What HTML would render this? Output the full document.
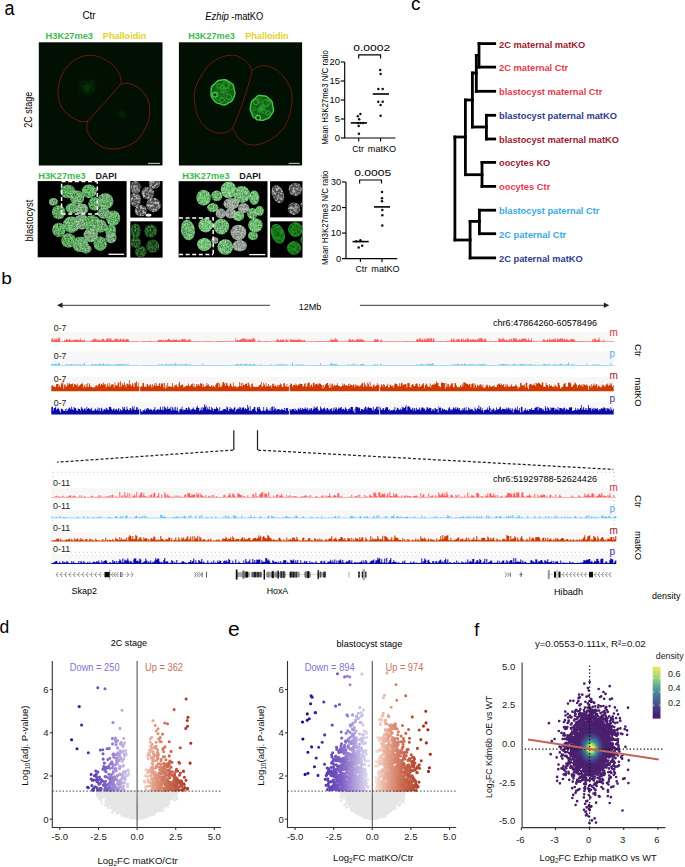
<!DOCTYPE html><html><head><meta charset="utf-8"><style>html,body{margin:0;padding:0;background:#fff;width:685px;height:867px;overflow:hidden}svg text{font-family:"Liberation Sans",sans-serif}</style></head><body><svg width="685" height="867" viewBox="0 0 685 867" style="position:absolute;left:0;top:0">
<rect width="685" height="867" fill="#fff"/>
<defs>
<filter id="spk" x="0" y="0" width="685" height="867" filterUnits="userSpaceOnUse">
 <feTurbulence type="fractalNoise" baseFrequency="0.75" numOctaves="2" seed="4" result="t"/>
 <feColorMatrix in="t" type="matrix" values="0 0 0 0 1  0 0 0 0 1  0 0 0 0 1  0 0 0 3.2 -1.35" result="m"/>
 <feComposite in="m" in2="SourceAlpha" operator="in" result="c"/>
 <feGaussianBlur in="c" stdDeviation="0.35"/>
</filter>
<filter id="spkg" x="0" y="0" width="685" height="867" filterUnits="userSpaceOnUse">
 <feTurbulence type="fractalNoise" baseFrequency="0.6" numOctaves="2" seed="9" result="t"/>
 <feColorMatrix in="t" type="matrix" values="0 0 0 0 0.45  0 0 0 0 0.95  0 0 0 0 0.45  0 0 0 3.0 -1.1" result="m"/>
 <feComposite in="m" in2="SourceAlpha" operator="in"/>
</filter>
<filter id="bl1"><feGaussianBlur stdDeviation="0.5"/></filter>
<filter id="bl4" x="-5%" y="-50%" width="110%" height="200%"><feGaussianBlur stdDeviation="0.4"/></filter>
<filter id="bl7"><feGaussianBlur stdDeviation="0.7"/></filter>
<filter id="mot" x="0" y="0" width="685" height="867" filterUnits="userSpaceOnUse">
 <feTurbulence type="fractalNoise" baseFrequency="0.42" numOctaves="3" seed="12" result="t"/>
 <feColorMatrix in="t" type="matrix" values="0 0 0 0 1  0 0 0 0 1  0 0 0 0 1  0 0 0 3.6 -1.5" result="m"/>
 <feComposite in="m" in2="SourceAlpha" operator="in" result="c"/>
 <feGaussianBlur in="c" stdDeviation="0.45"/>
</filter>
<filter id="motd" x="0" y="0" width="685" height="867" filterUnits="userSpaceOnUse">
 <feTurbulence type="fractalNoise" baseFrequency="0.35" numOctaves="2" seed="31" result="t"/>
 <feColorMatrix in="t" type="matrix" values="0 0 0 0 0  0 0 0 0 0  0 0 0 0 0  0 0 0 3.0 -1.2" result="m"/>
 <feComposite in="m" in2="SourceAlpha" operator="in" result="c"/>
 <feGaussianBlur in="c" stdDeviation="0.5"/>
</filter>
<filter id="bl2"><feGaussianBlur stdDeviation="1.2"/></filter>
<radialGradient id="nucg" cx="50%" cy="50%" r="50%">
 <stop offset="0" stop-color="#1f8f22"/><stop offset="0.78" stop-color="#25a828"/><stop offset="0.9" stop-color="#48e048"/><stop offset="1" stop-color="#2a9a2a" stop-opacity="0.3"/>
</radialGradient>
<radialGradient id="nucf" cx="50%" cy="50%" r="50%">
 <stop offset="0" stop-color="#0e4a10" stop-opacity="0.9"/><stop offset="1" stop-color="#0a300b" stop-opacity="0"/>
</radialGradient>
<linearGradient id="vir" x1="0" y1="1" x2="0" y2="0">
 <stop offset="0" stop-color="#461462"/><stop offset="0.2" stop-color="#463c82"/><stop offset="0.35" stop-color="#46648f"/><stop offset="0.5" stop-color="#4a8496"/>
 <stop offset="0.62" stop-color="#5ea895"/><stop offset="0.75" stop-color="#8ccd84"/><stop offset="0.88" stop-color="#c6df6e"/><stop offset="1" stop-color="#f3e460"/>
</linearGradient>
</defs>
<text x="4.4" y="14.9" font-size="20" fill="#000" font-weight="normal" text-anchor="start" textLength="10" lengthAdjust="spacingAndGlyphs">a</text>
<text x="82.4" y="19.4" font-size="10" fill="#000" font-weight="normal" text-anchor="start" textLength="13.2" lengthAdjust="spacingAndGlyphs">Ctr</text>
<text x="205.2" y="19.5" font-size="10" fill="#000" font-weight="normal" text-anchor="start" font-style="italic" textLength="23.6" lengthAdjust="spacingAndGlyphs">Ezhip</text>
<text x="231.3" y="19.5" font-size="10" fill="#000" font-weight="normal" text-anchor="start" textLength="32" lengthAdjust="spacingAndGlyphs">-matKO</text>
<text x="45.6" y="39" font-size="9.4" fill="#3dba4c" font-weight="bold" text-anchor="start" textLength="47.4" lengthAdjust="spacingAndGlyphs">H3K27me3</text>
<text x="102.8" y="39" font-size="9.4" fill="#e2d21c" font-weight="bold" text-anchor="start" textLength="43.6" lengthAdjust="spacingAndGlyphs">Phalloidin</text>
<text x="188.2" y="39" font-size="9.4" fill="#3dba4c" font-weight="bold" text-anchor="start" textLength="46.7" lengthAdjust="spacingAndGlyphs">H3K27me3</text>
<text x="245.2" y="39" font-size="9.4" fill="#e2d21c" font-weight="bold" text-anchor="start" textLength="43.5" lengthAdjust="spacingAndGlyphs">Phalloidin</text>
<rect x="38.8" y="42.3" width="123.7" height="123.2" fill="#021003"/>
<g filter="url(#bl1)">
<g fill="url(#nucf)" opacity="0.7"><ellipse cx="87.3" cy="87.5" rx="11.0" ry="10.0" transform="rotate(-30 87.3 87.5)"/></g>
<g fill="none" stroke="#124414" stroke-width="0.7" opacity="0.5"><circle cx="84" cy="84" r="3"/><circle cx="91" cy="89" r="2.5"/><circle cx="86" cy="92" r="2.2"/><circle cx="92" cy="82" r="2"/></g>
<g fill="url(#nucf)" opacity="0.5"><ellipse cx="122" cy="114" rx="7.0" ry="6.0" transform="rotate(0 122 114)"/></g>
<g fill="none" stroke="#781a0e" stroke-width="0.9"><path d="M121 79.4 C119.5 71 112 60 94.6 55.7 C84 54 74 58 66 68 C59 77 57 90 58.4 98.6 C60 107 66 116 80 121.4 C84 122 87 121.5 88.2 120.5"/><path d="M88.2 120.5 C98 110 110 97 120.5 84.3 C121.5 82.5 121.5 81 121 79.4"/><path d="M120.5 84.3 C123 83.5 126 83.3 129.2 83.6 C137 85 145 92 148.5 101 C151 110 149.5 121 145.7 127.8 C141 136 137 142 131.1 144.2 C124 148 116 149.5 111 148.8 C103 148.5 95 144 91 138 C87.5 133 86.5 129 86.9 127.8 C86.8 124 87.2 122 88.2 120.5"/></g>
</g>
<path d="M148 163.4 H159.9" stroke="#bbb" stroke-width="1.1"/>
<rect x="178.9" y="42.3" width="123.2" height="123.2" fill="#021003"/>
<g filter="url(#bl1)">
<g fill="none" stroke="#701a0e" stroke-width="0.9"><path d="M251.9 71.2 C251 66 246 59 236.4 55.7 C226 53 212 60 205.4 69.4 C198 80 193 90 194.4 98.6 C195 108 197 116 199.9 120.5 C204 127 212 133 220 133.2 C226 133.5 230 131 232.7 127.8"/><path d="M232.7 127.8 C240 112 247 92 251.9 71.2"/><path d="M251.9 71.2 C255 67.5 259 65.5 263.8 65.7 C271 66 278 70 282 74.8 C289 83 292 90 292 96.7 C292.5 108 289 120 283.8 127.8 C277 137 265 144 254.6 145.1 C246 145.5 240 141 236.4 135.1 C234.5 132 233 130 232.7 127.8"/></g>
</g>
<g filter="url(#bl1)">
<path d="M234.9 92.2 L235.0 93.3 L234.8 94.4 L234.5 95.4 L234.1 96.4 L233.7 97.4 L233.3 98.4 L232.8 99.4 L232.3 100.3 L231.6 101.2 L230.7 101.8 L229.7 102.3 L228.8 102.7 L227.9 103.2 L227.0 103.8 L226.1 104.4 L225.1 104.8 L224.0 105.0 L222.9 104.9 L221.9 104.6 L220.9 104.1 L219.9 103.7 L218.9 103.4 L217.9 103.2 L216.9 102.9 L216.0 102.4 L215.1 101.8 L214.4 101.0 L213.8 100.1 L213.2 99.2 L212.5 98.4 L211.9 97.5 L211.4 96.5 L211.1 95.5 L211.0 94.4 L211.0 93.3 L211.1 92.2 L211.2 91.1 L211.2 90.1 L211.1 88.9 L211.3 87.8 L211.6 86.8 L212.3 85.8 L213.1 85.1 L213.9 84.4 L214.7 83.7 L215.5 83.0 L216.2 82.3 L216.9 81.5 L217.8 80.9 L218.8 80.4 L219.8 80.2 L220.8 80.1 L221.9 80.0 L222.9 79.8 L224.0 79.7 L225.0 79.7 L226.1 80.0 L227.0 80.4 L227.9 81.0 L228.8 81.7 L229.7 82.2 L230.6 82.8 L231.5 83.3 L232.4 84.0 L233.1 84.8 L233.5 85.8 L233.8 87.0 L233.9 88.1 L234.1 89.1 L234.3 90.1 L234.6 91.1Z" fill="#156018" stroke="#42cc44" stroke-width="1.4"/>
<g fill="none" stroke="#2a9a2e" stroke-width="0.7" stroke-opacity="0.8"><circle cx="223.1" cy="96.9" r="1.5"/><circle cx="223.8" cy="90.3" r="2.2"/><circle cx="226.1" cy="90.5" r="2.9"/><circle cx="222.3" cy="87.1" r="2.3"/><circle cx="220.1" cy="90.5" r="3.0"/><circle cx="215.6" cy="97.4" r="2.7"/><circle cx="225.2" cy="92.6" r="2.1"/><circle cx="223.5" cy="90.7" r="2.3"/><circle cx="218.2" cy="97.6" r="2.9"/><circle cx="223.0" cy="90.4" r="2.6"/><circle cx="215.9" cy="95.2" r="2.0"/><circle cx="230.3" cy="87.1" r="2.7"/><circle cx="226.3" cy="85.4" r="2.3"/><circle cx="226.9" cy="100.4" r="2.0"/></g>
<g fill="none" stroke="#33b236" stroke-width="0.8"><circle cx="226" cy="85" r="3.5"/><circle cx="229" cy="97" r="2.6"/><circle cx="219" cy="86" r="2.2"/><circle cx="222" cy="100" r="2.4"/></g>
<circle cx="214.9" cy="94.7" r="2.3" fill="#0c3a0e" stroke="#46d446" stroke-width="1.1"/>
<path d="M273.2 107.9 L273.5 109.0 L273.5 110.1 L273.3 111.2 L272.9 112.2 L272.3 113.1 L271.7 114.0 L271.1 114.9 L270.5 115.7 L269.9 116.6 L269.3 117.4 L268.5 118.1 L267.5 118.5 L266.6 118.9 L265.7 119.2 L264.7 119.6 L263.8 120.0 L262.8 120.3 L261.8 120.4 L260.8 120.3 L259.8 119.9 L258.9 119.5 L258.0 119.0 L257.1 118.7 L256.1 118.5 L255.1 118.2 L254.1 117.7 L253.3 116.9 L252.7 116.0 L252.3 115.0 L251.9 114.0 L251.5 113.0 L251.1 112.1 L250.7 111.1 L250.4 110.1 L250.2 109.0 L250.3 107.9 L250.5 106.8 L250.7 105.8 L250.9 104.8 L251.0 103.7 L251.3 102.6 L251.7 101.6 L252.3 100.8 L253.1 100.1 L253.9 99.4 L254.7 98.8 L255.4 98.1 L256.1 97.3 L256.9 96.5 L257.7 95.9 L258.7 95.5 L259.7 95.5 L260.8 95.5 L261.8 95.7 L262.8 95.8 L263.8 95.9 L264.8 96.0 L265.8 96.2 L266.7 96.7 L267.5 97.3 L268.3 98.0 L269.0 98.7 L269.8 99.3 L270.6 100.0 L271.3 100.8 L271.9 101.6 L272.3 102.7 L272.5 103.7 L272.6 104.8 L272.7 105.8 L272.9 106.9Z" fill="#156018" stroke="#42cc44" stroke-width="1.4"/>
<g fill="none" stroke="#2a9a2e" stroke-width="0.7" stroke-opacity="0.8"><circle cx="262.3" cy="107.8" r="2.5"/><circle cx="253.7" cy="108.8" r="1.9"/><circle cx="263.0" cy="107.2" r="3.0"/><circle cx="260.5" cy="108.8" r="1.8"/><circle cx="261.6" cy="107.7" r="1.9"/><circle cx="262.4" cy="107.9" r="1.5"/><circle cx="262.1" cy="110.4" r="2.6"/><circle cx="255.4" cy="111.9" r="2.8"/><circle cx="268.3" cy="102.5" r="2.2"/><circle cx="258.2" cy="100.8" r="2.2"/><circle cx="264.6" cy="111.6" r="2.2"/><circle cx="262.1" cy="108.7" r="1.5"/><circle cx="259.5" cy="100.8" r="2.4"/><circle cx="261.6" cy="108.0" r="1.2"/></g>
<g fill="none" stroke="#33b236" stroke-width="0.8"><circle cx="266" cy="103" r="3.4"/><circle cx="256" cy="102" r="2.8"/><circle cx="268" cy="113" r="2.2"/><circle cx="260" cy="110" r="2"/></g>
<circle cx="258.1" cy="117.7" r="2.3" fill="#0c3a0e" stroke="#46d446" stroke-width="1.1"/>
</g>
<path d="M288.7 163.4 H299.7" stroke="#bbb" stroke-width="1.1"/>
<text x="32.2" y="127.8" font-size="10.3" fill="#000" font-weight="normal" text-anchor="start" transform="rotate(-90 32.2 127.8)" textLength="36" lengthAdjust="spacingAndGlyphs">2C stage</text>
<text x="38.3" y="179.4" font-size="9.4" fill="#3dba4c" font-weight="bold" text-anchor="start" textLength="47.3" lengthAdjust="spacingAndGlyphs">H3K27me3</text>
<text x="95.4" y="179.4" font-size="9.4" fill="#1a1a1a" font-weight="bold" text-anchor="start" textLength="21.3" lengthAdjust="spacingAndGlyphs">DAPI</text>
<text x="182.3" y="179.4" font-size="9.4" fill="#3dba4c" font-weight="bold" text-anchor="start" textLength="47.3" lengthAdjust="spacingAndGlyphs">H3K27me3</text>
<text x="239.2" y="179.4" font-size="9.4" fill="#1a1a1a" font-weight="bold" text-anchor="start" textLength="21.7" lengthAdjust="spacingAndGlyphs">DAPI</text>
<text x="32.6" y="241.4" font-size="10.3" fill="#000" font-weight="normal" text-anchor="start" transform="rotate(-90 32.6 241.4)" textLength="41.7" lengthAdjust="spacingAndGlyphs">blastocyst</text>
<rect x="37.7" y="181.1" width="88.9" height="76.2" fill="#000"/>
<svg x="37.7" y="181.1" width="88.9" height="76.2" viewBox="37.7 181.1 88.9 76.2" overflow="hidden">
<g filter="url(#bl7)"><g fill="#5cb360"><ellipse cx="67.9" cy="191.5" rx="7.48" ry="6.82" transform="rotate(0 67.9 191.5)" fill="#3a9a40"/><ellipse cx="77" cy="197.5" rx="7.26" ry="7.04" transform="rotate(0 77 197.5)" fill="#4c9c50"/><ellipse cx="89.2" cy="191.2" rx="7.48" ry="6.82" transform="rotate(0 89.2 191.2)" fill="#40a446"/><ellipse cx="53.4" cy="201.7" rx="4.4" ry="3.74" transform="rotate(0 53.4 201.7)" fill="#5a9a5e"/><ellipse cx="58.7" cy="212.2" rx="6.6" ry="7.04" transform="rotate(0 58.7 212.2)" fill="#379439"/><ellipse cx="71.8" cy="208.3" rx="6.16" ry="5.06" transform="rotate(0 71.8 208.3)" fill="#4aa44e"/><ellipse cx="81.7" cy="208.9" rx="6.6" ry="5.5" transform="rotate(0 81.7 208.9)" fill="#68a06a"/><ellipse cx="94.5" cy="203.8" rx="6.16" ry="6.6" transform="rotate(0 94.5 203.8)" fill="#3a9a40"/><ellipse cx="105.3" cy="201.3" rx="8.14" ry="8.14" transform="rotate(0 105.3 201.3)" fill="#4c9c50"/><ellipse cx="113.2" cy="218.1" rx="7.04" ry="7.7" transform="rotate(0 113.2 218.1)" fill="#40a446"/><ellipse cx="103.6" cy="213" rx="6.16" ry="5.5" transform="rotate(0 103.6 213)" fill="#5a9a5e"/><ellipse cx="58.7" cy="229.9" rx="6.6" ry="7.26" transform="rotate(0 58.7 229.9)" fill="#379439"/><ellipse cx="71.2" cy="224.7" rx="8.36" ry="8.14" transform="rotate(0 71.2 224.7)" fill="#4aa44e"/><ellipse cx="81.7" cy="222" rx="7.92" ry="7.48" transform="rotate(0 81.7 222)" fill="#68a06a"/><ellipse cx="92.2" cy="223.4" rx="8.36" ry="8.14" transform="rotate(0 92.2 223.4)" fill="#3a9a40"/><ellipse cx="100.3" cy="226" rx="6.6" ry="6.6" transform="rotate(0 100.3 226)" fill="#4c9c50"/><ellipse cx="110.6" cy="230.6" rx="5.5" ry="6.16" transform="rotate(0 110.6 230.6)" fill="#40a446"/><ellipse cx="111" cy="237.5" rx="5.5" ry="5.72" transform="rotate(0 111 237.5)" fill="#5a9a5e"/><ellipse cx="68.5" cy="240.4" rx="7.26" ry="7.26" transform="rotate(0 68.5 240.4)" fill="#379439"/><ellipse cx="80.4" cy="244.4" rx="8.14" ry="7.7" transform="rotate(0 80.4 244.4)" fill="#4aa44e"/><ellipse cx="90.9" cy="235.2" rx="7.26" ry="7.04" transform="rotate(0 90.9 235.2)" fill="#68a06a"/><ellipse cx="100.2" cy="243.7" rx="6.6" ry="7.26" transform="rotate(0 100.2 243.7)" fill="#3a9a40"/><ellipse cx="86" cy="249" rx="5.5" ry="4.4" transform="rotate(0 86 249)" fill="#4c9c50"/></g></g>
<g fill="#000" filter="url(#motd)" opacity="0.35"><ellipse cx="67.9" cy="191.5" rx="7.48" ry="6.82" transform="rotate(0 67.9 191.5)"/><ellipse cx="77" cy="197.5" rx="7.26" ry="7.04" transform="rotate(0 77 197.5)"/><ellipse cx="89.2" cy="191.2" rx="7.48" ry="6.82" transform="rotate(0 89.2 191.2)"/><ellipse cx="53.4" cy="201.7" rx="4.4" ry="3.74" transform="rotate(0 53.4 201.7)"/><ellipse cx="58.7" cy="212.2" rx="6.6" ry="7.04" transform="rotate(0 58.7 212.2)"/><ellipse cx="71.8" cy="208.3" rx="6.16" ry="5.06" transform="rotate(0 71.8 208.3)"/><ellipse cx="81.7" cy="208.9" rx="6.6" ry="5.5" transform="rotate(0 81.7 208.9)"/><ellipse cx="94.5" cy="203.8" rx="6.16" ry="6.6" transform="rotate(0 94.5 203.8)"/><ellipse cx="105.3" cy="201.3" rx="8.14" ry="8.14" transform="rotate(0 105.3 201.3)"/><ellipse cx="113.2" cy="218.1" rx="7.04" ry="7.7" transform="rotate(0 113.2 218.1)"/><ellipse cx="103.6" cy="213" rx="6.16" ry="5.5" transform="rotate(0 103.6 213)"/><ellipse cx="58.7" cy="229.9" rx="6.6" ry="7.26" transform="rotate(0 58.7 229.9)"/><ellipse cx="71.2" cy="224.7" rx="8.36" ry="8.14" transform="rotate(0 71.2 224.7)"/><ellipse cx="81.7" cy="222" rx="7.92" ry="7.48" transform="rotate(0 81.7 222)"/><ellipse cx="92.2" cy="223.4" rx="8.36" ry="8.14" transform="rotate(0 92.2 223.4)"/><ellipse cx="100.3" cy="226" rx="6.6" ry="6.6" transform="rotate(0 100.3 226)"/><ellipse cx="110.6" cy="230.6" rx="5.5" ry="6.16" transform="rotate(0 110.6 230.6)"/><ellipse cx="111" cy="237.5" rx="5.5" ry="5.72" transform="rotate(0 111 237.5)"/><ellipse cx="68.5" cy="240.4" rx="7.26" ry="7.26" transform="rotate(0 68.5 240.4)"/><ellipse cx="80.4" cy="244.4" rx="8.14" ry="7.7" transform="rotate(0 80.4 244.4)"/><ellipse cx="90.9" cy="235.2" rx="7.26" ry="7.04" transform="rotate(0 90.9 235.2)"/><ellipse cx="100.2" cy="243.7" rx="6.6" ry="7.26" transform="rotate(0 100.2 243.7)"/><ellipse cx="86" cy="249" rx="5.5" ry="4.4" transform="rotate(0 86 249)"/></g>
<g fill="#fff" filter="url(#spk)" opacity="0.45"><ellipse cx="67.9" cy="191.5" rx="7.48" ry="6.82" transform="rotate(0 67.9 191.5)"/><ellipse cx="77" cy="197.5" rx="7.26" ry="7.04" transform="rotate(0 77 197.5)"/><ellipse cx="89.2" cy="191.2" rx="7.48" ry="6.82" transform="rotate(0 89.2 191.2)"/><ellipse cx="53.4" cy="201.7" rx="4.4" ry="3.74" transform="rotate(0 53.4 201.7)"/><ellipse cx="58.7" cy="212.2" rx="6.6" ry="7.04" transform="rotate(0 58.7 212.2)"/><ellipse cx="71.8" cy="208.3" rx="6.16" ry="5.06" transform="rotate(0 71.8 208.3)"/><ellipse cx="81.7" cy="208.9" rx="6.6" ry="5.5" transform="rotate(0 81.7 208.9)"/><ellipse cx="94.5" cy="203.8" rx="6.16" ry="6.6" transform="rotate(0 94.5 203.8)"/><ellipse cx="105.3" cy="201.3" rx="8.14" ry="8.14" transform="rotate(0 105.3 201.3)"/><ellipse cx="113.2" cy="218.1" rx="7.04" ry="7.7" transform="rotate(0 113.2 218.1)"/><ellipse cx="103.6" cy="213" rx="6.16" ry="5.5" transform="rotate(0 103.6 213)"/><ellipse cx="58.7" cy="229.9" rx="6.6" ry="7.26" transform="rotate(0 58.7 229.9)"/><ellipse cx="71.2" cy="224.7" rx="8.36" ry="8.14" transform="rotate(0 71.2 224.7)"/><ellipse cx="81.7" cy="222" rx="7.92" ry="7.48" transform="rotate(0 81.7 222)"/><ellipse cx="92.2" cy="223.4" rx="8.36" ry="8.14" transform="rotate(0 92.2 223.4)"/><ellipse cx="100.3" cy="226" rx="6.6" ry="6.6" transform="rotate(0 100.3 226)"/><ellipse cx="110.6" cy="230.6" rx="5.5" ry="6.16" transform="rotate(0 110.6 230.6)"/><ellipse cx="111" cy="237.5" rx="5.5" ry="5.72" transform="rotate(0 111 237.5)"/><ellipse cx="68.5" cy="240.4" rx="7.26" ry="7.26" transform="rotate(0 68.5 240.4)"/><ellipse cx="80.4" cy="244.4" rx="8.14" ry="7.7" transform="rotate(0 80.4 244.4)"/><ellipse cx="90.9" cy="235.2" rx="7.26" ry="7.04" transform="rotate(0 90.9 235.2)"/><ellipse cx="100.2" cy="243.7" rx="6.6" ry="7.26" transform="rotate(0 100.2 243.7)"/><ellipse cx="86" cy="249" rx="5.5" ry="4.4" transform="rotate(0 86 249)"/></g>
<g fill="#fff" filter="url(#spkg)" opacity="0.4"><ellipse cx="67.9" cy="191.5" rx="7.48" ry="6.82" transform="rotate(0 67.9 191.5)"/><ellipse cx="77" cy="197.5" rx="7.26" ry="7.04" transform="rotate(0 77 197.5)"/><ellipse cx="89.2" cy="191.2" rx="7.48" ry="6.82" transform="rotate(0 89.2 191.2)"/><ellipse cx="53.4" cy="201.7" rx="4.4" ry="3.74" transform="rotate(0 53.4 201.7)"/><ellipse cx="58.7" cy="212.2" rx="6.6" ry="7.04" transform="rotate(0 58.7 212.2)"/><ellipse cx="71.8" cy="208.3" rx="6.16" ry="5.06" transform="rotate(0 71.8 208.3)"/><ellipse cx="81.7" cy="208.9" rx="6.6" ry="5.5" transform="rotate(0 81.7 208.9)"/><ellipse cx="94.5" cy="203.8" rx="6.16" ry="6.6" transform="rotate(0 94.5 203.8)"/><ellipse cx="105.3" cy="201.3" rx="8.14" ry="8.14" transform="rotate(0 105.3 201.3)"/><ellipse cx="113.2" cy="218.1" rx="7.04" ry="7.7" transform="rotate(0 113.2 218.1)"/><ellipse cx="103.6" cy="213" rx="6.16" ry="5.5" transform="rotate(0 103.6 213)"/><ellipse cx="58.7" cy="229.9" rx="6.6" ry="7.26" transform="rotate(0 58.7 229.9)"/><ellipse cx="71.2" cy="224.7" rx="8.36" ry="8.14" transform="rotate(0 71.2 224.7)"/><ellipse cx="81.7" cy="222" rx="7.92" ry="7.48" transform="rotate(0 81.7 222)"/><ellipse cx="92.2" cy="223.4" rx="8.36" ry="8.14" transform="rotate(0 92.2 223.4)"/><ellipse cx="100.3" cy="226" rx="6.6" ry="6.6" transform="rotate(0 100.3 226)"/><ellipse cx="110.6" cy="230.6" rx="5.5" ry="6.16" transform="rotate(0 110.6 230.6)"/><ellipse cx="111" cy="237.5" rx="5.5" ry="5.72" transform="rotate(0 111 237.5)"/><ellipse cx="68.5" cy="240.4" rx="7.26" ry="7.26" transform="rotate(0 68.5 240.4)"/><ellipse cx="80.4" cy="244.4" rx="8.14" ry="7.7" transform="rotate(0 80.4 244.4)"/><ellipse cx="90.9" cy="235.2" rx="7.26" ry="7.04" transform="rotate(0 90.9 235.2)"/><ellipse cx="100.2" cy="243.7" rx="6.6" ry="7.26" transform="rotate(0 100.2 243.7)"/><ellipse cx="86" cy="249" rx="5.5" ry="4.4" transform="rotate(0 86 249)"/></g>
</svg>
<path d="M61.6 214.1 V181.5 M61.6 214.1 H97.3 V181.5 M61.6 181.6 H97.3" stroke="#fff" stroke-width="1.5" stroke-dasharray="4 2.6" fill="none"/>
<path d="M108.5 254.3 H124.1" stroke="#fff" stroke-width="1.3"/>
<rect x="130.3" y="181.1" width="32.3" height="36.5" fill="#000"/>
<svg x="130.3" y="181.1" width="32.3" height="36.5" viewBox="130.3 181.1 32.3 36.5" overflow="hidden">
<g filter="url(#bl1)"><g fill="#4c4c4c"><ellipse cx="135.6" cy="187.5" rx="5.06" ry="6.6" transform="rotate(0 135.6 187.5)"/><ellipse cx="147.8" cy="193.1" rx="6.38" ry="6.38" transform="rotate(0 147.8 193.1)"/><ellipse cx="154.5" cy="183.7" rx="5.72" ry="5.06" transform="rotate(0 154.5 183.7)"/><ellipse cx="135.6" cy="199.7" rx="5.28" ry="7.26" transform="rotate(0 135.6 199.7)"/><ellipse cx="153.5" cy="204.9" rx="7.26" ry="7.26" transform="rotate(0 153.5 204.9)"/><ellipse cx="140.8" cy="210.6" rx="5.94" ry="5.72" transform="rotate(0 140.8 210.6)"/></g><ellipse cx="148.5" cy="215" rx="3" ry="1.6" fill="#eee"/></g>
<g fill="#fff" filter="url(#mot)" opacity="0.6"><ellipse cx="135.6" cy="187.5" rx="5.06" ry="6.6" transform="rotate(0 135.6 187.5)"/><ellipse cx="147.8" cy="193.1" rx="6.38" ry="6.38" transform="rotate(0 147.8 193.1)"/><ellipse cx="154.5" cy="183.7" rx="5.72" ry="5.06" transform="rotate(0 154.5 183.7)"/><ellipse cx="135.6" cy="199.7" rx="5.28" ry="7.26" transform="rotate(0 135.6 199.7)"/><ellipse cx="153.5" cy="204.9" rx="7.26" ry="7.26" transform="rotate(0 153.5 204.9)"/><ellipse cx="140.8" cy="210.6" rx="5.94" ry="5.72" transform="rotate(0 140.8 210.6)"/></g>
</svg>
<rect x="130.3" y="221.3" width="32.3" height="36.3" fill="#000"/>
<svg x="130.3" y="221.3" width="32.3" height="36.3" viewBox="130.3 221.3 32.3 36.3" overflow="hidden">
<g filter="url(#bl1)"><g fill="#0c3a0d"><ellipse cx="135.6" cy="231" rx="5.06" ry="7.7" transform="rotate(0 135.6 231)"/><ellipse cx="150.7" cy="231" rx="6.38" ry="6.6" transform="rotate(0 150.7 231)"/><ellipse cx="135.6" cy="242.3" rx="5.28" ry="5.5" transform="rotate(0 135.6 242.3)"/><ellipse cx="152.6" cy="246" rx="6.6" ry="6.6" transform="rotate(0 152.6 246)"/><ellipse cx="140.8" cy="251.7" rx="5.94" ry="5.72" transform="rotate(0 140.8 251.7)"/></g></g>
<g fill="#fff" filter="url(#spkg)" opacity="0.35"><ellipse cx="135.6" cy="231" rx="5.06" ry="7.7" transform="rotate(0 135.6 231)"/><ellipse cx="150.7" cy="231" rx="6.38" ry="6.6" transform="rotate(0 150.7 231)"/><ellipse cx="135.6" cy="242.3" rx="5.28" ry="5.5" transform="rotate(0 135.6 242.3)"/><ellipse cx="152.6" cy="246" rx="6.6" ry="6.6" transform="rotate(0 152.6 246)"/><ellipse cx="140.8" cy="251.7" rx="5.94" ry="5.72" transform="rotate(0 140.8 251.7)"/></g>
</svg>
<rect x="178.6" y="181.2" width="88.9" height="76.2" fill="#000"/>
<svg x="178.6" y="181.2" width="88.9" height="76.2" viewBox="178.6 181.2 88.9 76.2" overflow="hidden">
<g filter="url(#bl7)"><g fill="#52b556"><ellipse cx="203.6" cy="197.7" rx="7.13" ry="7.78" transform="rotate(0 203.6 197.7)" fill="#4bb050"/><ellipse cx="216.8" cy="195.8" rx="5.62" ry="5.18" transform="rotate(0 216.8 195.8)" fill="#45a24a"/><ellipse cx="228.6" cy="189.9" rx="7.78" ry="8.42" transform="rotate(0 228.6 189.9)" fill="#5cba60"/><ellipse cx="241.7" cy="194.5" rx="8.53" ry="8.53" transform="rotate(0 241.7 194.5)" fill="#50a854"/><ellipse cx="254.2" cy="197.7" rx="5.18" ry="7.13" transform="rotate(0 254.2 197.7)" fill="#4bb050"/><ellipse cx="212.8" cy="207.6" rx="5.62" ry="4.32" transform="rotate(0 212.8 207.6)" fill="#45a24a"/><ellipse cx="238.4" cy="216.1" rx="5.62" ry="4.97" transform="rotate(0 238.4 216.1)" fill="#5cba60"/><ellipse cx="252.2" cy="213.5" rx="4.97" ry="5.62" transform="rotate(0 252.2 213.5)" fill="#50a854"/><ellipse cx="259.5" cy="210.9" rx="4.32" ry="4.97" transform="rotate(0 259.5 210.9)" fill="#4bb050"/><ellipse cx="187.9" cy="230" rx="6.91" ry="10.37" transform="rotate(-10 187.9 230)" fill="#45a24a"/><ellipse cx="205.6" cy="225.3" rx="7.13" ry="7.13" transform="rotate(0 205.6 225.3)" fill="#5cba60"/><ellipse cx="221.4" cy="226.6" rx="7.78" ry="7.78" transform="rotate(0 221.4 226.6)" fill="#50a854"/><ellipse cx="255.5" cy="225.3" rx="7.13" ry="7.13" transform="rotate(0 255.5 225.3)" fill="#4bb050"/><ellipse cx="252.9" cy="235.8" rx="4.97" ry="4.32" transform="rotate(0 252.9 235.8)" fill="#45a24a"/><ellipse cx="204.3" cy="244.4" rx="7.13" ry="6.48" transform="rotate(0 204.3 244.4)" fill="#5cba60"/><ellipse cx="225.3" cy="247" rx="7.78" ry="7.78" transform="rotate(0 225.3 247)" fill="#50a854"/></g><g fill="#98a498"><ellipse cx="231.2" cy="203.7" rx="7.78" ry="5.62" transform="rotate(0 231.2 203.7)"/><ellipse cx="220.7" cy="213.5" rx="4.97" ry="4.97" transform="rotate(0 220.7 213.5)"/><ellipse cx="230.6" cy="213.5" rx="5.62" ry="4.97" transform="rotate(0 230.6 213.5)"/><ellipse cx="243.7" cy="208.3" rx="5.62" ry="4.97" transform="rotate(0 243.7 208.3)"/><ellipse cx="238.4" cy="232.6" rx="7.78" ry="7.78" transform="rotate(0 238.4 232.6)"/><ellipse cx="239.8" cy="245.7" rx="7.13" ry="5.62" transform="rotate(0 239.8 245.7)"/><ellipse cx="214.8" cy="240.4" rx="3.46" ry="3.24" transform="rotate(0 214.8 240.4)"/></g></g>
<g fill="#000" filter="url(#motd)" opacity="0.3"><ellipse cx="203.6" cy="197.7" rx="7.13" ry="7.78" transform="rotate(0 203.6 197.7)"/><ellipse cx="216.8" cy="195.8" rx="5.62" ry="5.18" transform="rotate(0 216.8 195.8)"/><ellipse cx="228.6" cy="189.9" rx="7.78" ry="8.42" transform="rotate(0 228.6 189.9)"/><ellipse cx="241.7" cy="194.5" rx="8.53" ry="8.53" transform="rotate(0 241.7 194.5)"/><ellipse cx="254.2" cy="197.7" rx="5.18" ry="7.13" transform="rotate(0 254.2 197.7)"/><ellipse cx="212.8" cy="207.6" rx="5.62" ry="4.32" transform="rotate(0 212.8 207.6)"/><ellipse cx="238.4" cy="216.1" rx="5.62" ry="4.97" transform="rotate(0 238.4 216.1)"/><ellipse cx="252.2" cy="213.5" rx="4.97" ry="5.62" transform="rotate(0 252.2 213.5)"/><ellipse cx="259.5" cy="210.9" rx="4.32" ry="4.97" transform="rotate(0 259.5 210.9)"/><ellipse cx="187.9" cy="230" rx="6.91" ry="10.37" transform="rotate(-10 187.9 230)"/><ellipse cx="205.6" cy="225.3" rx="7.13" ry="7.13" transform="rotate(0 205.6 225.3)"/><ellipse cx="221.4" cy="226.6" rx="7.78" ry="7.78" transform="rotate(0 221.4 226.6)"/><ellipse cx="255.5" cy="225.3" rx="7.13" ry="7.13" transform="rotate(0 255.5 225.3)"/><ellipse cx="252.9" cy="235.8" rx="4.97" ry="4.32" transform="rotate(0 252.9 235.8)"/><ellipse cx="204.3" cy="244.4" rx="7.13" ry="6.48" transform="rotate(0 204.3 244.4)"/><ellipse cx="225.3" cy="247" rx="7.78" ry="7.78" transform="rotate(0 225.3 247)"/><ellipse cx="231.2" cy="203.7" rx="7.78" ry="5.62" transform="rotate(0 231.2 203.7)"/><ellipse cx="220.7" cy="213.5" rx="4.97" ry="4.97" transform="rotate(0 220.7 213.5)"/><ellipse cx="230.6" cy="213.5" rx="5.62" ry="4.97" transform="rotate(0 230.6 213.5)"/><ellipse cx="243.7" cy="208.3" rx="5.62" ry="4.97" transform="rotate(0 243.7 208.3)"/><ellipse cx="238.4" cy="232.6" rx="7.78" ry="7.78" transform="rotate(0 238.4 232.6)"/><ellipse cx="239.8" cy="245.7" rx="7.13" ry="5.62" transform="rotate(0 239.8 245.7)"/><ellipse cx="214.8" cy="240.4" rx="3.46" ry="3.24" transform="rotate(0 214.8 240.4)"/></g>
<g fill="#fff" filter="url(#spk)" opacity="0.45"><ellipse cx="203.6" cy="197.7" rx="7.13" ry="7.78" transform="rotate(0 203.6 197.7)"/><ellipse cx="216.8" cy="195.8" rx="5.62" ry="5.18" transform="rotate(0 216.8 195.8)"/><ellipse cx="228.6" cy="189.9" rx="7.78" ry="8.42" transform="rotate(0 228.6 189.9)"/><ellipse cx="241.7" cy="194.5" rx="8.53" ry="8.53" transform="rotate(0 241.7 194.5)"/><ellipse cx="254.2" cy="197.7" rx="5.18" ry="7.13" transform="rotate(0 254.2 197.7)"/><ellipse cx="212.8" cy="207.6" rx="5.62" ry="4.32" transform="rotate(0 212.8 207.6)"/><ellipse cx="238.4" cy="216.1" rx="5.62" ry="4.97" transform="rotate(0 238.4 216.1)"/><ellipse cx="252.2" cy="213.5" rx="4.97" ry="5.62" transform="rotate(0 252.2 213.5)"/><ellipse cx="259.5" cy="210.9" rx="4.32" ry="4.97" transform="rotate(0 259.5 210.9)"/><ellipse cx="187.9" cy="230" rx="6.91" ry="10.37" transform="rotate(-10 187.9 230)"/><ellipse cx="205.6" cy="225.3" rx="7.13" ry="7.13" transform="rotate(0 205.6 225.3)"/><ellipse cx="221.4" cy="226.6" rx="7.78" ry="7.78" transform="rotate(0 221.4 226.6)"/><ellipse cx="255.5" cy="225.3" rx="7.13" ry="7.13" transform="rotate(0 255.5 225.3)"/><ellipse cx="252.9" cy="235.8" rx="4.97" ry="4.32" transform="rotate(0 252.9 235.8)"/><ellipse cx="204.3" cy="244.4" rx="7.13" ry="6.48" transform="rotate(0 204.3 244.4)"/><ellipse cx="225.3" cy="247" rx="7.78" ry="7.78" transform="rotate(0 225.3 247)"/><ellipse cx="231.2" cy="203.7" rx="7.78" ry="5.62" transform="rotate(0 231.2 203.7)"/><ellipse cx="220.7" cy="213.5" rx="4.97" ry="4.97" transform="rotate(0 220.7 213.5)"/><ellipse cx="230.6" cy="213.5" rx="5.62" ry="4.97" transform="rotate(0 230.6 213.5)"/><ellipse cx="243.7" cy="208.3" rx="5.62" ry="4.97" transform="rotate(0 243.7 208.3)"/><ellipse cx="238.4" cy="232.6" rx="7.78" ry="7.78" transform="rotate(0 238.4 232.6)"/><ellipse cx="239.8" cy="245.7" rx="7.13" ry="5.62" transform="rotate(0 239.8 245.7)"/><ellipse cx="214.8" cy="240.4" rx="3.46" ry="3.24" transform="rotate(0 214.8 240.4)"/></g>
<g fill="#fff" filter="url(#spkg)" opacity="0.5"><ellipse cx="203.6" cy="197.7" rx="7.13" ry="7.78" transform="rotate(0 203.6 197.7)"/><ellipse cx="216.8" cy="195.8" rx="5.62" ry="5.18" transform="rotate(0 216.8 195.8)"/><ellipse cx="228.6" cy="189.9" rx="7.78" ry="8.42" transform="rotate(0 228.6 189.9)"/><ellipse cx="241.7" cy="194.5" rx="8.53" ry="8.53" transform="rotate(0 241.7 194.5)"/><ellipse cx="254.2" cy="197.7" rx="5.18" ry="7.13" transform="rotate(0 254.2 197.7)"/><ellipse cx="212.8" cy="207.6" rx="5.62" ry="4.32" transform="rotate(0 212.8 207.6)"/><ellipse cx="238.4" cy="216.1" rx="5.62" ry="4.97" transform="rotate(0 238.4 216.1)"/><ellipse cx="252.2" cy="213.5" rx="4.97" ry="5.62" transform="rotate(0 252.2 213.5)"/><ellipse cx="259.5" cy="210.9" rx="4.32" ry="4.97" transform="rotate(0 259.5 210.9)"/><ellipse cx="187.9" cy="230" rx="6.91" ry="10.37" transform="rotate(-10 187.9 230)"/><ellipse cx="205.6" cy="225.3" rx="7.13" ry="7.13" transform="rotate(0 205.6 225.3)"/><ellipse cx="221.4" cy="226.6" rx="7.78" ry="7.78" transform="rotate(0 221.4 226.6)"/><ellipse cx="255.5" cy="225.3" rx="7.13" ry="7.13" transform="rotate(0 255.5 225.3)"/><ellipse cx="252.9" cy="235.8" rx="4.97" ry="4.32" transform="rotate(0 252.9 235.8)"/><ellipse cx="204.3" cy="244.4" rx="7.13" ry="6.48" transform="rotate(0 204.3 244.4)"/><ellipse cx="225.3" cy="247" rx="7.78" ry="7.78" transform="rotate(0 225.3 247)"/></g>
</svg>
<path d="M179 218 H213.2 V254.6 M179 254.6 H213.2" stroke="#fff" stroke-width="1.5" stroke-dasharray="4 2.6" fill="none"/>
<path d="M249.3 254.6 H265.3" stroke="#fff" stroke-width="1.3"/>
<rect x="270.1" y="181.2" width="32.4" height="36.2" fill="#000"/>
<svg x="270.1" y="181.2" width="32.4" height="36.2" viewBox="270.1 181.2 32.4 36.2" overflow="hidden">
<g filter="url(#bl1)"><g fill="#4c4c4c"><ellipse cx="277.9" cy="194.1" rx="5.7" ry="9.3" transform="rotate(-20 277.9 194.1)"/><ellipse cx="295.4" cy="189.3" rx="6.6" ry="6.6" transform="rotate(0 295.4 189.3)"/><ellipse cx="294" cy="208.7" rx="6.2" ry="6.2" transform="rotate(0 294 208.7)"/><ellipse cx="302.5" cy="204.5" rx="2.0" ry="2.5" transform="rotate(0 302.5 204.5)"/></g></g>
<g fill="#fff" filter="url(#mot)" opacity="0.6"><ellipse cx="277.9" cy="194.1" rx="5.7" ry="9.3" transform="rotate(-20 277.9 194.1)"/><ellipse cx="295.4" cy="189.3" rx="6.6" ry="6.6" transform="rotate(0 295.4 189.3)"/><ellipse cx="294" cy="208.7" rx="6.2" ry="6.2" transform="rotate(0 294 208.7)"/><ellipse cx="302.5" cy="204.5" rx="2.0" ry="2.5" transform="rotate(0 302.5 204.5)"/></g>
</svg>
<rect x="270.1" y="221.3" width="32.4" height="36.3" fill="#000"/>
<svg x="270.1" y="221.3" width="32.4" height="36.3" viewBox="270.1 221.3 32.4 36.3" overflow="hidden">
<g filter="url(#bl7)"><g fill="#1f8a1f" stroke="#2aa02a" stroke-width="1.0"><ellipse cx="277.9" cy="233.8" rx="6.0" ry="9.6" transform="rotate(-20 277.9 233.8)"/><ellipse cx="295.4" cy="229.5" rx="6.8" ry="6.8" transform="rotate(0 295.4 229.5)"/><ellipse cx="294" cy="248" rx="6.4" ry="6.2" transform="rotate(0 294 248)"/><ellipse cx="302.5" cy="240" rx="1.6" ry="3.0" transform="rotate(0 302.5 240)"/></g></g>
<g fill="#000" filter="url(#motd)" opacity="0.4"><ellipse cx="277.9" cy="233.8" rx="6.0" ry="9.6" transform="rotate(-20 277.9 233.8)"/><ellipse cx="295.4" cy="229.5" rx="6.8" ry="6.8" transform="rotate(0 295.4 229.5)"/><ellipse cx="294" cy="248" rx="6.4" ry="6.2" transform="rotate(0 294 248)"/><ellipse cx="302.5" cy="240" rx="1.6" ry="3.0" transform="rotate(0 302.5 240)"/></g>
</svg>
<g stroke="#000" stroke-width="1.15" fill="none">
<path d="M344.7 62 V138 H395.5"/>
<path d="M340.7 138.00 H344.7"/>
<path d="M340.7 119.00 H344.7"/>
<path d="M340.7 100.00 H344.7"/>
<path d="M340.7 81.00 H344.7"/>
<path d="M340.7 62.00 H344.7"/>
<path d="M358.7 138 V141.5"/>
<path d="M380.6 138 V141.5"/>
<path d="M358.7 58.6 V54.9 H380.6 V58.6"/>
</g>
<text x="339.9" y="141.3" font-size="9.4" fill="#000" font-weight="normal" text-anchor="end">0</text>
<text x="339.9" y="122.3" font-size="9.4" fill="#000" font-weight="normal" text-anchor="end">5</text>
<text x="339.9" y="103.3" font-size="9.4" fill="#000" font-weight="normal" text-anchor="end">10</text>
<text x="339.9" y="84.3" font-size="9.4" fill="#000" font-weight="normal" text-anchor="end">15</text>
<text x="339.9" y="65.3" font-size="9.4" fill="#000" font-weight="normal" text-anchor="end">20</text>
<text x="371.75" y="50.699999999999996" font-size="8.6" fill="#000" font-weight="normal" text-anchor="middle" textLength="37" lengthAdjust="spacingAndGlyphs">0.0002</text>
<path d="M350.8 122.9 H367" stroke="#000" stroke-width="1.6"/>
<path d="M372.7 94 H389" stroke="#000" stroke-width="1.6"/>
<circle cx="380.2" cy="69.9" r="1.25" fill="#111"/>
<circle cx="380.6" cy="74.1" r="1.25" fill="#111"/>
<circle cx="378.3" cy="89.0" r="1.25" fill="#111"/>
<circle cx="382.7" cy="89.0" r="1.25" fill="#111"/>
<circle cx="378.3" cy="101.8" r="1.25" fill="#111"/>
<circle cx="382.7" cy="101.8" r="1.25" fill="#111"/>
<circle cx="380.6" cy="105.0" r="1.25" fill="#111"/>
<circle cx="380.6" cy="115.8" r="1.25" fill="#111"/>
<circle cx="360.4" cy="114.1" r="1.25" fill="#111"/>
<circle cx="357.8" cy="116.2" r="1.25" fill="#111"/>
<circle cx="359.2" cy="119.3" r="1.25" fill="#111"/>
<circle cx="357.8" cy="122.9" r="1.25" fill="#111"/>
<circle cx="360.4" cy="122.9" r="1.25" fill="#111"/>
<circle cx="363.1" cy="122.9" r="1.25" fill="#111"/>
<circle cx="358.7" cy="126.0" r="1.25" fill="#111"/>
<circle cx="358.9" cy="133.7" r="1.25" fill="#111"/>
<text x="352.2" y="151.6" font-size="9.6" fill="#000" font-weight="normal" text-anchor="start" textLength="11.6" lengthAdjust="spacingAndGlyphs">Ctr</text>
<text x="367.8" y="151.6" font-size="9.6" fill="#000" font-weight="normal" text-anchor="start" textLength="28.4" lengthAdjust="spacingAndGlyphs">matKO</text>
<text x="327.7" y="144.7" font-size="8.4" fill="#000" font-weight="normal" text-anchor="start" transform="rotate(-90 327.7 144.7)" textLength="94.5" lengthAdjust="spacingAndGlyphs">Mean H3K27me3 N/C ratio</text>
<g stroke="#000" stroke-width="1.15" fill="none">
<path d="M346 182 V258.6 H397.2"/>
<path d="M342 258.60 H346"/>
<path d="M342 233.07 H346"/>
<path d="M342 207.53 H346"/>
<path d="M342 182.00 H346"/>
<path d="M360.4 258.6 V262.1"/>
<path d="M382 258.6 V262.1"/>
<path d="M359.6 183.5 V180 H381.5 V183.5"/>
</g>
<text x="341.2" y="261.9" font-size="9.4" fill="#000" font-weight="normal" text-anchor="end">0</text>
<text x="341.2" y="236.37" font-size="9.4" fill="#000" font-weight="normal" text-anchor="end">10</text>
<text x="341.2" y="210.83" font-size="9.4" fill="#000" font-weight="normal" text-anchor="end">20</text>
<text x="341.2" y="185.3" font-size="9.4" fill="#000" font-weight="normal" text-anchor="end">30</text>
<text x="372.65000000000003" y="175.8" font-size="8.6" fill="#000" font-weight="normal" text-anchor="middle" textLength="37" lengthAdjust="spacingAndGlyphs">0.0005</text>
<path d="M352.6 241.6 H368.7" stroke="#000" stroke-width="1.6"/>
<path d="M374 206.9 H390" stroke="#000" stroke-width="1.6"/>
<circle cx="382.0" cy="191.9" r="1.25" fill="#111"/>
<circle cx="382.0" cy="198.2" r="1.25" fill="#111"/>
<circle cx="382.0" cy="201.3" r="1.25" fill="#111"/>
<circle cx="382.3" cy="210.1" r="1.25" fill="#111"/>
<circle cx="382.3" cy="215.3" r="1.25" fill="#111"/>
<circle cx="382.3" cy="225.5" r="1.25" fill="#111"/>
<circle cx="356.4" cy="241.3" r="1.25" fill="#111"/>
<circle cx="360.4" cy="240.2" r="1.25" fill="#111"/>
<circle cx="358.7" cy="247.6" r="1.25" fill="#111"/>
<circle cx="362.2" cy="245.8" r="1.25" fill="#111"/>
<text x="355.6" y="271.9" font-size="9.6" fill="#000" font-weight="normal" text-anchor="start" textLength="11.6" lengthAdjust="spacingAndGlyphs">Ctr</text>
<text x="371.3" y="271.9" font-size="9.6" fill="#000" font-weight="normal" text-anchor="start" textLength="28.4" lengthAdjust="spacingAndGlyphs">matKO</text>
<text x="327.7" y="265" font-size="8.4" fill="#000" font-weight="normal" text-anchor="start" transform="rotate(-90 327.7 265)" textLength="94.5" lengthAdjust="spacingAndGlyphs">Mean H3K27me3 N/C ratio</text>
<text x="1.2" y="284.4" font-size="16.5" fill="#000" font-weight="normal" text-anchor="start" textLength="10.6" lengthAdjust="spacingAndGlyphs">b</text>
<g stroke="#222" stroke-width="0.9" fill="none"><path d="M60 305.3 H270"/><path d="M359.9 305.3 H604"/></g>
<path d="M57 305.3 L62.5 302.6 L62.5 308 Z" fill="#222"/><path d="M609.3 305.3 L603.8 302.6 L603.8 308 Z" fill="#222"/>
<text x="298.8" y="310" font-size="8.8" fill="#000" font-weight="normal" text-anchor="start" textLength="22.6" lengthAdjust="spacingAndGlyphs">12Mb</text>
<text x="597" y="326" font-size="8.8" fill="#000" font-weight="normal" text-anchor="end" textLength="104" lengthAdjust="spacingAndGlyphs">chr6:47864260-60578496</text>
<rect x="51.3" y="331.7" width="562.6" height="10.2" fill="#f7f7f7"/>
<path d="M51.3 341.9V338.9h.8V337.9h.8V339.7h.8V340.6h.8V338.2h.8V339.6h.8V338.6h.8V340.0h.8V337.8h.8V338.4h.8V337.6h.8V341.4h.8V341.4h.8V341.3h.8V341.4h.8V341.3h.8V339.7h.8V340.7h.8V339.6h.8V338.8h.8V340.0h.8V339.9h.8V339.2h.8V339.1h.8V340.5h.8V340.3h.8V340.5h.8V339.9h.8V339.6h.8V339.8h.8V340.0h.8V339.2h.8V340.0h.8V339.6h.8V340.3h.8V339.9h.8V338.5h.8V340.2h.8V340.6h.8V339.9h.8V340.5h.8V339.4h.8V341.4h.8V341.3h.8V341.2h.8V341.4h.8V341.4h.8V341.4h.8V340.9h.8V341.4h.8V340.0h.8V340.5h.8V339.1h.8V339.0h.8V338.3h.8V339.6h.8V339.4h.8V340.6h.8V339.1h.8V340.5h.8V339.7h.8V340.1h.8V340.6h.8V338.5h.8V338.9h.8V338.9h.8V340.5h.8V340.6h.8V339.8h.8V338.6h.8V338.2h.8V338.5h.8V339.7h.8V338.1h.8V338.6h.8V339.8h.8V340.3h.8V340.5h.8V340.1h.8V338.7h.8V339.1h.8V338.9h.8V338.4h.8V340.6h.8V338.8h.8V340.0h.8V338.6h.8V338.9h.8V340.2h.8V339.1h.8V338.6h.8V340.1h.8V340.1h.8V338.7h.8V339.3h.8V338.9h.8V339.4h.8V341.3h.8V341.2h.8V341.4h.8V341.4h.8V341.3h.8V341.4h.8V341.2h.8V341.4h.8V341.3h.8V341.3h.8V341.4h.8V341.4h.8V341.3h.8V341.9h.8V341.4h.8V341.4h.8V341.3h.8V341.3h.8V341.2h.8V341.3h.8V341.3h.8V341.3h.8V341.4h.8V341.4h.8V341.2h.8V341.4h.8V340.6h.8V341.4h.8V341.3h.8V341.4h.8V341.4h.8V341.3h.8V341.4h.8V341.4h.8V341.4h.8V341.4h.8V340.0h.8V339.5h.8V340.2h.8V340.0h.8V339.8h.8V339.8h.8V340.7h.8V339.7h.8V340.7h.8V340.1h.8V339.8h.8V340.2h.8V339.5h.8V338.8h.8V339.1h.8V340.0h.8V339.9h.8V339.9h.8V340.3h.8V339.2h.8V339.8h.8V339.6h.8V340.1h.8V339.3h.8V340.4h.8V340.0h.8V340.3h.8V339.8h.8V340.7h.8V339.2h.8V338.9h.8V339.1h.8V339.4h.8V339.0h.8V339.4h.8V340.4h.8V339.3h.8V340.4h.8V339.9h.8V339.5h.8V339.3h.8V340.8h.8V341.4h.8V341.4h.8V341.2h.8V341.2h.8V341.2h.8V341.4h.8V341.3h.8V341.4h.8V341.2h.8V341.3h.8V341.3h.8V341.4h.8V341.4h.8V341.3h.8V341.4h.8V341.4h.8V341.4h.8V341.3h.8V341.4h.8V341.2h.8V341.3h.8V341.3h.8V341.3h.8V341.4h.8V341.4h.8V341.3h.8V341.4h.8V341.4h.8V341.3h.8V341.4h.8V341.4h.8V341.3h.8V341.2h.8V341.2h.8V341.3h.8V341.2h.8V341.4h.8V341.3h.8V341.3h.8V341.3h.8V341.2h.8V341.3h.8V341.4h.8V341.3h.8V341.2h.8V341.2h.8V341.4h.8V341.2h.8V341.4h.8V341.4h.8V341.3h.8V341.4h.8V341.2h.8V341.4h.8V341.4h.8V338.3h.8V340.5h.8V339.7h.8V340.2h.8V340.3h.8V340.0h.8V339.4h.8V338.8h.8V339.2h.8V338.5h.8V338.0h.8V339.1h.8V338.7h.8V339.7h.8V338.5h.8V340.2h.8V339.5h.8V338.9h.8V339.6h.8V339.5h.8V338.8h.8V339.6h.8V337.5h.8V338.5h.8V339.3h.8V341.4h.8V341.4h.8V341.4h.8V341.4h.8V339.7h.8V341.2h.8V341.3h.8V341.3h.8V341.4h.8V341.4h.8V341.3h.8V341.4h.8V341.3h.8V340.9h.8V341.3h.8V341.4h.8V341.3h.8V341.4h.8V341.4h.8V341.2h.8V341.4h.8V341.4h.8V341.4h.8V341.4h.8V341.4h.8V341.3h.8V340.1h.8V338.8h.8V340.2h.8V339.8h.8V340.7h.8V339.8h.8V339.4h.8V340.0h.8V339.4h.8V339.6h.8V340.7h.8V340.7h.8V338.7h.8V339.8h.8V339.9h.8V340.6h.8V341.9h.8V338.9h.8V340.0h.8V339.1h.8V340.0h.8V339.4h.8V339.4h.8V340.1h.8V339.7h.8V339.9h.8V340.0h.8V339.3h.8V339.2h.8V339.5h.8V339.7h.8V340.5h.8V339.5h.8V340.5h.8V340.5h.8V339.8h.8V341.3h.8V341.3h.8V341.4h.8V341.4h.8V341.4h.8V341.4h.8V341.2h.8V341.3h.8V341.3h.8V341.4h.8V341.4h.8V341.2h.8V341.4h.8V341.3h.8V341.3h.8V341.2h.8V341.4h.8V341.2h.8V341.3h.8V341.3h.8V341.3h.8V341.2h.8V341.4h.8V341.2h.8V341.4h.8V341.3h.8V341.3h.8V341.2h.8V341.3h.8V341.2h.8V341.2h.8V340.5h.8V338.8h.8V339.7h.8V339.8h.8V339.8h.8V339.6h.8V339.6h.8V337.9h.8V339.6h.8V339.1h.8V341.2h.8V341.2h.8V341.4h.8V341.2h.8V341.4h.8V341.2h.8V341.2h.8V341.4h.8V341.3h.8V341.4h.8V341.4h.8V341.4h.8V341.3h.8V340.3h.8V338.5h.8V339.5h.8V339.5h.8V340.3h.8V339.1h.8V340.4h.8V340.4h.8V339.6h.8V340.7h.8V339.7h.8V338.8h.8V339.7h.8V338.7h.8V339.7h.8V339.2h.8V338.7h.8V339.9h.8V339.4h.8V340.1h.8V341.3h.8V341.3h.8V341.4h.8V341.2h.8V341.4h.8V341.3h.8V341.4h.8V341.2h.8V341.2h.8V341.4h.8V341.2h.8V341.2h.8V340.6h.8V338.9h.8V339.2h.8V339.4h.8V339.1h.8V339.4h.8V340.8h.8V341.9h.8V340.1h.8V339.3h.8V341.2h.8V341.3h.8V341.4h.8V341.2h.8V341.4h.8V341.4h.8V341.3h.8V341.4h.8V341.4h.8V341.3h.8V341.4h.8V341.4h.8V341.3h.8V341.4h.8V341.3h.8V341.2h.8V341.4h.8V341.4h.8V341.3h.8V341.3h.8V341.4h.8V341.4h.8V341.3h.8V341.4h.8V341.4h.8V341.2h.8V341.3h.8V341.4h.8V341.3h.8V341.2h.8V341.3h.8V341.2h.8V341.3h.8V341.2h.8V341.4h.8V341.4h.8V341.2h.8V341.2h.8V341.3h.8V341.3h.8V341.4h.8V341.2h.8V341.3h.8V339.7h.8V339.0h.8V338.8h.8V340.3h.8V338.2h.8V338.3h.8V339.8h.8V340.1h.8V338.4h.8V340.4h.8V338.7h.8V339.8h.8V338.3h.8V339.8h.8V337.9h.8V338.2h.8V339.7h.8V338.0h.8V338.6h.8V338.3h.8V340.6h.8V338.1h.8V338.7h.8V341.3h.8V341.4h.8V341.4h.8V341.4h.8V341.2h.8V341.2h.8V341.3h.8V341.3h.8V341.2h.8V341.4h.8V341.4h.8V341.3h.8V341.4h.8V341.2h.8V341.2h.8V341.2h.8V341.2h.8V341.3h.8V341.3h.8V341.4h.8V339.5h.8V338.5h.8V340.5h.8V339.0h.8V338.6h.8V340.7h.8V340.6h.8V339.7h.8V339.1h.8V339.3h.8V338.8h.8V339.9h.8V340.4h.8V338.5h.8V338.9h.8V340.5h.8V338.5h.8V340.3h.8V339.4h.8V340.0h.8V338.5h.8V338.4h.8V338.7h.8V340.3h.8V339.5h.8V339.0h.8V340.0h.8V339.0h.8V339.6h.8V339.6h.8V340.1h.8V339.0h.8V340.2h.8V338.8h.8V339.9h.8V338.2h.8V338.5h.8V338.3h.8V338.1h.8V338.3h.8V339.7h.8V340.4h.8V339.1h.8V337.9h.8V340.1h.8V341.3h.8V341.4h.8V341.4h.8V341.3h.8V341.4h.8V341.3h.8V341.2h.8V341.4h.8V341.3h.8V341.4h.8V341.3h.8V341.0h.8V341.4h.8V341.3h.8V341.3h.8V338.1h.8V338.5h.8V339.4h.8V339.2h.8V338.6h.8V339.4h.8V338.0h.8V339.6h.8V340.4h.8V339.5h.8V339.8h.8V340.6h.8V340.3h.8V338.8h.8V340.4h.8V338.5h.8V339.2h.8V340.5h.8V338.1h.8V338.1h.8V338.6h.8V339.3h.8V338.0h.8V340.2h.8V339.5h.8V340.3h.8V339.1h.8V340.1h.8V338.7h.8V338.8h.8V338.8h.8V338.8h.8V338.2h.8V338.8h.8V338.5h.8V340.3h.8V340.2h.8V338.2h.8V339.9h.8V340.4h.8V340.1h.8V337.9h.8V341.4h.8V341.2h.8V341.3h.8V341.3h.8V341.4h.8V341.2h.8V341.2h.8V341.4h.8V341.3h.8V341.4h.8V341.4h.8V341.4h.8V341.2h.8V340.4h.8V339.0h.8V339.6h.8V340.4h.8V340.6h.8V340.3h.8V338.9h.8V340.4h.8V338.3h.8V340.1h.8V339.5h.8V339.6h.8V339.3h.8V339.8h.8V338.3h.8V339.8h.8V338.5h.8V340.7h.8V338.6h.8V338.8h.8V339.8h.8V338.7h.8V338.2h.8V338.7h.8V338.6h.8V338.4h.8V340.0h.8V338.6h.8V339.7h.8V339.8h.8V338.6h.8V339.7h.8V340.0h.8V340.6h.8V339.2h.8V339.4h.8V338.7h.8V338.9h.8V339.3h.8V338.9h.8V340.4h.8V341.2h.8V341.3h.8V341.2h.8V341.2h.8V341.3h.8V341.3h.8V341.4h.8V341.3h.8V341.4h.8V341.3h.8V341.2h.8V341.3h.8V341.4h.8V341.3h.8V341.4h.8V341.4h.8V341.3h.8V341.4h.8V341.3h.8V341.4h.8V341.2h.8V339.2h.8V340.7h.8V338.3h.8V339.1h.8V338.8h.8V340.2h.8V339.7h.8V340.3h.8V337.3h.8V339.2h.8V341.4h.8V341.2h.8V341.2h.8V341.4h.8V339.6h.8V341.2h.8V341.2h.8V341.4h.8V341.4h.8V341.4h.8V341.4h.8V341.4h.8V341.4h.8V341.3h.8V341.4h.8V341.3h.8V341.4h.8V341.9Z" fill="#fb6161"/>
<rect x="51.3" y="351.5" width="562.6" height="14.1" fill="#f7f7f7"/>
<path d="M51.3 365.6V363.9h.8V364.2h.8V364.6h.8V364.3h.8V364.3h.8V363.7h.8V364.1h.8V364.9h.8V362.5h.8V363.9h.8V363.1h.8V365.0h.8V365.1h.8V365.0h.8V365.1h.8V365.1h.8V364.9h.8V364.4h.8V364.8h.8V364.6h.8V364.4h.8V364.6h.8V364.7h.8V364.7h.8V364.1h.8V364.3h.8V364.4h.8V364.8h.8V364.8h.8V364.3h.8V364.7h.8V364.5h.8V364.7h.8V364.6h.8V364.9h.8V364.2h.8V364.5h.8V365.0h.8V364.5h.8V364.9h.8V364.2h.8V362.8h.8V364.9h.8V364.9h.8V365.1h.8V365.1h.8V365.0h.8V365.0h.8V365.0h.8V365.0h.8V364.1h.8V364.4h.8V364.6h.8V364.7h.8V364.2h.8V364.3h.8V364.8h.8V364.0h.8V364.6h.8V364.8h.8V363.4h.8V364.1h.8V364.6h.8V364.2h.8V364.3h.8V363.5h.8V364.4h.8V364.7h.8V364.0h.8V364.4h.8V364.7h.8V363.9h.8V364.4h.8V364.3h.8V364.9h.8V364.5h.8V364.8h.8V364.8h.8V364.6h.8V364.4h.8V364.6h.8V364.4h.8V364.3h.8V364.3h.8V364.0h.8V364.6h.8V364.3h.8V364.3h.8V364.3h.8V364.3h.8V364.8h.8V364.3h.8V364.6h.8V364.8h.8V364.4h.8V364.6h.8V364.5h.8V365.0h.8V365.1h.8V365.0h.8V365.1h.8V365.1h.8V364.9h.8V365.1h.8V365.0h.8V364.9h.8V365.0h.8V365.0h.8V365.1h.8V365.1h.8V365.6h.8V365.0h.8V365.0h.8V365.1h.8V365.0h.8V365.1h.8V365.1h.8V365.0h.8V365.1h.8V365.1h.8V365.1h.8V365.1h.8V365.0h.8V365.0h.8V365.1h.8V365.0h.8V364.9h.8V365.0h.8V365.1h.8V365.1h.8V364.9h.8V365.1h.8V365.1h.8V364.4h.8V364.8h.8V364.4h.8V364.9h.8V364.1h.8V364.4h.8V364.9h.8V364.7h.8V364.8h.8V364.5h.8V364.5h.8V364.3h.8V364.4h.8V364.6h.8V364.5h.8V364.5h.8V364.7h.8V364.3h.8V364.5h.8V364.4h.8V364.1h.8V364.7h.8V362.7h.8V364.3h.8V364.7h.8V364.6h.8V364.8h.8V364.5h.8V364.3h.8V364.8h.8V364.3h.8V364.8h.8V364.4h.8V364.7h.8V363.8h.8V364.3h.8V364.4h.8V364.3h.8V364.8h.8V364.7h.8V364.5h.8V364.3h.8V364.9h.8V365.0h.8V365.0h.8V365.1h.8V365.1h.8V365.1h.8V365.1h.8V365.0h.8V365.1h.8V365.0h.8V365.1h.8V365.1h.8V365.1h.8V365.0h.8V363.2h.8V364.9h.8V365.1h.8V364.9h.8V365.0h.8V365.0h.8V365.0h.8V365.0h.8V365.1h.8V365.0h.8V365.1h.8V365.0h.8V365.0h.8V365.1h.8V364.9h.8V364.9h.8V365.1h.8V365.0h.8V365.1h.8V365.0h.8V365.1h.8V365.0h.8V364.9h.8V365.1h.8V365.1h.8V364.9h.8V365.0h.8V365.1h.8V365.0h.8V364.9h.8V365.1h.8V365.1h.8V365.1h.8V364.7h.8V364.9h.8V365.0h.8V364.9h.8V365.0h.8V365.0h.8V365.0h.8V365.1h.8V364.4h.8V364.1h.8V364.4h.8V364.2h.8V364.2h.8V364.8h.8V364.1h.8V363.5h.8V364.8h.8V364.7h.8V364.3h.8V364.6h.8V364.1h.8V363.8h.8V364.3h.8V364.4h.8V364.3h.8V364.9h.8V364.0h.8V363.9h.8V364.8h.8V364.8h.8V363.9h.8V364.2h.8V364.3h.8V365.1h.8V365.1h.8V364.9h.8V365.1h.8V365.1h.8V365.1h.8V364.0h.8V365.1h.8V365.0h.8V364.9h.8V365.0h.8V365.1h.8V365.1h.8V365.1h.8V365.1h.8V364.9h.8V365.0h.8V365.1h.8V365.1h.8V364.0h.8V365.1h.8V365.0h.8V364.9h.8V365.0h.8V365.1h.8V365.0h.8V364.3h.8V364.4h.8V364.5h.8V364.9h.8V364.0h.8V364.5h.8V364.2h.8V364.5h.8V364.2h.8V364.3h.8V364.9h.8V364.7h.8V364.3h.8V364.6h.8V364.8h.8V364.7h.8V365.6h.8V364.9h.8V365.0h.8V364.7h.8V362.4h.8V364.6h.8V365.0h.8V364.9h.8V364.5h.8V364.4h.8V364.7h.8V364.6h.8V364.7h.8V364.4h.8V364.7h.8V364.8h.8V364.5h.8V364.9h.8V364.6h.8V364.9h.8V365.0h.8V365.1h.8V365.1h.8V364.9h.8V365.1h.8V365.1h.8V365.0h.8V365.1h.8V365.1h.8V364.9h.8V365.1h.8V365.1h.8V365.1h.8V365.0h.8V365.0h.8V364.9h.8V365.0h.8V364.9h.8V365.1h.8V362.9h.8V364.9h.8V364.9h.8V365.1h.8V365.1h.8V365.0h.8V365.1h.8V365.1h.8V365.1h.8V365.1h.8V364.9h.8V364.9h.8V364.4h.8V363.8h.8V362.6h.8V364.5h.8V364.2h.8V364.1h.8V364.6h.8V363.7h.8V364.0h.8V364.8h.8V365.1h.8V364.9h.8V365.1h.8V365.0h.8V365.1h.8V365.1h.8V365.0h.8V365.1h.8V365.0h.8V365.0h.8V365.0h.8V365.0h.8V364.9h.8V364.1h.8V364.9h.8V364.4h.8V364.9h.8V364.4h.8V364.4h.8V363.6h.8V364.8h.8V364.5h.8V364.8h.8V365.0h.8V364.3h.8V364.9h.8V365.0h.8V365.0h.8V364.1h.8V364.8h.8V364.1h.8V364.1h.8V364.2h.8V365.0h.8V365.0h.8V364.9h.8V364.9h.8V364.9h.8V365.1h.8V364.9h.8V364.9h.8V365.0h.8V365.0h.8V365.1h.8V364.9h.8V364.5h.8V364.4h.8V364.5h.8V364.8h.8V364.8h.8V364.2h.8V364.9h.8V365.6h.8V364.0h.8V364.2h.8V365.1h.8V365.0h.8V365.0h.8V365.0h.8V364.9h.8V365.0h.8V364.9h.8V365.0h.8V365.0h.8V365.1h.8V364.9h.8V365.1h.8V365.0h.8V365.1h.8V365.1h.8V365.0h.8V365.0h.8V365.0h.8V365.0h.8V365.1h.8V365.1h.8V365.0h.8V365.1h.8V364.9h.8V364.9h.8V365.0h.8V364.9h.8V365.0h.8V364.9h.8V365.1h.8V365.0h.8V365.0h.8V365.1h.8V365.1h.8V365.0h.8V365.0h.8V365.1h.8V365.1h.8V365.0h.8V365.0h.8V364.9h.8V365.0h.8V365.0h.8V364.5h.8V364.8h.8V364.8h.8V364.6h.8V364.8h.8V364.3h.8V364.0h.8V364.6h.8V364.5h.8V364.3h.8V364.7h.8V364.6h.8V364.5h.8V364.6h.8V364.0h.8V364.3h.8V364.1h.8V364.0h.8V364.4h.8V364.1h.8V363.1h.8V364.5h.8V364.2h.8V365.1h.8V365.0h.8V365.0h.8V365.0h.8V365.1h.8V365.0h.8V365.1h.8V364.9h.8V365.0h.8V364.9h.8V365.1h.8V365.0h.8V365.0h.8V365.1h.8V365.0h.8V365.0h.8V365.0h.8V365.0h.8V364.9h.8V365.0h.8V364.6h.8V364.7h.8V364.5h.8V364.7h.8V364.6h.8V364.3h.8V364.6h.8V364.3h.8V364.4h.8V364.0h.8V364.3h.8V364.4h.8V364.9h.8V364.0h.8V364.1h.8V364.7h.8V364.8h.8V363.5h.8V364.0h.8V364.5h.8V364.8h.8V364.7h.8V364.4h.8V364.2h.8V364.5h.8V364.4h.8V364.2h.8V364.5h.8V364.3h.8V364.5h.8V364.2h.8V365.0h.8V364.6h.8V364.7h.8V364.4h.8V364.4h.8V364.3h.8V364.6h.8V364.1h.8V364.6h.8V364.1h.8V364.2h.8V364.5h.8V364.2h.8V364.8h.8V365.1h.8V364.9h.8V365.0h.8V364.9h.8V365.0h.8V364.9h.8V364.9h.8V365.0h.8V365.1h.8V365.1h.8V365.1h.8V364.9h.8V365.1h.8V365.1h.8V364.9h.8V364.8h.8V363.9h.8V364.6h.8V364.5h.8V364.5h.8V364.0h.8V364.1h.8V364.5h.8V364.3h.8V364.3h.8V364.4h.8V364.6h.8V364.8h.8V364.3h.8V364.9h.8V364.9h.8V364.7h.8V364.7h.8V363.9h.8V364.2h.8V364.1h.8V364.8h.8V364.7h.8V364.3h.8V364.9h.8V364.2h.8V364.7h.8V364.0h.8V364.4h.8V364.0h.8V364.2h.8V364.2h.8V364.7h.8V364.2h.8V364.4h.8V364.4h.8V364.7h.8V364.7h.8V363.9h.8V364.7h.8V364.2h.8V364.5h.8V365.1h.8V365.1h.8V365.0h.8V364.0h.8V365.1h.8V365.0h.8V365.0h.8V364.9h.8V364.4h.8V365.1h.8V365.1h.8V365.0h.8V365.0h.8V364.1h.8V364.7h.8V363.9h.8V364.3h.8V364.3h.8V364.6h.8V364.8h.8V364.6h.8V364.6h.8V364.4h.8V364.8h.8V364.9h.8V364.8h.8V364.7h.8V364.8h.8V364.3h.8V364.1h.8V364.9h.8V364.7h.8V364.7h.8V364.4h.8V364.4h.8V364.0h.8V363.5h.8V364.8h.8V364.4h.8V365.0h.8V364.7h.8V364.3h.8V364.4h.8V364.8h.8V364.3h.8V362.3h.8V364.5h.8V365.0h.8V364.7h.8V364.6h.8V364.5h.8V364.3h.8V364.9h.8V364.4h.8V365.1h.8V365.1h.8V365.1h.8V365.1h.8V365.0h.8V365.1h.8V365.0h.8V364.9h.8V365.0h.8V365.1h.8V365.1h.8V365.1h.8V365.1h.8V365.1h.8V363.7h.8V365.0h.8V364.9h.8V365.1h.8V365.1h.8V364.9h.8V364.9h.8V364.6h.8V364.4h.8V364.6h.8V365.0h.8V364.3h.8V364.7h.8V365.0h.8V364.4h.8V364.6h.8V364.8h.8V365.0h.8V365.0h.8V365.1h.8V364.9h.8V365.0h.8V364.9h.8V365.1h.8V365.1h.8V365.0h.8V365.0h.8V365.1h.8V364.9h.8V365.0h.8V362.7h.8V364.9h.8V364.9h.8V365.1h.8V365.6Z" fill="#55c0f5"/>
<rect x="51.3" y="377.2" width="562.6" height="14.1" fill="#f7f7f7"/>
<path d="M51.3 391.3V385.8h.8V384.9h.8V386.4h.8V386.4h.8V386.6h.8V387.3h.8V383.9h.8V384.1h.8V383.9h.8V387.0h.8V385.2h.8V387.3h.8V382.9h.8V384.4h.8V380.9h.8V388.6h.8V384.5h.8V384.8h.8V387.1h.8V385.7h.8V383.0h.8V384.7h.8V383.1h.8V384.1h.8V384.4h.8V384.0h.8V383.4h.8V387.1h.8V383.8h.8V384.2h.8V384.4h.8V385.3h.8V383.4h.8V386.9h.8V385.2h.8V385.7h.8V384.6h.8V383.9h.8V382.8h.8V384.4h.8V387.6h.8V385.2h.8V387.2h.8V384.1h.8V387.0h.8V383.3h.8V386.9h.8V383.2h.8V385.2h.8V387.1h.8V386.8h.8V387.6h.8V387.3h.8V387.6h.8V386.9h.8V385.5h.8V385.3h.8V386.4h.8V384.8h.8V384.2h.8V383.2h.8V385.7h.8V384.1h.8V383.5h.8V385.1h.8V382.4h.8V384.5h.8V384.0h.8V387.5h.8V385.7h.8V383.4h.8V386.5h.8V383.0h.8V386.7h.8V385.5h.8V384.2h.8V384.3h.8V384.4h.8V387.4h.8V382.5h.8V385.4h.8V385.5h.8V385.6h.8V383.3h.8V382.1h.8V387.3h.8V381.3h.8V386.8h.8V383.0h.8V384.4h.8V385.3h.8V382.3h.8V384.7h.8V387.2h.8V384.0h.8V383.5h.8V384.8h.8V380.3h.8V383.9h.8V385.5h.8V386.0h.8V383.0h.8V384.5h.8V387.0h.8V382.4h.8V383.3h.8V381.2h.8V386.5h.8V382.4h.8V386.5h.8V391.3h.8V387.0h.8V386.2h.8V386.5h.8V382.9h.8V383.1h.8V386.8h.8V386.5h.8V387.1h.8V384.4h.8V384.0h.8V386.3h.8V385.8h.8V383.8h.8V385.1h.8V387.5h.8V384.2h.8V386.8h.8V384.9h.8V383.0h.8V386.0h.8V383.3h.8V386.0h.8V385.9h.8V384.4h.8V383.0h.8V386.5h.8V383.3h.8V383.9h.8V382.9h.8V387.4h.8V383.1h.8V388.6h.8V385.2h.8V387.5h.8V383.0h.8V386.5h.8V386.4h.8V386.1h.8V387.1h.8V386.4h.8V383.0h.8V386.4h.8V387.4h.8V384.7h.8V385.2h.8V384.6h.8V386.4h.8V387.3h.8V383.5h.8V381.6h.8V386.0h.8V384.8h.8V385.0h.8V384.6h.8V387.6h.8V386.7h.8V386.6h.8V385.8h.8V385.6h.8V385.7h.8V383.5h.8V386.2h.8V386.3h.8V385.1h.8V383.9h.8V383.5h.8V386.5h.8V383.8h.8V387.2h.8V386.5h.8V384.1h.8V386.0h.8V384.0h.8V384.6h.8V385.9h.8V383.0h.8V384.1h.8V383.4h.8V387.3h.8V384.5h.8V386.7h.8V386.6h.8V386.0h.8V383.1h.8V385.2h.8V384.3h.8V386.2h.8V385.9h.8V386.7h.8V385.0h.8V386.6h.8V385.6h.8V386.5h.8V387.3h.8V384.7h.8V383.4h.8V382.9h.8V382.2h.8V387.3h.8V383.3h.8V386.5h.8V387.1h.8V384.9h.8V382.3h.8V382.1h.8V383.6h.8V386.1h.8V383.1h.8V383.2h.8V385.0h.8V386.6h.8V386.3h.8V383.5h.8V383.7h.8V385.9h.8V386.9h.8V382.4h.8V386.1h.8V387.3h.8V385.7h.8V386.7h.8V387.6h.8V386.7h.8V386.1h.8V381.9h.8V385.9h.8V383.1h.8V386.7h.8V383.0h.8V385.0h.8V385.2h.8V383.9h.8V383.9h.8V382.7h.8V386.0h.8V382.5h.8V384.5h.8V386.6h.8V387.4h.8V383.9h.8V383.6h.8V386.5h.8V386.9h.8V386.4h.8V387.2h.8V386.7h.8V387.0h.8V387.1h.8V385.4h.8V385.0h.8V384.4h.8V381.7h.8V386.9h.8V385.9h.8V382.8h.8V384.6h.8V386.6h.8V382.8h.8V386.7h.8V385.8h.8V384.1h.8V386.4h.8V385.7h.8V385.3h.8V387.4h.8V383.9h.8V383.6h.8V386.3h.8V384.4h.8V385.9h.8V386.8h.8V385.1h.8V386.7h.8V384.4h.8V385.3h.8V383.5h.8V384.4h.8V386.7h.8V387.0h.8V383.5h.8V383.0h.8V386.0h.8V386.7h.8V383.9h.8V387.1h.8V386.6h.8V391.3h.8V384.9h.8V383.3h.8V384.1h.8V386.7h.8V385.0h.8V385.5h.8V383.5h.8V385.2h.8V384.4h.8V386.1h.8V384.5h.8V384.7h.8V383.8h.8V383.7h.8V384.1h.8V383.9h.8V386.5h.8V386.3h.8V383.8h.8V383.3h.8V387.3h.8V386.1h.8V383.3h.8V382.8h.8V382.6h.8V386.8h.8V385.0h.8V384.5h.8V386.8h.8V382.6h.8V382.9h.8V385.6h.8V384.0h.8V383.9h.8V383.5h.8V385.4h.8V383.8h.8V383.3h.8V383.7h.8V384.7h.8V385.3h.8V388.5h.8V385.0h.8V387.2h.8V384.6h.8V384.3h.8V383.0h.8V383.0h.8V385.3h.8V387.7h.8V383.6h.8V387.4h.8V384.4h.8V383.4h.8V386.5h.8V384.7h.8V385.0h.8V385.9h.8V385.0h.8V383.3h.8V385.5h.8V386.0h.8V386.0h.8V387.0h.8V386.2h.8V386.1h.8V383.6h.8V385.4h.8V383.8h.8V385.6h.8V385.0h.8V385.6h.8V386.1h.8V383.8h.8V385.9h.8V383.7h.8V384.7h.8V385.2h.8V385.8h.8V384.7h.8V384.3h.8V387.3h.8V384.4h.8V385.4h.8V385.0h.8V386.3h.8V385.6h.8V386.5h.8V385.4h.8V384.4h.8V382.7h.8V383.3h.8V387.1h.8V382.5h.8V384.5h.8V385.8h.8V386.7h.8V382.4h.8V383.8h.8V386.4h.8V381.8h.8V386.6h.8V386.2h.8V387.2h.8V384.7h.8V384.5h.8V386.8h.8V386.0h.8V385.3h.8V383.3h.8V385.4h.8V384.5h.8V391.3h.8V387.1h.8V384.6h.8V384.8h.8V386.7h.8V383.9h.8V384.7h.8V387.0h.8V385.8h.8V385.7h.8V383.8h.8V387.4h.8V387.2h.8V384.3h.8V385.2h.8V386.1h.8V385.5h.8V387.4h.8V385.4h.8V383.6h.8V383.6h.8V383.9h.8V384.5h.8V386.7h.8V386.0h.8V383.2h.8V386.6h.8V383.2h.8V382.8h.8V385.2h.8V384.6h.8V384.3h.8V384.3h.8V384.2h.8V387.5h.8V382.9h.8V383.2h.8V382.7h.8V386.9h.8V387.5h.8V384.9h.8V383.9h.8V384.6h.8V386.3h.8V386.1h.8V384.1h.8V383.6h.8V383.4h.8V386.3h.8V387.3h.8V383.7h.8V386.8h.8V385.9h.8V384.2h.8V384.5h.8V383.1h.8V387.7h.8V385.3h.8V384.2h.8V383.4h.8V386.3h.8V387.0h.8V386.6h.8V383.6h.8V387.6h.8V385.1h.8V384.5h.8V384.6h.8V384.7h.8V383.1h.8V383.9h.8V381.3h.8V383.1h.8V383.1h.8V386.1h.8V386.5h.8V387.3h.8V382.7h.8V382.5h.8V382.7h.8V383.2h.8V382.9h.8V388.6h.8V383.1h.8V387.0h.8V384.3h.8V384.0h.8V387.3h.8V385.5h.8V384.4h.8V383.4h.8V382.9h.8V387.2h.8V387.1h.8V383.1h.8V383.2h.8V385.6h.8V386.9h.8V387.4h.8V386.4h.8V387.3h.8V385.1h.8V386.9h.8V383.8h.8V386.2h.8V382.6h.8V382.4h.8V382.6h.8V383.4h.8V383.8h.8V383.9h.8V385.1h.8V384.3h.8V383.8h.8V387.2h.8V384.3h.8V383.6h.8V383.2h.8V387.4h.8V383.4h.8V385.3h.8V387.6h.8V384.6h.8V385.4h.8V386.2h.8V384.8h.8V384.2h.8V384.7h.8V387.0h.8V384.4h.8V387.8h.8V387.7h.8V387.3h.8V384.8h.8V386.0h.8V384.4h.8V387.5h.8V385.6h.8V385.6h.8V387.1h.8V386.6h.8V386.1h.8V386.6h.8V384.9h.8V386.9h.8V387.0h.8V387.1h.8V385.0h.8V383.8h.8V384.2h.8V383.5h.8V385.0h.8V383.5h.8V385.4h.8V384.9h.8V384.1h.8V387.1h.8V384.6h.8V386.9h.8V383.8h.8V385.5h.8V386.4h.8V386.8h.8V386.7h.8V385.5h.8V384.2h.8V386.4h.8V386.2h.8V386.4h.8V386.0h.8V384.3h.8V385.5h.8V386.5h.8V388.6h.8V386.8h.8V387.3h.8V383.0h.8V383.2h.8V385.7h.8V384.9h.8V385.7h.8V384.2h.8V387.5h.8V383.0h.8V382.6h.8V387.5h.8V389.2h.8V385.1h.8V383.9h.8V383.7h.8V384.6h.8V385.5h.8V384.5h.8V384.9h.8V382.7h.8V385.9h.8V383.0h.8V384.1h.8V382.5h.8V382.8h.8V383.6h.8V384.3h.8V385.0h.8V382.6h.8V382.6h.8V386.8h.8V386.7h.8V386.9h.8V382.7h.8V385.1h.8V385.0h.8V387.2h.8V384.0h.8V386.0h.8V385.8h.8V385.2h.8V387.0h.8V386.2h.8V387.2h.8V384.5h.8V386.1h.8V386.2h.8V387.5h.8V382.8h.8V382.8h.8V385.3h.8V388.6h.8V387.5h.8V387.3h.8V386.3h.8V383.9h.8V383.5h.8V382.9h.8V386.4h.8V387.0h.8V386.6h.8V382.6h.8V382.6h.8V382.6h.8V383.4h.8V387.1h.8V386.6h.8V385.2h.8V384.6h.8V382.4h.8V383.3h.8V384.4h.8V387.2h.8V384.9h.8V385.2h.8V384.0h.8V385.6h.8V385.4h.8V384.3h.8V386.7h.8V384.2h.8V384.4h.8V385.1h.8V385.3h.8V384.2h.8V386.1h.8V389.4h.8V385.8h.8V385.5h.8V387.4h.8V384.0h.8V386.5h.8V385.0h.8V383.4h.8V386.1h.8V384.6h.8V384.1h.8V387.4h.8V384.7h.8V386.2h.8V386.4h.8V387.3h.8V387.3h.8V384.6h.8V385.7h.8V384.9h.8V386.6h.8V386.3h.8V384.3h.8V384.8h.8V383.6h.8V386.0h.8V384.9h.8V383.2h.8V385.4h.8V383.6h.8V386.8h.8V385.2h.8V391.3Z" fill="#cc3a00"/>
<rect x="51.3" y="402.3" width="562.6" height="12.2" fill="#f7f7f7"/>
<path d="M51.3 414.5V407.0h.8V406.7h.8V410.6h.8V407.9h.8V407.9h.8V406.7h.8V409.7h.8V409.1h.8V407.8h.8V409.1h.8V410.7h.8V412.6h.8V408.8h.8V408.7h.8V409.7h.8V410.9h.8V411.1h.8V408.9h.8V411.2h.8V408.5h.8V410.8h.8V408.8h.8V407.5h.8V408.2h.8V409.6h.8V406.6h.8V409.2h.8V409.9h.8V407.1h.8V408.2h.8V408.1h.8V410.3h.8V410.9h.8V408.4h.8V409.0h.8V409.1h.8V410.6h.8V406.7h.8V408.6h.8V408.8h.8V410.3h.8V408.4h.8V408.4h.8V410.6h.8V406.8h.8V408.9h.8V407.9h.8V409.1h.8V408.6h.8V410.0h.8V407.7h.8V410.7h.8V410.5h.8V410.8h.8V409.3h.8V408.5h.8V410.5h.8V409.8h.8V407.4h.8V410.8h.8V407.9h.8V411.0h.8V407.7h.8V408.7h.8V411.2h.8V409.7h.8V409.0h.8V410.1h.8V407.7h.8V408.5h.8V409.6h.8V410.1h.8V406.7h.8V407.1h.8V407.2h.8V409.3h.8V410.2h.8V408.8h.8V408.4h.8V410.6h.8V409.5h.8V408.8h.8V410.4h.8V409.1h.8V408.0h.8V411.3h.8V408.9h.8V410.4h.8V410.3h.8V406.8h.8V408.7h.8V407.1h.8V409.7h.8V410.3h.8V406.5h.8V409.0h.8V410.2h.8V409.9h.8V408.1h.8V408.3h.8V410.3h.8V406.6h.8V408.8h.8V406.3h.8V409.9h.8V410.1h.8V407.2h.8V407.2h.8V410.1h.8V408.7h.8V414.5h.8V408.9h.8V411.0h.8V412.3h.8V410.2h.8V410.3h.8V409.2h.8V411.0h.8V408.6h.8V409.4h.8V407.9h.8V408.5h.8V410.1h.8V408.7h.8V409.9h.8V409.3h.8V410.7h.8V409.5h.8V409.4h.8V406.9h.8V410.8h.8V410.0h.8V408.9h.8V410.1h.8V408.8h.8V409.7h.8V406.8h.8V409.5h.8V410.0h.8V406.5h.8V410.1h.8V406.4h.8V407.4h.8V408.4h.8V409.6h.8V406.6h.8V408.9h.8V408.3h.8V409.2h.8V406.8h.8V410.7h.8V407.2h.8V409.8h.8V407.6h.8V410.6h.8V406.8h.8V410.4h.8V407.6h.8V411.0h.8V412.4h.8V409.4h.8V408.7h.8V408.9h.8V406.6h.8V410.6h.8V409.6h.8V410.1h.8V409.4h.8V407.9h.8V408.0h.8V410.0h.8V407.1h.8V407.8h.8V409.6h.8V410.4h.8V409.3h.8V408.7h.8V407.5h.8V409.2h.8V409.8h.8V409.7h.8V407.5h.8V405.8h.8V407.8h.8V408.1h.8V411.0h.8V409.8h.8V407.4h.8V410.6h.8V407.0h.8V408.3h.8V404.5h.8V407.1h.8V405.2h.8V409.4h.8V407.4h.8V409.2h.8V406.5h.8V410.1h.8V409.7h.8V407.1h.8V408.2h.8V410.7h.8V409.1h.8V408.7h.8V409.1h.8V406.7h.8V408.1h.8V409.0h.8V411.2h.8V407.2h.8V411.1h.8V410.3h.8V411.0h.8V409.7h.8V408.9h.8V408.9h.8V408.8h.8V410.0h.8V406.6h.8V407.4h.8V410.7h.8V409.3h.8V407.1h.8V409.3h.8V408.2h.8V409.4h.8V409.6h.8V408.0h.8V406.7h.8V411.5h.8V409.3h.8V409.3h.8V407.7h.8V409.3h.8V407.2h.8V407.6h.8V409.7h.8V407.7h.8V407.5h.8V407.2h.8V409.4h.8V407.9h.8V408.9h.8V409.2h.8V404.9h.8V407.5h.8V410.7h.8V406.0h.8V410.6h.8V410.8h.8V409.2h.8V409.0h.8V406.9h.8V406.9h.8V410.6h.8V411.7h.8V407.4h.8V407.0h.8V409.0h.8V406.7h.8V409.6h.8V411.3h.8V410.9h.8V410.5h.8V407.0h.8V410.7h.8V411.0h.8V409.2h.8V407.2h.8V409.4h.8V410.7h.8V410.4h.8V408.4h.8V411.0h.8V406.9h.8V406.5h.8V410.2h.8V406.6h.8V409.3h.8V408.2h.8V410.4h.8V409.2h.8V409.1h.8V409.2h.8V409.4h.8V410.3h.8V409.3h.8V408.7h.8V410.1h.8V409.9h.8V408.1h.8V411.1h.8V408.3h.8V408.0h.8V408.3h.8V411.1h.8V414.5h.8V409.0h.8V410.6h.8V409.5h.8V408.9h.8V409.2h.8V408.8h.8V411.0h.8V408.7h.8V409.9h.8V410.8h.8V408.5h.8V408.6h.8V409.8h.8V407.8h.8V410.0h.8V408.3h.8V408.5h.8V409.3h.8V408.7h.8V407.2h.8V408.8h.8V409.5h.8V407.7h.8V410.4h.8V408.5h.8V409.9h.8V408.2h.8V408.2h.8V410.4h.8V408.9h.8V406.6h.8V408.6h.8V407.4h.8V407.5h.8V406.5h.8V409.2h.8V411.1h.8V409.9h.8V406.5h.8V408.2h.8V409.8h.8V408.7h.8V408.2h.8V407.4h.8V409.3h.8V410.6h.8V408.3h.8V408.0h.8V409.4h.8V410.5h.8V408.8h.8V409.6h.8V408.2h.8V411.2h.8V408.3h.8V410.7h.8V407.2h.8V408.9h.8V407.5h.8V410.3h.8V408.8h.8V407.5h.8V408.4h.8V407.4h.8V407.1h.8V409.6h.8V409.0h.8V408.7h.8V410.0h.8V407.2h.8V408.5h.8V409.2h.8V411.1h.8V408.9h.8V408.3h.8V409.6h.8V407.0h.8V406.9h.8V407.0h.8V411.2h.8V409.2h.8V412.7h.8V407.2h.8V406.7h.8V407.2h.8V407.3h.8V408.3h.8V407.5h.8V410.9h.8V408.9h.8V408.9h.8V409.5h.8V410.0h.8V408.2h.8V406.8h.8V407.1h.8V409.7h.8V407.7h.8V406.7h.8V407.9h.8V408.0h.8V407.7h.8V408.4h.8V410.2h.8V406.8h.8V410.7h.8V409.0h.8V408.4h.8V406.9h.8V406.6h.8V409.9h.8V406.6h.8V414.5h.8V407.5h.8V409.9h.8V409.4h.8V408.6h.8V407.9h.8V410.2h.8V408.4h.8V407.3h.8V407.0h.8V407.6h.8V410.1h.8V409.0h.8V410.7h.8V410.6h.8V410.1h.8V410.4h.8V409.6h.8V410.1h.8V407.0h.8V411.0h.8V409.8h.8V407.7h.8V408.2h.8V409.6h.8V410.1h.8V408.8h.8V410.2h.8V406.6h.8V408.6h.8V407.2h.8V408.1h.8V407.0h.8V405.0h.8V410.6h.8V406.8h.8V405.9h.8V407.1h.8V407.4h.8V409.5h.8V409.5h.8V407.7h.8V410.5h.8V408.0h.8V408.5h.8V410.7h.8V407.7h.8V409.7h.8V408.7h.8V409.8h.8V407.5h.8V410.5h.8V408.4h.8V407.2h.8V407.4h.8V408.5h.8V408.5h.8V410.5h.8V410.0h.8V407.3h.8V407.5h.8V409.1h.8V407.8h.8V408.3h.8V408.1h.8V410.7h.8V409.6h.8V409.0h.8V411.1h.8V407.9h.8V408.5h.8V409.3h.8V409.1h.8V412.4h.8V406.6h.8V408.1h.8V407.5h.8V410.7h.8V408.0h.8V409.0h.8V409.7h.8V409.0h.8V410.2h.8V409.9h.8V409.9h.8V411.1h.8V408.4h.8V407.1h.8V408.7h.8V410.6h.8V409.2h.8V409.7h.8V407.6h.8V407.7h.8V409.3h.8V407.2h.8V409.3h.8V407.2h.8V408.0h.8V409.4h.8V407.9h.8V410.7h.8V409.7h.8V410.4h.8V408.1h.8V409.4h.8V407.8h.8V410.4h.8V407.0h.8V410.2h.8V410.5h.8V407.6h.8V408.5h.8V410.0h.8V408.8h.8V409.3h.8V409.3h.8V410.4h.8V411.2h.8V407.6h.8V408.9h.8V410.2h.8V408.0h.8V409.0h.8V405.5h.8V409.2h.8V406.9h.8V410.3h.8V408.1h.8V410.3h.8V412.2h.8V409.9h.8V409.7h.8V409.9h.8V409.2h.8V407.4h.8V409.9h.8V406.1h.8V407.9h.8V411.9h.8V409.6h.8V409.8h.8V408.3h.8V409.3h.8V410.9h.8V410.0h.8V407.4h.8V409.5h.8V409.4h.8V409.1h.8V407.5h.8V406.8h.8V410.0h.8V408.9h.8V408.5h.8V409.0h.8V409.1h.8V409.5h.8V407.5h.8V409.5h.8V408.4h.8V407.4h.8V408.6h.8V410.0h.8V408.3h.8V410.6h.8V408.5h.8V412.5h.8V409.4h.8V409.2h.8V407.8h.8V409.7h.8V406.6h.8V410.0h.8V410.6h.8V408.1h.8V412.4h.8V406.7h.8V407.1h.8V412.3h.8V410.8h.8V410.1h.8V408.0h.8V410.4h.8V410.6h.8V409.2h.8V411.0h.8V409.1h.8V409.2h.8V409.7h.8V408.1h.8V409.9h.8V410.0h.8V409.8h.8V408.0h.8V407.6h.8V407.2h.8V406.8h.8V410.6h.8V406.8h.8V408.3h.8V408.3h.8V408.5h.8V408.2h.8V410.2h.8V409.3h.8V411.0h.8V406.1h.8V408.2h.8V410.9h.8V407.1h.8V407.9h.8V409.5h.8V410.4h.8V407.3h.8V408.2h.8V407.7h.8V407.4h.8V408.1h.8V410.6h.8V408.5h.8V409.3h.8V409.8h.8V406.9h.8V410.5h.8V408.1h.8V408.0h.8V408.5h.8V408.2h.8V409.5h.8V408.0h.8V407.4h.8V410.5h.8V408.5h.8V409.0h.8V409.7h.8V409.7h.8V407.3h.8V408.0h.8V407.0h.8V407.3h.8V410.9h.8V410.4h.8V410.4h.8V410.0h.8V407.7h.8V410.2h.8V409.6h.8V408.2h.8V410.1h.8V409.3h.8V408.1h.8V404.9h.8V410.0h.8V408.5h.8V407.1h.8V410.1h.8V408.2h.8V410.0h.8V407.9h.8V410.1h.8V404.9h.8V408.1h.8V408.4h.8V407.8h.8V410.5h.8V408.7h.8V407.7h.8V410.0h.8V408.1h.8V408.7h.8V408.8h.8V408.0h.8V409.4h.8V410.8h.8V408.9h.8V409.6h.8V408.3h.8V407.9h.8V409.1h.8V407.2h.8V407.7h.8V408.3h.8V410.7h.8V408.0h.8V408.4h.8V408.4h.8V408.8h.8V410.5h.8V407.3h.8V409.6h.8V410.4h.8V408.7h.8V414.5Z" fill="#0a0aa8"/>
<text x="53.8" y="330.8" font-size="8.5" fill="#222" font-weight="normal" text-anchor="start" textLength="12.6" lengthAdjust="spacingAndGlyphs">0-7</text>
<text x="53.8" y="358.6" font-size="8.5" fill="#222" font-weight="normal" text-anchor="start" textLength="12.6" lengthAdjust="spacingAndGlyphs">0-7</text>
<text x="53.8" y="381.9" font-size="8.5" fill="#222" font-weight="normal" text-anchor="start" textLength="12.6" lengthAdjust="spacingAndGlyphs">0-7</text>
<text x="53.8" y="405.5" font-size="8.5" fill="#222" font-weight="normal" text-anchor="start" textLength="12.6" lengthAdjust="spacingAndGlyphs">0-7</text>
<text x="609.6" y="335.8" font-size="10" fill="#d92d4f" font-weight="normal" text-anchor="start">m</text>
<text x="609.6" y="357.4" font-size="10" fill="#5aa9e6" font-weight="normal" text-anchor="start">p</text>
<text x="609.6" y="379.2" font-size="10" fill="#9a1830" font-weight="normal" text-anchor="start">m</text>
<text x="609.6" y="401.5" font-size="10" fill="#33339a" font-weight="normal" text-anchor="start">p</text>
<text x="634.5" y="344" font-size="9.6" fill="#000" font-weight="normal" text-anchor="start" transform="rotate(90 634.5 344)" textLength="12.8" lengthAdjust="spacingAndGlyphs">Ctr</text>
<text x="634.5" y="377.5" font-size="9.6" fill="#000" font-weight="normal" text-anchor="start" transform="rotate(90 634.5 377.5)" textLength="29" lengthAdjust="spacingAndGlyphs">matKO</text>
<g stroke="#222" stroke-width="1.25" fill="none"><path d="M233.8 430.2 V450.1"/><path d="M257.5 430.2 V450.1"/><path d="M233.2 450.1 L57 462.2" stroke-dasharray="3 2"/><path d="M258.1 450.1 L613.4 469.4" stroke-dasharray="3 2"/></g>
<g stroke="#999" stroke-width="0.8" fill="none" stroke-dasharray="0.8 3.2"><path d="M53 472.2 H613.6"/><path d="M71 552.2 H613.6"/><path d="M614.2 472.2 V566" /><path d="M53 472.2 V566" stroke="#bbb"/></g>
<text x="597" y="482.1" font-size="8.8" fill="#000" font-weight="normal" text-anchor="end" textLength="104" lengthAdjust="spacingAndGlyphs">chr6:51929788-52624426</text>
<rect x="51.3" y="488.2" width="565.0" height="9.2" fill="#f7f7f7"/>
<path d="M51.3 497.4V496.9h1V496.9h1V496.9h1V496.4h1V496.4h1V495.7h1V496.9h1V496.1h1V496.9h1V496.5h1V496.9h1V495.8h1V496.7h1V496.9h1V496.9h1V496.4h1V496.9h1V496.0h1V495.5h1V495.6h1V496.9h1V496.6h1V495.6h1V496.1h1V496.9h1V496.8h1V496.9h1V496.9h1V495.6h1V496.9h1V495.6h1V496.9h1V496.9h1V495.9h1V496.9h1V496.9h1V496.9h1V496.9h1V496.9h1V496.6h1V495.7h1V496.4h1V496.7h1V496.9h1V496.8h1V496.9h1V496.5h1V495.2h1V496.9h1V495.6h1V496.7h1V496.9h1V496.7h1V496.9h1V495.9h1V496.7h1V496.3h1V496.6h1V495.3h1V496.9h1V495.3h1V494.6h1V496.8h1V496.9h1V496.6h1V496.4h1V496.9h1V496.9h1V492.1h1V496.9h1V495.7h1V495.3h1V496.9h1V491.9h1V495.5h1V496.7h1V492.8h1V496.9h1V493.4h1V496.9h1V496.9h1V495.2h1V496.2h1V494.6h1V496.6h1V492.1h1V496.9h1V496.6h1V495.0h1V492.9h1V492.0h1V496.6h1V493.4h1V496.2h1V496.0h1V496.9h1V496.9h1V495.6h1V496.9h1V494.8h1V494.5h1V496.9h1V493.0h1V492.6h1V496.9h1V496.4h1V495.7h1V493.1h1V496.9h1V496.9h1V494.6h1V496.9h1V496.9h1V492.3h1V494.3h1V496.4h1V494.3h1V495.8h1V496.6h1V496.9h1V496.2h1V496.9h1V496.9h1V495.5h1V496.9h1V495.6h1V496.9h1V495.6h1V496.9h1V496.4h1V496.7h1V496.9h1V496.9h1V494.4h1V494.8h1V496.9h1V492.9h1V493.5h1V492.9h1V496.0h1V494.6h1V495.1h1V494.2h1V494.6h1V496.9h1V492.8h1V495.0h1V493.3h1V496.9h1V493.5h1V494.9h1V495.9h1V496.4h1V496.9h1V495.3h1V496.9h1V496.9h1V495.7h1V496.2h1V496.9h1V495.1h1V496.9h1V495.1h1V496.7h1V496.9h1V495.9h1V496.9h1V496.9h1V496.9h1V496.9h1V496.9h1V496.9h1V495.3h1V494.8h1V496.8h1V496.9h1V496.3h1V494.9h1V493.0h1V495.6h1V496.9h1V493.2h1V494.0h1V495.8h1V496.9h1V496.9h1V493.5h1V493.4h1V494.2h1V495.3h1V495.0h1V496.9h1V495.8h1V496.4h1V496.9h1V496.9h1V495.2h1V496.9h1V496.9h1V496.9h1V496.9h1V494.0h1V494.8h1V496.9h1V492.7h1V496.4h1V496.3h1V496.9h1V494.2h1V493.6h1V492.5h1V492.0h1V496.9h1V493.5h1V493.4h1V493.9h1V496.9h1V492.0h1V496.7h1V496.9h1V496.9h1V496.9h1V495.6h1V496.9h1V496.4h1V494.6h1V494.4h1V496.9h1V495.4h1V495.6h1V493.8h1V496.2h1V496.9h1V496.9h1V496.9h1V495.2h1V496.9h1V496.3h1V495.1h1V496.9h1V496.6h1V496.4h1V496.2h1V496.3h1V496.2h1V496.6h1V496.9h1V496.9h1V496.9h1V496.8h1V496.3h1V496.5h1V496.6h1V495.8h1V495.1h1V496.4h1V496.9h1V495.6h1V496.9h1V495.3h1V496.9h1V496.9h1V496.9h1V496.9h1V496.5h1V496.0h1V496.9h1V496.9h1V496.9h1V496.9h1V496.1h1V495.2h1V496.7h1V496.9h1V495.6h1V496.9h1V495.7h1V496.0h1V493.5h1V496.1h1V496.9h1V496.7h1V495.4h1V494.9h1V495.7h1V496.7h1V493.4h1V493.1h1V496.4h1V496.8h1V495.8h1V496.9h1V496.9h1V496.9h1V496.9h1V496.9h1V496.9h1V496.7h1V496.7h1V496.9h1V494.7h1V496.9h1V496.9h1V496.3h1V496.2h1V496.2h1V495.1h1V496.9h1V494.5h1V496.9h1V496.9h1V496.9h1V496.9h1V494.9h1V496.9h1V496.1h1V496.9h1V496.9h1V494.6h1V495.5h1V496.0h1V496.9h1V493.0h1V492.1h1V493.4h1V496.1h1V496.9h1V492.8h1V492.0h1V495.7h1V493.4h1V493.9h1V494.2h1V493.2h1V496.9h1V495.3h1V493.2h1V496.7h1V492.1h1V495.9h1V495.9h1V496.6h1V492.8h1V495.4h1V494.0h1V493.8h1V496.6h1V496.3h1V496.9h1V496.7h1V495.3h1V496.9h1V496.6h1V495.6h1V495.4h1V496.7h1V495.4h1V496.6h1V496.0h1V496.6h1V496.6h1V496.9h1V496.0h1V495.7h1V495.8h1V495.5h1V496.5h1V496.9h1V496.9h1V493.1h1V496.9h1V495.3h1V493.7h1V496.9h1V496.8h1V496.9h1V496.9h1V493.6h1V496.9h1V496.2h1V495.8h1V495.3h1V496.9h1V496.8h1V495.2h1V496.7h1V496.8h1V492.4h1V494.4h1V495.6h1V494.0h1V492.7h1V495.4h1V493.2h1V496.0h1V492.0h1V494.4h1V496.9h1V496.9h1V495.3h1V494.5h1V495.7h1V496.9h1V496.9h1V494.7h1V495.5h1V496.9h1V494.5h1V496.9h1V496.9h1V496.3h1V496.9h1V496.9h1V495.5h1V496.9h1V496.9h1V492.8h1V496.4h1V496.9h1V496.3h1V495.0h1V495.8h1V495.6h1V496.7h1V496.9h1V493.0h1V492.7h1V494.0h1V496.9h1V496.3h1V496.8h1V495.9h1V496.9h1V496.9h1V495.0h1V496.1h1V493.2h1V496.8h1V493.7h1V493.1h1V495.5h1V495.6h1V493.2h1V496.6h1V495.1h1V496.9h1V495.1h1V496.9h1V496.9h1V496.3h1V495.8h1V496.9h1V496.9h1V496.9h1V495.4h1V495.6h1V492.7h1V493.1h1V493.1h1V494.3h1V493.6h1V496.4h1V493.8h1V492.5h1V496.2h1V492.7h1V492.3h1V492.6h1V496.8h1V496.9h1V492.8h1V492.1h1V496.0h1V496.9h1V496.9h1V495.4h1V495.9h1V495.6h1V494.4h1V495.7h1V496.9h1V496.5h1V496.9h1V493.7h1V496.9h1V496.9h1V494.5h1V496.4h1V496.5h1V495.3h1V494.5h1V495.6h1V494.3h1V495.1h1V496.9h1V495.8h1V496.9h1V496.9h1V495.3h1V494.5h1V496.9h1V496.5h1V496.8h1V496.9h1V494.6h1V496.9h1V496.9h1V496.5h1V494.8h1V495.9h1V496.9h1V496.9h1V496.9h1V496.9h1V496.9h1V496.9h1V496.9h1V496.9h1V496.9h1V496.9h1V495.6h1V496.5h1V496.8h1V496.9h1V496.9h1V496.9h1V496.9h1V495.3h1V496.0h1V496.9h1V496.9h1V496.9h1V496.6h1V493.4h1V496.2h1V494.7h1V495.3h1V493.4h1V496.1h1V496.2h1V493.8h1V493.0h1V494.2h1V496.9h1V496.9h1V495.8h1V496.0h1V494.2h1V493.7h1V495.6h1V493.1h1V496.5h1V495.3h1V496.0h1V496.1h1V496.9h1V495.3h1V496.5h1V493.6h1V496.6h1V496.9h1V496.9h1V495.1h1V496.9h1V496.9h1V497.4Z" fill="#fb6161"/>
<rect x="51.3" y="509.8" width="565.0" height="8.4" fill="#f7f7f7"/>
<path d="M51.3 518.2V516.3h1V517.7h1V517.7h1V517.3h1V517.7h1V516.7h1V517.7h1V517.7h1V515.9h1V517.7h1V517.7h1V516.9h1V517.4h1V517.2h1V516.9h1V517.7h1V517.7h1V517.7h1V517.3h1V517.7h1V517.7h1V517.7h1V517.5h1V517.7h1V517.6h1V517.7h1V516.4h1V517.7h1V517.7h1V517.7h1V517.7h1V517.7h1V516.3h1V517.7h1V517.5h1V517.7h1V516.8h1V517.7h1V517.7h1V517.7h1V517.5h1V517.7h1V516.8h1V517.7h1V517.7h1V517.4h1V517.2h1V516.5h1V517.7h1V516.4h1V517.7h1V517.7h1V517.7h1V517.7h1V517.7h1V517.7h1V517.7h1V516.4h1V517.7h1V517.0h1V517.7h1V517.7h1V517.7h1V517.7h1V516.3h1V516.3h1V517.7h1V517.5h1V517.7h1V516.0h1V517.7h1V516.2h1V517.7h1V517.7h1V516.0h1V515.3h1V517.7h1V517.7h1V517.7h1V517.6h1V517.7h1V517.7h1V517.5h1V517.7h1V516.0h1V515.8h1V517.7h1V517.4h1V517.1h1V517.1h1V517.7h1V515.8h1V517.7h1V515.4h1V517.7h1V516.8h1V517.7h1V517.7h1V517.7h1V517.7h1V517.7h1V517.7h1V517.7h1V517.7h1V517.7h1V517.7h1V517.4h1V517.7h1V517.7h1V514.9h1V514.9h1V517.3h1V516.4h1V516.3h1V517.7h1V517.6h1V517.7h1V517.7h1V517.7h1V517.7h1V517.7h1V517.7h1V516.6h1V517.7h1V517.0h1V516.3h1V517.7h1V516.7h1V517.7h1V517.7h1V516.6h1V517.7h1V516.4h1V515.8h1V517.2h1V517.7h1V517.7h1V516.1h1V517.7h1V515.2h1V517.7h1V517.7h1V517.7h1V517.7h1V515.5h1V517.7h1V517.7h1V517.7h1V515.5h1V517.7h1V515.3h1V517.7h1V517.7h1V517.7h1V517.7h1V517.0h1V517.6h1V517.4h1V517.7h1V517.7h1V516.8h1V517.7h1V517.7h1V517.7h1V516.5h1V517.7h1V517.7h1V517.7h1V517.7h1V517.7h1V517.7h1V517.7h1V516.8h1V517.7h1V515.1h1V517.7h1V517.0h1V515.8h1V517.7h1V517.7h1V517.5h1V517.7h1V515.1h1V516.7h1V515.8h1V517.7h1V517.3h1V517.7h1V517.7h1V517.7h1V515.8h1V517.7h1V517.7h1V517.5h1V517.7h1V517.7h1V517.7h1V516.8h1V517.7h1V515.3h1V517.7h1V517.2h1V517.7h1V516.6h1V517.7h1V517.7h1V517.7h1V517.7h1V516.7h1V516.2h1V517.7h1V517.7h1V517.7h1V517.7h1V517.7h1V517.7h1V516.4h1V515.6h1V517.7h1V517.7h1V515.5h1V516.4h1V517.7h1V517.1h1V517.7h1V517.7h1V517.4h1V517.7h1V517.7h1V517.7h1V517.7h1V517.7h1V517.0h1V517.7h1V516.5h1V515.8h1V517.5h1V517.6h1V516.9h1V517.7h1V517.7h1V517.7h1V517.3h1V517.7h1V515.8h1V515.7h1V517.7h1V517.7h1V517.7h1V517.7h1V517.7h1V516.7h1V516.8h1V517.7h1V517.7h1V517.7h1V517.7h1V517.7h1V517.6h1V517.7h1V516.7h1V517.6h1V517.7h1V517.4h1V517.7h1V517.7h1V516.6h1V517.7h1V517.7h1V517.7h1V516.2h1V517.7h1V517.7h1V517.7h1V517.7h1V517.7h1V517.7h1V517.2h1V517.7h1V517.7h1V517.7h1V517.2h1V517.7h1V516.4h1V515.9h1V517.7h1V517.7h1V515.7h1V517.7h1V517.7h1V517.7h1V517.7h1V517.7h1V517.7h1V517.7h1V517.7h1V517.7h1V517.7h1V517.7h1V515.9h1V516.1h1V516.5h1V517.7h1V516.6h1V517.7h1V517.7h1V517.7h1V517.7h1V516.5h1V515.9h1V517.7h1V517.7h1V517.4h1V516.6h1V517.7h1V516.0h1V516.7h1V517.7h1V517.7h1V517.5h1V517.7h1V517.7h1V515.8h1V517.3h1V517.7h1V515.4h1V517.7h1V515.3h1V517.7h1V517.7h1V517.7h1V517.7h1V517.5h1V517.7h1V516.0h1V516.7h1V517.7h1V517.7h1V517.7h1V517.7h1V516.0h1V516.8h1V515.1h1V517.7h1V517.7h1V516.6h1V516.1h1V516.7h1V517.7h1V516.4h1V517.2h1V517.7h1V517.0h1V517.7h1V516.9h1V516.6h1V517.0h1V517.7h1V517.7h1V517.1h1V517.7h1V517.7h1V517.3h1V516.6h1V517.7h1V517.7h1V517.5h1V517.7h1V517.7h1V517.7h1V515.5h1V517.7h1V517.7h1V516.5h1V517.7h1V517.7h1V517.7h1V517.7h1V517.7h1V517.6h1V517.7h1V517.4h1V517.7h1V516.5h1V517.7h1V516.2h1V517.7h1V517.7h1V517.7h1V517.2h1V517.7h1V517.6h1V517.7h1V517.7h1V517.5h1V517.5h1V515.1h1V516.0h1V517.7h1V516.6h1V517.7h1V517.7h1V517.7h1V517.7h1V517.3h1V517.4h1V517.7h1V517.7h1V517.1h1V517.1h1V517.7h1V515.9h1V517.1h1V517.7h1V517.7h1V516.2h1V517.4h1V516.5h1V517.7h1V516.6h1V517.7h1V517.7h1V516.2h1V517.7h1V517.7h1V516.6h1V516.5h1V517.7h1V516.7h1V517.7h1V516.0h1V517.7h1V517.7h1V517.7h1V517.7h1V515.3h1V517.7h1V515.7h1V517.7h1V517.2h1V517.7h1V517.7h1V517.7h1V517.7h1V516.5h1V516.1h1V517.7h1V517.7h1V516.1h1V516.2h1V517.7h1V517.7h1V517.6h1V517.4h1V517.7h1V516.2h1V517.4h1V516.0h1V517.7h1V515.6h1V517.7h1V515.1h1V517.7h1V517.7h1V517.5h1V516.4h1V517.7h1V515.0h1V516.9h1V517.7h1V517.0h1V517.7h1V517.7h1V517.7h1V517.7h1V517.7h1V515.9h1V517.7h1V517.7h1V517.7h1V517.7h1V517.7h1V517.4h1V516.1h1V517.7h1V517.7h1V517.7h1V517.6h1V516.2h1V517.7h1V517.7h1V517.7h1V517.7h1V517.7h1V516.0h1V517.7h1V517.7h1V516.1h1V517.7h1V517.7h1V517.2h1V517.7h1V517.7h1V515.7h1V517.7h1V516.0h1V517.7h1V517.7h1V517.2h1V517.7h1V517.1h1V517.7h1V517.7h1V516.6h1V517.7h1V517.7h1V516.4h1V517.7h1V517.0h1V517.7h1V517.6h1V517.7h1V517.7h1V516.5h1V516.1h1V517.7h1V517.7h1V517.7h1V517.5h1V516.9h1V517.7h1V517.7h1V517.7h1V517.7h1V517.0h1V515.2h1V517.7h1V515.4h1V517.7h1V517.7h1V516.0h1V517.7h1V517.5h1V516.4h1V517.7h1V517.4h1V516.9h1V517.7h1V517.7h1V517.7h1V515.5h1V515.4h1V517.7h1V516.6h1V516.5h1V516.9h1V517.7h1V516.2h1V515.7h1V517.7h1V517.7h1V517.7h1V516.9h1V516.8h1V516.0h1V518.2Z" fill="#55c0f5"/>
<rect x="51.3" y="531.7" width="565.0" height="9.8" fill="#f7f7f7"/>
<path d="M51.3 541.5V540.5h1V540.5h1V540.5h1V539.9h1V540.3h1V538.8h1V538.5h1V538.8h1V540.5h1V538.4h1V540.5h1V540.5h1V540.3h1V540.5h1V539.7h1V539.3h1V539.8h1V539.2h1V538.6h1V540.5h1V538.7h1V540.2h1V540.5h1V537.9h1V539.9h1V539.1h1V538.5h1V540.5h1V539.6h1V537.9h1V540.0h1V538.8h1V540.5h1V540.3h1V539.1h1V539.0h1V540.5h1V540.5h1V538.8h1V538.9h1V540.5h1V539.6h1V540.5h1V540.5h1V538.4h1V540.1h1V540.3h1V540.4h1V540.5h1V540.5h1V540.5h1V538.9h1V540.5h1V540.5h1V537.8h1V540.5h1V539.8h1V540.5h1V539.4h1V539.9h1V540.4h1V538.9h1V540.5h1V540.5h1V537.8h1V538.9h1V539.2h1V540.3h1V537.0h1V539.8h1V538.2h1V539.9h1V539.6h1V539.2h1V539.8h1V537.6h1V540.5h1V536.7h1V535.2h1V536.0h1V539.1h1V536.0h1V539.4h1V538.8h1V535.1h1V536.1h1V540.0h1V538.8h1V537.8h1V536.9h1V539.5h1V540.4h1V537.2h1V539.1h1V538.0h1V538.3h1V540.5h1V539.0h1V540.5h1V538.7h1V537.8h1V539.2h1V536.6h1V536.7h1V540.1h1V539.5h1V540.3h1V539.5h1V540.1h1V535.9h1V538.8h1V539.1h1V540.1h1V540.4h1V539.4h1V538.9h1V539.4h1V537.5h1V537.6h1V540.5h1V538.2h1V540.5h1V540.2h1V539.8h1V537.6h1V540.5h1V540.1h1V537.3h1V539.4h1V540.5h1V537.6h1V538.8h1V537.6h1V540.0h1V538.9h1V537.6h1V535.9h1V540.0h1V538.5h1V536.4h1V540.5h1V536.2h1V540.3h1V536.2h1V538.4h1V538.2h1V535.7h1V540.5h1V536.7h1V537.8h1V540.3h1V539.7h1V539.1h1V539.6h1V540.4h1V540.5h1V539.7h1V538.9h1V540.5h1V538.6h1V540.5h1V540.5h1V540.5h1V540.5h1V540.5h1V539.6h1V540.3h1V539.3h1V540.5h1V540.5h1V540.5h1V538.3h1V538.8h1V538.9h1V536.8h1V537.9h1V539.8h1V538.5h1V539.1h1V537.3h1V539.7h1V536.3h1V538.0h1V539.9h1V539.4h1V538.7h1V538.9h1V539.0h1V540.5h1V539.3h1V538.1h1V536.9h1V539.8h1V537.9h1V539.6h1V539.0h1V539.2h1V537.8h1V537.8h1V540.0h1V540.5h1V539.0h1V537.9h1V538.1h1V537.7h1V539.0h1V538.0h1V535.4h1V537.3h1V535.8h1V540.4h1V536.9h1V536.1h1V537.4h1V538.4h1V538.3h1V535.1h1V535.9h1V537.7h1V538.1h1V539.6h1V540.2h1V539.1h1V540.1h1V540.5h1V539.7h1V540.5h1V538.3h1V537.6h1V539.3h1V540.5h1V540.5h1V539.3h1V540.5h1V540.5h1V537.5h1V540.5h1V539.2h1V539.9h1V538.5h1V539.7h1V537.5h1V537.6h1V538.2h1V540.1h1V536.8h1V539.1h1V540.5h1V540.5h1V540.5h1V540.5h1V537.7h1V537.6h1V540.5h1V540.2h1V540.5h1V539.6h1V538.1h1V537.9h1V540.5h1V539.7h1V540.4h1V540.5h1V537.9h1V539.0h1V540.5h1V538.8h1V540.3h1V538.4h1V540.3h1V539.2h1V540.5h1V540.5h1V540.5h1V539.3h1V539.6h1V540.5h1V539.1h1V538.1h1V538.7h1V536.2h1V540.5h1V538.9h1V538.8h1V537.5h1V539.4h1V540.5h1V539.1h1V539.1h1V537.0h1V536.9h1V538.3h1V539.7h1V538.1h1V540.3h1V540.5h1V538.1h1V538.6h1V538.3h1V540.5h1V537.8h1V540.5h1V538.9h1V540.5h1V537.8h1V538.8h1V538.5h1V540.1h1V537.3h1V539.4h1V537.6h1V537.3h1V540.5h1V540.5h1V537.5h1V538.9h1V540.5h1V540.5h1V540.1h1V536.0h1V539.7h1V537.9h1V539.5h1V539.2h1V538.7h1V539.2h1V536.1h1V538.5h1V539.7h1V538.8h1V539.6h1V535.7h1V540.4h1V536.1h1V536.6h1V537.1h1V538.7h1V539.4h1V540.2h1V539.3h1V537.0h1V540.4h1V539.5h1V535.4h1V537.2h1V537.7h1V538.0h1V539.7h1V539.9h1V540.1h1V540.5h1V538.0h1V540.4h1V539.3h1V540.5h1V540.5h1V539.0h1V539.4h1V540.5h1V540.5h1V540.5h1V539.5h1V540.5h1V540.2h1V538.6h1V540.4h1V539.5h1V539.4h1V540.5h1V536.2h1V538.8h1V538.1h1V539.3h1V537.4h1V539.3h1V540.5h1V540.0h1V538.2h1V540.5h1V538.7h1V539.5h1V539.7h1V539.6h1V540.5h1V540.5h1V538.2h1V540.5h1V539.8h1V539.5h1V535.9h1V539.4h1V535.1h1V538.7h1V536.3h1V536.2h1V535.4h1V535.3h1V540.0h1V540.5h1V537.8h1V540.2h1V540.5h1V540.3h1V539.6h1V539.8h1V538.7h1V538.1h1V537.3h1V540.5h1V538.9h1V539.0h1V538.6h1V540.2h1V539.9h1V539.1h1V537.3h1V540.4h1V538.1h1V539.7h1V540.5h1V539.5h1V539.3h1V537.3h1V540.1h1V539.4h1V536.0h1V539.7h1V540.2h1V539.5h1V540.2h1V537.7h1V538.0h1V537.7h1V538.0h1V540.2h1V540.1h1V536.6h1V537.8h1V540.0h1V537.8h1V539.5h1V538.6h1V537.6h1V540.5h1V540.5h1V538.4h1V539.4h1V540.5h1V539.6h1V540.5h1V540.5h1V538.8h1V539.1h1V539.1h1V540.2h1V535.1h1V535.8h1V536.1h1V540.2h1V535.9h1V539.2h1V538.6h1V538.6h1V536.2h1V537.5h1V540.4h1V537.5h1V539.7h1V540.4h1V537.7h1V536.0h1V539.0h1V540.3h1V540.5h1V540.5h1V538.7h1V539.8h1V540.5h1V536.7h1V540.5h1V538.4h1V537.5h1V538.5h1V540.3h1V537.0h1V537.2h1V537.1h1V536.7h1V538.3h1V540.5h1V540.5h1V537.9h1V537.5h1V540.4h1V537.9h1V540.4h1V537.7h1V539.9h1V539.1h1V538.3h1V540.0h1V540.5h1V539.1h1V540.2h1V537.7h1V539.4h1V538.3h1V539.5h1V539.9h1V539.0h1V538.1h1V538.0h1V538.7h1V540.5h1V540.1h1V539.0h1V539.1h1V540.5h1V540.3h1V539.4h1V540.5h1V539.8h1V539.4h1V540.5h1V540.5h1V539.4h1V539.9h1V540.5h1V538.9h1V540.5h1V539.6h1V538.9h1V537.3h1V535.3h1V539.8h1V539.3h1V536.4h1V536.1h1V535.3h1V540.4h1V538.9h1V539.8h1V536.1h1V536.8h1V538.0h1V540.3h1V536.2h1V538.7h1V540.5h1V538.4h1V537.3h1V536.9h1V539.3h1V540.5h1V539.2h1V540.5h1V538.4h1V538.7h1V539.3h1V536.9h1V537.0h1V540.0h1V536.9h1V539.5h1V536.0h1V541.5Z" fill="#cc3a00"/>
<rect x="51.3" y="554.1" width="565.0" height="10.0" fill="#f7f7f7"/>
<path d="M51.3 564.1V563.1h1V563.1h1V562.5h1V562.0h1V561.0h1V560.9h1V563.1h1V563.1h1V561.4h1V562.9h1V563.1h1V560.9h1V562.3h1V562.1h1V562.7h1V561.2h1V561.6h1V563.1h1V563.1h1V563.1h1V561.0h1V562.8h1V561.4h1V563.1h1V563.0h1V563.1h1V563.1h1V561.0h1V563.1h1V561.6h1V561.5h1V563.1h1V561.1h1V562.3h1V563.1h1V563.1h1V561.8h1V563.1h1V561.8h1V563.0h1V563.1h1V562.2h1V561.4h1V561.9h1V562.6h1V561.1h1V562.1h1V560.6h1V562.5h1V563.0h1V560.5h1V562.4h1V561.2h1V560.7h1V560.0h1V561.2h1V563.1h1V563.1h1V561.9h1V562.6h1V563.1h1V559.9h1V561.7h1V561.0h1V563.1h1V561.0h1V563.1h1V561.2h1V559.3h1V560.6h1V562.5h1V558.5h1V562.4h1V559.6h1V560.4h1V560.5h1V558.2h1V560.8h1V562.5h1V560.8h1V561.7h1V563.1h1V559.3h1V558.2h1V558.5h1V561.0h1V560.6h1V561.6h1V558.5h1V559.6h1V563.0h1V562.5h1V561.8h1V561.2h1V558.5h1V560.5h1V562.6h1V561.3h1V562.5h1V560.5h1V563.1h1V561.8h1V562.3h1V560.6h1V558.1h1V559.7h1V558.4h1V558.8h1V561.8h1V562.4h1V561.8h1V562.7h1V560.0h1V558.0h1V562.0h1V561.1h1V561.5h1V563.1h1V563.1h1V562.5h1V560.0h1V560.9h1V563.1h1V561.8h1V563.1h1V559.9h1V563.1h1V563.1h1V562.8h1V563.1h1V561.7h1V561.0h1V561.8h1V562.6h1V562.4h1V563.1h1V563.1h1V561.9h1V561.8h1V560.1h1V562.3h1V561.1h1V558.4h1V563.0h1V560.3h1V562.5h1V563.1h1V560.0h1V560.8h1V562.0h1V559.0h1V562.4h1V561.5h1V563.1h1V563.1h1V562.7h1V560.6h1V563.1h1V562.5h1V562.9h1V561.6h1V563.1h1V560.6h1V563.1h1V562.3h1V563.1h1V560.5h1V562.1h1V560.6h1V561.0h1V563.1h1V563.1h1V561.0h1V560.6h1V561.4h1V560.3h1V562.3h1V558.8h1V559.9h1V563.1h1V563.1h1V560.8h1V563.1h1V562.9h1V559.5h1V562.9h1V563.1h1V561.4h1V562.5h1V563.1h1V562.9h1V563.1h1V560.6h1V563.0h1V559.0h1V561.4h1V562.5h1V561.3h1V559.4h1V563.1h1V562.6h1V558.9h1V562.4h1V560.1h1V562.4h1V559.5h1V560.0h1V559.6h1V559.4h1V563.1h1V560.3h1V561.7h1V561.8h1V561.7h1V558.0h1V558.2h1V560.5h1V559.6h1V561.6h1V563.1h1V563.1h1V560.3h1V561.3h1V562.3h1V561.8h1V561.8h1V563.1h1V561.6h1V563.1h1V561.1h1V563.1h1V562.3h1V560.1h1V560.2h1V560.2h1V563.1h1V561.8h1V563.1h1V562.9h1V559.8h1V560.2h1V560.7h1V559.6h1V562.8h1V560.3h1V562.4h1V559.9h1V563.1h1V563.1h1V560.2h1V563.1h1V562.8h1V562.4h1V560.7h1V562.3h1V560.9h1V563.1h1V563.1h1V561.1h1V563.1h1V562.0h1V562.4h1V562.8h1V563.1h1V561.2h1V562.5h1V562.9h1V563.1h1V563.1h1V561.2h1V560.7h1V563.1h1V561.5h1V560.7h1V563.1h1V563.1h1V561.8h1V561.7h1V561.2h1V559.7h1V562.4h1V560.5h1V562.5h1V559.5h1V563.1h1V560.6h1V563.1h1V560.6h1V560.6h1V559.5h1V562.4h1V560.1h1V562.6h1V562.9h1V562.3h1V561.3h1V561.7h1V560.5h1V560.1h1V562.6h1V560.5h1V563.1h1V563.1h1V561.9h1V562.2h1V562.7h1V562.3h1V562.7h1V562.1h1V562.0h1V560.5h1V562.7h1V560.5h1V562.7h1V559.9h1V561.2h1V563.0h1V563.1h1V562.3h1V561.2h1V560.5h1V560.6h1V559.6h1V562.7h1V560.6h1V560.2h1V557.7h1V559.2h1V558.0h1V562.2h1V559.2h1V563.0h1V562.2h1V558.4h1V563.0h1V558.0h1V563.0h1V561.9h1V560.1h1V558.1h1V562.5h1V562.0h1V560.3h1V562.0h1V561.8h1V562.7h1V562.4h1V562.3h1V563.1h1V563.1h1V563.1h1V561.1h1V562.4h1V560.5h1V563.1h1V563.1h1V562.9h1V563.1h1V562.9h1V561.5h1V563.1h1V562.6h1V561.5h1V562.5h1V563.1h1V562.5h1V563.1h1V563.1h1V563.1h1V562.7h1V558.6h1V562.4h1V560.9h1V558.5h1V559.7h1V563.1h1V560.5h1V559.7h1V562.1h1V563.1h1V563.1h1V561.1h1V561.3h1V563.1h1V561.3h1V561.2h1V562.7h1V561.4h1V560.2h1V559.5h1V562.6h1V561.3h1V562.8h1V559.9h1V558.6h1V562.6h1V559.4h1V562.8h1V562.3h1V562.3h1V562.9h1V563.1h1V562.4h1V562.1h1V563.1h1V560.4h1V563.1h1V562.0h1V563.1h1V563.1h1V561.5h1V562.3h1V562.4h1V563.1h1V561.8h1V562.8h1V559.4h1V562.6h1V561.5h1V560.8h1V561.9h1V558.9h1V559.1h1V563.0h1V562.1h1V560.2h1V560.3h1V562.1h1V559.0h1V560.0h1V563.1h1V562.4h1V561.8h1V558.8h1V563.1h1V559.1h1V563.1h1V561.9h1V561.7h1V560.6h1V560.7h1V563.1h1V563.1h1V562.3h1V563.1h1V562.4h1V560.6h1V563.1h1V561.1h1V563.1h1V561.9h1V560.5h1V560.6h1V563.1h1V562.4h1V560.2h1V561.5h1V562.8h1V560.9h1V560.1h1V560.3h1V562.6h1V558.1h1V562.5h1V558.2h1V561.9h1V561.2h1V561.7h1V562.1h1V559.5h1V562.5h1V560.5h1V562.7h1V561.7h1V561.8h1V563.0h1V563.1h1V563.1h1V563.1h1V560.4h1V559.9h1V561.8h1V561.5h1V562.6h1V559.3h1V559.4h1V562.4h1V561.0h1V561.4h1V560.2h1V560.1h1V561.8h1V563.1h1V560.3h1V560.7h1V561.8h1V559.3h1V562.2h1V562.0h1V562.1h1V560.7h1V563.0h1V561.1h1V563.1h1V561.4h1V561.5h1V561.5h1V563.1h1V563.1h1V560.6h1V562.9h1V562.8h1V562.2h1V563.1h1V562.7h1V562.8h1V562.9h1V563.1h1V561.2h1V562.7h1V562.7h1V562.1h1V563.1h1V563.1h1V563.1h1V563.1h1V562.5h1V563.1h1V563.1h1V562.2h1V563.1h1V562.2h1V560.3h1V560.2h1V560.4h1V559.5h1V559.9h1V559.0h1V559.1h1V562.1h1V560.7h1V562.4h1V562.4h1V560.7h1V561.4h1V558.9h1V558.8h1V561.1h1V563.1h1V559.2h1V558.6h1V558.8h1V563.1h1V563.1h1V561.2h1V561.7h1V563.1h1V563.1h1V560.2h1V558.3h1V559.0h1V559.4h1V563.1h1V561.4h1V560.3h1V564.1Z" fill="#0a0aa8"/>
<text x="53" y="485.5" font-size="8.5" fill="#222" font-weight="normal" text-anchor="start" textLength="17.2" lengthAdjust="spacingAndGlyphs">0-11</text>
<text x="53" y="508.8" font-size="8.5" fill="#222" font-weight="normal" text-anchor="start" textLength="17.2" lengthAdjust="spacingAndGlyphs">0-11</text>
<text x="53" y="531.3" font-size="8.5" fill="#222" font-weight="normal" text-anchor="start" textLength="17.2" lengthAdjust="spacingAndGlyphs">0-11</text>
<text x="53" y="552.3" font-size="8.5" fill="#222" font-weight="normal" text-anchor="start" textLength="17.2" lengthAdjust="spacingAndGlyphs">0-11</text>
<text x="609.6" y="491" font-size="10" fill="#d92d4f" font-weight="normal" text-anchor="start">m</text>
<text x="609.6" y="512.4" font-size="10" fill="#5aa9e6" font-weight="normal" text-anchor="start">p</text>
<text x="609.6" y="534.4" font-size="10" fill="#9a1830" font-weight="normal" text-anchor="start">m</text>
<text x="609.6" y="554.6" font-size="10" fill="#33339a" font-weight="normal" text-anchor="start">p</text>
<text x="634.5" y="495" font-size="9.6" fill="#000" font-weight="normal" text-anchor="start" transform="rotate(90 634.5 495)" textLength="12.8" lengthAdjust="spacingAndGlyphs">Ctr</text>
<text x="634.5" y="531" font-size="9.6" fill="#000" font-weight="normal" text-anchor="start" transform="rotate(90 634.5 531)" textLength="29" lengthAdjust="spacingAndGlyphs">matKO</text>
<g fill="#111" filter="url(#bl4)"><path d="M56 574.6 H133.4" stroke-width="0.5" stroke="#aaa"/><path d="M57.9 572.2 L56.3 574.6 L57.9 577.0" fill="none" stroke-width="0.75" stroke="#666"/><path d="M62.2 572.2 L60.6 574.6 L62.2 577.0" fill="none" stroke-width="0.75" stroke="#666"/><path d="M66.5 572.2 L64.9 574.6 L66.5 577.0" fill="none" stroke-width="0.75" stroke="#666"/><path d="M70.8 572.2 L69.2 574.6 L70.8 577.0" fill="none" stroke-width="0.75" stroke="#666"/><path d="M75.1 572.2 L73.5 574.6 L75.1 577.0" fill="none" stroke-width="0.75" stroke="#666"/><path d="M79.4 572.2 L77.8 574.6 L79.4 577.0" fill="none" stroke-width="0.75" stroke="#666"/><path d="M83.7 572.2 L82.1 574.6 L83.7 577.0" fill="none" stroke-width="0.75" stroke="#666"/><path d="M88.0 572.2 L86.4 574.6 L88.0 577.0" fill="none" stroke-width="0.75" stroke="#666"/><path d="M92.3 572.2 L90.7 574.6 L92.3 577.0" fill="none" stroke-width="0.75" stroke="#666"/><path d="M96.6 572.2 L95.0 574.6 L96.6 577.0" fill="none" stroke-width="0.75" stroke="#666"/><path d="M100.9 572.2 L99.3 574.6 L100.9 577.0" fill="none" stroke-width="0.75" stroke="#666"/><rect x="104.5" y="571.95" width="5.3" height="5.3" fill="#111"/><rect x="109.6" y="569.35" width="0.6" height="10.5" fill="#555"/><path d="M113.1 572.2 L111.5 574.6 L113.1 577.0" fill="none" stroke-width="0.75" stroke="#666"/><path d="M115.6 572.2 L114.0 574.6 L115.6 577.0" fill="none" stroke-width="0.75" stroke="#666"/><path d="M118.1 572.2 L116.5 574.6 L118.1 577.0" fill="none" stroke-width="0.75" stroke="#666"/><rect x="120" y="572.35" width="2.4" height="4.5" fill="#555"/><rect x="120.8" y="573.10" width="0.8" height="3" fill="#fff"/><path d="M127.0 572.2 L128.6 574.6 L127.0 577.0" fill="none" stroke-width="0.75" stroke="#666"/><path d="M131.3 572.2 L132.9 574.6 L131.3 577.0" fill="none" stroke-width="0.75" stroke="#666"/><path d="M194.4 574.6 H203.5" stroke-width="0.5" stroke="#aaa"/><path d="M194.4 572.0 L196.0 574.6 L194.4 577.2" fill="none" stroke-width="0.75" stroke="#777"/><path d="M196.7 572.0 L198.3 574.6 L196.7 577.2" fill="none" stroke-width="0.75" stroke="#777"/><path d="M199.0 572.0 L200.6 574.6 L199.0 577.2" fill="none" stroke-width="0.75" stroke="#777"/><rect x="201.5" y="572.10" width="1.2" height="5" fill="#777"/><rect x="206" y="571.70" width="0.9" height="5.8" fill="#444"/><path d="M235.8 574.6 H326.4" stroke-width="0.5" stroke="#aaa"/><rect x="236" y="572.1" width="14" height="5" fill="#888" opacity="0.7"/><rect x="251" y="572.1" width="11" height="5" fill="#888" opacity="0.7"/><rect x="266" y="572.1" width="20" height="5" fill="#888" opacity="0.7"/><rect x="289" y="572.1" width="11" height="5" fill="#888" opacity="0.7"/><rect x="304" y="572.1" width="7" height="5" fill="#888" opacity="0.7"/><rect x="317" y="572.1" width="9" height="5" fill="#888" opacity="0.7"/><rect x="235.8" y="569.60" width="1.7" height="10" fill="#111"/><rect x="242.4" y="570.60" width="2.2" height="8" fill="#666"/><rect x="245.3" y="571.60" width="2.9" height="6" fill="#111"/><rect x="251.9" y="571.85" width="1" height="5.5" fill="#555"/><rect x="253.5" y="571.85" width="2.5" height="5.5" fill="#222"/><rect x="256.5" y="571.85" width="2.5" height="5.5" fill="#333"/><rect x="259.5" y="571.85" width="1.9" height="5.5" fill="#444"/><rect x="263.6" y="569.60" width="1.4" height="10" fill="#111"/><rect x="267.2" y="571.60" width="2.2" height="6" fill="#888"/><rect x="271.6" y="571.10" width="2.2" height="7" fill="#111"/><rect x="275.3" y="571.60" width="1.4" height="6" fill="#777"/><rect x="277.4" y="570.60" width="1.5" height="8" fill="#111"/><rect x="280.4" y="571.10" width="1.5" height="7" fill="#222"/><rect x="282.5" y="571.10" width="2.2" height="7" fill="#333"/><rect x="289.9" y="571.60" width="1.8" height="6" fill="#111"/><rect x="292.3" y="571.60" width="2.4" height="6" fill="#222"/><rect x="295.4" y="571.60" width="1.6" height="6" fill="#333"/><rect x="297.6" y="571.60" width="1" height="6" fill="#777"/><rect x="305.2" y="571.10" width="1.5" height="7" fill="#666"/><rect x="307.2" y="571.10" width="2.2" height="7" fill="#111"/><rect x="317.6" y="570.10" width="1.4" height="9" fill="#222"/><rect x="319.8" y="571.60" width="1.4" height="6" fill="#555"/><rect x="323.4" y="571.60" width="2.2" height="6" fill="#222"/><rect x="348.6" y="571.60" width="0.8" height="6" fill="#999"/><rect x="358.2" y="571.60" width="1.6" height="6" fill="#111"/><rect x="362.6" y="569.10" width="2.4" height="11" fill="#aaa"/><rect x="361.8" y="571.60" width="1.3" height="6" fill="#111"/><rect x="365.2" y="571.60" width="1.3" height="6" fill="#111"/><path d="M358 574.6 H367" stroke-width="0.5" stroke="#aaa"/><path d="M505 574.6 H510.9" stroke-width="0.5" stroke="#aaa"/><path d="M505.0 572.2 L506.6 574.6 L505.0 577.0" fill="none" stroke-width="0.75" stroke="#888"/><path d="M507.3 572.2 L508.9 574.6 L507.3 577.0" fill="none" stroke-width="0.75" stroke="#888"/><rect x="509.8" y="572.35" width="0.8" height="4.5" fill="#444"/><rect x="520.7" y="572.10" width="0.8" height="5" fill="#333"/><path d="M519.3 574.6 H522.4" stroke="#333" stroke-width="0.6"/><path d="M547.8 574.6 H610.8" stroke-width="0.5" stroke="#aaa"/><rect x="547.8" y="570.10" width="2" height="9" fill="#999"/><rect x="554" y="571.60" width="2" height="6" fill="#111"/><rect x="556.6" y="569.60" width="0.8" height="10" fill="#999"/><rect x="558.5" y="571.60" width="2" height="6" fill="#111"/><path d="M564.1 572.2 L562.5 574.6 L564.1 577.0" fill="none" stroke-width="0.75" stroke="#666"/><path d="M567.8 572.2 L566.2 574.6 L567.8 577.0" fill="none" stroke-width="0.75" stroke="#666"/><path d="M571.5 572.2 L569.9 574.6 L571.5 577.0" fill="none" stroke-width="0.75" stroke="#666"/><path d="M575.2 572.2 L573.6 574.6 L575.2 577.0" fill="none" stroke-width="0.75" stroke="#666"/><path d="M578.9 572.2 L577.3 574.6 L578.9 577.0" fill="none" stroke-width="0.75" stroke="#666"/><path d="M582.6 572.2 L581.0 574.6 L582.6 577.0" fill="none" stroke-width="0.75" stroke="#666"/><path d="M586.3 572.2 L584.7 574.6 L586.3 577.0" fill="none" stroke-width="0.75" stroke="#666"/><rect x="589" y="571.85" width="4" height="5.5" fill="#111"/><path d="M596.1 572.2 L594.5 574.6 L596.1 577.0" fill="none" stroke-width="0.75" stroke="#666"/><path d="M599.8 572.2 L598.2 574.6 L599.8 577.0" fill="none" stroke-width="0.75" stroke="#666"/><path d="M603.5 572.2 L601.9 574.6 L603.5 577.0" fill="none" stroke-width="0.75" stroke="#666"/><path d="M607.2 572.2 L605.6 574.6 L607.2 577.0" fill="none" stroke-width="0.75" stroke="#666"/><path d="M610.9 572.2 L609.3 574.6 L610.9 577.0" fill="none" stroke-width="0.75" stroke="#666"/></g>
<text x="71.5" y="594.2" font-size="8.8" fill="#000" font-weight="normal" text-anchor="start" textLength="25.5" lengthAdjust="spacingAndGlyphs">Skap2</text>
<text x="266.7" y="594.1" font-size="8.8" fill="#000" font-weight="normal" text-anchor="start" textLength="21.5" lengthAdjust="spacingAndGlyphs">HoxA</text>
<text x="554" y="595.2" font-size="8.8" fill="#000" font-weight="normal" text-anchor="start" textLength="29" lengthAdjust="spacingAndGlyphs">Hibadh</text>
<text x="652" y="598.6" font-size="8.8" fill="#000" font-weight="normal" text-anchor="start" textLength="28.4" lengthAdjust="spacingAndGlyphs">density</text>
<text x="411.0" y="9.9" font-size="19" fill="#000" font-weight="normal" text-anchor="start">c</text>
<g stroke="#000" stroke-width="2.8" fill="none" stroke-linecap="square">
<path d="M479 43.6 H494.7"/>
<path d="M479 43.6 V67.1"/>
<path d="M476.8 67.1 H494.7"/>
<path d="M478 55.4 H476.3"/>
<path d="M476.3 55.4 V91.3"/>
<path d="M476.3 91.3 H494.7"/>
<path d="M486.4 115.3 H494.7"/>
<path d="M486.4 115.3 V139"/>
<path d="M486.4 139 H494.7"/>
<path d="M472.4 73 H476.3"/>
<path d="M472.4 73 V127"/>
<path d="M472.4 127 H486.4"/>
<path d="M482 162.4 H494.7"/>
<path d="M482 162.4 V186.4"/>
<path d="M482 186.4 H494.7"/>
<path d="M465.4 100 H472.4"/>
<path d="M465.4 100 V174.7"/>
<path d="M465.4 174.7 H482"/>
<path d="M479.4 210.2 H494.7"/>
<path d="M479.4 210.2 V233.7"/>
<path d="M479.4 233.7 H494.7"/>
<path d="M470.1 221.4 H479.4"/>
<path d="M470.1 221.4 V257.9"/>
<path d="M470.1 257.9 H494.7"/>
<path d="M454.9 137 H465.4"/>
<path d="M454.9 137 V240"/>
<path d="M454.9 240 H470.1"/>
</g>
<text x="499.0" y="47.5" font-size="9.6" fill="#9b1c31" font-weight="bold" text-anchor="start" textLength="86.3" lengthAdjust="spacingAndGlyphs">2C maternal matKO</text>
<text x="499.0" y="71.0" font-size="9.6" fill="#e8384f" font-weight="bold" text-anchor="start" textLength="69.19999999999999" lengthAdjust="spacingAndGlyphs">2C maternal Ctr</text>
<text x="499.0" y="95.2" font-size="9.6" fill="#e8384f" font-weight="bold" text-anchor="start" textLength="103.3" lengthAdjust="spacingAndGlyphs">blastocyst maternal Ctr</text>
<text x="499.0" y="119.2" font-size="9.6" fill="#2e3c91" font-weight="bold" text-anchor="start" textLength="117.89999999999999" lengthAdjust="spacingAndGlyphs">blastocyst paternal matKO</text>
<text x="499.0" y="142.9" font-size="9.6" fill="#9b1c31" font-weight="bold" text-anchor="start" textLength="120.0" lengthAdjust="spacingAndGlyphs">blastocyst maternal matKO</text>
<text x="499.0" y="166.3" font-size="9.6" fill="#9b1c31" font-weight="bold" text-anchor="start" textLength="51.300000000000004" lengthAdjust="spacingAndGlyphs">oocytes KO</text>
<text x="499.0" y="190.3" font-size="9.6" fill="#e8384f" font-weight="bold" text-anchor="start" textLength="51.300000000000004" lengthAdjust="spacingAndGlyphs">oocytes Ctr</text>
<text x="499.0" y="214.1" font-size="9.6" fill="#3aaae6" font-weight="bold" text-anchor="start" textLength="100.39999999999999" lengthAdjust="spacingAndGlyphs">blastocyst paternal Ctr</text>
<text x="499.0" y="237.6" font-size="9.6" fill="#3aaae6" font-weight="bold" text-anchor="start" textLength="67.19999999999999" lengthAdjust="spacingAndGlyphs">2C paternal Ctr</text>
<text x="499.0" y="261.79999999999995" font-size="9.6" fill="#2e3c91" font-weight="bold" text-anchor="start" textLength="83.8" lengthAdjust="spacingAndGlyphs">2C paternal matKO</text>
<text x="-0.5" y="632.8" font-size="17.5" fill="#000" font-weight="normal" text-anchor="start">d</text>
<text x="110.8" y="646.4" font-size="9.4" fill="#000" font-weight="normal" text-anchor="start" textLength="36.2" lengthAdjust="spacingAndGlyphs">2C stage</text>
<path d="M118.9 792.0h0M119.4 792.3h0M154.1 796.8h0M140.2 812.9h0M125.7 799.5h0M139.3 810.6h0M130.8 810.9h0M170.9 794.8h0M131.2 793.7h0M131.7 809.4h0M168.3 791.5h0M133.6 797.8h0M147.4 791.7h0M172.4 791.9h0M131.1 814.7h0M144.2 799.3h0M160.4 802.5h0M137.6 815.9h0M130.0 814.6h0M153.3 811.7h0M137.1 818.8h0M107.3 795.9h0M141.9 792.0h0M137.4 816.7h0M170.4 797.3h0M121.3 795.0h0M157.1 793.1h0M153.2 792.1h0M149.0 792.6h0M144.7 792.6h0M124.3 809.2h0M133.4 811.7h0M117.6 811.8h0M176.2 792.2h0M138.7 808.5h0M157.8 809.8h0M140.5 794.4h0M135.1 801.2h0M157.8 806.5h0M130.3 811.3h0M144.3 791.1h0M126.4 791.6h0M120.0 800.1h0M142.2 804.1h0M146.2 791.9h0M149.1 800.9h0M133.6 795.5h0M142.8 805.1h0M143.1 797.9h0M111.1 798.6h0M133.6 795.8h0M125.1 805.7h0M158.2 810.5h0M129.6 807.9h0M129.0 798.1h0M121.9 803.3h0M121.5 803.1h0M117.2 793.0h0M121.1 799.4h0M98.0 792.8h0M155.9 796.2h0M106.0 793.0h0M149.8 797.4h0M160.8 796.6h0M140.5 816.7h0M115.4 800.9h0M130.7 798.6h0M128.3 802.3h0M137.9 815.4h0M142.2 810.1h0M154.0 798.1h0M140.9 808.8h0M137.6 817.1h0M136.8 818.4h0M144.4 799.1h0M124.1 800.2h0M126.2 794.4h0M154.3 794.3h0M127.8 799.3h0M125.5 791.9h0M157.8 792.8h0M132.9 813.1h0M117.5 797.6h0M128.5 804.3h0M127.0 791.6h0M141.7 791.9h0M154.9 791.4h0M126.4 803.2h0M118.4 804.2h0M135.2 804.3h0M125.0 794.3h0M141.6 801.1h0M131.7 808.3h0M172.8 799.1h0M149.9 801.3h0M136.2 812.1h0M136.8 817.7h0M129.4 805.6h0M131.6 805.2h0M155.3 797.8h0M148.6 792.7h0M139.8 800.8h0M163.8 796.6h0M139.6 799.3h0M103.3 796.4h0M141.0 810.0h0M128.7 794.3h0M165.0 797.1h0M131.0 811.4h0M163.3 796.9h0M123.3 799.2h0M137.3 818.9h0M140.7 798.1h0M165.5 795.1h0M153.3 794.0h0M129.7 798.3h0M160.4 803.7h0M129.9 810.9h0M124.8 798.5h0M126.9 812.4h0M132.8 800.1h0M141.2 793.5h0M148.0 799.1h0M149.4 792.2h0M133.4 811.5h0M140.8 801.7h0M153.7 805.1h0M126.6 807.3h0M137.2 818.9h0M118.5 795.5h0M147.6 812.5h0M159.2 806.6h0M151.8 793.3h0M151.7 804.6h0M138.2 817.6h0M133.5 792.1h0M132.5 791.7h0M127.1 794.5h0M150.9 807.2h0M153.7 798.1h0M128.2 794.4h0M149.5 794.7h0M109.5 795.8h0M149.4 796.0h0M131.6 809.8h0M141.4 793.3h0M111.2 799.9h0M140.2 799.1h0M121.5 809.6h0M144.6 804.7h0M113.1 804.2h0M158.1 807.1h0M134.5 816.6h0M148.1 803.9h0M158.9 799.0h0M128.1 811.5h0M130.8 796.5h0M125.9 809.0h0M148.1 803.8h0M138.8 809.5h0M130.5 796.5h0M153.2 807.7h0M138.5 807.9h0M160.1 791.5h0M142.6 803.9h0M137.3 817.6h0M155.8 809.8h0M135.9 806.5h0M101.0 800.0h0M139.1 807.4h0M148.1 805.9h0M141.5 816.2h0M146.7 803.6h0M135.4 815.7h0M134.2 792.7h0M143.9 793.9h0M137.7 814.9h0M139.9 805.0h0M119.5 803.1h0M119.5 794.0h0M138.3 816.6h0M144.7 794.6h0M134.0 808.6h0M144.6 803.4h0M126.8 797.1h0M131.7 809.9h0M133.7 803.8h0M151.7 795.7h0M106.2 793.0h0M125.8 802.4h0M146.3 796.3h0M116.5 803.2h0M142.9 814.7h0M123.1 806.7h0M131.4 795.9h0M125.8 814.9h0M144.8 793.8h0M139.7 799.2h0M139.0 809.2h0M153.3 799.1h0M148.7 800.7h0M115.1 795.9h0M102.7 794.3h0M149.2 792.7h0M121.1 795.2h0M141.1 801.0h0M157.5 794.3h0M133.2 815.4h0M141.1 802.2h0M136.5 816.0h0M139.8 800.4h0M149.3 795.8h0M137.9 810.8h0M151.5 793.7h0M125.6 794.3h0M126.5 814.7h0M140.5 793.1h0M143.3 795.2h0M126.6 798.4h0M158.0 800.6h0M155.6 806.4h0M138.3 813.3h0M150.3 801.4h0M139.4 805.9h0M165.3 793.5h0M134.0 801.0h0M141.5 797.7h0M123.1 805.6h0M142.9 799.9h0M140.2 797.0h0M124.7 796.5h0M170.4 794.0h0M118.4 795.9h0M103.2 791.9h0M129.0 793.1h0M130.3 791.6h0M122.2 803.6h0M132.9 798.3h0M164.5 798.2h0M117.1 796.5h0M114.0 792.7h0M129.0 806.5h0M134.7 811.5h0M158.5 794.5h0M138.0 810.5h0M142.6 796.6h0M123.0 792.8h0M145.2 807.1h0M105.3 805.4h0M112.3 798.1h0M129.3 799.5h0M131.1 797.4h0M136.4 812.0h0M131.6 806.2h0M150.2 806.8h0M119.1 793.6h0M130.1 811.1h0M138.1 816.1h0M131.7 796.4h0M132.3 795.0h0M129.0 798.6h0M103.0 792.6h0M141.6 805.0h0M140.5 797.7h0M136.8 817.1h0M130.6 812.4h0M124.8 800.9h0M128.5 792.1h0M160.6 801.1h0M148.5 801.8h0M121.7 802.4h0M157.1 799.8h0M128.2 806.4h0M111.4 793.1h0M132.2 808.7h0M136.5 818.1h0M136.2 809.1h0M144.0 804.4h0M143.3 794.9h0M134.4 795.9h0M135.3 807.5h0M139.3 804.0h0M147.4 802.3h0M140.7 814.0h0M130.1 801.4h0M174.9 797.3h0M140.0 793.1h0M120.9 797.4h0M140.4 804.0h0M137.9 811.7h0M150.1 795.4h0M129.5 810.9h0M140.2 791.2h0M121.2 802.4h0M134.8 800.0h0M154.4 808.7h0M131.3 793.1h0M138.7 813.5h0M165.9 794.0h0M140.5 808.9h0M169.0 803.3h0M119.6 805.2h0M137.5 818.1h0M122.2 791.5h0M135.1 802.8h0M130.7 804.9h0M116.9 803.1h0M140.0 808.1h0M113.1 799.7h0M130.1 817.3h0M139.2 802.3h0M121.1 811.0h0M132.8 805.7h0M137.1 819.1h0M115.7 800.1h0M144.1 796.9h0M172.0 791.4h0M122.6 792.4h0M152.0 799.7h0M145.0 792.6h0M131.1 811.6h0M155.7 800.1h0M127.5 814.0h0M132.9 805.8h0M162.1 802.8h0M168.9 792.6h0M134.9 806.4h0M166.1 799.2h0M134.4 793.2h0M168.6 803.1h0M161.1 808.6h0M145.2 794.6h0M105.8 796.6h0M138.2 809.4h0M120.8 792.0h0M123.4 813.3h0M134.4 802.9h0M130.9 793.2h0M136.0 808.6h0M131.3 796.1h0M136.4 812.7h0M150.1 792.9h0M128.3 807.6h0M139.0 812.0h0M149.4 803.0h0M144.7 798.1h0M140.9 797.5h0M144.6 799.9h0M144.5 801.8h0M132.6 793.1h0M115.7 794.4h0M129.3 806.6h0M146.4 793.2h0M144.6 798.7h0M112.6 794.7h0M107.2 803.3h0M117.0 809.5h0M115.1 799.5h0M120.9 802.6h0M118.4 809.7h0M159.7 793.0h0M146.8 806.5h0M152.8 792.8h0M170.6 798.7h0M127.5 800.1h0M142.7 813.0h0M101.3 794.6h0M134.5 795.8h0M151.5 791.4h0M149.8 802.3h0M134.4 803.6h0M156.5 799.8h0M150.3 792.6h0M129.7 794.8h0M128.8 792.3h0M135.6 809.5h0M154.6 804.6h0M127.1 807.2h0M111.5 803.5h0M141.9 797.4h0M136.2 816.6h0M130.0 813.5h0M116.8 805.1h0M144.2 812.6h0M126.8 814.3h0M131.4 812.3h0M138.3 809.0h0M123.2 793.4h0M148.1 793.4h0M131.0 803.7h0M100.7 794.4h0M158.7 794.9h0M174.2 792.1h0M137.3 817.7h0M149.2 796.2h0M117.3 795.7h0M116.4 800.0h0M119.0 794.9h0M141.1 801.0h0M107.9 802.2h0M149.4 806.9h0M177.1 793.3h0M120.4 805.7h0M151.8 797.7h0M114.9 799.9h0M124.6 796.1h0M122.6 801.5h0M152.0 811.6h0M135.2 816.2h0M166.6 794.4h0M150.5 794.7h0M147.7 800.7h0M164.3 794.9h0M141.4 799.1h0M130.7 816.7h0M107.6 791.2h0M138.8 815.3h0M142.5 813.7h0M137.3 818.1h0M138.3 812.1h0M156.4 795.7h0M170.2 797.8h0M122.0 802.0h0M141.9 797.4h0M152.1 793.3h0M119.1 794.3h0M117.5 792.9h0M148.5 802.2h0M142.1 797.6h0M149.9 808.1h0M108.2 803.9h0M130.9 805.1h0M145.0 811.3h0M147.1 812.2h0M156.6 793.5h0M137.8 811.4h0M144.8 814.8h0M141.3 796.0h0M109.5 792.0h0M141.0 800.9h0M144.9 794.6h0M151.4 805.7h0M139.5 809.8h0M131.7 799.5h0M157.8 802.9h0M151.1 795.0h0M128.6 801.2h0M158.7 797.3h0M156.1 800.2h0M126.0 802.5h0M144.4 814.1h0M147.2 807.5h0M135.4 801.2h0M143.6 813.3h0M116.0 803.3h0M167.8 794.9h0M130.3 805.8h0M138.8 808.4h0M140.8 807.4h0M133.2 794.7h0M122.8 793.9h0M136.9 817.8h0M125.3 802.8h0M119.3 801.8h0M146.7 799.1h0M128.0 809.9h0M113.4 808.6h0M145.5 792.9h0M142.9 807.2h0M139.7 816.4h0M128.3 797.2h0M139.6 794.4h0M148.8 808.8h0M119.1 803.7h0M131.8 804.9h0M131.8 792.2h0M151.4 791.2h0M131.5 796.2h0M134.7 811.1h0M120.2 792.3h0M127.4 802.7h0M144.0 802.7h0M136.2 811.3h0M141.1 801.8h0M121.1 794.7h0M128.2 805.5h0M130.1 815.0h0M131.2 807.5h0M132.4 791.3h0M136.3 816.2h0M133.3 810.2h0M138.2 813.8h0M137.2 818.3h0M142.8 792.7h0M150.9 809.3h0M113.9 808.9h0M148.2 816.1h0M159.1 793.4h0M151.9 792.6h0M117.0 801.5h0M125.8 807.5h0M131.5 812.4h0M147.3 791.9h0M142.7 794.3h0M136.4 814.9h0M116.4 797.1h0M153.9 808.9h0M115.5 798.4h0M137.3 818.3h0M138.7 805.6h0M126.3 808.4h0M130.7 812.2h0M116.9 799.1h0M123.9 797.9h0M134.8 804.2h0M131.3 813.3h0M136.4 813.9h0M122.9 804.7h0M117.5 802.8h0M129.4 802.3h0M119.2 801.6h0M123.9 808.2h0M165.6 798.8h0M158.4 811.0h0M136.0 807.2h0M146.2 805.2h0M129.8 808.8h0M116.7 792.8h0M126.0 801.5h0M141.3 798.0h0M133.9 795.8h0M119.8 797.3h0M154.7 803.2h0M142.1 805.0h0M121.2 792.4h0M122.9 796.3h0M133.9 799.0h0M126.4 795.9h0M139.7 796.8h0M154.9 800.1h0M152.6 791.3h0M130.9 796.9h0M143.3 798.2h0M135.3 802.5h0M142.6 799.1h0M130.4 791.9h0M146.6 803.3h0M109.7 791.6h0M137.6 815.4h0M123.2 797.7h0M153.3 799.8h0M118.8 796.9h0M132.6 806.3h0M135.2 816.9h0M150.1 805.8h0M170.1 794.7h0M127.2 801.6h0M119.7 805.7h0M136.9 818.7h0M137.3 817.5h0M150.6 805.9h0M131.9 802.2h0M151.0 810.0h0M149.8 810.8h0M112.7 792.7h0M146.9 792.1h0M168.7 803.6h0M146.0 791.3h0M131.8 817.8h0M112.4 799.2h0M165.5 791.3h0M118.9 803.8h0M151.2 801.6h0M145.2 792.1h0M124.0 806.6h0M139.1 814.5h0M141.1 801.2h0M151.0 800.1h0M131.3 812.5h0M143.6 817.5h0M130.7 806.4h0M124.6 808.1h0M147.7 813.2h0M122.9 798.7h0M130.8 793.3h0M160.7 795.1h0M152.6 798.2h0M142.2 808.8h0M154.4 801.7h0M144.4 793.0h0M110.1 791.8h0M138.5 809.9h0M146.9 805.3h0M128.6 794.2h0M159.9 804.3h0M127.1 792.8h0M135.3 809.4h0M133.1 809.2h0M122.3 802.7h0M135.6 807.4h0M137.5 814.9h0M101.2 800.4h0M135.4 807.7h0M111.3 798.0h0M140.8 816.3h0M147.3 792.0h0M127.8 795.4h0M150.1 809.1h0M163.6 799.8h0M113.5 796.8h0M128.9 799.1h0M147.2 801.6h0M129.7 802.9h0M121.2 792.3h0M122.2 796.1h0M122.8 802.8h0M138.9 810.1h0M139.8 816.9h0M159.9 800.1h0M140.4 793.0h0M133.8 810.5h0M126.7 798.1h0M129.6 796.9h0M168.6 793.1h0M132.1 806.2h0M158.0 803.1h0M159.5 797.8h0M134.0 808.1h0M143.7 799.4h0M140.5 799.0h0M164.5 798.3h0M100.8 794.6h0M138.4 805.3h0M116.9 795.0h0M117.4 807.8h0M131.1 796.6h0M132.3 796.2h0M143.7 804.3h0M154.8 797.0h0M156.3 803.7h0M157.7 797.2h0M137.4 818.1h0M135.1 809.7h0M120.7 799.6h0M110.7 797.1h0M115.9 796.6h0M126.9 803.8h0M143.8 810.7h0M122.2 800.5h0M155.3 802.7h0M121.8 801.8h0M157.8 808.5h0M107.4 797.4h0M130.2 800.8h0M149.8 797.8h0M131.6 805.7h0M131.0 814.2h0M142.2 811.5h0M150.9 795.6h0M172.3 797.5h0M107.3 792.3h0M169.5 792.5h0M134.6 800.0h0M162.0 797.0h0M157.0 806.9h0M131.5 815.4h0M152.1 800.9h0M137.2 818.3h0M131.0 801.0h0M125.1 799.2h0M124.2 811.0h0M121.9 793.6h0M138.1 811.4h0M135.4 804.4h0M131.7 797.0h0M142.4 807.7h0M113.3 803.8h0M164.4 791.3h0M141.6 804.6h0M146.3 797.4h0M134.1 809.4h0M157.6 800.5h0M143.9 807.6h0M131.8 813.0h0M119.6 793.9h0M176.8 793.0h0M143.7 808.2h0M152.1 808.9h0M129.1 807.9h0M120.1 810.4h0M131.4 808.1h0M139.4 809.0h0M160.1 801.7h0M107.8 794.9h0M150.0 806.6h0M125.7 804.0h0M155.1 812.1h0M120.9 802.4h0M123.1 801.9h0M152.0 791.9h0M128.3 791.1h0M115.3 798.9h0M100.5 792.7h0M138.1 810.6h0M100.2 791.1h0M139.8 815.9h0M149.7 799.4h0M143.3 813.2h0M137.1 819.2h0M145.2 810.6h0M131.1 798.2h0M131.5 796.6h0M135.6 810.8h0M125.0 792.7h0M111.6 804.6h0M147.9 799.6h0M139.9 805.0h0M126.2 803.0h0M155.9 803.4h0M127.5 810.3h0M132.7 793.8h0M140.7 799.5h0M122.3 808.2h0M150.2 800.9h0M142.5 798.5h0M152.9 806.7h0M123.7 801.6h0M122.8 798.1h0M147.9 799.8h0M126.8 807.5h0M137.8 813.4h0M172.0 795.8h0M126.2 791.9h0M140.5 811.9h0M136.1 809.5h0M122.3 806.5h0M132.9 799.5h0M122.1 796.9h0M148.4 809.9h0M149.4 791.3h0M157.0 796.4h0M126.8 795.2h0M133.5 792.6h0M120.9 811.0h0M160.4 791.9h0M167.3 804.8h0M130.4 808.6h0M122.2 794.9h0M134.6 804.7h0M120.9 804.1h0M98.3 797.5h0M144.8 794.6h0M118.9 808.6h0M163.9 798.5h0M118.1 796.8h0M141.2 808.4h0M141.6 795.1h0M122.4 806.9h0M151.2 791.4h0M126.0 800.3h0M125.0 791.7h0M133.5 808.0h0M128.4 797.7h0M117.6 794.7h0M115.2 806.3h0M155.8 808.8h0M173.1 796.3h0M101.1 791.2h0M137.6 817.9h0M150.3 803.4h0M143.4 806.7h0M143.0 791.9h0M131.1 805.7h0M126.2 802.7h0M127.9 795.9h0M113.0 805.6h0M110.7 803.3h0M165.8 798.4h0M143.6 817.1h0M130.2 796.6h0M115.8 801.6h0M143.6 815.6h0M161.1 805.7h0M129.6 801.3h0M136.9 817.2h0M111.3 805.9h0M136.6 816.4h0M108.7 798.3h0M107.3 791.8h0M153.5 804.9h0M142.4 792.6h0M152.8 793.8h0M119.0 807.0h0M138.1 809.4h0M114.3 793.8h0M122.8 795.5h0M126.5 792.5h0M134.9 816.9h0M106.2 795.3h0M98.9 792.5h0M123.7 793.1h0M125.3 796.2h0M135.1 810.3h0M127.1 792.1h0M140.5 804.2h0M165.3 805.1h0M122.3 798.6h0M117.9 797.1h0M142.4 800.0h0M110.6 803.9h0M132.1 792.0h0M140.4 800.4h0M125.5 802.6h0M108.2 791.4h0M145.6 798.2h0M134.6 797.4h0M133.2 799.8h0M162.4 792.6h0M162.2 795.1h0M130.0 800.6h0M127.3 813.7h0M151.5 806.9h0M143.4 816.8h0M149.5 812.5h0M149.7 802.9h0M127.1 814.0h0M135.3 803.3h0M136.6 817.5h0M105.9 802.3h0M157.8 793.3h0M124.3 798.0h0M156.0 800.6h0M129.0 791.6h0M152.8 800.0h0M144.0 797.8h0M120.1 807.1h0M123.5 804.5h0M148.5 800.6h0M125.6 800.9h0M149.7 799.2h0M133.4 797.2h0M160.2 796.6h0M143.0 817.2h0M153.9 801.5h0M139.8 795.0h0M109.0 798.2h0M142.0 810.1h0M144.0 811.7h0M146.0 799.4h0M131.4 815.8h0M120.5 799.8h0M128.0 794.5h0M146.0 802.3h0M126.5 798.4h0M111.7 794.0h0M140.3 806.1h0M133.8 793.7h0M115.3 798.4h0M146.5 796.1h0M164.7 795.6h0M122.3 794.8h0M128.3 815.0h0M154.1 802.0h0M140.7 808.7h0M140.4 810.1h0M117.0 797.4h0M139.4 805.8h0M120.9 791.7h0M119.7 800.9h0M112.9 793.3h0M134.5 796.6h0M121.7 806.2h0M137.0 817.8h0M160.6 798.4h0M143.4 791.4h0M131.5 811.4h0M139.8 804.0h0M139.5 795.6h0M150.1 806.8h0M139.2 809.9h0M128.0 791.4h0M151.4 810.6h0M147.5 805.9h0M129.8 792.4h0M130.9 797.1h0M134.2 807.6h0M132.7 794.6h0M140.4 802.7h0M149.2 803.7h0M158.3 802.1h0M156.7 809.1h0M147.5 793.3h0M121.3 805.8h0M136.2 809.9h0M115.8 809.1h0M102.5 796.6h0M143.1 793.2h0M139.3 814.8h0M146.4 808.5h0M136.0 818.1h0M111.1 799.3h0M143.4 795.4h0M163.1 803.6h0M119.3 809.7h0M139.2 809.6h0M124.2 800.8h0M138.3 815.5h0M155.0 799.2h0M132.7 809.9h0M123.7 807.0h0M139.3 815.3h0M127.3 800.5h0M138.2 813.9h0M144.9 804.1h0M151.0 799.4h0M115.6 799.4h0M158.9 792.2h0M145.5 798.1h0M141.4 811.1h0M125.0 800.4h0M157.0 805.0h0M176.9 793.5h0M114.3 803.4h0M115.1 804.3h0M131.5 812.4h0M120.4 799.0h0M160.8 796.5h0M123.0 804.1h0M114.5 797.1h0M161.8 806.5h0M111.9 797.7h0M125.9 813.9h0M156.5 799.9h0M124.2 794.3h0M138.7 802.6h0M146.8 800.4h0M123.8 805.4h0M136.5 815.4h0M161.0 808.1h0M168.6 800.4h0M145.9 807.4h0M138.6 813.5h0M138.9 799.4h0M137.3 818.5h0M158.3 806.3h0M143.5 796.9h0M126.3 800.0h0M153.7 792.5h0M155.3 801.9h0M128.3 799.6h0M132.9 796.8h0M120.9 804.2h0M137.7 816.1h0M147.6 813.9h0M152.6 809.7h0M129.2 794.8h0M135.4 803.8h0M143.7 814.4h0M121.7 811.5h0M167.8 792.2h0M114.6 793.2h0M145.1 796.5h0M161.3 799.9h0M124.5 791.2h0M143.3 793.6h0M119.8 808.7h0M130.8 800.1h0M131.7 798.4h0M153.2 791.9h0M103.1 797.3h0M138.7 803.7h0M163.3 796.4h0M140.0 793.7h0M135.9 812.0h0M141.6 805.6h0M121.0 797.2h0M134.8 814.7h0M137.2 818.6h0M158.9 795.0h0M128.1 799.6h0M141.4 808.1h0M118.0 807.5h0M155.1 793.3h0M149.4 801.9h0M136.0 815.2h0M154.8 791.6h0M143.5 812.9h0M145.9 791.9h0M141.3 799.9h0M136.1 808.9h0M153.6 796.2h0M151.8 809.7h0M128.3 796.2h0M127.7 796.6h0M152.7 804.0h0M135.0 811.1h0M151.9 799.1h0M147.8 792.5h0M122.1 812.4h0M133.8 794.4h0M136.4 812.3h0M154.1 797.7h0M154.4 793.6h0M134.7 803.8h0M133.0 813.8h0M136.9 817.5h0M143.7 817.6h0M149.9 803.7h0M132.3 793.7h0M113.6 797.2h0M127.5 805.6h0M111.6 800.2h0M150.9 811.8h0M129.0 791.6h0M150.9 791.4h0M134.0 814.6h0M113.5 793.7h0M97.5 794.5h0M148.6 808.6h0M151.5 795.6h0M148.0 792.3h0M155.7 792.7h0M152.3 795.7h0M142.5 794.5h0M120.6 793.2h0M122.4 797.8h0M119.2 808.0h0M131.7 803.8h0M108.6 794.3h0M146.2 794.3h0M139.1 803.5h0M158.1 807.1h0M137.9 814.9h0M164.1 797.7h0M125.3 791.9h0M134.3 812.7h0M159.8 796.5h0M158.1 797.1h0M144.5 807.6h0M132.1 807.0h0M109.4 791.4h0M134.5 804.9h0M118.6 799.3h0M127.9 795.4h0M138.7 818.6h0M131.4 798.9h0M135.1 803.4h0M143.5 794.8h0M147.2 814.8h0M156.1 809.7h0M139.4 806.5h0M140.7 803.7h0M125.4 807.7h0M136.3 811.6h0M141.7 798.2h0M131.8 800.2h0M101.1 791.4h0M150.0 800.5h0M134.1 796.2h0M127.7 806.6h0M123.6 805.3h0M108.2 794.5h0M129.7 816.0h0M145.8 811.9h0M141.0 809.9h0M150.2 791.6h0M118.1 791.7h0M146.9 792.5h0M154.6 802.7h0M118.8 803.1h0M148.0 807.2h0M131.6 796.3h0M127.4 793.5h0M132.4 801.6h0M146.4 810.3h0M121.9 798.0h0M129.5 804.4h0M123.7 804.4h0M139.4 800.2h0M106.3 793.0h0M148.8 795.7h0M135.3 805.4h0M138.5 804.7h0M139.6 799.8h0M107.4 796.5h0M148.3 808.1h0M145.6 800.5h0M133.9 791.4h0M144.4 811.8h0M159.2 792.5h0M155.1 807.2h0M122.6 803.7h0M134.8 803.1h0M134.4 804.0h0M134.9 807.0h0M139.1 807.9h0M124.8 811.2h0M114.8 796.9h0M126.4 815.0h0M141.3 810.1h0M140.8 792.7h0M145.9 801.6h0M125.4 796.0h0M132.3 816.9h0M141.2 816.4h0M137.1 819.2h0M128.2 792.0h0M146.5 800.4h0M160.1 807.0h0M129.9 813.0h0M120.8 811.6h0M150.6 801.9h0M160.8 801.2h0M114.8 801.6h0M120.7 799.7h0M127.3 795.1h0M139.6 818.1h0M163.9 792.5h0M129.3 805.7h0M128.3 806.6h0M165.5 805.9h0M122.6 799.6h0M128.1 796.8h0M137.4 818.3h0M151.2 796.1h0M149.1 793.6h0M151.4 809.3h0M127.0 813.3h0M119.7 809.6h0M119.8 801.7h0M153.4 814.1h0M114.8 804.5h0M128.4 804.1h0M171.8 791.4h0M156.2 807.4h0M144.8 805.8h0M124.4 797.2h0M157.4 791.2h0M152.3 800.1h0M130.4 798.4h0M133.0 792.9h0M120.0 796.4h0M155.8 791.8h0M120.3 809.2h0M146.4 798.1h0M137.1 819.2h0M134.9 813.8h0M146.5 794.6h0M107.4 794.6h0M129.9 793.1h0M151.2 809.5h0M149.2 797.9h0M162.4 796.4h0M154.9 807.4h0M148.1 794.6h0M121.3 812.6h0M135.8 814.0h0M133.1 803.8h0M130.1 808.7h0M116.2 807.6h0M115.6 809.3h0M124.6 798.1h0M142.1 797.2h0M115.8 791.8h0M137.7 818.7h0M144.6 800.8h0M145.1 797.1h0M156.8 794.1h0M134.2 798.0h0M130.6 804.9h0M124.9 806.6h0M135.5 804.0h0M166.9 791.2h0M134.4 799.1h0M161.4 799.4h0M141.6 813.5h0M152.2 807.1h0M130.8 792.0h0M121.1 796.5h0M147.0 794.0h0M155.3 810.2h0M139.1 807.7h0M146.9 808.2h0M145.8 793.7h0M139.6 799.0h0M139.2 798.6h0M139.4 795.0h0M116.4 791.1h0M105.0 794.2h0M126.4 802.3h0M121.5 808.3h0M174.4 792.6h0M139.9 794.4h0M148.0 794.3h0M149.9 794.7h0M103.6 792.8h0M153.1 800.0h0M156.6 792.8h0M108.0 796.3h0M103.4 792.4h0M137.3 818.1h0M128.7 810.7h0M152.2 796.2h0M145.7 792.8h0M136.8 816.2h0M125.4 816.2h0M145.2 792.1h0M132.1 801.1h0M142.6 798.9h0M139.8 810.3h0M160.4 809.2h0M149.3 805.0h0M146.8 800.8h0M154.5 799.2h0M135.2 811.9h0M155.2 800.7h0M123.6 792.3h0M141.4 803.1h0M137.7 815.7h0M137.0 818.5h0M136.9 816.7h0M142.8 792.4h0M113.9 794.2h0M135.1 801.9h0M134.3 799.3h0M125.7 798.3h0M130.7 809.1h0M146.6 799.4h0M130.3 795.8h0M137.3 818.2h0M141.8 803.2h0M141.0 814.5h0M147.0 792.3h0M152.9 800.2h0M142.4 806.8h0M165.9 794.5h0M148.3 792.7h0M124.8 795.6h0M123.1 793.5h0M167.8 795.7h0M143.3 800.0h0M158.1 796.5h0M155.7 798.6h0M151.6 808.3h0M125.9 793.1h0M158.8 802.3h0M118.4 803.2h0M163.1 799.8h0M135.4 801.8h0M139.8 803.1h0M165.0 793.1h0M110.6 801.0h0M122.3 794.2h0M160.6 805.0h0M151.2 802.1h0M136.5 819.0h0M149.0 804.3h0M105.4 797.2h0M140.6 796.2h0M109.6 793.4h0M158.5 795.0h0M122.2 808.4h0M142.7 796.8h0M133.6 793.4h0M134.8 799.7h0M126.5 799.3h0M145.3 791.8h0M126.3 802.4h0M137.7 814.3h0M155.3 805.2h0M143.7 800.7h0M141.4 804.9h0M150.9 803.9h0M125.3 809.9h0M142.3 801.8h0M117.1 805.6h0M142.6 791.3h0M134.6 791.9h0M142.7 795.3h0M136.9 817.6h0M150.7 811.8h0M128.2 808.8h0M134.9 805.4h0M124.7 801.0h0M153.5 803.7h0M137.8 812.9h0M120.9 798.3h0M139.0 811.6h0M154.0 795.4h0M154.2 809.8h0M117.3 796.3h0M167.0 791.2h0M143.9 793.2h0M106.5 791.7h0M165.5 793.5h0M133.8 813.0h0M136.1 809.5h0M130.6 796.3h0M133.4 793.6h0M157.7 800.7h0M131.7 804.9h0M110.8 796.1h0M146.8 801.2h0M144.7 795.8h0M130.0 795.3h0M132.6 796.6h0M104.5 792.5h0M142.5 810.1h0M135.4 808.0h0M113.2 801.3h0M148.4 798.4h0M156.8 802.9h0M115.4 804.9h0M120.0 804.6h0M128.1 809.1h0M158.8 796.7h0M151.0 812.9h0M128.3 815.4h0M155.7 811.6h0M146.6 799.5h0M144.7 801.5h0M150.0 798.7h0M138.1 817.1h0M108.7 795.6h0M110.4 798.6h0M152.5 796.1h0M148.0 798.5h0M142.0 793.1h0M105.7 795.4h0M131.6 818.2h0M127.0 805.9h0M121.5 797.8h0M161.5 799.5h0M132.0 811.4h0M140.9 791.3h0M131.1 801.9h0M145.5 817.5h0M165.5 791.9h0M155.6 801.3h0M136.7 815.5h0M125.8 794.8h0M148.1 800.3h0M154.6 798.0h0M142.2 792.5h0M127.8 803.8h0M136.7 815.9h0M121.7 805.5h0M148.1 801.5h0M126.5 816.5h0M138.3 807.2h0M119.3 799.4h0M121.5 794.0h0M141.2 809.3h0M120.7 791.4h0M146.1 797.5h0M139.5 817.3h0M170.2 794.1h0M116.9 802.0h0M129.4 810.6h0M160.2 810.9h0M115.2 791.6h0M148.8 793.0h0M119.1 797.1h0M132.6 800.7h0M119.7 799.9h0M142.0 806.5h0M166.7 797.5h0M163.4 798.7h0M134.9 810.0h0M147.1 791.6h0M108.7 797.8h0M106.3 795.2h0M172.5 791.4h0M142.2 794.5h0M110.4 807.7h0M121.3 803.6h0M142.1 799.3h0M144.6 813.0h0M147.5 799.4h0M163.9 793.6h0M131.3 797.9h0M133.8 812.3h0M134.5 813.0h0M139.0 800.3h0M149.3 794.3h0M127.5 808.0h0M127.0 814.3h0M105.8 792.4h0M133.4 818.1h0M134.5 799.6h0M160.7 805.8h0M154.5 804.9h0M139.4 813.9h0M147.5 811.1h0M125.4 810.1h0M117.0 792.3h0M132.7 794.4h0M133.8 792.2h0M145.3 791.8h0M151.6 795.9h0M134.9 804.9h0M124.7 808.7h0M160.9 802.4h0M176.8 795.6h0M138.2 812.7h0M119.8 800.3h0M136.3 815.6h0M171.8 792.1h0M120.4 806.0h0M118.1 795.0h0M138.5 803.2h0M111.7 792.0h0M134.3 791.2h0M150.0 809.5h0M132.5 806.0h0M155.9 792.3h0M125.0 793.5h0M106.8 801.2h0M130.8 797.2h0M127.4 798.4h0M151.7 801.8h0M148.2 793.2h0M152.3 805.9h0M128.4 808.8h0M114.9 807.7h0M121.7 806.3h0M121.8 795.7h0M157.8 792.3h0M102.0 794.5h0M115.2 805.9h0M119.1 800.0h0M161.4 801.7h0M121.4 796.3h0M130.2 800.2h0M99.0 792.6h0M145.7 804.1h0M148.4 807.0h0M140.1 812.6h0M130.5 799.6h0M155.3 805.8h0M143.0 813.8h0M167.6 794.3h0M157.3 808.3h0M132.3 794.3h0M129.9 817.9h0M138.6 805.5h0M136.2 812.2h0M118.6 803.3h0M129.0 792.7h0M129.3 810.4h0M132.7 804.4h0M157.2 802.7h0M131.7 795.6h0M142.5 808.2h0M126.9 799.3h0M114.7 796.8h0M125.8 805.6h0M133.8 803.9h0M138.5 811.4h0M142.2 793.2h0M142.3 818.4h0M145.6 799.0h0M134.2 798.5h0M128.0 797.3h0M137.4 816.7h0M130.5 797.0h0M133.3 803.6h0M110.8 794.3h0M108.5 799.7h0M140.3 791.5h0M141.8 798.4h0M149.0 801.5h0M127.9 810.4h0M148.6 810.3h0M119.0 803.9h0M135.9 814.5h0M97.6 793.5h0M130.3 801.6h0M143.4 801.7h0M105.4 796.2h0M130.5 808.3h0M129.4 806.2h0M125.8 805.4h0M172.7 794.9h0M121.0 798.6h0M125.1 799.4h0M130.1 807.8h0M124.5 795.8h0M119.2 791.6h0M132.5 800.3h0M127.1 799.2h0M163.1 801.2h0M154.0 811.4h0M136.0 809.5h0M138.1 810.3h0M139.0 812.5h0M111.2 795.1h0M119.8 806.1h0M133.9 797.2h0M156.8 797.6h0M142.8 793.2h0M159.9 792.2h0M147.0 804.0h0M149.0 804.7h0M116.0 792.3h0M122.4 795.7h0M144.8 801.9h0M124.8 797.5h0M135.8 804.8h0M132.4 792.2h0M105.2 796.5h0M153.2 804.4h0M139.4 817.1h0M159.6 792.7h0M136.4 813.4h0M128.9 794.6h0M159.4 799.6h0M133.5 797.8h0M154.9 791.2h0M119.3 796.0h0M139.2 799.2h0M146.4 791.3h0M143.8 794.1h0M150.1 796.0h0M124.9 811.3h0M137.4 816.7h0M106.8 795.9h0M129.4 808.0h0M126.4 807.8h0M122.0 803.3h0M130.4 804.1h0M159.3 806.3h0M126.8 802.7h0M122.2 810.4h0M134.4 810.0h0M123.7 796.6h0M134.4 804.0h0M135.0 799.6h0M112.7 802.7h0M154.1 810.1h0M128.6 798.5h0M149.0 792.2h0M140.9 798.0h0M134.7 809.7h0M113.7 799.3h0M175.6 791.3h0M128.2 799.4h0M123.7 792.8h0M144.1 807.4h0M139.6 797.4h0M123.4 801.1h0M153.0 792.4h0M137.0 818.2h0M131.7 812.2h0M155.4 799.1h0M143.1 803.2h0M120.9 799.8h0M124.1 806.6h0M120.5 812.9h0M104.6 791.6h0M145.1 813.8h0M129.6 814.0h0M150.7 804.6h0M132.0 805.4h0M138.1 809.7h0M141.0 800.8h0M149.4 802.0h0M148.9 808.2h0M120.1 811.0h0M133.5 793.2h0M143.5 793.9h0M167.4 804.4h0M151.7 808.0h0M136.0 807.9h0M149.2 811.6h0M134.5 802.5h0M146.2 798.6h0M146.8 795.5h0M109.1 795.1h0M146.8 806.0h0M131.6 797.1h0M168.0 798.7h0M143.3 807.1h0M137.7 817.8h0M127.6 794.8h0M127.9 801.7h0M129.5 796.1h0M137.9 811.5h0M140.6 813.8h0M127.6 800.4h0M131.9 796.9h0M115.7 809.9h0M132.7 804.1h0M156.9 793.4h0M124.0 811.4h0M125.3 791.6h0M119.9 805.7h0M136.3 815.7h0M118.9 794.9h0M134.1 791.3h0M123.1 815.4h0M131.0 799.1h0M136.1 816.4h0M145.2 801.6h0M134.7 806.9h0M123.2 795.0h0M123.6 800.3h0M119.0 809.2h0M115.2 795.6h0M131.3 799.3h0M150.5 813.8h0M125.2 795.8h0M145.7 814.8h0M103.3 791.2h0M165.9 795.7h0M126.1 805.6h0M121.8 792.5h0M123.1 809.5h0M136.7 815.4h0M110.8 803.2h0M165.6 796.0h0M144.4 800.6h0M136.0 812.3h0M144.9 800.6h0M161.5 801.8h0M144.7 815.4h0M134.3 802.5h0M114.4 799.2h0M109.5 798.3h0M130.8 815.0h0M166.3 801.6h0M130.7 811.9h0M149.5 795.8h0M129.0 794.6h0M156.4 809.6h0M158.7 796.8h0M135.7 805.3h0M129.2 794.0h0M127.8 802.0h0M110.2 793.1h0M141.9 808.7h0M148.5 795.0h0M145.1 801.4h0M136.1 810.7h0M123.7 804.4h0M125.4 791.3h0M114.8 796.5h0M137.6 817.9h0M138.8 811.0h0M147.3 812.0h0M160.8 810.5h0M146.4 804.1h0M116.5 792.2h0M137.0 818.8h0M129.7 794.0h0M143.7 811.0h0M150.6 797.6h0M145.0 791.7h0M140.8 791.7h0M153.5 802.8h0M157.2 802.2h0M131.9 796.7h0M167.0 801.3h0M135.9 816.1h0M171.9 793.1h0M121.5 797.6h0M143.2 809.9h0M107.0 791.3h0M116.4 804.2h0M139.2 801.4h0M123.1 799.0h0M158.4 801.2h0M165.5 796.9h0M132.4 808.8h0M145.8 794.3h0M150.7 800.7h0M132.9 795.8h0M138.1 817.1h0M161.3 793.9h0M116.6 804.5h0M125.9 809.4h0M148.6 793.9h0M145.8 794.5h0M141.0 807.2h0M118.1 797.8h0M120.8 798.9h0M126.7 792.4h0M124.6 798.5h0M142.8 805.9h0M132.0 795.6h0M120.3 802.6h0M126.5 795.5h0M111.7 797.3h0M142.3 797.3h0M151.7 796.3h0M148.7 810.8h0M142.1 803.3h0M159.5 797.4h0M132.1 805.8h0M131.7 802.0h0M125.4 814.0h0M129.9 809.7h0M152.3 799.3h0M131.3 808.5h0M124.6 797.9h0M129.1 791.9h0M140.4 795.0h0M145.9 794.8h0M139.5 801.7h0M152.5 794.8h0M128.5 791.3h0M136.8 816.9h0M136.8 817.3h0M100.5 792.7h0M157.3 793.3h0M144.1 807.4h0M136.9 817.8h0M128.1 791.6h0M139.6 795.8h0M138.6 804.7h0M120.8 802.4h0M136.3 813.3h0M140.0 806.1h0M139.4 816.0h0M111.7 795.6h0M140.3 809.4h0M155.5 798.5h0M146.4 812.6h0M151.0 798.6h0M165.0 802.9h0M118.2 807.4h0M156.2 791.6h0M136.0 810.7h0M138.1 818.1h0M130.0 791.6h0M122.2 795.3h0M136.7 815.7h0M131.0 799.7h0M136.1 815.2h0M109.2 792.0h0M147.9 800.8h0M144.3 803.1h0M124.7 811.5h0M153.3 792.9h0M120.7 812.4h0M152.0 797.7h0M148.0 791.6h0M131.8 800.1h0M156.6 793.6h0M149.2 804.8h0M147.5 814.6h0M149.7 793.7h0M109.4 798.4h0M116.4 797.2h0M158.6 794.2h0M132.8 794.5h0M126.5 810.6h0M116.8 793.2h0M157.5 800.3h0M137.6 818.1h0M106.9 800.3h0M131.7 805.5h0M159.1 803.7h0M119.5 802.2h0M150.1 800.7h0M160.3 807.9h0M140.5 806.3h0M145.7 801.2h0M121.2 802.9h0M146.3 815.8h0M119.6 791.6h0M107.5 800.0h0M141.9 802.2h0M139.8 796.7h0M149.3 804.9h0M118.9 806.2h0M167.1 792.9h0M134.8 811.3h0M130.4 795.3h0M144.0 799.0h0M115.0 795.6h0M109.9 801.9h0M120.1 808.0h0M144.7 800.8h0M117.4 791.7h0M118.5 793.5h0M113.8 793.0h0M124.1 802.4h0M142.2 800.8h0M152.7 792.1h0M145.1 804.8h0M139.4 817.7h0M141.1 806.9h0M146.8 816.3h0M133.1 809.1h0M123.0 807.2h0M156.1 794.7h0M164.0 792.1h0M160.8 791.9h0M121.1 794.2h0M149.7 803.5h0M156.0 809.0h0M106.1 801.0h0M131.6 807.9h0M141.0 791.9h0M140.1 800.1h0M130.4 798.5h0M112.2 791.1h0M131.0 793.2h0M122.8 802.5h0M158.1 796.2h0M168.4 794.0h0M166.4 803.0h0M126.9 814.0h0M122.6 795.5h0M144.0 800.7h0M130.2 815.0h0M127.8 799.2h0M166.6 805.1h0M120.5 796.5h0M136.3 811.3h0M123.6 805.9h0M155.4 792.2h0M153.2 801.0h0M137.9 812.4h0M140.5 803.7h0M124.9 801.9h0M149.6 807.4h0M135.4 805.5h0M119.5 791.5h0M161.3 796.0h0M139.2 805.7h0M123.4 804.7h0M145.0 815.1h0M131.4 811.1h0M147.3 805.3h0M120.2 797.2h0M141.1 803.7h0M114.7 791.3h0M134.9 797.7h0M143.9 793.7h0M145.6 794.8h0M136.0 807.8h0M136.3 811.4h0M143.4 804.3h0M158.4 805.3h0M145.7 815.9h0M155.2 805.4h0M119.1 801.3h0M134.5 806.9h0M150.8 805.3h0M132.5 797.4h0M133.8 796.9h0M143.7 805.1h0M145.6 798.8h0M117.5 799.9h0M125.9 810.6h0M163.9 802.0h0M99.1 793.0h0M143.0 791.5h0M123.7 792.2h0M151.0 797.6h0M147.5 794.2h0M110.7 798.9h0M117.5 796.3h0M138.2 808.5h0M143.5 810.6h0M130.2 795.9h0M114.4 796.7h0M144.8 792.4h0M114.7 798.2h0M168.7 792.8h0M147.7 796.9h0M140.6 797.9h0M154.6 794.3h0M162.1 794.2h0M151.8 799.5h0M151.1 799.6h0M124.4 808.9h0M126.0 792.2h0M143.8 794.6h0M144.4 791.4h0M128.6 795.6h0M150.4 807.4h0M145.3 793.8h0M132.6 809.3h0M162.8 795.5h0M115.4 794.4h0M132.7 811.2h0M130.0 813.6h0M143.9 805.1h0M154.0 808.5h0M132.4 817.1h0M124.8 809.9h0M145.2 801.2h0M144.0 800.2h0M117.1 804.6h0M138.1 810.6h0M126.9 794.2h0M121.9 811.1h0M122.9 791.8h0M113.9 803.9h0M125.6 813.2h0M120.7 804.2h0M162.6 796.5h0M141.2 811.4h0M152.7 801.5h0M130.4 793.2h0M125.1 793.7h0M135.1 801.4h0M143.9 797.1h0M168.6 797.8h0M143.5 803.2h0M109.8 792.9h0M166.8 791.9h0M117.6 792.9h0M140.9 798.3h0M146.6 809.4h0M148.0 795.5h0M120.1 792.5h0M130.1 798.0h0M142.6 815.5h0M116.5 802.0h0M133.0 792.8h0M133.2 810.5h0M129.3 797.6h0M132.5 808.4h0M137.9 815.9h0M166.1 792.8h0M151.4 813.2h0M148.7 806.5h0M136.3 814.6h0M130.3 791.4h0M120.0 791.9h0M131.1 809.3h0M122.3 792.8h0M126.2 792.5h0M150.4 791.8h0M131.0 808.0h0M116.2 803.3h0M158.5 806.8h0M124.3 797.1h0M142.5 810.2h0M128.9 795.9h0M132.2 803.2h0M142.5 791.3h0M124.7 816.5h0M135.8 814.9h0M137.7 813.5h0M152.7 797.3h0M174.6 795.6h0M133.0 791.3h0M130.4 814.0h0M146.7 808.5h0M142.0 793.7h0M116.4 795.9h0M140.1 798.1h0M163.4 797.0h0M121.3 797.4h0M113.4 800.1h0M156.1 795.2h0M122.6 809.8h0M149.6 815.6h0M152.8 792.4h0M148.4 812.3h0M134.3 805.7h0M155.6 795.5h0M134.6 801.2h0M100.9 800.5h0M153.2 795.5h0M146.9 792.5h0M145.6 810.8h0M132.4 792.7h0M145.3 797.9h0M132.3 807.2h0M143.1 808.4h0M140.4 800.0h0M128.4 794.8h0M138.6 804.4h0M113.8 802.4h0M161.4 791.5h0M127.2 813.2h0M124.1 811.1h0M132.9 809.2h0M131.2 794.6h0M130.5 803.1h0M142.6 806.9h0M138.9 811.9h0M164.4 799.5h0M113.9 796.3h0M141.0 803.4h0M135.9 808.9h0M134.1 815.8h0M143.7 810.7h0M132.9 809.5h0M121.0 807.8h0M133.7 802.8h0M138.1 809.5h0M143.3 791.5h0M127.8 806.4h0M134.8 802.3h0M127.0 810.1h0M145.5 793.2h0M135.5 817.8h0M136.4 817.5h0M103.5 794.0h0M146.1 802.1h0M150.0 814.6h0M158.5 804.0h0M124.9 801.5h0M144.0 792.0h0M158.8 798.6h0M159.7 793.1h0M133.3 797.1h0M127.0 793.7h0M159.6 801.5h0M147.7 793.6h0M153.9 803.9h0M113.5 805.3h0M157.6 807.1h0M118.0 796.6h0M127.8 802.0h0M170.3 794.3h0M129.4 792.0h0M142.6 793.9h0M137.1 819.0h0M137.1 819.0h0M145.4 795.8h0M151.0 792.6h0M139.1 805.3h0M142.2 796.0h0M129.1 802.9h0M113.9 798.3h0M110.2 792.8h0M121.5 791.8h0M141.9 795.9h0M128.5 811.0h0M142.4 798.6h0M146.3 792.6h0M130.9 798.1h0M135.7 810.6h0M154.6 793.5h0M135.0 816.8h0M127.0 813.3h0M143.1 805.2h0M151.3 808.3h0M154.2 791.5h0M130.3 794.4h0M163.7 804.8h0M157.6 794.4h0M117.1 793.1h0M160.3 794.6h0M142.2 815.6h0M106.0 791.2h0M118.6 794.2h0M149.2 794.2h0M136.2 810.7h0M161.5 807.1h0M123.6 791.6h0M142.4 797.8h0M145.1 802.1h0M116.8 812.5h0M145.5 802.8h0M119.0 794.4h0M127.5 794.3h0M113.1 797.0h0M132.3 813.8h0M163.1 792.2h0M171.9 791.5h0M144.5 801.8h0M127.3 804.7h0M143.6 812.5h0M137.5 817.6h0M134.0 802.0h0M150.7 804.1h0M126.2 791.2h0M154.0 802.0h0M147.5 798.2h0M126.6 798.8h0M125.7 792.4h0M123.5 803.5h0M134.4 803.8h0M170.9 791.7h0M145.9 793.0h0M155.2 791.8h0M161.2 806.4h0M114.7 797.8h0M137.6 817.0h0M149.6 799.7h0M140.2 794.6h0M131.6 797.1h0M134.3 816.3h0M141.4 792.2h0M156.5 794.9h0M112.9 804.4h0M144.6 799.8h0M138.2 809.9h0M145.5 814.6h0M145.5 804.0h0M137.9 816.3h0M133.4 803.0h0M115.5 801.1h0M127.4 814.3h0M127.1 794.7h0M120.5 799.6h0M123.9 806.1h0M142.6 797.2h0M141.1 811.8h0M131.2 791.5h0M139.5 801.2h0M126.0 802.3h0M132.3 803.2h0M126.0 792.9h0M128.2 795.5h0M164.0 791.8h0M125.6 812.1h0M175.1 797.0h0M166.7 803.3h0M153.4 795.1h0M149.1 803.3h0M128.0 803.4h0M150.1 799.1h0M121.7 800.1h0M165.2 800.3h0M106.8 800.2h0M138.8 811.4h0M130.5 793.7h0M147.1 810.5h0M137.6 818.5h0M148.2 803.5h0M114.7 794.3h0M114.1 798.9h0M142.2 815.3h0M150.3 807.3h0M138.0 814.2h0M122.3 808.4h0M128.1 799.1h0M136.5 817.9h0M153.6 812.8h0M124.6 792.3h0M143.5 814.9h0M167.4 799.9h0M168.1 802.2h0M139.5 806.4h0M142.3 804.8h0M110.0 799.6h0M131.0 795.8h0M155.5 791.2h0M118.6 806.5h0M137.4 818.7h0M137.3 817.7h0M144.0 795.8h0M116.4 802.0h0M176.0 792.8h0M132.0 797.7h0M155.6 809.1h0M150.5 803.3h0M137.3 817.0h0M124.2 808.6h0M113.8 793.1h0M129.4 791.9h0M123.0 791.5h0M132.5 797.0h0M121.3 799.8h0M146.8 793.2h0M150.6 799.0h0M114.8 808.9h0M122.7 806.4h0M131.5 792.0h0M116.7 793.7h0M122.5 799.8h0M112.2 792.6h0M158.9 806.5h0M166.8 801.3h0M139.3 817.0h0M121.8 800.1h0M118.8 804.7h0M128.7 803.9h0M129.2 798.8h0M136.3 815.5h0M155.0 801.8h0M150.6 810.2h0M141.6 799.5h0M131.5 815.1h0M113.7 794.2h0M130.1 792.4h0M129.0 811.4h0M127.9 810.6h0M158.1 801.9h0M142.5 797.6h0M123.9 813.5h0M121.4 792.0h0M119.8 808.5h0M167.0 797.8h0M144.9 798.9h0M112.5 792.7h0M135.8 812.4h0M145.3 800.7h0M137.4 817.8h0M157.7 794.2h0M110.7 791.7h0M112.2 803.0h0M146.9 800.2h0M173.4 791.4h0M145.3 803.6h0M139.3 799.7h0M114.8 801.5h0M150.4 801.4h0M152.4 806.6h0M139.7 817.3h0M162.0 795.4h0M116.2 798.9h0M153.9 803.3h0M162.7 793.7h0M145.5 796.4h0M140.8 809.1h0M125.4 808.9h0M142.8 815.5h0M134.4 804.7h0M118.9 803.9h0M136.7 816.2h0M122.6 791.4h0M97.3 793.1h0M132.6 816.7h0M135.9 809.5h0M121.2 811.4h0M102.0 793.6h0M144.3 806.1h0M142.5 810.5h0M139.6 809.0h0M125.5 791.4h0M131.3 795.8h0M115.0 801.9h0M139.0 811.8h0M128.2 813.3h0M140.8 803.2h0M146.2 799.4h0M114.1 795.4h0M131.6 804.0h0M139.7 792.4h0M112.3 799.1h0M167.3 791.9h0M99.0 794.2h0M158.4 793.1h0M114.5 799.1h0M121.3 802.2h0M124.1 794.4h0M143.3 815.9h0M154.5 809.1h0M144.5 814.2h0M134.3 799.3h0M148.0 806.0h0M114.9 801.3h0M138.3 817.0h0M129.9 800.9h0M108.8 800.1h0M138.6 808.9h0M131.9 797.0h0M139.4 815.6h0M116.7 813.7h0M126.8 807.6h0M144.5 812.9h0M102.5 792.2h0M136.0 811.7h0M167.9 801.3h0M130.1 810.2h0M143.1 805.8h0M146.8 793.4h0M142.3 800.4h0M105.8 799.2h0M160.6 804.4h0M143.5 805.0h0M149.5 809.2h0M108.6 791.2h0M146.6 810.2h0M154.1 804.2h0M122.8 802.3h0M121.2 791.9h0M145.6 792.5h0M139.4 807.3h0M146.8 791.3h0M142.9 792.7h0M149.1 797.8h0M133.8 801.6h0M142.3 808.9h0M126.0 798.7h0M132.7 803.2h0M164.8 799.7h0M131.9 794.2h0M144.7 809.6h0M139.1 798.3h0M118.9 802.9h0M116.6 802.2h0M134.3 805.4h0M139.5 817.1h0M124.3 808.9h0M142.2 806.0h0M136.0 807.7h0M144.9 808.0h0M134.6 809.9h0M134.6 791.9h0M154.8 795.5h0M140.0 809.0h0M153.0 815.0h0M120.5 797.2h0M126.1 806.8h0M119.6 794.3h0M116.1 805.4h0M134.7 803.1h0M157.3 805.6h0M134.6 793.6h0M132.6 795.8h0M158.6 791.4h0M132.6 794.4h0M134.6 797.5h0M106.6 792.4h0M149.4 795.2h0M145.2 802.2h0M146.6 812.0h0M125.7 815.0h0M144.3 797.2h0M135.1 802.0h0M116.7 801.4h0M145.5 801.3h0M143.7 791.8h0M130.3 801.4h0M140.7 804.1h0M149.9 808.7h0M157.9 801.0h0M139.3 814.3h0M132.8 813.4h0M168.0 806.5h0M118.9 793.6h0M130.5 802.9h0M141.3 816.8h0M120.7 804.1h0M144.5 800.1h0M152.2 809.4h0M159.2 801.4h0M115.0 793.1h0M124.6 804.7h0M141.6 818.7h0M113.4 791.2h0M138.2 806.8h0M150.5 810.4h0M135.9 811.2h0M129.9 799.0h0M118.5 794.5h0M100.0 793.5h0M144.6 804.0h0M129.1 796.6h0M162.2 799.0h0M139.4 804.0h0M120.4 797.2h0M141.1 793.3h0M144.6 794.1h0M132.3 818.5h0M160.0 792.6h0M108.7 797.2h0M149.9 809.5h0M153.0 802.0h0M137.8 817.7h0M132.9 806.5h0M158.8 808.2h0M150.6 799.8h0M138.9 803.1h0M155.4 794.8h0M142.8 810.1h0M122.0 794.4h0M125.2 801.7h0M126.2 801.7h0M144.2 791.7h0M140.6 801.3h0M146.0 808.0h0M157.3 796.3h0M122.6 791.9h0M141.8 807.0h0M120.2 793.9h0M135.5 809.5h0M162.2 793.1h0M122.2 796.3h0M125.9 793.9h0M145.6 802.2h0M125.6 801.7h0M142.2 811.3h0M136.1 809.3h0M149.6 798.0h0M137.2 818.9h0M120.4 802.2h0M133.7 809.2h0M155.5 798.5h0M150.2 796.5h0M130.8 792.8h0M119.7 791.1h0M141.6 792.3h0M134.0 808.0h0M169.0 793.9h0M120.0 803.2h0M121.6 803.2h0M159.9 794.7h0M140.5 812.2h0M145.9 795.6h0M142.3 800.9h0M160.5 803.8h0M161.7 797.9h0M126.4 802.5h0M127.1 795.9h0M153.0 801.0h0M151.3 796.5h0M119.1 806.6h0M116.3 799.7h0M149.2 794.4h0M153.3 798.1h0M145.9 811.8h0M118.4 797.5h0M129.0 797.0h0M130.3 803.6h0M137.5 818.7h0M155.3 798.5h0M144.0 808.4h0M162.7 803.2h0M146.4 811.3h0M105.3 796.8h0M144.9 807.3h0M115.7 794.3h0M114.4 806.6h0M116.2 804.8h0M133.7 795.0h0M112.9 796.5h0M125.7 798.0h0M133.8 801.1h0M124.8 794.1h0M140.9 804.4h0M134.7 814.9h0M108.0 807.8h0M118.6 801.5h0M123.6 814.1h0M118.7 792.8h0M141.6 801.3h0M147.6 806.3h0M146.7 809.0h0M154.2 799.4h0M127.3 809.4h0M128.3 794.4h0M129.1 797.6h0M146.0 798.5h0M137.8 819.1h0M118.3 799.3h0M150.9 799.3h0M105.6 793.0h0M127.6 811.8h0M159.4 803.9h0M157.7 802.2h0M137.4 815.9h0M149.2 803.0h0M132.1 808.2h0M144.7 795.5h0M128.7 792.8h0M123.9 808.2h0M122.8 806.2h0M124.5 800.7h0M134.9 813.8h0M150.1 798.9h0M151.4 811.4h0M140.7 794.6h0M125.4 792.3h0M128.2 804.9h0M160.4 793.5h0M149.2 796.8h0M158.0 796.9h0M136.2 814.5h0M124.5 797.5h0M148.6 806.5h0M102.7 794.6h0M142.8 797.4h0M127.3 813.8h0M132.6 816.9h0M132.8 800.6h0M141.3 793.5h0M151.6 791.8h0M148.7 791.2h0M119.5 811.9h0M128.9 805.3h0M123.6 801.0h0M167.5 802.7h0M141.9 811.8h0M142.3 812.8h0M139.1 798.4h0M134.4 792.6h0M125.2 794.3h0M164.2 795.1h0M132.2 800.6h0M166.0 796.0h0M146.5 802.0h0M165.0 793.0h0M115.0 805.7h0M129.3 792.6h0M141.3 791.5h0M145.0 806.2h0M139.5 811.1h0M123.9 796.5h0M145.6 803.9h0M150.9 798.2h0M101.2 794.1h0M113.8 796.9h0M123.7 798.0h0M126.3 793.7h0M139.1 817.1h0M116.2 793.6h0M127.2 806.3h0M101.4 798.4h0M124.5 805.4h0M142.8 806.4h0M133.3 808.6h0M131.6 794.9h0M128.4 792.0h0M146.1 809.5h0M147.2 803.2h0M125.6 792.2h0M165.7 799.7h0M114.7 794.0h0M129.9 805.1h0M137.4 816.5h0M98.9 791.5h0M112.5 792.6h0M163.8 791.2h0M130.4 803.4h0M138.2 808.5h0M128.9 806.6h0M157.5 802.0h0M135.3 802.0h0M137.7 817.3h0M126.1 813.6h0M138.8 811.9h0M158.1 792.5h0M126.9 803.2h0M155.8 793.6h0M154.5 791.9h0M135.6 813.3h0M128.2 799.6h0M119.1 796.5h0M124.5 796.3h0M155.0 794.6h0M134.8 798.0h0M126.7 805.2h0M112.7 797.1h0M126.6 817.3h0M158.7 796.5h0M125.7 806.7h0M149.2 794.2h0M104.1 795.1h0M122.7 795.6h0M150.7 811.1h0M151.3 794.6h0M109.1 800.8h0M124.4 794.5h0M155.2 792.9h0M101.3 796.0h0M113.4 801.8h0M99.2 794.5h0M128.9 795.6h0M154.9 793.8h0M127.6 814.1h0M133.8 805.0h0M151.8 801.9h0M154.8 791.9h0M157.8 793.0h0M126.1 795.2h0M135.7 814.8h0M146.2 808.8h0M109.5 803.9h0M135.4 817.5h0M133.6 792.3h0M120.4 802.9h0M143.7 793.2h0M165.0 798.5h0M139.4 806.2h0M154.1 806.4h0M123.0 804.2h0M140.3 811.0h0M110.4 799.4h0M128.0 794.3h0M122.7 809.6h0M121.2 795.2h0M115.4 793.8h0M135.1 809.3h0M144.9 813.2h0M137.8 812.0h0M111.1 799.2h0M158.5 808.8h0M137.8 817.2h0M126.1 802.8h0M135.8 815.4h0M128.0 806.0h0M152.2 805.0h0M133.5 811.7h0M169.5 795.1h0M113.6 797.6h0M151.0 798.5h0M168.9 803.7h0M165.7 800.7h0M138.8 815.7h0M163.1 796.5h0M169.6 800.1h0M139.8 801.5h0M118.5 794.9h0M141.3 791.5h0M101.0 799.5h0M134.4 804.2h0M155.6 794.2h0M132.7 811.0h0M123.7 791.8h0M147.7 808.5h0M143.7 795.9h0M130.7 809.2h0M151.4 804.3h0M131.9 816.6h0M156.9 810.4h0M124.2 810.3h0M146.1 803.4h0M122.8 804.3h0M164.8 801.0h0M107.8 799.2h0M145.6 809.4h0M150.1 803.2h0M134.7 793.9h0M122.4 794.3h0M143.2 791.4h0M138.4 813.4h0M129.1 794.1h0M142.9 802.6h0M162.1 797.0h0M151.3 796.9h0M136.9 817.4h0M139.0 814.4h0M145.5 809.2h0M144.1 802.4h0M131.3 817.5h0M124.4 811.6h0M155.5 804.7h0M133.3 808.4h0M134.6 814.6h0M129.7 804.0h0M164.5 797.6h0M146.7 795.6h0M147.1 816.6h0M142.3 805.5h0M161.7 802.6h0M133.6 809.2h0M134.8 794.2h0M116.4 809.8h0M105.5 801.8h0M126.1 796.9h0M146.8 801.7h0M133.2 795.4h0M132.4 807.4h0M123.4 800.8h0M112.6 794.4h0M135.6 810.3h0M146.8 803.9h0M147.4 800.1h0M150.8 806.7h0M163.0 808.0h0M125.7 800.8h0M135.5 802.2h0M144.8 805.3h0M131.3 802.6h0M143.4 817.5h0M145.4 793.7h0M129.4 803.0h0M149.6 810.3h0M140.3 794.9h0M136.0 808.1h0M141.1 814.9h0M117.7 797.3h0M139.4 796.6h0M145.4 791.3h0M114.8 805.6h0M138.2 811.3h0M132.4 802.4h0M122.8 792.6h0M137.8 813.7h0M134.6 817.0h0M144.5 813.3h0M155.9 802.8h0M132.7 808.0h0M140.4 800.2h0M115.5 791.9h0M140.9 809.6h0M157.1 793.1h0M141.4 807.1h0M132.5 791.3h0M136.2 814.3h0M144.9 799.1h0M139.3 796.4h0M131.7 806.9h0M131.8 795.9h0M147.7 804.8h0M142.4 796.2h0M165.1 797.2h0M152.9 806.1h0M127.3 800.7h0M130.1 794.3h0M127.6 793.9h0M156.5 808.3h0M137.6 815.9h0M164.5 794.1h0M133.7 811.7h0M149.8 809.8h0M106.1 794.4h0M123.0 797.9h0M153.8 810.7h0M137.2 818.6h0M173.2 795.1h0M131.3 812.4h0M130.0 806.2h0M153.0 793.0h0M125.5 792.7h0M137.1 818.7h0M165.0 801.0h0M124.0 808.7h0M134.5 810.3h0M112.8 800.2h0M120.0 796.9h0M137.8 812.7h0M142.0 804.0h0M133.8 794.8h0M139.4 798.7h0M120.2 799.5h0M135.3 803.1h0M131.1 817.1h0M132.8 813.9h0M119.3 802.9h0M140.9 798.6h0M166.9 800.0h0M144.4 805.4h0M135.4 807.0h0M124.9 798.8h0M130.5 806.3h0M171.9 792.4h0M122.8 794.2h0M151.8 792.4h0M134.6 804.9h0M147.9 797.4h0M141.9 808.4h0M114.2 791.6h0M162.8 807.5h0M123.2 796.3h0M164.2 799.1h0M142.2 814.5h0M157.1 802.8h0M138.3 806.6h0M142.6 798.8h0M152.3 804.8h0M130.2 797.1h0M144.3 798.7h0M139.3 801.0h0M140.0 809.7h0M166.8 804.6h0M140.3 806.3h0M146.1 813.9h0M161.9 802.6h0M152.3 791.1h0M154.1 806.1h0M124.1 804.8h0M156.8 791.7h0M131.3 809.2h0M130.0 795.2h0M151.5 794.1h0M122.2 796.2h0M121.1 795.4h0M152.1 803.0h0M142.5 792.8h0M155.8 795.6h0M146.4 803.3h0M111.3 792.4h0M160.1 791.2h0M99.6 794.6h0M109.0 798.0h0M161.1 802.0h0M139.4 813.9h0M105.8 803.1h0M138.9 804.8h0M139.0 807.9h0M136.5 814.8h0M129.0 806.0h0M136.8 815.5h0M124.3 806.3h0M142.4 806.8h0M143.8 798.2h0M118.2 800.1h0M149.2 793.6h0M148.1 791.5h0M124.4 792.6h0M137.5 817.5h0M105.1 791.7h0M135.3 800.0h0M131.3 799.7h0M129.8 806.1h0M169.1 793.3h0M147.2 796.3h0M144.5 799.2h0M134.5 804.0h0M148.0 795.7h0M173.5 793.1h0M121.2 801.0h0M130.7 793.8h0M121.5 797.0h0M133.4 795.4h0M145.7 803.9h0M141.0 811.9h0M156.6 802.3h0M129.0 810.6h0M122.6 804.3h0M128.9 808.9h0M164.4 801.0h0M105.3 791.8h0M121.0 795.0h0M124.7 792.6h0M119.9 797.0h0M138.2 813.1h0M137.4 817.2h0M133.8 794.3h0M151.8 793.1h0M123.4 798.8h0M142.0 800.1h0M151.3 802.7h0M120.0 799.2h0M147.2 796.3h0M129.2 804.8h0M156.0 812.0h0M116.8 801.2h0M136.4 813.3h0M109.4 800.2h0M136.2 811.9h0M130.7 798.7h0M124.9 798.7h0M157.7 801.6h0M145.5 810.0h0M151.4 796.4h0M133.8 809.8h0M149.0 795.7h0M130.4 792.7h0M146.8 801.8h0M112.8 805.6h0M121.6 797.6h0M133.3 794.6h0M124.1 794.8h0M159.5 795.4h0M158.8 794.9h0M126.2 812.9h0M136.7 817.1h0M120.4 796.3h0M137.5 814.7h0M138.0 816.9h0M124.0 793.0h0M146.3 800.6h0M165.9 794.1h0M144.7 792.9h0M116.3 792.2h0M150.0 803.7h0M127.5 808.3h0M116.6 797.5h0M135.3 804.0h0M111.5 794.6h0M151.7 802.3h0M106.2 798.6h0M161.4 796.9h0M154.3 795.9h0M123.5 792.1h0M126.9 798.3h0M129.3 798.9h0M136.7 816.3h0M128.4 791.9h0M124.0 795.1h0M123.9 795.0h0M118.0 798.3h0M144.2 799.4h0M164.8 802.9h0M130.5 806.7h0M139.5 810.8h0M136.6 815.0h0M138.9 813.4h0M154.3 802.8h0M132.3 809.2h0M134.9 811.2h0M109.5 792.2h0M140.9 805.5h0M139.7 810.4h0M151.1 803.0h0M112.8 802.7h0M154.4 797.0h0M113.4 791.9h0M141.4 813.9h0M147.9 809.1h0M153.1 796.4h0M135.7 809.4h0M129.1 798.2h0M140.2 803.4h0M109.6 792.2h0M105.3 793.4h0M122.7 810.6h0M139.7 815.1h0M155.1 810.1h0M175.4 792.7h0M134.1 811.1h0M140.5 813.2h0M112.7 799.1h0M161.6 798.7h0M126.6 807.7h0M118.8 793.4h0M153.2 808.4h0M129.7 797.5h0M149.1 804.6h0M121.9 791.7h0M132.6 796.5h0M150.1 798.7h0M142.0 799.1h0M121.1 802.4h0M118.4 793.4h0M146.6 796.7h0M129.3 795.2h0M123.2 809.9h0M128.2 795.4h0M111.3 807.6h0M108.7 796.0h0M122.0 805.0h0M127.9 792.4h0M114.1 797.6h0M121.1 809.3h0M162.4 801.4h0M133.5 803.2h0M164.5 807.0h0M156.5 800.9h0M139.5 817.2h0M160.9 803.9h0M123.1 793.5h0M158.6 792.7h0M115.7 800.3h0M132.3 815.6h0M153.8 801.3h0M145.7 791.6h0M141.9 800.1h0M165.2 805.8h0M118.0 796.9h0M136.1 814.3h0M127.1 792.5h0M128.6 796.1h0M149.1 800.3h0M140.6 802.7h0M161.2 792.1h0M132.6 810.2h0M108.4 792.3h0M127.5 803.4h0M140.5 802.1h0M147.8 799.3h0M126.5 795.6h0M127.1 808.6h0M172.9 792.0h0M122.7 799.3h0M133.2 808.6h0M126.2 815.5h0M134.2 808.2h0M117.6 801.6h0M149.8 800.8h0M138.3 813.9h0M131.3 797.7h0M129.7 794.4h0M139.8 795.9h0M108.2 796.1h0M146.2 793.4h0M146.9 796.7h0M135.1 799.8h0M129.7 800.9h0M125.7 798.1h0M150.7 812.3h0M131.0 803.4h0M115.8 802.8h0M127.1 801.4h0M150.7 798.0h0M146.4 808.0h0M138.4 815.0h0M119.2 800.2h0M152.1 802.4h0M133.5 792.6h0M114.0 802.3h0M142.2 806.0h0M138.5 803.7h0M128.8 792.1h0M143.8 803.2h0M122.5 811.4h0M149.5 801.4h0M114.2 792.8h0M123.0 793.3h0M147.3 806.7h0M148.4 791.3h0M149.0 796.4h0M138.1 809.9h0M115.6 808.2h0M122.0 809.1h0M130.9 806.6h0M117.9 793.0h0M155.3 795.5h0M147.2 809.5h0M132.7 804.6h0M141.0 793.4h0M138.4 808.6h0M161.0 792.1h0M154.3 793.9h0M102.4 794.9h0M145.5 816.1h0M159.5 791.7h0M112.8 798.5h0M118.3 791.6h0M136.2 812.6h0M147.7 806.6h0M127.8 800.0h0M124.7 793.7h0M112.9 801.2h0M129.9 791.1h0M116.8 798.8h0M141.8 816.6h0M137.2 818.3h0M153.3 803.0h0M138.2 808.6h0M144.6 795.7h0M115.6 796.8h0M135.8 815.7h0M126.4 794.9h0M129.9 807.4h0M121.0 813.1h0M141.7 803.1h0M128.7 803.1h0M134.8 811.7h0M148.4 800.6h0M149.5 814.6h0M127.0 792.9h0M140.7 796.0h0M118.7 810.2h0M139.3 810.0h0M137.2 818.7h0M115.2 791.4h0M127.9 802.8h0M120.9 813.7h0M105.9 801.7h0M159.4 795.9h0M153.4 804.7h0M168.5 796.0h0M147.4 793.6h0M142.3 801.8h0M125.1 796.0h0M119.2 807.3h0M133.8 800.1h0M153.9 797.7h0M140.5 792.9h0M119.3 801.4h0M121.3 810.7h0M131.0 793.9h0M108.6 795.9h0M130.7 815.1h0M129.1 791.5h0M159.1 807.0h0M109.6 796.6h0M146.7 793.1h0M133.0 818.5h0M146.4 794.2h0M147.5 796.5h0M147.1 806.1h0M118.4 802.3h0M134.0 801.3h0M152.7 795.1h0M117.3 809.9h0M124.1 809.2h0M116.5 796.1h0M157.3 805.3h0M145.1 812.8h0M109.6 799.4h0M138.4 805.4h0M136.6 816.7h0M140.0 809.5h0M138.7 807.3h0M134.4 814.6h0M112.8 791.3h0M141.4 797.7h0M137.6 815.3h0M147.0 806.7h0M147.5 798.3h0M111.8 796.6h0M132.7 792.6h0M156.3 802.4h0M161.6 798.3h0M112.4 812.8h0M129.9 815.1h0M122.1 799.6h0M145.6 791.5h0M151.6 791.2h0M136.6 818.1h0M140.6 800.2h0M163.8 794.5h0M99.6 795.0h0M141.8 812.5h0M133.7 813.1h0M112.9 803.6h0M133.0 806.7h0M174.1 794.0h0M140.4 799.2h0M138.3 809.5h0M149.8 806.8h0M149.0 814.7h0M132.8 806.3h0M167.4 801.4h0M119.9 799.4h0M137.1 819.0h0M134.5 794.9h0M165.2 795.6h0M144.7 805.5h0M113.0 805.1h0M146.9 798.2h0M131.0 794.6h0M150.5 795.1h0M121.8 804.3h0M120.5 801.9h0M113.6 802.9h0M125.5 801.5h0M139.4 811.1h0M143.4 812.1h0M122.9 793.4h0M132.4 795.9h0M140.8 798.0h0M155.8 810.8h0M144.1 817.4h0M129.7 796.4h0M160.8 794.1h0M127.8 792.2h0M163.6 796.4h0M143.3 811.7h0M137.4 817.7h0M133.1 802.5h0M162.1 792.4h0M136.0 807.7h0M125.7 794.8h0M132.8 796.8h0M155.2 797.8h0M145.1 796.0h0M138.7 809.6h0M126.8 807.2h0M156.9 803.0h0M112.5 801.9h0M147.5 801.9h0M133.7 808.6h0M130.0 812.2h0M134.1 816.7h0M142.3 817.1h0M118.5 796.6h0M147.4 805.9h0M161.1 793.9h0M124.1 792.1h0M114.7 796.7h0M115.7 803.7h0M120.7 801.5h0M133.2 814.1h0M151.0 797.5h0M118.4 792.8h0M131.4 793.4h0M134.9 807.8h0M130.8 797.1h0M132.4 810.9h0M155.5 802.2h0M146.8 794.8h0M132.4 806.9h0M127.4 797.8h0M121.3 802.0h0M130.8 791.8h0M146.7 814.4h0M142.6 807.9h0M109.9 794.7h0M138.2 808.7h0M155.2 799.9h0M128.9 808.5h0M144.3 807.7h0M109.5 799.4h0M147.3 794.1h0M149.0 813.1h0M154.9 798.6h0M146.2 805.9h0M119.1 806.5h0M130.6 806.0h0M152.5 804.6h0M102.6 791.4h0M166.6 798.5h0M139.4 794.1h0M143.6 806.5h0M128.7 804.4h0M113.4 795.4h0M135.2 802.8h0M114.0 792.8h0M157.3 795.2h0M114.1 793.3h0M122.7 796.0h0M144.0 804.9h0M111.4 799.8h0M133.1 808.8h0M128.6 792.2h0M124.7 791.5h0M157.4 805.3h0M151.4 808.3h0M126.2 804.5h0M137.3 817.6h0M137.9 810.7h0M126.3 797.7h0M126.9 797.3h0M120.4 811.9h0M146.9 807.0h0M148.5 807.7h0M142.4 797.1h0M138.2 807.4h0M146.9 803.3h0M168.2 792.5h0M154.2 795.5h0M154.4 797.7h0M174.8 792.3h0M130.0 805.0h0M125.6 793.4h0M132.5 799.4h0M159.3 795.2h0M136.8 818.6h0M147.1 797.5h0M139.7 812.8h0M148.0 798.3h0M151.1 812.5h0M144.7 808.5h0M117.9 805.6h0M135.7 804.8h0M140.2 812.7h0M111.1 797.9h0M133.1 809.0h0M144.6 791.9h0M131.8 808.3h0M123.8 798.8h0M129.4 795.6h0M117.7 794.7h0M141.7 812.3h0M133.9 797.7h0M141.8 812.6h0M158.5 797.8h0M128.2 799.5h0M167.0 799.1h0M153.8 802.3h0M122.3 791.8h0M141.3 813.7h0M140.6 793.4h0M161.9 792.8h0M149.3 797.4h0M155.4 793.3h0M122.2 791.8h0M116.9 794.0h0M154.9 793.5h0M110.6 798.6h0M126.8 800.2h0M127.3 806.5h0M152.7 795.3h0M127.7 801.5h0M126.3 801.1h0M110.3 797.3h0M124.3 794.8h0M167.3 802.3h0M154.2 795.5h0M156.7 802.1h0M139.9 792.2h0M120.8 805.0h0M131.3 807.1h0M135.0 814.3h0M131.7 810.7h0M146.3 793.1h0M120.0 793.9h0M133.5 807.9h0M165.3 792.4h0M128.8 796.9h0M122.7 798.0h0M127.6 793.8h0M133.3 792.4h0M147.1 798.1h0M170.6 792.1h0M128.6 791.8h0M128.9 797.8h0M122.2 801.4h0M123.2 811.5h0M129.6 807.7h0M131.1 803.4h0M156.8 801.2h0M123.0 804.3h0M167.3 793.4h0M144.3 805.9h0M147.6 792.2h0M149.9 800.0h0M148.4 815.1h0M142.4 810.9h0M141.9 804.6h0M126.9 805.5h0M101.3 792.9h0M164.3 797.9h0M132.9 794.3h0M151.3 811.6h0M136.5 812.5h0M114.0 805.9h0M106.2 802.0h0M171.8 791.5h0M145.6 792.5h0M115.3 794.2h0M145.2 805.8h0M136.0 814.1h0M148.0 808.1h0M145.5 817.1h0M153.5 803.2h0M128.5 795.0h0M138.9 806.3h0M150.2 800.2h0M157.9 801.0h0M128.5 797.3h0M141.0 791.9h0M145.7 793.7h0M167.9 795.2h0M136.3 814.0h0M150.6 809.1h0M128.3 807.2h0M137.6 814.2h0M126.2 792.4h0M114.5 809.8h0M154.3 802.5h0M133.6 796.1h0M150.9 794.6h0M123.9 796.7h0M150.9 809.0h0M112.6 795.8h0M146.7 815.4h0M123.5 796.4h0M151.4 795.0h0M155.9 791.6h0M148.2 804.9h0M125.9 803.4h0M110.0 801.3h0M135.1 799.2h0M129.5 798.3h0M126.5 793.2h0M115.6 791.2h0M144.5 806.6h0M148.6 797.6h0M140.3 795.6h0M135.4 804.1h0M146.4 801.9h0M131.6 796.5h0M158.7 808.0h0M115.0 802.4h0M123.0 794.3h0M129.6 802.4h0M128.3 797.6h0M141.5 795.1h0M122.3 811.0h0M141.0 815.1h0M109.1 792.4h0M125.4 799.5h0M152.4 794.3h0M119.7 809.0h0M140.2 793.7h0M127.0 792.3h0M128.8 795.2h0M149.7 795.1h0M135.0 813.9h0M145.8 817.0h0M165.0 802.5h0M128.2 799.1h0M125.5 797.9h0M132.0 800.8h0M130.5 792.2h0M135.5 805.8h0M148.8 805.2h0M135.7 804.7h0M137.1 818.7h0M150.8 803.5h0M131.5 802.7h0M112.1 804.4h0M155.4 799.7h0M138.3 812.2h0M122.7 808.9h0M117.1 806.6h0M119.2 799.4h0M116.6 803.2h0M153.3 806.9h0M163.9 798.3h0M150.1 804.1h0M119.7 793.3h0M120.4 809.8h0M130.5 792.4h0M136.5 815.1h0M133.6 799.8h0M129.5 800.1h0M167.6 794.7h0M136.1 808.5h0M145.4 802.9h0M134.4 800.6h0M141.0 795.5h0M142.4 801.6h0M147.7 791.9h0M135.8 815.9h0M124.6 794.1h0M137.3 818.3h0M143.4 799.5h0M103.9 794.2h0M120.4 806.4h0M126.7 796.0h0M140.7 799.3h0M128.4 795.6h0M133.6 791.3h0M165.2 795.7h0M154.1 792.1h0M144.7 801.5h0M164.5 792.4h0M142.7 804.0h0M140.5 809.5h0M151.3 810.4h0M121.9 792.5h0M134.7 801.1h0M145.4 793.8h0M149.3 795.3h0M122.3 808.0h0M160.1 799.0h0M113.1 792.0h0M130.3 800.2h0M155.6 806.9h0M119.3 798.5h0M136.7 816.4h0M173.1 792.2h0M121.9 807.7h0M145.2 791.5h0M148.8 796.7h0M130.4 803.9h0M159.0 794.1h0M133.4 800.7h0M164.4 796.5h0M141.0 794.8h0M129.4 806.5h0M138.1 816.3h0M124.5 792.8h0M127.2 810.1h0M134.2 794.5h0M124.4 808.7h0M166.0 795.0h0M150.1 802.0h0M144.6 800.7h0M164.9 794.4h0M145.2 800.2h0M116.7 791.8h0M152.8 797.6h0M155.8 793.3h0M119.1 801.2h0M153.9 792.3h0M130.9 807.6h0M139.6 804.2h0M136.7 815.8h0M152.3 808.3h0M143.2 817.8h0M158.7 807.4h0M145.5 801.5h0M126.7 799.2h0M154.0 791.7h0M158.2 802.7h0M115.4 805.9h0M143.3 794.9h0M117.7 807.3h0M157.8 804.8h0M165.1 797.3h0M127.0 801.7h0M135.7 813.8h0M125.7 791.8h0M155.8 791.9h0M116.1 799.3h0M124.2 812.4h0M128.1 792.3h0M115.3 799.5h0M123.8 794.8h0M113.5 808.3h0M125.3 801.3h0M139.9 802.2h0M128.3 796.4h0M141.6 807.4h0M118.6 800.5h0M130.3 798.3h0M134.8 793.4h0M136.6 816.8h0M132.6 797.9h0M146.7 802.3h0M153.9 799.5h0M142.8 791.4h0M149.7 792.8h0M128.3 792.9h0M148.2 797.6h0M148.5 796.8h0M140.6 794.7h0M120.6 809.3h0M128.7 808.9h0M126.2 793.3h0M122.9 792.6h0M125.5 798.6h0M140.2 800.2h0M118.9 800.5h0M139.7 793.4h0M132.6 803.2h0M158.1 792.9h0M154.6 814.3h0M152.5 814.2h0M140.2 795.6h0M159.4 803.2h0M142.9 806.9h0M140.9 803.8h0M138.2 809.6h0M131.5 800.2h0M156.6 805.9h0M142.9 796.8h0M150.7 807.4h0M103.6 791.6h0M148.4 791.9h0M125.5 813.7h0M137.9 811.2h0M131.6 794.9h0M127.7 801.5h0M124.8 793.1h0M128.3 805.6h0M149.3 813.8h0M143.5 810.3h0M112.4 794.6h0M141.2 799.0h0M151.3 808.7h0M144.6 812.2h0M136.0 811.5h0M141.2 794.8h0M140.7 793.5h0M121.7 796.8h0M129.6 791.2h0M125.5 813.1h0M126.8 793.3h0M157.7 795.4h0M134.8 806.0h0M143.1 799.4h0M131.3 805.3h0M120.7 795.9h0M136.6 814.1h0M151.3 791.9h0M154.2 803.7h0M133.6 809.7h0M107.1 791.2h0M133.6 804.5h0M133.4 805.0h0M99.0 798.8h0M133.1 802.1h0M118.3 808.6h0M130.4 814.7h0M120.8 799.5h0M174.3 792.6h0M146.5 794.2h0M126.6 791.8h0M149.3 792.2h0M135.6 808.2h0M127.6 791.6h0M144.7 807.1h0M136.7 816.6h0M137.4 816.7h0M132.3 816.7h0M159.4 801.4h0M134.7 818.0h0M119.2 794.9h0M139.6 803.3h0M144.2 792.4h0M111.8 798.6h0M148.7 813.6h0M132.8 806.2h0M133.8 794.1h0M143.3 799.8h0M119.9 792.1h0M117.0 800.0h0M119.6 794.3h0M153.3 793.7h0M130.3 793.1h0M132.7 810.0h0M130.6 817.5h0M142.8 800.0h0M138.6 803.1h0M141.4 810.7h0M140.6 812.2h0M138.0 816.4h0M165.3 797.0h0M127.8 805.0h0M115.3 792.0h0M147.1 804.9h0M132.3 802.5h0M160.7 796.8h0M118.8 797.1h0M130.5 799.3h0M106.3 800.4h0M133.9 800.4h0M123.3 808.1h0M121.9 805.1h0M151.3 798.6h0M125.1 804.5h0M137.1 818.9h0M130.6 812.2h0M157.9 800.3h0M133.7 811.0h0M158.6 797.0h0M149.6 794.1h0M140.1 806.4h0M142.7 809.5h0M152.1 809.3h0M136.6 815.8h0M160.2 800.3h0M128.6 798.8h0M133.2 800.0h0M154.0 792.6h0M124.2 800.0h0M123.1 807.9h0M149.2 799.3h0M165.7 794.0h0M132.7 791.7h0M119.9 792.8h0M145.2 806.8h0M168.5 791.9h0M123.6 799.3h0M154.5 795.3h0M150.2 805.1h0M131.5 793.9h0M137.1 819.1h0M156.4 791.4h0M126.8 797.1h0M131.6 806.2h0M133.0 810.1h0M148.7 808.6h0M136.3 812.4h0M114.5 802.0h0M161.5 799.9h0M137.9 814.3h0M151.5 805.5h0M116.6 799.5h0M112.4 804.4h0M136.7 815.3h0M145.0 804.0h0M112.2 793.8h0M140.7 794.6h0M109.1 796.2h0M138.6 811.3h0M153.4 802.3h0M153.2 805.8h0M129.1 805.8h0M145.3 803.0h0M116.7 807.8h0M129.0 797.3h0M131.9 793.2h0M146.8 807.6h0M164.3 798.1h0M99.4 797.7h0M138.5 811.6h0M141.1 803.1h0M139.4 807.5h0M129.0 800.9h0M149.7 808.6h0M136.6 814.3h0M140.9 795.2h0M133.3 795.2h0M153.9 804.7h0M145.2 795.2h0M146.9 812.9h0M142.6 796.3h0M156.1 794.1h0M147.7 795.1h0M97.5 791.6h0M151.1 800.8h0M134.6 800.9h0M112.8 810.7h0M137.5 816.4h0M135.8 806.9h0M135.4 814.9h0M136.2 816.4h0M150.8 791.2h0M123.2 804.8h0M122.7 802.2h0M143.2 813.9h0M139.8 802.0h0M141.3 816.4h0M130.6 791.5h0M113.2 804.8h0M162.3 797.5h0M130.0 798.7h0M142.7 808.0h0M133.3 815.2h0M124.7 793.1h0M111.2 800.5h0M113.9 792.3h0M134.5 801.0h0M139.3 810.1h0M114.2 791.8h0M147.3 808.6h0M121.2 797.4h0M122.8 799.0h0M149.3 791.2h0M146.2 795.7h0M161.8 793.3h0M168.3 795.2h0M158.2 807.9h0M140.6 804.6h0M142.4 792.7h0M145.5 798.4h0M140.8 807.7h0M151.9 809.5h0M120.3 792.1h0M152.1 810.5h0M124.2 808.0h0M120.9 792.2h0M151.0 810.5h0M132.1 791.3h0M132.5 803.7h0M134.6 792.5h0M153.9 795.9h0M130.2 803.0h0M149.1 814.1h0M134.0 797.6h0M137.3 818.8h0M153.0 804.9h0M135.3 810.3h0M122.9 794.4h0M130.8 801.4h0M124.0 809.2h0M127.1 799.0h0M141.7 803.3h0M139.6 804.7h0M146.1 793.8h0M161.2 800.0h0M110.8 792.8h0M166.7 792.8h0M135.5 804.2h0M114.1 810.4h0M143.4 796.9h0M143.1 810.4h0M123.9 798.1h0M108.4 795.1h0M137.9 813.5h0M136.0 807.4h0M134.4 796.5h0M140.7 813.5h0M136.9 818.4h0M124.4 801.2h0M150.1 808.8h0M109.9 804.7h0M150.5 806.5h0M167.8 796.9h0M166.0 798.1h0M130.8 804.1h0M155.1 798.9h0M137.0 819.0h0M123.6 799.0h0M153.6 807.8h0M148.9 809.8h0M135.5 801.9h0M138.4 814.5h0M112.6 793.7h0M149.0 799.4h0M122.5 796.8h0M133.5 794.8h0M133.1 795.7h0M135.1 806.2h0M127.5 807.6h0M116.1 791.8h0M117.8 795.1h0M125.9 799.8h0M130.1 798.7h0M127.3 798.9h0M154.7 796.4h0M147.0 806.0h0M138.3 807.0h0M127.5 812.5h0M139.7 807.5h0M115.3 799.9h0M130.2 799.0h0M165.2 793.9h0M146.7 807.9h0M142.2 798.9h0M134.5 803.4h0M157.5 806.4h0M141.2 805.2h0M130.7 817.6h0M137.6 816.4h0M141.8 798.3h0M137.4 817.4h0M168.2 799.4h0M139.5 810.7h0M154.0 803.4h0M125.5 802.9h0M127.8 798.0h0M162.3 792.1h0M114.0 806.0h0M150.5 800.2h0M145.2 815.2h0M163.9 792.0h0M118.5 811.9h0M154.4 804.1h0M146.4 808.2h0M145.3 807.0h0M127.6 815.2h0M121.1 812.3h0M119.3 804.6h0M136.8 816.6h0M113.2 804.6h0M122.5 794.1h0M126.1 814.8h0M136.8 817.8h0M146.5 796.9h0M98.9 792.4h0M154.7 802.2h0M134.3 802.0h0M135.6 816.5h0M126.4 809.9h0M135.9 812.6h0M131.8 814.6h0M132.4 795.3h0M156.7 797.3h0M136.7 816.4h0M119.9 791.2h0M122.0 800.9h0M112.0 808.1h0M139.3 809.4h0M149.2 814.8h0M133.5 802.9h0M160.4 803.8h0M160.6 791.3h0M134.9 807.4h0M132.6 793.1h0M141.5 803.1h0M140.6 810.1h0M134.1 791.6h0M142.1 802.7h0M141.7 799.8h0M114.8 794.6h0M164.8 798.2h0M137.2 818.0h0M123.7 791.2h0M114.9 810.6h0M112.5 791.8h0M134.4 803.8h0M137.0 819.1h0M129.3 810.6h0M143.1 791.9h0M174.2 794.8h0M138.6 804.8h0M112.7 793.8h0M136.9 817.3h0M157.9 799.3h0M150.5 814.5h0M111.2 792.0h0M144.4 802.5h0M151.4 805.0h0M139.8 805.6h0M150.1 800.0h0M149.0 809.7h0M123.7 804.7h0M112.1 796.6h0M138.8 805.6h0M148.8 800.9h0M129.8 797.5h0M110.0 792.9h0M140.0 793.2h0M113.5 795.3h0M140.4 795.8h0M133.4 810.5h0M114.7 794.6h0M139.5 799.6h0M158.0 799.9h0M129.6 799.2h0M108.4 794.9h0M132.3 815.6h0M134.7 794.2h0M106.2 794.4h0M152.4 805.1h0M138.8 805.3h0M146.0 817.6h0M138.3 810.6h0M145.0 792.7h0M127.2 802.3h0M144.4 794.2h0M136.2 812.5h0M136.1 809.0h0M97.2 795.8h0M144.4 792.4h0M142.0 802.7h0M147.8 799.9h0M136.4 816.5h0M145.7 800.6h0M141.5 802.5h0M113.0 806.7h0M146.1 806.5h0M107.1 801.4h0M145.7 810.8h0M135.7 807.4h0M157.9 803.9h0M124.3 813.5h0M155.8 796.8h0M148.5 799.4h0M109.2 797.5h0M122.0 814.4h0M157.7 808.7h0M138.4 818.6h0M172.4 792.5h0M128.3 803.3h0M121.6 795.0h0M133.8 801.8h0M134.2 800.4h0M170.9 792.7h0M137.1 819.0h0M127.6 809.2h0M131.6 796.0h0M152.4 794.8h0M131.4 793.7h0M152.5 793.3h0M127.2 802.7h0M127.8 796.7h0M128.2 792.2h0M150.1 801.8h0M141.3 801.9h0M117.9 797.4h0M143.2 795.3h0M117.5 794.4h0M149.4 793.3h0M132.8 792.2h0M116.5 792.7h0M131.8 808.8h0M125.8 797.2h0M156.2 808.1h0M135.0 799.7h0M141.7 791.7h0M141.1 801.9h0M160.7 793.3h0M99.6 794.3h0M109.9 794.4h0M146.7 802.7h0M136.0 807.0h0M129.1 810.6h0M149.3 792.6h0M144.5 807.3h0M158.7 795.4h0M136.1 814.8h0M141.0 815.1h0M124.3 792.9h0M125.2 810.1h0M143.1 816.4h0M120.3 801.0h0M138.5 808.0h0M134.3 803.9h0M174.9 800.4h0M150.2 791.7h0M149.1 800.6h0M142.6 798.0h0M154.1 812.6h0M169.6 794.1h0M130.6 806.0h0M133.4 815.1h0M118.5 793.8h0M123.7 804.9h0M130.6 802.6h0M134.0 806.2h0M141.6 794.4h0M146.7 791.7h0M130.9 809.5h0M138.3 811.8h0M174.0 792.0h0M140.0 808.7h0M132.6 806.9h0M143.8 811.6h0M141.2 796.4h0M119.6 802.2h0M113.9 793.7h0M136.9 819.0h0M107.2 793.7h0M135.6 809.8h0M149.4 798.6h0M147.5 792.5h0M149.8 794.9h0M144.5 793.3h0M146.6 813.8h0M135.8 818.3h0M128.5 798.9h0M121.4 793.6h0M145.3 811.8h0M111.7 795.3h0M134.4 795.6h0M163.5 798.6h0M135.2 798.9h0M139.8 799.7h0M155.3 804.2h0M152.9 791.3h0M139.2 803.7h0M123.3 797.1h0M155.7 796.8h0M148.7 793.3h0M147.2 813.3h0M160.2 795.7h0M154.9 806.9h0M134.7 795.8h0M154.5 799.0h0M132.5 803.8h0M174.5 794.1h0M126.8 791.3h0M138.2 813.3h0M123.2 793.5h0M117.8 802.0h0M121.9 809.0h0M145.6 802.5h0M126.3 803.1h0M133.5 799.4h0M114.1 806.0h0M160.0 799.0h0M122.0 810.3h0M152.5 796.9h0M143.2 802.2h0M137.5 818.7h0M106.6 793.9h0M132.7 792.1h0M150.5 804.5h0M112.3 797.1h0M102.5 795.8h0M124.6 809.3h0M114.5 805.7h0M135.5 801.4h0M149.1 797.0h0M134.4 799.4h0M158.2 802.3h0M141.8 803.8h0M131.7 805.4h0M148.4 792.5h0M125.7 803.5h0M123.9 804.3h0M150.0 792.3h0M149.5 810.0h0M164.9 795.1h0M152.2 810.8h0M146.2 797.6h0M140.5 810.1h0M146.8 805.9h0M130.5 816.5h0M143.2 795.2h0M137.7 814.6h0M143.3 794.1h0M146.2 811.4h0M138.1 816.9h0M156.2 792.2h0M151.5 792.2h0M124.3 798.1h0M149.3 811.1h0M152.6 791.9h0M132.0 800.6h0M126.5 809.8h0M175.7 797.2h0M138.3 814.3h0M141.6 816.4h0M137.0 818.8h0M135.1 815.2h0M144.8 797.8h0M125.9 799.3h0M130.7 795.2h0M127.0 807.9h0M124.2 813.2h0M152.8 791.3h0M127.0 794.9h0M134.5 802.2h0M148.7 808.1h0M111.8 803.0h0M149.2 802.4h0M126.6 791.4h0M130.6 814.3h0M144.3 817.4h0M146.1 803.0h0M152.9 806.3h0M160.9 794.8h0M115.8 803.5h0M139.8 805.8h0M132.5 800.0h0M133.2 809.2h0M146.4 802.3h0M111.5 791.9h0M123.7 811.1h0M131.9 814.2h0M133.7 815.0h0M130.1 807.1h0M139.8 792.3h0M116.3 808.7h0M155.0 800.8h0M109.1 793.0h0M113.8 802.7h0M134.3 792.7h0M117.6 795.7h0M141.7 810.4h0M147.7 798.3h0M121.3 805.6h0M124.3 803.1h0M150.9 793.8h0M118.7 808.9h0M112.8 794.4h0M99.8 792.1h0M145.1 796.6h0M138.9 803.9h0M134.7 805.5h0M118.6 808.5h0M137.6 813.7h0M120.5 796.5h0M133.2 811.2h0M140.4 803.9h0M134.9 795.0h0M149.9 804.4h0M157.4 806.4h0M129.8 800.2h0M153.6 796.1h0M122.4 803.7h0M130.1 796.2h0M150.1 812.9h0M141.1 799.5h0M119.0 793.1h0M127.4 795.2h0M139.8 796.0h0M149.9 791.7h0M138.1 817.2h0M142.7 799.4h0M116.2 795.8h0M125.5 806.5h0M151.8 798.3h0M160.5 793.9h0M134.3 813.8h0M127.0 805.7h0M136.0 810.7h0M154.8 801.0h0M136.4 812.6h0M148.9 797.4h0M117.6 794.5h0M150.6 797.3h0M138.1 809.0h0M133.9 805.9h0M145.6 795.7h0M109.2 795.8h0M146.3 816.4h0M143.2 807.4h0M146.1 806.2h0M125.4 797.5h0M130.0 814.9h0M114.6 792.1h0M140.3 805.6h0M165.3 797.0h0M128.9 809.3h0M138.0 818.3h0M161.2 795.7h0M162.6 804.6h0M130.1 808.8h0M137.6 815.1h0M138.5 809.3h0M112.8 799.9h0M129.7 795.6h0M130.9 793.5h0M155.0 795.9h0M145.0 798.5h0M142.6 810.0h0M138.7 815.4h0M171.4 794.0h0M142.5 800.9h0M147.8 804.1h0M140.1 801.7h0M142.2 794.6h0M136.2 809.6h0M132.5 816.7h0M156.0 805.7h0M153.2 794.2h0M97.3 794.9h0M110.0 793.2h0M139.4 793.8h0M141.7 805.1h0M118.9 795.1h0M130.3 792.8h0M132.8 805.0h0M146.2 796.9h0M115.3 808.1h0M144.0 800.1h0M164.2 800.5h0M107.4 800.4h0M144.2 806.3h0M139.4 810.2h0M137.5 816.1h0M149.0 811.5h0M174.6 791.9h0M141.7 797.3h0M111.7 792.4h0M128.7 793.8h0M134.1 805.1h0M133.3 808.7h0M134.4 792.5h0M134.1 792.2h0M138.0 811.0h0M149.3 810.7h0M129.1 806.6h0M158.4 793.3h0M107.5 805.7h0M124.9 797.3h0M140.2 805.2h0M147.5 811.9h0M136.6 818.4h0M157.3 799.8h0M100.3 793.9h0M158.0 802.2h0M118.2 801.6h0M154.8 808.7h0M144.7 807.9h0M122.4 795.1h0M168.5 797.6h0M153.8 806.2h0M170.4 793.5h0M134.0 813.6h0M129.0 797.2h0M130.4 812.4h0M115.5 800.1h0M144.1 809.1h0M133.3 792.3h0M127.6 813.6h0M135.0 796.4h0M155.1 793.8h0M141.2 797.2h0M126.0 804.1h0M147.2 793.3h0M114.4 800.9h0M122.0 815.6h0M152.2 810.8h0M135.3 811.6h0M138.7 806.5h0M163.9 791.8h0M138.4 809.8h0M150.1 813.1h0M148.4 794.8h0M133.2 804.0h0M138.9 813.9h0M127.6 799.1h0M101.9 803.5h0M141.6 800.7h0M134.3 815.8h0M144.1 793.5h0M141.0 793.2h0M149.4 794.5h0M162.8 802.5h0M146.4 796.6h0M163.4 810.9h0M138.9 806.9h0M122.4 793.1h0M123.9 791.4h0M130.5 810.9h0M135.3 815.1h0M160.3 797.7h0M122.6 793.0h0M141.9 802.7h0M122.5 791.2h0M160.9 800.8h0M116.8 798.1h0M151.2 796.0h0M126.8 800.4h0M132.1 801.1h0M161.0 798.4h0M140.1 816.9h0M145.6 796.2h0M153.5 804.3h0M132.7 803.3h0M143.8 800.2h0M123.8 804.6h0M135.2 808.6h0M140.7 795.4h0M141.7 803.2h0M120.5 799.7h0M150.4 794.0h0M151.2 810.9h0M146.5 801.7h0M158.0 801.4h0M142.0 799.4h0M132.9 793.8h0M139.8 803.2h0M147.4 805.3h0M138.4 815.1h0M151.2 794.3h0M146.4 791.3h0M108.8 791.8h0M146.4 792.5h0M108.2 793.8h0M125.1 798.7h0M115.7 799.2h0M142.6 810.5h0M142.1 793.6h0M129.7 801.6h0M141.2 801.9h0M124.4 811.2h0M145.8 798.4h0M124.1 811.0h0M134.7 806.0h0M126.8 795.0h0M123.3 793.3h0M124.3 811.9h0M131.6 794.6h0M177.1 798.9h0M158.9 807.9h0M131.0 806.9h0M132.0 804.7h0M136.8 817.0h0M125.8 811.4h0M154.7 807.6h0M119.0 791.7h0M126.6 797.4h0M146.6 814.4h0M127.5 791.3h0M147.6 806.8h0M121.3 804.0h0M130.7 800.0h0M140.5 801.5h0M129.6 797.4h0M121.1 795.2h0M141.1 802.6h0M150.9 793.5h0M152.4 794.8h0M121.6 801.6h0M135.6 803.9h0M136.5 816.5h0M135.9 818.5h0M121.6 795.2h0M135.8 809.4h0M146.3 797.8h0M140.6 791.6h0M119.4 812.7h0M134.5 805.8h0M131.4 795.7h0M120.2 806.2h0M149.6 815.0h0M142.0 805.2h0M142.9 791.2h0M121.4 812.4h0M151.5 792.8h0M156.9 791.9h0M145.0 812.1h0M133.3 793.2h0M111.2 791.2h0M152.8 791.2h0M153.5 805.7h0M125.5 797.1h0M145.3 791.2h0M148.8 805.8h0M125.0 797.0h0M124.1 792.2h0M123.1 808.5h0M141.2 803.2h0M151.9 803.3h0M165.4 804.8h0M141.9 799.4h0M146.3 795.8h0M122.6 793.4h0M166.6 801.2h0M133.5 805.7h0M148.9 805.3h0M126.2 807.7h0M145.3 810.8h0M150.0 801.6h0M150.4 807.3h0M112.9 809.9h0M122.7 807.7h0M132.5 792.1h0M112.2 795.8h0M165.9 794.7h0M121.8 794.7h0M135.5 805.4h0M147.4 803.9h0M148.7 796.8h0M128.2 806.3h0M143.3 817.8h0M123.3 804.6h0M149.3 796.3h0M147.5 804.4h0M131.1 801.3h0M156.2 796.5h0M119.6 791.7h0M134.6 800.1h0M127.4 807.9h0M137.6 814.3h0M162.9 798.5h0M143.5 806.0h0M147.9 794.1h0M135.9 807.0h0M135.4 810.3h0M156.1 796.0h0M138.2 808.1h0M118.4 795.1h0M125.1 795.9h0M130.4 804.0h0M127.4 806.3h0M134.3 807.4h0M156.8 808.3h0M142.4 802.2h0M135.5 810.2h0M141.7 794.7h0M138.9 807.0h0M141.7 792.7h0M131.6 807.0h0M118.4 808.7h0M154.1 793.4h0M140.4 796.1h0M113.6 801.3h0M121.2 812.4h0M118.7 793.6h0M128.2 793.0h0M124.7 813.9h0M138.5 815.8h0M162.2 798.7h0M148.6 807.6h0M127.4 794.2h0M124.9 808.3h0M114.3 802.2h0M155.6 806.1h0M155.8 800.2h0M146.8 794.7h0M147.6 804.7h0M108.3 794.0h0M153.1 802.4h0M104.6 794.2h0M152.6 791.2h0M127.0 810.8h0M117.7 791.2h0M126.2 802.4h0M138.2 812.0h0M116.4 801.2h0M154.8 806.4h0M126.8 806.0h0M145.7 803.7h0M121.8 814.0h0M123.9 793.8h0M122.4 797.4h0M123.1 814.9h0M115.1 797.6h0M137.4 817.8h0M118.2 807.7h0M135.1 813.0h0M158.0 794.5h0M134.0 807.8h0M121.4 798.5h0M133.4 803.8h0M123.1 801.4h0M136.4 812.4h0M156.2 802.0h0M155.2 797.7h0M146.4 813.4h0M140.7 793.6h0M136.1 809.0h0M138.8 801.6h0M144.6 802.3h0M155.9 796.7h0M138.4 808.2h0M125.4 813.3h0M131.7 804.9h0M116.3 793.5h0M119.8 796.4h0M106.6 796.6h0M109.5 798.0h0M126.2 801.8h0M132.0 809.0h0M150.5 803.4h0M127.8 795.3h0M128.5 811.9h0M125.8 808.4h0M146.9 808.3h0M132.6 793.6h0M137.0 818.7h0M125.3 792.0h0M133.0 812.6h0M152.9 793.1h0M110.1 796.0h0M143.4 799.8h0M125.8 807.7h0M152.4 807.8h0M122.0 801.6h0M112.8 794.5h0M145.4 801.0h0M136.2 815.8h0M159.2 805.2h0M143.0 814.8h0M115.4 791.1h0M129.5 801.3h0M104.4 793.2h0M106.0 797.3h0M157.6 797.3h0M120.4 805.8h0M137.8 815.3h0M144.1 798.0h0M143.3 799.3h0M156.9 796.4h0M112.7 792.2h0M151.3 797.3h0M154.7 796.7h0M128.3 801.1h0M146.9 794.7h0M128.0 800.6h0" stroke="#d5d5d5" stroke-width="2.6" stroke-linecap="round" stroke-opacity="0.6"/>
<path d="M144.3 780.9h0" stroke="#f0d2c6" stroke-width="3.1" stroke-linecap="round"/><path d="M144.8 782.2h0M145.0 775.7h0" stroke="#f0ccc0" stroke-width="3.1" stroke-linecap="round"/><path d="M128.9 774.1h0M128.5 771.1h0" stroke="#d2ccea" stroke-width="3.1" stroke-linecap="round"/><path d="M145.7 786.8h0M145.9 769.7h0M145.9 789.3h0" stroke="#f0c6ba" stroke-width="3.1" stroke-linecap="round"/><path d="M127.9 769.9h0M127.6 786.4h0M127.6 784.0h0" stroke="#d2c6ea" stroke-width="3.1" stroke-linecap="round"/><path d="M127.2 775.4h0" stroke="#ccc6ea" stroke-width="3.1" stroke-linecap="round"/><path d="M147.4 776.4h0" stroke="#f0c0b4" stroke-width="3.1" stroke-linecap="round"/><path d="M147.7 772.5h0M147.9 755.9h0M147.9 781.2h0M147.9 786.1h0M148.0 779.8h0" stroke="#eac0ae" stroke-width="3.1" stroke-linecap="round"/><path d="M126.2 754.6h0M125.9 752.9h0" stroke="#ccc0ea" stroke-width="3.1" stroke-linecap="round"/><path d="M148.2 753.6h0M148.2 772.7h0M148.3 758.8h0" stroke="#eabaae" stroke-width="3.1" stroke-linecap="round"/><path d="M148.6 770.3h0M148.9 782.3h0M149.2 750.2h0" stroke="#eabaa8" stroke-width="3.1" stroke-linecap="round"/><path d="M125.6 750.4h0M125.5 776.4h0" stroke="#c6c0ea" stroke-width="3.1" stroke-linecap="round"/><path d="M125.4 771.4h0M125.3 779.8h0M125.3 773.0h0M125.0 779.3h0M124.6 756.0h0M124.5 742.7h0M124.3 782.8h0M124.3 777.0h0M124.2 790.2h0" stroke="#c6bae4" stroke-width="3.1" stroke-linecap="round"/><path d="M149.5 754.8h0M149.6 754.8h0" stroke="#eab4a8" stroke-width="3.1" stroke-linecap="round"/><path d="M149.7 771.0h0M150.1 782.1h0M150.2 786.0h0M150.3 738.7h0M150.3 742.1h0M150.5 775.8h0M150.5 751.8h0" stroke="#eab4a2" stroke-width="3.1" stroke-linecap="round"/><path d="M123.9 754.1h0" stroke="#c6b4e4" stroke-width="3.1" stroke-linecap="round"/><path d="M123.8 738.4h0M123.8 788.8h0M123.7 778.1h0M123.6 745.0h0M123.6 758.7h0M123.5 785.8h0M123.5 765.2h0M123.5 771.9h0M123.5 782.5h0M123.3 766.1h0M123.2 751.0h0M122.9 746.6h0M122.8 774.0h0M122.8 775.8h0M122.7 788.1h0" stroke="#c0b4e4" stroke-width="3.1" stroke-linecap="round"/><path d="M150.7 746.3h0M151.0 769.1h0M151.1 790.2h0M151.2 767.5h0M151.3 771.9h0M151.4 757.4h0M151.4 749.2h0M151.4 779.3h0M151.5 774.1h0" stroke="#eaae9c" stroke-width="3.1" stroke-linecap="round"/><path d="M151.7 748.3h0M151.8 737.3h0" stroke="#e4ae96" stroke-width="3.1" stroke-linecap="round"/><path d="M122.4 761.2h0M122.3 789.7h0" stroke="#c0aee4" stroke-width="3.1" stroke-linecap="round"/><path d="M151.9 757.8h0M152.0 778.0h0M152.0 783.4h0M152.1 767.7h0M152.1 763.2h0M152.2 744.4h0M152.3 770.1h0M152.4 785.5h0M152.4 779.5h0M152.4 788.2h0M152.5 759.2h0M152.5 759.9h0M152.6 789.2h0M152.7 772.6h0" stroke="#e4a896" stroke-width="3.1" stroke-linecap="round"/><path d="M122.0 710.3h0M121.9 778.0h0M121.8 787.4h0M121.4 744.2h0" stroke="#baaee4" stroke-width="3.1" stroke-linecap="round"/><path d="M152.7 759.4h0M152.8 783.4h0M152.8 763.7h0M152.8 766.6h0M152.8 786.9h0M152.9 720.8h0M152.9 773.8h0M153.0 768.8h0M153.1 778.0h0M153.2 781.2h0" stroke="#e4a890" stroke-width="3.1" stroke-linecap="round"/><path d="M121.2 752.3h0" stroke="#baaede" stroke-width="3.1" stroke-linecap="round"/><path d="M121.1 759.1h0M121.1 744.3h0M121.1 742.3h0M121.1 783.2h0M121.0 780.2h0M120.9 774.7h0M120.6 790.5h0" stroke="#baa8de" stroke-width="3.1" stroke-linecap="round"/><path d="M153.2 769.1h0M153.2 751.8h0M153.3 788.1h0M153.4 753.7h0M153.4 778.9h0M153.4 760.5h0M153.5 757.9h0M153.5 758.0h0M153.6 789.9h0M153.7 783.9h0M153.7 785.1h0M153.8 755.7h0M153.9 772.3h0M153.9 778.0h0M154.1 747.2h0" stroke="#e4a290" stroke-width="3.1" stroke-linecap="round"/><path d="M120.3 743.7h0M120.3 774.1h0M120.3 766.9h0M120.3 756.8h0M120.2 750.7h0M120.1 780.3h0M120.0 728.4h0M120.0 784.8h0M119.9 785.1h0" stroke="#b4a8de" stroke-width="3.1" stroke-linecap="round"/><path d="M154.2 775.1h0M154.4 760.9h0M154.5 784.6h0M154.6 754.7h0M154.6 775.8h0M154.7 786.8h0M154.7 774.7h0" stroke="#e4a28a" stroke-width="3.1" stroke-linecap="round"/><path d="M119.9 784.6h0M119.7 766.1h0M119.7 754.0h0M119.7 787.0h0M119.5 774.4h0M119.5 782.0h0M119.5 768.6h0M119.4 774.6h0M119.1 760.6h0" stroke="#b4a2de" stroke-width="3.1" stroke-linecap="round"/><path d="M155.0 788.1h0M155.1 748.1h0M155.1 772.3h0" stroke="#e49c8a" stroke-width="3.1" stroke-linecap="round"/><path d="M155.2 780.3h0M155.2 725.4h0M155.3 755.3h0M155.4 783.2h0" stroke="#de9c8a" stroke-width="3.1" stroke-linecap="round"/><path d="M155.6 774.5h0M155.6 767.9h0M155.7 747.5h0M155.7 778.1h0M156.0 777.7h0M156.0 790.1h0M156.1 746.3h0M156.1 742.3h0M156.2 778.4h0M156.2 783.0h0M156.2 731.0h0M156.3 783.7h0" stroke="#de9c84" stroke-width="3.1" stroke-linecap="round"/><path d="M118.6 782.5h0M118.6 789.0h0M118.5 755.3h0M118.1 760.9h0" stroke="#ae9cde" stroke-width="3.1" stroke-linecap="round"/><path d="M118.0 784.5h0M118.0 789.4h0M117.9 752.7h0M117.8 758.1h0M117.7 783.9h0M117.7 748.3h0M117.6 747.8h0M117.6 740.6h0M117.5 783.8h0" stroke="#ae9cd8" stroke-width="3.1" stroke-linecap="round"/><path d="M156.3 786.5h0M156.3 766.3h0M156.6 760.2h0M156.7 786.3h0M156.7 775.4h0M156.7 766.9h0M156.8 782.2h0M156.8 789.9h0M156.8 781.5h0M156.8 789.7h0M156.9 789.2h0" stroke="#de9684" stroke-width="3.1" stroke-linecap="round"/><path d="M117.4 775.5h0M117.3 780.3h0M117.3 776.1h0M117.3 788.1h0M117.2 763.6h0M117.2 789.9h0M117.1 780.3h0M117.1 788.6h0M117.1 790.3h0M116.7 754.7h0M116.6 762.3h0M116.4 754.6h0M116.4 760.2h0" stroke="#a896d8" stroke-width="3.1" stroke-linecap="round"/><path d="M157.1 784.3h0M157.1 776.0h0M157.1 787.4h0M157.1 786.8h0M157.2 764.9h0M157.2 780.6h0M157.3 785.8h0M157.3 757.2h0M157.5 752.5h0M157.5 755.9h0M157.6 778.4h0M157.6 749.7h0M157.7 789.7h0" stroke="#de967e" stroke-width="3.1" stroke-linecap="round"/><path d="M157.9 783.1h0M158.0 728.8h0M158.0 733.8h0M158.0 785.4h0M158.0 752.9h0M158.1 778.8h0M158.1 758.4h0M158.2 781.9h0M158.2 754.2h0M158.3 754.9h0" stroke="#de907e" stroke-width="3.1" stroke-linecap="round"/><path d="M116.1 744.7h0M116.1 788.2h0M116.1 742.2h0M116.0 771.0h0M116.0 769.6h0M116.0 788.9h0M116.0 779.1h0M115.9 758.0h0M115.9 768.6h0" stroke="#a890d8" stroke-width="3.1" stroke-linecap="round"/><path d="M158.4 788.7h0M158.5 787.9h0M158.6 773.3h0" stroke="#de9078" stroke-width="3.1" stroke-linecap="round"/><path d="M115.7 787.2h0M115.6 738.1h0M115.5 779.2h0M115.3 740.2h0M115.2 764.7h0" stroke="#a290d8" stroke-width="3.1" stroke-linecap="round"/><path d="M158.6 763.6h0M158.7 776.9h0M158.7 775.4h0M158.8 789.3h0M158.8 778.3h0M158.8 738.9h0M158.9 787.4h0M159.0 767.2h0M159.2 784.7h0M159.2 781.5h0" stroke="#d89078" stroke-width="3.1" stroke-linecap="round"/><path d="M115.0 768.8h0M114.9 786.6h0M114.8 787.7h0M114.8 776.7h0" stroke="#a28ad8" stroke-width="3.1" stroke-linecap="round"/><path d="M159.5 789.9h0M159.5 789.1h0M159.6 783.0h0M159.6 775.1h0M159.6 770.2h0" stroke="#d88a78" stroke-width="3.1" stroke-linecap="round"/><path d="M114.7 777.0h0M114.5 784.9h0M114.5 779.8h0M114.5 786.3h0M114.4 788.9h0" stroke="#a28ad2" stroke-width="3.1" stroke-linecap="round"/><path d="M159.9 788.1h0M159.9 789.9h0M160.0 741.5h0M160.0 788.9h0M160.0 786.0h0M160.2 776.9h0M160.2 772.7h0M160.3 737.6h0M160.4 781.5h0M160.4 764.3h0M160.6 769.6h0M160.6 783.9h0M160.7 767.9h0M160.7 788.2h0M160.7 786.7h0M160.8 790.0h0M160.8 764.4h0" stroke="#d88a72" stroke-width="3.1" stroke-linecap="round"/><path d="M114.3 754.9h0" stroke="#9c8ad2" stroke-width="3.1" stroke-linecap="round"/><path d="M113.7 757.3h0M113.6 753.9h0M113.5 781.9h0M113.4 790.2h0M113.4 780.6h0M113.4 778.7h0M113.4 771.5h0M113.3 787.0h0M113.1 787.8h0M113.1 754.8h0M113.0 773.2h0M113.0 722.5h0M112.9 754.4h0M112.9 765.6h0M112.8 787.3h0M112.8 783.7h0" stroke="#9c84d2" stroke-width="3.1" stroke-linecap="round"/><path d="M160.9 787.4h0M161.0 783.6h0M161.0 777.3h0M161.0 760.8h0M161.1 784.9h0M161.2 741.7h0" stroke="#d88472" stroke-width="3.1" stroke-linecap="round"/><path d="M161.2 788.4h0M161.3 759.2h0M161.3 767.7h0M161.4 770.3h0M161.5 779.2h0M161.6 773.4h0M161.8 784.8h0M161.8 784.0h0" stroke="#d8846c" stroke-width="3.1" stroke-linecap="round"/><path d="M112.6 743.9h0M112.6 789.6h0M112.5 778.1h0M112.5 768.0h0M112.4 738.4h0M112.3 784.5h0M112.2 762.9h0M111.9 780.0h0M111.9 782.9h0M111.9 778.4h0M111.8 777.2h0M111.8 761.8h0M111.7 784.6h0M111.5 781.9h0M111.5 780.8h0" stroke="#967ed2" stroke-width="3.1" stroke-linecap="round"/><path d="M162.3 772.9h0M162.3 770.7h0M162.4 780.5h0" stroke="#d2846c" stroke-width="3.1" stroke-linecap="round"/><path d="M162.5 734.1h0M162.6 783.6h0M162.6 776.8h0M162.6 777.2h0" stroke="#d27e6c" stroke-width="3.1" stroke-linecap="round"/><path d="M162.8 780.4h0M162.8 767.7h0M162.8 749.3h0M162.8 772.9h0M163.0 778.7h0M163.0 769.0h0M163.2 771.0h0M163.2 787.9h0M163.2 787.8h0M163.4 756.7h0M163.4 748.4h0M163.4 777.0h0M163.5 766.6h0M163.6 782.5h0M163.7 751.8h0M163.7 780.0h0M163.8 763.7h0" stroke="#d27e66" stroke-width="3.1" stroke-linecap="round"/><path d="M111.4 763.5h0" stroke="#967ecc" stroke-width="3.1" stroke-linecap="round"/><path d="M111.3 774.8h0" stroke="#9678cc" stroke-width="3.1" stroke-linecap="round"/><path d="M110.7 789.0h0M110.5 763.7h0M110.2 777.5h0M110.2 781.9h0" stroke="#9078cc" stroke-width="3.1" stroke-linecap="round"/><path d="M164.0 763.3h0M164.0 790.4h0" stroke="#d27866" stroke-width="3.1" stroke-linecap="round"/><path d="M110.1 787.1h0M110.1 789.8h0M110.0 790.4h0M109.9 758.2h0M109.8 779.5h0M109.7 783.0h0M109.7 790.3h0" stroke="#9072cc" stroke-width="3.1" stroke-linecap="round"/><path d="M164.1 778.2h0M164.2 776.9h0M164.2 779.8h0M164.4 767.9h0M164.5 756.7h0M164.5 771.9h0M164.5 788.4h0M164.7 723.0h0M164.8 789.4h0M164.9 765.4h0M164.9 768.4h0M165.0 746.8h0M165.1 774.4h0M165.3 783.9h0M165.3 777.1h0" stroke="#d27860" stroke-width="3.1" stroke-linecap="round"/><path d="M109.6 768.3h0M109.4 783.5h0M109.4 787.3h0M109.3 787.7h0M109.2 748.4h0M109.2 788.2h0M109.0 786.9h0" stroke="#8a72cc" stroke-width="3.1" stroke-linecap="round"/><path d="M108.8 774.2h0M108.8 766.1h0M108.4 777.7h0" stroke="#8a6ccc" stroke-width="3.1" stroke-linecap="round"/><path d="M165.5 785.3h0" stroke="#cc785a" stroke-width="3.1" stroke-linecap="round"/><path d="M165.8 790.3h0M165.9 759.7h0M165.9 780.3h0M165.9 784.4h0M166.2 783.1h0M166.4 764.4h0M166.4 772.4h0M166.6 786.8h0M166.6 786.0h0M166.7 784.4h0M166.7 770.2h0" stroke="#cc725a" stroke-width="3.1" stroke-linecap="round"/><path d="M108.1 784.4h0M108.1 767.5h0M107.9 759.6h0M107.8 789.2h0" stroke="#846cc6" stroke-width="3.1" stroke-linecap="round"/><path d="M167.1 775.2h0" stroke="#cc7254" stroke-width="3.1" stroke-linecap="round"/><path d="M107.1 748.8h0M107.1 788.0h0" stroke="#8466c6" stroke-width="3.1" stroke-linecap="round"/><path d="M167.3 781.2h0M167.4 766.9h0M167.5 723.8h0M167.5 788.6h0M167.6 786.7h0M167.6 763.7h0M167.7 763.8h0M167.8 790.3h0M167.9 778.6h0M167.9 780.8h0M167.9 782.5h0M168.0 786.3h0M168.2 789.7h0M168.3 766.5h0M168.6 786.3h0M168.6 784.5h0M168.6 788.9h0" stroke="#cc6c54" stroke-width="3.1" stroke-linecap="round"/><path d="M106.5 768.3h0" stroke="#7e66c6" stroke-width="3.1" stroke-linecap="round"/><path d="M106.2 790.2h0M106.2 776.7h0M106.1 767.2h0M106.0 771.7h0M105.9 784.7h0M105.9 787.6h0M105.6 781.2h0M105.5 776.7h0M105.1 768.3h0M105.1 776.5h0M105.1 788.3h0M105.1 770.5h0M105.0 784.2h0M105.0 688.8h0M104.8 789.6h0M104.6 785.3h0M104.5 782.2h0" stroke="#7e60c6" stroke-width="3.1" stroke-linecap="round"/><path d="M168.7 763.8h0M168.7 787.3h0M168.8 774.5h0" stroke="#cc6c4e" stroke-width="3.1" stroke-linecap="round"/><path d="M169.1 771.0h0M169.2 741.8h0M169.2 755.9h0M169.3 769.7h0M169.4 764.6h0M169.4 788.6h0M169.5 761.9h0M169.5 775.7h0M169.6 782.7h0M169.7 782.0h0M169.7 773.1h0M169.9 777.7h0M169.9 774.1h0M170.0 761.0h0M170.1 789.2h0M170.2 786.2h0M170.4 761.7h0M170.7 783.8h0M170.7 788.4h0M171.1 767.3h0M171.1 783.3h0M171.1 751.4h0M171.1 787.9h0" stroke="#c6664e" stroke-width="3.1" stroke-linecap="round"/><path d="M104.4 784.8h0M104.3 763.1h0" stroke="#785ac6" stroke-width="3.1" stroke-linecap="round"/><path d="M104.1 785.3h0M103.8 766.5h0M103.7 768.0h0M103.3 785.1h0M103.2 759.1h0M103.0 753.7h0M102.9 769.3h0M102.7 781.0h0M102.7 749.7h0" stroke="#785ac0" stroke-width="3.1" stroke-linecap="round"/><path d="M171.3 772.0h0" stroke="#c6604e" stroke-width="3.1" stroke-linecap="round"/><path d="M171.4 789.4h0M171.6 789.9h0M171.8 784.5h0M172.0 762.2h0M172.2 775.1h0M172.4 771.7h0M172.5 782.3h0" stroke="#c66048" stroke-width="3.1" stroke-linecap="round"/><path d="M172.7 785.8h0M172.8 789.5h0M173.0 786.0h0M173.2 783.9h0M173.4 782.8h0M173.6 776.5h0" stroke="#c06048" stroke-width="3.1" stroke-linecap="round"/><path d="M101.4 781.3h0M101.3 779.5h0M101.2 788.4h0M101.2 789.1h0M100.8 789.7h0M100.3 750.0h0M100.2 783.3h0M100.1 788.4h0M99.8 779.4h0" stroke="#7254c0" stroke-width="3.1" stroke-linecap="round"/><path d="M173.7 787.0h0M173.9 779.9h0" stroke="#c05a48" stroke-width="3.1" stroke-linecap="round"/><path d="M174.1 709.6h0M174.2 786.2h0M174.3 790.2h0M174.5 779.6h0M174.7 773.9h0M174.8 776.0h0M174.9 780.1h0M175.0 789.5h0M175.0 790.1h0M175.1 782.3h0M175.2 785.1h0M175.3 778.2h0M175.5 779.2h0M175.8 771.3h0" stroke="#c05a42" stroke-width="3.1" stroke-linecap="round"/><path d="M99.4 777.0h0M99.3 789.9h0M99.0 784.2h0M97.9 772.1h0M97.8 687.8h0M97.7 782.1h0" stroke="#6c4eba" stroke-width="3.1" stroke-linecap="round"/><path d="M176.0 786.9h0" stroke="#c05442" stroke-width="3.1" stroke-linecap="round"/><path d="M176.3 784.8h0M176.4 790.1h0M176.5 769.3h0M176.6 778.4h0" stroke="#ba5442" stroke-width="3.1" stroke-linecap="round"/><path d="M176.7 787.9h0M176.7 778.0h0M176.8 781.4h0M177.1 784.4h0M177.7 771.0h0M177.7 779.5h0M177.7 789.5h0M177.9 789.8h0M178.0 783.3h0" stroke="#ba543c" stroke-width="3.1" stroke-linecap="round"/><path d="M97.5 779.5h0M97.5 789.9h0M97.4 789.5h0M97.0 787.7h0M97.0 780.1h0M96.9 781.5h0M96.5 777.2h0M96.3 780.2h0M96.3 774.4h0M95.8 771.0h0M95.5 775.1h0M95.3 786.7h0" stroke="#6648ba" stroke-width="3.1" stroke-linecap="round"/><path d="M178.9 762.3h0M179.1 781.0h0M179.2 786.8h0" stroke="#ba4e3c" stroke-width="3.1" stroke-linecap="round"/><path d="M179.3 789.9h0M179.5 775.2h0M179.5 782.4h0M179.6 763.3h0" stroke="#ba4e36" stroke-width="3.1" stroke-linecap="round"/><path d="M94.4 775.7h0M93.8 788.0h0M93.8 780.0h0M93.6 789.7h0M92.9 789.2h0" stroke="#6042b4" stroke-width="3.1" stroke-linecap="round"/><path d="M180.2 747.8h0M180.4 773.0h0" stroke="#b44e36" stroke-width="3.1" stroke-linecap="round"/><path d="M180.9 784.7h0M181.1 780.8h0M181.3 785.7h0M181.6 781.4h0M181.7 790.0h0M181.8 786.2h0M181.9 783.4h0" stroke="#b44836" stroke-width="3.1" stroke-linecap="round"/><path d="M92.6 790.2h0M92.4 780.2h0M91.9 785.6h0M91.2 779.0h0M91.1 774.4h0" stroke="#5a3cb4" stroke-width="3.1" stroke-linecap="round"/><path d="M182.8 789.6h0M182.9 788.7h0" stroke="#b44830" stroke-width="3.1" stroke-linecap="round"/><path d="M183.4 771.0h0M183.5 771.5h0M183.6 790.1h0" stroke="#b44230" stroke-width="3.1" stroke-linecap="round"/><path d="M183.9 783.9h0M184.2 784.5h0" stroke="#ae4230" stroke-width="3.1" stroke-linecap="round"/><path d="M184.4 777.2h0" stroke="#ae422a" stroke-width="3.1" stroke-linecap="round"/><path d="M184.7 787.6h0M185.8 728.4h0M186.0 780.2h0" stroke="#ae3c2a" stroke-width="3.1" stroke-linecap="round"/><path d="M88.3 752.7h0M88.3 787.7h0" stroke="#4e36ae" stroke-width="3.1" stroke-linecap="round"/><path d="M186.1 699.0h0" stroke="#ae3c24" stroke-width="3.1" stroke-linecap="round"/><path d="M87.6 787.2h0" stroke="#4e30ae" stroke-width="3.1" stroke-linecap="round"/><path d="M187.1 788.9h0M187.2 720.5h0" stroke="#ae3624" stroke-width="3.1" stroke-linecap="round"/><path d="M187.5 726.2h0M187.7 788.6h0" stroke="#a83624" stroke-width="3.1" stroke-linecap="round"/><path d="M188.0 717.2h0" stroke="#a8301e" stroke-width="3.1" stroke-linecap="round"/><path d="M190.1 763.1h0M190.8 743.3h0" stroke="#a82a18" stroke-width="3.1" stroke-linecap="round"/><path d="M81.6 725.0h0" stroke="#3c24a2" stroke-width="3.1" stroke-linecap="round"/><path d="M79.2 706.6h0" stroke="#361e9c" stroke-width="3.1" stroke-linecap="round"/><path d="M77.0 748.8h0" stroke="#301e9c" stroke-width="3.1" stroke-linecap="round"/><path d="M71.6 739.7h0" stroke="#1e1290" stroke-width="3.1" stroke-linecap="round"/>
<g stroke="#333" stroke-width="1.1" fill="none"><path d="M52.3 661 V827.5 H221.0"/>
<path d="M49.8 819.2 H52.3"/>
<path d="M49.8 776.0 H52.3"/>
<path d="M49.8 732.8 H52.3"/>
<path d="M49.8 689.6 H52.3"/>
<path d="M59.8 827.5 V830.0"/>
<path d="M98.5 827.5 V830.0"/>
<path d="M137.1 827.5 V830.0"/>
<path d="M175.7 827.5 V830.0"/>
<path d="M214.3 827.5 V830.0"/>
</g>
<path d="M137.1 661 V827.5" stroke="#555" stroke-width="1.1"/>
<path d="M52.3 791.1 H221.0" stroke="#222" stroke-width="0.8" stroke-dasharray="1.6 1.8"/>
<text x="48.5" y="822.6" font-size="9.5" fill="#222" font-weight="normal" text-anchor="end">0</text>
<text x="48.5" y="779.4" font-size="9.5" fill="#222" font-weight="normal" text-anchor="end">2</text>
<text x="48.5" y="736.2" font-size="9.5" fill="#222" font-weight="normal" text-anchor="end">4</text>
<text x="48.5" y="693.0" font-size="9.5" fill="#222" font-weight="normal" text-anchor="end">6</text>
<text x="59.8" y="840.2" font-size="9.5" fill="#222" font-weight="normal" text-anchor="middle">-5.0</text>
<text x="98.5" y="840.2" font-size="9.5" fill="#222" font-weight="normal" text-anchor="middle">-2.5</text>
<text x="137.1" y="840.2" font-size="9.5" fill="#222" font-weight="normal" text-anchor="middle">0.0</text>
<text x="175.7" y="840.2" font-size="9.5" fill="#222" font-weight="normal" text-anchor="middle">2.5</text>
<text x="214.3" y="840.2" font-size="9.5" fill="#222" font-weight="normal" text-anchor="middle">5.0</text>
<text x="69.8" y="671" font-size="10" fill="#8a70cc" font-weight="normal" text-anchor="start" textLength="49.8" lengthAdjust="spacingAndGlyphs">Down = 250</text>
<text x="145.0" y="671" font-size="10" fill="#c8705a" font-weight="normal" text-anchor="start" textLength="38.0" lengthAdjust="spacingAndGlyphs">Up = 362</text>
<text x="27.8" y="745.6" font-size="9.6" fill="#111" text-anchor="middle" transform="rotate(-90 27.8 745.6)">Log<tspan font-size="6.5" dy="2">10</tspan><tspan dy="-2">(adj. P-value)</tspan></text>
<text x="97.4" y="864.4" font-size="9.6" fill="#111">Log<tspan font-size="6.5" dy="2">2</tspan><tspan dy="-2">FC matKO/Ctr</tspan></text>
<text x="228.0" y="636.2" font-size="21" fill="#000" font-weight="normal" text-anchor="start">e</text>
<text x="336.5" y="647.4" font-size="9.4" fill="#000" font-weight="normal" text-anchor="start" textLength="65.8" lengthAdjust="spacingAndGlyphs">blastocyst stage</text>
<path d="M376.9 797.1h0M403.6 799.4h0M380.8 802.2h0M372.3 818.8h0M380.6 808.4h0M394.1 804.1h0M350.0 805.2h0M386.9 791.3h0M388.2 796.9h0M378.9 797.3h0M354.4 797.0h0M372.6 818.7h0M385.8 792.1h0M367.5 796.6h0M379.7 793.5h0M365.4 795.8h0M387.8 791.9h0M383.2 800.5h0M374.6 801.6h0M379.0 793.0h0M353.1 804.7h0M371.4 813.9h0M370.9 804.0h0M385.2 807.5h0M366.4 791.6h0M376.8 795.8h0M371.7 815.5h0M374.2 805.7h0M373.8 809.2h0M384.9 805.2h0M376.6 801.3h0M375.2 795.0h0M352.9 805.2h0M371.7 817.3h0M360.1 803.6h0M382.9 815.4h0M376.7 816.1h0M365.0 795.8h0M388.6 791.6h0M371.3 817.0h0M360.9 809.5h0M363.4 799.6h0M366.2 796.6h0M374.2 805.2h0M363.1 809.2h0M379.5 812.4h0M369.3 817.0h0M353.1 800.3h0M399.3 794.4h0M390.2 804.4h0M374.2 801.1h0M387.3 798.4h0M389.4 791.4h0M361.3 806.0h0M339.9 791.4h0M362.4 800.5h0M350.4 799.7h0M350.4 800.9h0M351.0 799.5h0M395.0 796.5h0M382.6 796.1h0M356.6 797.4h0M363.8 800.6h0M382.2 806.3h0M390.6 801.1h0M380.7 794.4h0M370.8 807.2h0M382.4 793.2h0M362.3 794.9h0M378.5 807.9h0M378.7 804.7h0M356.9 794.4h0M358.6 791.2h0M384.0 794.8h0M383.4 811.5h0M385.2 793.4h0M395.6 797.0h0M356.5 796.5h0M370.8 802.5h0M375.4 805.2h0M383.0 798.7h0M352.3 802.8h0M365.4 812.2h0M380.9 804.8h0M377.4 803.4h0M380.3 812.2h0M374.1 801.1h0M382.4 814.3h0M353.4 797.1h0M365.4 793.4h0M371.1 804.5h0M358.2 792.2h0M379.7 810.3h0M380.4 813.7h0M384.8 802.3h0M361.6 799.0h0M394.6 791.3h0M355.4 802.1h0M380.7 797.4h0M359.7 809.9h0M379.9 800.5h0M359.9 804.7h0M375.4 794.6h0M387.1 808.5h0M369.7 792.2h0M374.3 799.2h0M367.3 813.9h0M367.6 799.9h0M394.5 796.0h0M395.2 800.6h0M375.8 798.2h0M372.3 819.1h0M389.2 806.6h0M366.4 805.0h0M365.5 804.4h0M382.1 814.2h0M384.6 804.3h0M387.3 807.0h0M364.7 806.3h0M381.4 795.2h0M376.5 808.0h0M352.4 800.9h0M380.9 801.2h0M361.9 804.5h0M354.5 797.7h0M362.8 801.8h0M360.7 808.5h0M382.7 794.5h0M390.9 803.4h0M383.9 806.4h0M378.3 815.9h0M366.8 809.2h0M359.0 795.6h0M403.5 792.4h0M394.9 793.0h0M373.9 800.7h0M346.1 796.1h0M372.4 818.2h0M399.0 800.8h0M369.3 797.1h0M389.7 797.8h0M366.8 808.0h0M369.5 815.0h0M364.6 797.1h0M374.2 809.7h0M384.6 798.5h0M365.3 797.0h0M377.0 795.0h0M358.4 800.0h0M351.8 800.6h0M369.4 801.7h0M368.1 797.6h0M393.3 795.3h0M358.8 800.8h0M376.3 811.1h0M394.0 804.0h0M369.5 797.6h0M355.9 804.2h0M349.0 796.8h0M385.5 792.4h0M355.3 802.6h0M384.8 797.0h0M356.5 798.9h0M377.8 791.6h0M378.7 799.0h0M392.0 800.8h0M356.1 808.1h0M373.9 810.8h0M364.4 813.4h0M369.9 804.8h0M366.8 801.9h0M385.5 797.6h0M402.0 794.7h0M366.7 793.5h0M354.6 798.6h0M367.6 804.2h0M359.0 807.9h0M376.7 792.6h0M353.2 794.5h0M371.1 804.2h0M362.7 810.3h0M362.8 793.0h0M362.9 798.7h0M384.2 792.7h0M353.8 799.6h0M366.0 809.7h0M355.2 803.1h0M367.0 813.2h0M377.9 800.1h0M377.8 803.1h0M372.6 818.2h0M369.3 800.1h0M360.7 804.9h0M365.6 809.8h0M356.4 793.8h0M373.7 815.2h0M361.8 797.0h0M375.9 795.4h0M354.1 807.3h0M375.8 810.6h0M363.0 797.5h0M375.7 811.5h0M372.9 811.9h0M372.1 817.5h0M356.4 792.0h0M371.8 816.9h0M386.6 805.5h0M364.0 810.0h0M378.5 804.2h0M380.4 806.6h0M384.2 804.5h0M378.3 806.3h0M399.2 799.8h0M368.8 799.0h0M364.7 791.2h0M361.8 813.6h0M360.3 792.2h0M359.9 815.5h0M371.3 808.4h0M366.7 793.4h0M378.0 813.8h0M355.0 792.9h0M385.1 798.1h0M365.0 809.6h0M381.9 807.1h0M380.5 792.3h0M383.4 808.9h0M362.5 791.6h0M381.5 805.8h0M341.2 792.4h0M355.3 802.6h0M369.3 793.4h0M370.0 796.8h0M370.6 813.9h0M369.4 805.7h0M391.9 800.4h0M377.5 791.3h0M368.1 796.0h0M385.2 794.2h0M360.7 791.9h0M372.3 818.7h0M371.7 818.8h0M355.7 791.6h0M363.0 796.9h0M348.7 801.6h0M367.7 815.3h0M366.6 808.8h0M381.9 799.8h0M376.1 796.8h0M385.3 798.5h0M382.0 811.8h0M361.7 805.2h0M383.3 797.4h0M362.8 794.2h0M378.3 800.1h0M355.0 803.3h0M371.4 808.9h0M383.5 803.6h0M371.3 810.1h0M386.4 792.5h0M367.6 796.0h0M378.1 814.8h0M366.5 800.1h0M361.7 810.1h0M372.1 818.8h0M375.6 799.2h0M362.6 810.9h0M371.6 811.0h0M370.1 807.9h0M369.0 812.0h0M397.1 792.3h0M365.2 810.5h0M370.1 791.3h0M373.8 804.6h0M360.5 792.7h0M386.6 805.4h0M367.9 796.4h0M374.4 804.2h0M374.5 804.3h0M395.2 800.5h0M385.0 811.2h0M359.6 810.5h0M359.9 802.2h0M361.3 791.2h0M375.1 815.6h0M373.7 816.1h0M355.9 805.3h0M390.3 806.2h0M363.5 800.1h0M394.6 800.0h0M377.8 806.3h0M369.6 796.9h0M363.9 801.7h0M383.9 803.6h0M362.9 802.5h0M381.1 812.9h0M385.9 794.6h0M379.3 817.5h0M365.6 806.7h0M366.9 800.3h0M366.6 802.7h0M385.4 804.5h0M377.5 796.6h0M383.7 796.4h0M374.7 811.9h0M384.7 791.4h0M395.1 792.5h0M388.7 798.5h0M367.9 793.0h0M362.7 815.1h0M355.7 793.7h0M358.6 801.5h0M367.3 798.6h0M374.6 810.5h0M381.4 814.6h0M366.1 800.0h0M385.4 797.5h0M360.6 801.8h0M372.3 819.2h0M360.1 815.0h0M370.5 809.2h0M360.1 801.8h0M357.4 791.3h0M363.7 809.4h0M360.5 796.2h0M367.5 800.2h0M367.7 791.4h0M360.2 801.8h0M356.3 810.0h0M358.7 797.2h0M373.1 816.4h0M375.5 792.1h0M372.7 818.8h0M356.3 799.4h0M368.3 804.9h0M384.3 802.2h0M375.6 791.3h0M370.9 811.1h0M362.9 792.0h0M388.8 792.5h0M373.5 810.1h0M374.3 801.2h0M400.6 801.5h0M378.7 804.6h0M382.7 811.0h0M388.9 794.0h0M367.9 801.9h0M370.9 804.9h0M384.1 792.6h0M387.4 806.4h0M361.8 798.7h0M360.7 808.7h0M357.2 795.4h0M353.2 795.6h0M376.4 810.8h0M390.5 803.6h0M391.5 793.1h0M373.0 813.6h0M383.1 792.0h0M384.2 808.8h0M363.1 803.2h0M377.8 806.2h0M386.7 803.2h0M378.6 794.1h0M366.6 795.0h0M375.9 804.2h0M373.8 803.9h0M387.3 791.7h0M362.4 813.0h0M369.9 800.9h0M373.5 806.7h0M376.1 792.0h0M360.8 803.5h0M362.9 803.9h0M363.5 811.8h0M384.6 812.9h0M368.4 797.7h0M374.7 796.6h0M362.5 802.8h0M386.4 791.7h0M367.6 804.4h0M364.1 797.4h0M367.5 800.1h0M355.7 801.2h0M382.9 799.8h0M372.6 818.4h0M378.5 811.2h0M365.2 799.9h0M371.8 817.4h0M370.4 798.2h0M384.3 814.0h0M356.0 799.8h0M371.2 813.1h0M360.2 802.1h0M353.8 796.1h0M393.3 794.0h0M371.2 810.2h0M392.9 793.2h0M369.6 813.6h0M382.2 808.2h0M364.4 807.1h0M392.4 796.4h0M362.7 791.7h0M364.2 793.8h0M373.2 816.5h0M381.6 808.8h0M370.6 817.0h0M383.5 805.7h0M353.8 811.5h0M345.6 794.3h0M373.6 804.4h0M383.1 807.3h0M368.6 794.6h0M362.3 800.9h0M361.4 796.7h0M356.9 793.7h0M369.3 799.4h0M376.8 804.1h0M390.5 808.3h0M377.4 798.3h0M342.0 791.9h0M361.0 807.4h0M371.3 814.9h0M377.9 795.6h0M371.6 814.3h0M390.2 799.7h0M375.6 796.7h0M376.6 811.8h0M374.1 805.7h0M371.7 813.6h0M377.2 795.5h0M365.0 796.4h0M362.5 797.3h0M378.0 815.3h0M373.3 811.2h0M376.7 797.4h0M389.1 794.8h0M389.5 799.3h0M386.6 811.2h0M349.0 794.9h0M383.1 811.3h0M348.7 799.1h0M379.9 796.5h0M380.9 799.6h0M366.7 813.7h0M391.3 804.8h0M372.4 818.4h0M377.5 795.9h0M379.8 798.0h0M349.1 804.7h0M379.7 792.3h0M354.3 793.9h0M371.1 812.3h0M361.7 792.2h0M376.4 807.9h0M374.9 810.6h0M372.3 818.9h0M366.8 799.3h0M392.8 794.7h0M374.4 793.8h0M381.9 800.2h0M372.9 814.6h0M351.2 801.7h0M371.9 816.6h0M366.6 817.9h0M379.5 796.5h0M378.5 794.4h0M399.3 792.2h0M379.8 816.2h0M370.6 801.2h0M369.5 813.5h0M362.2 791.3h0M388.2 804.5h0M372.4 817.8h0M374.4 804.0h0M361.4 796.5h0M360.8 804.1h0M375.1 806.3h0M368.2 793.7h0M382.5 798.4h0M381.6 793.9h0M358.3 795.7h0M378.6 804.9h0M371.4 811.9h0M350.6 803.0h0M387.9 791.6h0M378.2 792.1h0M371.2 812.5h0M367.4 810.0h0M364.5 804.4h0M364.6 801.6h0M350.8 803.2h0M373.9 800.8h0M389.9 796.8h0M363.8 806.2h0M367.4 801.6h0M387.2 800.6h0M378.7 797.4h0M352.0 797.4h0M364.2 791.5h0M389.7 793.3h0M373.0 817.1h0M363.8 811.4h0M377.0 792.2h0M350.9 799.2h0M376.5 793.1h0M383.5 791.4h0M387.3 811.0h0M367.3 808.3h0M359.0 811.5h0M356.0 793.2h0M365.4 811.0h0M359.1 808.5h0M369.8 803.6h0M371.3 807.9h0M376.7 793.7h0M349.2 791.4h0M388.9 795.7h0M375.8 807.6h0M373.2 811.7h0M369.8 817.5h0M386.9 797.7h0M367.4 817.1h0M349.2 795.1h0M363.3 812.4h0M358.7 794.8h0M350.7 795.8h0M390.8 807.5h0M369.2 798.4h0M387.2 808.4h0M365.5 809.0h0M360.6 800.5h0M359.7 812.2h0M371.0 810.2h0M376.6 791.2h0M381.0 806.3h0M366.2 794.1h0M398.3 805.2h0M399.4 791.7h0M373.0 818.7h0M363.2 793.6h0M370.1 797.3h0M374.9 805.0h0M374.9 796.4h0M359.3 799.1h0M378.4 812.4h0M377.9 807.0h0M381.2 801.9h0M384.0 799.0h0M372.5 817.5h0M365.9 793.3h0M370.6 816.2h0M354.8 792.6h0M383.3 798.0h0M373.3 811.8h0M357.9 806.8h0M368.5 793.6h0M381.9 800.5h0M377.9 798.1h0M368.1 801.0h0M371.6 818.4h0M394.8 793.8h0M370.4 798.9h0M378.2 804.5h0M378.6 812.4h0M361.3 806.9h0M371.5 815.2h0M381.7 792.1h0M362.6 803.8h0M383.5 804.3h0M387.4 806.7h0M395.2 800.1h0M356.4 793.0h0M393.2 796.7h0M388.3 793.1h0M356.3 800.0h0M374.0 798.3h0M368.2 793.0h0M368.6 802.9h0M355.0 806.5h0M383.7 810.8h0M374.9 800.2h0M378.0 801.5h0M346.2 795.9h0M360.2 804.0h0M367.1 793.2h0M376.5 809.0h0M369.8 800.4h0M361.4 802.7h0M365.4 794.2h0M372.2 818.8h0M361.3 797.2h0M366.1 793.4h0M367.3 808.6h0M375.3 805.3h0M369.3 802.3h0M363.8 817.0h0M376.4 798.6h0M365.2 800.0h0M372.9 815.7h0M365.5 799.9h0M378.4 793.9h0M367.6 811.9h0M378.6 816.5h0M377.2 801.2h0M366.6 803.3h0M364.5 800.3h0M384.1 794.1h0M382.8 806.3h0M383.9 799.8h0M402.0 791.4h0M391.9 793.0h0M382.1 800.1h0M382.4 807.4h0M372.0 816.5h0M368.9 800.4h0M374.7 792.1h0M381.1 801.7h0M368.9 795.5h0M392.1 796.7h0M355.8 800.0h0M377.1 801.2h0M378.2 811.9h0M371.2 807.9h0M380.1 811.3h0M364.2 795.5h0M383.8 807.9h0M366.0 797.5h0M372.5 817.5h0M386.6 795.9h0M379.0 808.5h0M368.4 791.8h0M367.7 800.3h0M346.3 797.0h0M371.1 813.1h0M369.5 811.2h0M380.5 804.8h0M375.1 796.0h0M376.8 815.0h0M381.3 796.1h0M363.7 817.5h0M375.3 803.0h0M376.0 795.1h0M383.8 808.2h0M400.5 795.5h0M371.7 814.7h0M349.6 807.0h0M369.6 807.3h0M391.6 793.8h0M376.1 812.2h0M375.8 805.7h0M357.2 803.8h0M365.9 813.7h0M380.2 806.5h0M373.9 813.0h0M369.1 797.3h0M363.9 803.5h0M380.8 803.3h0M372.4 818.4h0M373.8 807.0h0M350.5 802.2h0M373.4 817.6h0M374.2 808.5h0M380.1 800.3h0M388.4 802.6h0M365.6 792.8h0M356.3 801.8h0M367.3 798.0h0M374.2 795.8h0M375.8 804.4h0M383.1 794.5h0M376.0 791.3h0M347.1 800.1h0M383.3 796.0h0M352.1 792.7h0M381.2 807.7h0M343.2 795.8h0M355.4 798.3h0M386.4 805.6h0M379.6 800.0h0M366.4 799.9h0M369.5 814.9h0M378.0 815.3h0M373.8 810.4h0M387.2 796.7h0M383.9 791.4h0M350.1 804.7h0M394.0 802.2h0M383.8 791.9h0M367.3 799.0h0M357.2 802.9h0M363.7 793.7h0M356.4 805.3h0M366.8 811.6h0M382.9 793.3h0M357.8 804.0h0M384.1 793.3h0M382.3 809.7h0M363.2 801.9h0M384.5 807.7h0M367.4 812.0h0M370.2 805.6h0M371.6 816.4h0M369.6 811.5h0M385.8 791.9h0M375.0 793.4h0M341.3 796.5h0M386.0 803.1h0M367.2 807.2h0M378.8 797.4h0M379.9 802.2h0M368.7 799.7h0M391.3 803.1h0M359.9 794.8h0M357.4 804.6h0M392.8 803.9h0M371.0 806.0h0M370.3 796.4h0M350.5 800.1h0M363.5 810.1h0M378.4 801.6h0M378.7 808.0h0M362.4 791.6h0M358.4 808.2h0M385.8 796.5h0M374.2 811.4h0M375.5 807.0h0M378.8 801.9h0M393.7 791.1h0M386.3 798.2h0M373.6 804.7h0M380.0 797.4h0M368.6 791.5h0M353.6 797.4h0M356.8 804.9h0M402.5 796.3h0M393.2 804.7h0M372.4 818.2h0M388.8 809.2h0M370.8 801.6h0M384.6 804.4h0M360.3 807.6h0M374.5 792.1h0M372.6 817.2h0M383.1 795.1h0M363.0 814.4h0M359.9 798.5h0M369.3 802.9h0M349.9 792.5h0M356.4 796.6h0M369.4 800.2h0M348.7 803.1h0M374.3 804.5h0M368.2 813.4h0M370.1 796.6h0M370.4 817.0h0M380.0 792.5h0M393.1 799.6h0M360.6 806.1h0M347.4 802.3h0M362.6 803.9h0M375.2 818.2h0M366.9 792.2h0M360.9 811.8h0M391.0 793.3h0M355.2 803.0h0M361.3 805.3h0M351.2 794.1h0M378.0 810.7h0M381.6 816.0h0M365.7 794.2h0M378.8 799.8h0M355.7 791.9h0M379.2 791.9h0M378.7 794.4h0M357.5 799.7h0M374.1 804.0h0M360.3 813.9h0M362.2 794.6h0M379.1 796.9h0M375.5 792.8h0M377.3 808.1h0M372.1 818.5h0M362.2 792.4h0M374.6 797.3h0M377.5 803.1h0M387.2 808.2h0M365.7 801.4h0M365.7 795.2h0M384.3 799.2h0M379.8 792.8h0M383.2 800.8h0M348.7 795.8h0M381.9 800.7h0M375.8 791.6h0M366.3 807.5h0M389.7 802.9h0M370.7 811.9h0M370.4 814.3h0M363.6 801.5h0M364.5 801.3h0M370.2 804.9h0M369.3 802.3h0M375.9 794.8h0M382.2 804.1h0M375.6 809.3h0M360.3 795.1h0M379.5 792.0h0M347.9 799.6h0M379.7 793.3h0M383.7 801.1h0M372.8 817.4h0M358.3 807.0h0M364.5 792.7h0M365.8 793.9h0M364.5 808.0h0M354.5 802.8h0M375.9 804.7h0M379.9 816.8h0M352.7 796.6h0M374.6 810.9h0M385.5 806.4h0M401.5 795.0h0M366.2 803.7h0M363.3 797.9h0M363.9 802.4h0M393.0 793.4h0M367.9 793.7h0M388.3 803.9h0M361.5 793.5h0M363.5 793.1h0M382.2 793.5h0M355.4 791.2h0M357.1 804.8h0M358.8 797.5h0M368.9 815.1h0M364.1 792.0h0M364.2 799.8h0M383.5 799.8h0M362.5 810.3h0M379.9 791.6h0M382.1 803.6h0M394.0 792.1h0M372.3 818.9h0M390.0 792.7h0M352.6 798.9h0M367.2 792.7h0M387.8 795.2h0M362.3 805.9h0M367.9 802.8h0M346.1 797.2h0M377.9 803.5h0M390.3 792.6h0M404.1 795.4h0M378.0 796.9h0M384.1 792.1h0M358.9 796.6h0M388.1 794.0h0M363.8 791.6h0M383.1 791.6h0M395.8 801.2h0M369.6 811.6h0M367.6 799.4h0M370.2 799.3h0M358.0 792.9h0M404.3 796.8h0M383.3 798.5h0M384.7 815.8h0M384.7 813.3h0M375.2 799.2h0M377.6 799.9h0M358.1 799.6h0M400.2 792.4h0M365.5 811.3h0M380.8 801.2h0M368.2 795.3h0M370.6 801.6h0M355.4 794.9h0M389.7 793.8h0M380.6 816.1h0M385.5 793.7h0M369.0 810.8h0M373.5 806.3h0M384.1 795.7h0M379.5 811.3h0M374.0 802.1h0M375.3 811.8h0M397.4 804.1h0M378.0 809.5h0M376.3 818.8h0M392.7 805.3h0M381.7 806.3h0M354.9 799.3h0M371.0 809.4h0M342.0 794.1h0M348.7 797.1h0M358.2 811.5h0M365.6 800.7h0M372.1 818.3h0M387.2 792.9h0M371.4 815.0h0M376.7 816.5h0M371.7 812.0h0M382.5 795.1h0M388.7 791.6h0M364.0 798.5h0M351.9 803.0h0M368.2 801.2h0M375.1 792.8h0M363.9 811.5h0M345.1 792.3h0M382.1 811.2h0M370.7 799.2h0M369.1 807.3h0M365.9 791.8h0M359.8 792.6h0M358.5 795.0h0M366.4 796.9h0M377.7 804.7h0M366.2 798.4h0M375.5 811.9h0M370.1 797.3h0M360.2 807.5h0M370.9 801.9h0M380.4 800.4h0M361.9 801.2h0M386.0 797.0h0M370.2 816.2h0M373.3 813.1h0M379.8 795.3h0M351.5 794.4h0M357.1 799.9h0M378.6 817.8h0M374.7 810.0h0M372.0 818.5h0M349.2 792.0h0M369.7 812.2h0M352.0 794.4h0M385.7 792.0h0M391.4 805.0h0M386.0 798.1h0M384.9 798.3h0M369.8 793.6h0M377.0 803.3h0M364.2 800.4h0M385.8 796.8h0M387.7 809.8h0M370.9 805.2h0M375.2 799.0h0M377.2 809.3h0M368.8 802.2h0M356.3 797.3h0M386.5 808.6h0M371.4 812.6h0M374.6 803.3h0M375.9 795.4h0M394.5 803.7h0M375.9 792.2h0M365.6 794.8h0M391.0 793.2h0M379.2 793.0h0M373.1 815.3h0M372.6 815.6h0M387.5 796.6h0M385.9 791.4h0M389.0 792.7h0M359.3 806.3h0M389.2 811.2h0M377.9 809.2h0M387.6 799.7h0M375.8 802.4h0M371.9 817.6h0M366.4 797.2h0M374.7 795.3h0M363.7 801.3h0M365.7 817.0h0M370.6 808.8h0M378.5 809.6h0M379.5 815.4h0M368.5 810.9h0M364.7 793.7h0M400.6 796.9h0M375.2 800.8h0M382.4 796.5h0M393.6 804.7h0M373.0 817.3h0M366.8 812.6h0M389.0 810.1h0M360.6 800.4h0M381.1 800.6h0M362.1 809.7h0M382.6 792.0h0M349.4 799.8h0M364.5 811.7h0M356.7 793.3h0M366.5 792.6h0M392.9 795.0h0M375.0 800.1h0M364.6 809.6h0M369.3 802.2h0M382.1 804.2h0M383.5 798.3h0M377.0 795.1h0M359.7 792.3h0M375.5 809.4h0M387.9 793.6h0M395.1 798.5h0M373.5 804.1h0M351.4 800.0h0M378.1 794.6h0M379.3 805.9h0M376.7 793.4h0M346.5 794.6h0M373.0 817.4h0M381.2 810.6h0M357.1 803.4h0M374.1 800.0h0M376.3 791.3h0M371.9 814.5h0M380.9 794.3h0M365.7 794.4h0M362.3 806.0h0M368.8 800.9h0M367.1 809.1h0M382.5 797.6h0M375.8 796.7h0M377.2 804.9h0M362.3 799.9h0M378.2 800.9h0M368.0 799.3h0M372.8 814.5h0M359.7 795.0h0M388.0 812.2h0M371.4 816.6h0M376.2 800.5h0M367.9 792.9h0M375.7 811.2h0M391.3 802.8h0M373.4 806.2h0M392.9 797.5h0M369.0 794.8h0M356.0 808.8h0M387.4 799.0h0M354.3 800.1h0M374.3 801.7h0M379.7 798.2h0M359.5 794.8h0M363.2 799.7h0M367.6 794.7h0M367.8 801.9h0M387.2 803.0h0M368.2 807.1h0M367.5 813.9h0M368.5 793.0h0M379.8 801.0h0M361.9 795.0h0M380.5 816.4h0M364.9 793.1h0M349.0 793.6h0M391.8 806.1h0M370.8 814.2h0M354.4 801.7h0M376.5 808.0h0M372.2 818.4h0M357.6 795.5h0M348.6 793.6h0M355.6 798.7h0M352.2 793.4h0M368.7 817.3h0M359.4 801.5h0M370.5 805.7h0M352.3 800.6h0M350.0 800.1h0M370.5 798.3h0M349.8 797.5h0M362.5 804.9h0M378.1 793.3h0M366.1 795.0h0M391.7 799.8h0M382.9 799.1h0M374.5 799.5h0M382.5 807.0h0M362.1 798.4h0M370.0 794.8h0M390.0 797.0h0M353.9 804.3h0M363.9 796.6h0M389.8 807.3h0M381.2 806.0h0M373.5 809.9h0M392.9 796.5h0M373.4 811.1h0M376.1 814.3h0M382.4 800.8h0M383.9 792.8h0M382.1 797.2h0M364.6 797.0h0M362.0 797.9h0M365.9 800.4h0M400.0 796.3h0M363.6 805.2h0M356.0 807.0h0M358.5 794.9h0M360.4 793.3h0M353.7 796.1h0M378.2 812.3h0M369.3 799.4h0M362.6 803.6h0M360.0 812.3h0M385.7 812.1h0M361.6 814.3h0M366.7 803.8h0M373.0 812.5h0M365.8 804.5h0M375.2 798.3h0M362.2 808.2h0M354.6 797.3h0M365.3 793.0h0M352.5 797.5h0M340.6 797.0h0M374.2 810.4h0M381.1 810.9h0M374.1 808.0h0M371.2 816.4h0M382.2 793.2h0M383.5 801.8h0M383.7 796.8h0M365.9 802.9h0M364.5 799.9h0M353.0 805.9h0M382.6 801.4h0M382.7 799.9h0M373.1 809.5h0M361.0 794.1h0M365.2 793.0h0M344.5 804.9h0M365.5 803.1h0M381.9 794.0h0M378.8 792.4h0M348.5 800.2h0M390.5 792.3h0M366.3 810.1h0M380.2 815.6h0M379.9 812.7h0M350.0 796.8h0M391.4 802.8h0M364.4 794.8h0M355.6 801.5h0M370.6 816.0h0M371.9 816.0h0M379.0 807.8h0M375.4 791.6h0M375.6 802.7h0M384.8 793.1h0M363.0 801.9h0M375.4 799.9h0M372.8 813.3h0M373.0 813.1h0M374.6 804.9h0M367.7 811.4h0M385.7 808.0h0M379.5 796.0h0M367.6 806.8h0M378.0 814.6h0M362.2 801.1h0M350.2 802.5h0M384.2 807.3h0M378.8 807.1h0M377.2 800.1h0M379.7 813.6h0M381.9 807.8h0M361.2 806.0h0M379.0 792.3h0M397.1 792.1h0M370.6 810.3h0M383.1 812.6h0M353.6 804.3h0M364.7 805.1h0M381.7 791.4h0M374.4 806.5h0M354.7 792.4h0M364.0 810.0h0M361.1 804.7h0M363.7 812.8h0M375.3 811.5h0M392.1 806.5h0M376.5 805.6h0M373.6 806.9h0M393.5 796.3h0M352.3 798.9h0M375.9 792.6h0M376.4 796.5h0M371.0 807.3h0M385.8 813.4h0M388.9 805.9h0M371.8 817.7h0M385.0 802.2h0M380.8 794.7h0M355.2 804.1h0M369.2 811.5h0M353.1 792.7h0M357.1 803.3h0M367.2 797.1h0M382.3 795.0h0M368.9 811.6h0M367.1 805.9h0M382.7 804.9h0M385.2 808.2h0M383.7 802.0h0M381.1 813.7h0M352.3 794.7h0M365.0 792.9h0M381.0 810.4h0M378.3 794.1h0M365.0 813.8h0M375.9 803.2h0M373.1 813.7h0M393.0 792.0h0M367.2 795.8h0M385.5 800.0h0M368.6 795.6h0M378.9 804.9h0M365.6 817.3h0M377.3 796.8h0M370.0 798.0h0M371.8 814.3h0M378.2 798.9h0M358.5 796.9h0M381.1 796.2h0M371.3 812.4h0M368.6 804.1h0M369.4 796.9h0M368.2 791.8h0M357.2 804.9h0M377.0 805.4h0M376.1 811.1h0M358.5 801.0h0M363.8 797.6h0M383.0 797.3h0M370.8 812.2h0M380.1 797.6h0M359.6 805.1h0M390.8 793.8h0M349.1 799.0h0M385.5 792.1h0M377.4 797.0h0M374.9 802.8h0M350.3 793.5h0M374.8 795.2h0M374.7 805.0h0M367.0 798.8h0M376.1 792.3h0M367.8 791.5h0M351.7 796.0h0M386.5 804.6h0M370.0 792.4h0M385.5 805.6h0M371.1 817.0h0M379.3 796.0h0M371.8 816.5h0M379.2 811.1h0M396.7 802.7h0M396.6 799.5h0M354.8 802.8h0M377.4 811.8h0M371.3 812.2h0M375.3 809.9h0M370.8 803.4h0M383.9 814.4h0M361.8 794.5h0M367.0 809.1h0M364.5 794.7h0M351.2 792.1h0M371.4 815.7h0M369.5 804.0h0M354.5 791.5h0M342.4 791.2h0M381.7 802.1h0M370.0 807.8h0M369.3 791.9h0M376.3 798.6h0M368.3 798.8h0M372.8 815.2h0M357.1 795.5h0M382.7 791.6h0M363.8 804.3h0M371.0 805.8h0M362.3 793.4h0M362.8 809.3h0M366.6 806.3h0M391.7 792.9h0M354.1 801.4h0M360.5 792.8h0M385.6 804.9h0M370.2 800.8h0M358.0 800.0h0M357.6 806.6h0M380.1 806.3h0M369.8 810.7h0M394.7 795.4h0M357.7 811.8h0M375.8 804.4h0M381.1 798.5h0M385.3 804.2h0M376.3 813.2h0M384.5 795.7h0M389.8 792.6h0M359.4 796.1h0M377.1 814.9h0M363.4 807.7h0M361.1 803.9h0M358.4 798.6h0M368.9 792.0h0M367.3 795.6h0M351.8 796.7h0M378.9 810.0h0M377.5 813.2h0M380.3 813.4h0M363.9 799.1h0M368.7 791.3h0M368.7 803.1h0M350.9 794.8h0M363.0 812.0h0M363.7 793.4h0M361.1 798.1h0M387.3 799.8h0M390.8 795.8h0M377.5 797.8h0M359.5 800.0h0M367.7 803.4h0M377.9 814.4h0M387.0 798.8h0M377.9 814.3h0M373.9 809.8h0M363.5 800.6h0M385.3 804.1h0M361.1 791.3h0M386.5 801.7h0M373.8 813.9h0M362.7 807.9h0M378.5 813.2h0M365.5 794.9h0M367.2 815.6h0M387.4 800.9h0M368.2 796.0h0M383.8 808.5h0M383.3 800.9h0M385.7 807.2h0M366.2 794.3h0M368.9 806.5h0M357.7 798.0h0M395.8 804.3h0M382.0 797.6h0M389.7 796.5h0M372.2 818.8h0M379.8 802.0h0M355.0 798.4h0M369.1 802.0h0M391.7 804.4h0M370.8 816.1h0M373.3 806.9h0M365.7 809.9h0M353.5 804.7h0M371.7 814.4h0M365.1 796.1h0M368.1 800.1h0M370.4 798.0h0M372.7 814.5h0M356.6 810.6h0M393.2 807.1h0M374.4 794.4h0M369.5 804.8h0M371.5 816.1h0M358.6 791.2h0M365.3 801.6h0M376.5 815.9h0M356.4 800.4h0M368.3 799.6h0M377.9 806.3h0M377.0 804.4h0M354.1 800.4h0M357.5 798.5h0M374.7 808.1h0M382.5 798.5h0M383.4 801.8h0M364.2 795.4h0M380.7 791.5h0M356.7 811.7h0M379.8 807.6h0M386.1 803.9h0M358.9 794.6h0M373.8 813.9h0M383.7 803.2h0M400.2 793.1h0M365.5 797.4h0M360.1 795.9h0M365.3 807.5h0M381.7 796.5h0M360.2 792.1h0M386.4 792.3h0M390.5 802.5h0M385.8 809.4h0M390.1 799.5h0M361.7 811.1h0M360.3 802.9h0M360.2 815.5h0M372.7 814.7h0M378.6 798.9h0M361.6 803.0h0M360.6 802.9h0M398.2 804.2h0M351.1 795.1h0M378.9 793.6h0M393.7 796.9h0M374.5 801.6h0M358.7 792.2h0M366.0 812.0h0M372.8 816.1h0M384.7 794.2h0M378.5 813.6h0M387.7 792.0h0M380.2 805.0h0M362.1 793.0h0M372.4 818.5h0M363.1 809.8h0M386.2 796.6h0M377.5 808.5h0M374.3 803.5h0M383.3 799.9h0M375.4 800.6h0M353.9 792.2h0M360.8 809.7h0M368.6 815.3h0M352.4 806.8h0M361.6 793.5h0M376.0 810.5h0M387.7 795.1h0M376.9 815.7h0M404.1 793.0h0M368.1 807.6h0M378.9 792.0h0M384.6 805.8h0M379.9 800.8h0M356.0 791.2h0M372.3 819.0h0M380.2 802.0h0M350.8 797.3h0M384.8 797.7h0M369.1 803.2h0M366.0 803.6h0M374.8 815.2h0M376.9 798.0h0M356.0 795.1h0M373.2 816.5h0M359.3 806.6h0M369.4 807.9h0M377.7 807.2h0M396.9 792.0h0M379.4 807.0h0M379.4 809.7h0M366.2 801.3h0M383.8 813.2h0M375.9 802.6h0M355.5 797.9h0M368.5 804.0h0M362.8 803.1h0M371.3 816.8h0M390.1 795.0h0M363.8 805.2h0M367.3 811.7h0M362.2 794.8h0M379.3 804.0h0M373.7 818.7h0M371.1 810.6h0M365.6 795.8h0M379.5 804.5h0M360.0 795.4h0M382.4 806.3h0M388.4 795.2h0M357.6 794.3h0M386.1 800.1h0M369.8 797.5h0M372.2 818.1h0M374.7 794.0h0M363.5 794.4h0M382.2 799.5h0M382.1 796.2h0M397.7 797.6h0M384.2 795.6h0M383.9 796.7h0M399.4 792.2h0M364.0 808.4h0M371.5 809.4h0M366.9 807.4h0M380.5 795.0h0M376.9 810.5h0M364.4 797.5h0M361.4 803.4h0M375.0 793.6h0M356.2 801.6h0M374.4 797.3h0M385.6 806.4h0M360.7 805.9h0M366.5 808.1h0M382.6 793.5h0M366.3 791.4h0M366.6 816.8h0M377.4 806.0h0M368.3 796.3h0M367.0 794.8h0M369.8 791.9h0M366.6 799.1h0M386.2 796.7h0M379.3 800.4h0M367.1 801.7h0M384.8 795.6h0M379.1 815.0h0M363.4 802.5h0M368.7 813.7h0M372.9 814.8h0M377.7 791.3h0M375.7 797.5h0M374.4 804.3h0M372.8 818.9h0M381.1 793.7h0M387.2 804.1h0M363.8 791.4h0M383.5 798.3h0M376.8 800.7h0M375.5 799.3h0M372.6 817.4h0M369.4 809.9h0M382.1 791.8h0M352.8 794.9h0M379.5 808.1h0M386.8 799.5h0M382.1 801.0h0M379.6 809.4h0M375.8 802.3h0M360.4 799.8h0M375.4 809.3h0M367.8 801.5h0M375.8 802.9h0M374.9 807.8h0M372.2 818.2h0M378.8 797.5h0M379.2 815.4h0M366.8 791.6h0M364.2 796.2h0M382.6 793.9h0M386.6 791.9h0M367.5 800.2h0M375.0 795.4h0M383.1 792.7h0M400.3 792.5h0M365.6 796.7h0M369.9 801.0h0M367.4 797.5h0M378.3 798.8h0M350.6 797.2h0M364.7 804.2h0M358.0 801.0h0M387.3 802.3h0M382.5 809.4h0M369.4 795.5h0M363.9 803.2h0M391.9 802.6h0M367.9 792.6h0M395.7 791.8h0M403.7 802.4h0M372.0 815.9h0M366.9 803.0h0M374.1 808.4h0M360.2 807.7h0M362.0 800.0h0M372.5 817.5h0M369.4 812.3h0M382.9 816.1h0M361.8 794.5h0M353.8 791.9h0M379.8 804.8h0M378.1 799.8h0M379.3 810.2h0M362.4 811.0h0M377.4 792.2h0M377.8 792.9h0M365.1 792.7h0M374.4 800.3h0M369.7 815.1h0M368.5 793.7h0M388.2 812.7h0M375.9 797.2h0M389.6 799.6h0M374.9 800.3h0M385.0 796.5h0M356.1 813.0h0M380.7 815.0h0M374.7 809.7h0M364.1 797.0h0M385.3 792.2h0M387.6 796.6h0M382.0 808.1h0M401.6 791.4h0M384.1 800.1h0M355.9 795.6h0M360.6 794.0h0M366.9 793.8h0M357.8 811.5h0M363.0 794.6h0M348.2 792.9h0M354.2 793.2h0M399.4 798.4h0M365.3 804.0h0M377.0 792.5h0M379.5 792.8h0M367.9 809.8h0M366.8 808.4h0M394.1 791.9h0M355.4 797.0h0M387.5 808.0h0M376.8 812.8h0M366.2 798.1h0M387.1 806.3h0M376.1 796.4h0M385.7 795.3h0M373.1 810.6h0M359.8 800.9h0M376.4 796.1h0M360.9 798.0h0M379.8 808.9h0M353.3 791.2h0M345.7 794.3h0M374.9 795.5h0M371.6 811.9h0M374.0 807.4h0M386.1 798.0h0M341.4 791.8h0M366.9 810.2h0M345.8 792.2h0M372.7 814.0h0M365.5 800.6h0M350.9 794.0h0M388.9 809.9h0M364.0 805.5h0M384.7 813.3h0M392.5 798.1h0M375.7 813.1h0M398.6 798.8h0M372.7 818.3h0M363.2 810.8h0M372.5 818.4h0M382.2 815.5h0M375.4 804.6h0M361.1 804.0h0M350.4 797.6h0M392.1 809.3h0M343.7 792.2h0M358.1 794.3h0M367.3 808.3h0M392.2 802.4h0M377.2 793.7h0M391.2 804.7h0M360.0 810.4h0M363.4 794.6h0M379.1 816.4h0M364.1 807.6h0M363.1 794.0h0M366.4 813.1h0M376.6 799.0h0M376.1 799.1h0M384.1 814.9h0M394.3 793.3h0M368.3 795.6h0M378.1 811.0h0M380.2 793.4h0M373.6 808.3h0M383.1 807.6h0M392.6 793.6h0M394.1 797.9h0M384.5 803.9h0M375.8 797.3h0M392.0 802.6h0M385.3 802.2h0M370.9 816.8h0M382.8 807.7h0M379.1 797.4h0M382.3 804.0h0M377.4 792.6h0M378.0 804.9h0M370.5 801.7h0M367.9 809.5h0M349.8 794.2h0M378.6 808.3h0M370.3 797.4h0M347.6 797.5h0M362.2 813.9h0M384.8 797.7h0M358.1 803.3h0M375.8 799.0h0M369.5 800.7h0M351.0 810.1h0M379.0 807.0h0M370.5 803.4h0M393.5 797.5h0M373.7 815.5h0M365.9 798.2h0M363.0 803.0h0M386.4 794.8h0M378.6 808.7h0M370.1 811.6h0M376.1 809.2h0M373.5 812.0h0M363.5 798.2h0M386.7 810.6h0M398.2 793.5h0M372.0 816.3h0M365.8 797.1h0M377.9 792.4h0M373.7 806.8h0M364.4 793.8h0M376.7 795.1h0M378.7 808.5h0M394.1 798.4h0M378.1 792.3h0M392.5 805.3h0M370.1 805.7h0M377.2 806.1h0M379.2 804.9h0M370.3 808.4h0M371.8 817.6h0M385.6 794.9h0M356.1 798.0h0M401.6 792.3h0M377.3 800.7h0M369.0 800.5h0M379.0 803.5h0M371.0 817.0h0M387.3 792.3h0M360.0 792.9h0M373.9 811.2h0M375.5 797.9h0M361.0 794.3h0M354.4 805.9h0M366.8 792.4h0M373.1 810.3h0M372.8 813.7h0M384.3 801.0h0M383.9 811.3h0M398.3 800.4h0M353.3 803.4h0M377.0 794.3h0M382.2 795.7h0M364.3 812.5h0M394.1 794.1h0M369.2 795.3h0M368.5 796.2h0M365.6 792.5h0M392.4 802.8h0M382.7 814.5h0M387.2 797.3h0M374.2 797.2h0M370.2 804.9h0M386.8 794.2h0M370.0 810.8h0M353.4 795.1h0M392.9 805.0h0M347.1 792.8h0M381.5 814.6h0M370.1 794.4h0M356.3 802.0h0M376.7 799.9h0M368.1 796.1h0M370.3 812.4h0M382.1 806.5h0M353.1 803.1h0M371.6 813.9h0M363.1 802.0h0M386.8 791.9h0M366.5 806.8h0M370.9 811.0h0M377.9 814.5h0M360.6 793.6h0M363.0 803.7h0M386.8 808.9h0M387.9 806.7h0M371.1 806.8h0M386.0 810.9h0M351.9 797.8h0M353.7 807.0h0M369.4 814.0h0M373.7 809.0h0M359.5 811.3h0M382.9 799.8h0M389.1 801.2h0M379.2 815.2h0M369.1 807.3h0M391.8 799.6h0M368.0 797.0h0M401.7 792.3h0M370.1 812.3h0M397.5 792.2h0M375.2 795.3h0M362.6 799.8h0M364.5 804.1h0M368.8 815.0h0M376.8 811.5h0M354.9 804.6h0M375.3 803.0h0M403.2 795.8h0M372.8 817.2h0M369.7 795.3h0M351.7 794.2h0M384.8 810.1h0M367.7 816.3h0M359.6 800.4h0M371.7 815.8h0M368.6 800.4h0M363.7 802.5h0M379.0 794.0h0M358.3 797.5h0M368.2 801.1h0M359.5 797.8h0M369.9 811.5h0M366.1 806.1h0M372.7 814.6h0M381.5 808.9h0M372.6 816.9h0M386.5 808.6h0M375.8 816.1h0M377.6 798.3h0M359.7 792.1h0M401.4 800.4h0M372.6 817.9h0M352.5 808.8h0M387.1 794.7h0M360.7 799.8h0M379.0 805.2h0M364.0 811.6h0M355.5 793.3h0M362.7 793.3h0M385.2 808.1h0M370.3 818.0h0M367.6 800.5h0M370.0 798.2h0M382.4 791.4h0M344.7 797.2h0M373.4 810.5h0M383.3 793.2h0M391.0 810.7h0M352.0 797.8h0M386.3 794.6h0M377.8 800.7h0M375.8 796.2h0M360.0 793.7h0M376.5 805.5h0M369.7 806.2h0M373.7 814.8h0M366.4 794.1h0M372.6 818.9h0M358.3 795.8h0M378.3 806.1h0M379.9 797.0h0M371.5 811.7h0M380.5 798.1h0M381.2 792.1h0M371.8 815.9h0M386.4 794.8h0M382.3 798.4h0M362.1 801.5h0M349.5 801.7h0M360.8 811.2h0M358.3 800.2h0M382.0 800.1h0M371.6 813.3h0M374.6 795.8h0M376.6 810.4h0M384.0 801.1h0M367.2 793.3h0M395.6 807.9h0M364.5 815.2h0M386.1 793.1h0M369.2 798.1h0M378.4 811.1h0M372.5 817.8h0M375.2 806.5h0M374.3 801.2h0M378.3 806.5h0M375.2 803.0h0M381.8 809.1h0M363.1 797.3h0M380.8 808.7h0M389.8 802.1h0M361.4 791.8h0M379.9 799.7h0M386.1 806.6h0M376.1 801.3h0M375.6 800.5h0M382.5 802.6h0M351.5 791.7h0M392.5 799.0h0M371.1 810.0h0M380.9 813.9h0M359.4 796.0h0M383.7 806.7h0M372.0 815.5h0M376.3 794.3h0M368.1 792.3h0M371.4 813.2h0M351.2 802.0h0M351.7 803.3h0M369.4 807.9h0M370.4 802.5h0M349.3 796.0h0M395.7 793.9h0M374.4 793.1h0M369.7 791.3h0M376.2 795.2h0M363.0 793.2h0M376.0 799.3h0M380.4 798.0h0M371.8 818.0h0M373.7 810.5h0M347.5 800.6h0M368.2 791.6h0M393.8 794.3h0M373.8 803.4h0M375.9 812.8h0M361.0 814.3h0M373.1 810.3h0M367.0 802.2h0M365.0 797.8h0M355.9 805.9h0M378.3 806.7h0M381.1 812.6h0M368.7 795.6h0M375.8 802.8h0M376.3 806.3h0M374.0 804.6h0M390.1 799.5h0M355.2 803.6h0M375.2 793.3h0M379.0 793.0h0M391.5 794.6h0M364.6 797.7h0M364.9 812.8h0M379.4 818.0h0M356.2 795.7h0M362.1 808.4h0M381.8 807.1h0M371.2 811.1h0M368.8 798.5h0M369.8 797.4h0M369.4 793.6h0M348.6 798.9h0M376.0 794.1h0M363.4 793.2h0M352.8 792.2h0M365.3 795.7h0M387.1 795.2h0M365.9 800.0h0M367.3 795.5h0M367.1 791.4h0M385.4 791.2h0M357.4 808.1h0M373.1 808.9h0M368.8 793.0h0M372.0 818.5h0M367.5 800.4h0M353.1 802.3h0M385.6 793.1h0M388.6 812.8h0M356.2 798.8h0M375.7 804.1h0M383.5 800.3h0M361.7 792.2h0M368.8 799.6h0M359.6 805.6h0M393.3 792.3h0M383.6 809.9h0M356.1 796.6h0M372.9 815.7h0M365.7 811.2h0M384.4 810.3h0M386.0 799.8h0M375.3 818.3h0M379.6 794.1h0M364.1 808.3h0M378.9 795.6h0M369.6 796.9h0M373.1 810.6h0M387.8 798.7h0M356.5 807.3h0M368.6 799.6h0M374.3 810.7h0M362.6 793.3h0M390.5 798.3h0M389.9 801.1h0M365.2 803.2h0M365.5 803.2h0M355.9 792.1h0M374.5 799.2h0M369.3 798.4h0M358.6 793.7h0M361.7 806.9h0M366.5 816.5h0M366.7 799.4h0M377.1 797.2h0M363.8 806.5h0M391.6 792.5h0M376.2 806.8h0M381.1 812.8h0M367.3 810.0h0M376.8 805.4h0M362.8 793.3h0M376.8 796.1h0M366.3 808.0h0M380.9 804.1h0M389.7 793.7h0M380.4 806.5h0M358.0 795.4h0M379.9 800.3h0M387.3 794.5h0M368.4 801.0h0M375.0 801.8h0M380.2 809.1h0M376.3 805.2h0M357.5 802.0h0M378.7 804.8h0M368.8 817.8h0M376.9 817.2h0M368.4 809.6h0M367.7 805.4h0M374.7 794.4h0M387.7 813.8h0M356.9 799.5h0M380.3 805.9h0M390.9 807.7h0M372.8 815.1h0M363.3 802.7h0M372.8 813.2h0M386.1 801.2h0M357.1 807.7h0M376.6 797.8h0M351.9 792.0h0M384.1 803.8h0M379.3 811.7h0M383.8 791.5h0M374.5 811.4h0M380.0 808.1h0M369.8 795.4h0M369.1 800.1h0M373.9 806.6h0M371.0 815.1h0M384.9 809.1h0M375.7 797.1h0M349.4 801.2h0M373.9 805.0h0M352.0 793.5h0M377.4 805.9h0M376.2 795.0h0M369.0 805.8h0M372.9 817.3h0M389.5 800.8h0M368.1 798.7h0M375.8 802.7h0M385.9 804.3h0M377.9 802.0h0M380.2 794.5h0M366.5 809.5h0M373.1 810.2h0M357.9 802.1h0M376.1 795.0h0M351.4 808.3h0M364.5 792.8h0M358.0 792.3h0M355.8 805.3h0M370.9 806.0h0M378.3 796.1h0M373.6 806.4h0M371.9 814.8h0M375.4 795.6h0M355.7 793.2h0M376.8 810.2h0M366.4 806.1h0M372.3 819.1h0M361.7 793.0h0M365.5 792.6h0M368.1 809.3h0M362.7 792.9h0M350.4 806.2h0M370.9 805.6h0M388.8 793.4h0M382.1 812.3h0M347.3 791.2h0M380.1 809.5h0M359.8 798.9h0M386.9 802.7h0M366.0 800.7h0M370.6 817.1h0M374.5 808.1h0M359.6 799.0h0M382.5 803.3h0M383.8 805.4h0M354.9 809.6h0M377.2 796.8h0M373.6 816.0h0M379.6 803.4h0M374.1 797.6h0M380.7 805.5h0M400.8 791.5h0M390.7 793.4h0M355.7 798.0h0M361.8 795.2h0M383.9 800.6h0M363.5 800.5h0M367.6 802.4h0M362.8 796.7h0M346.5 797.6h0M357.9 799.8h0M352.7 792.1h0M370.8 815.9h0M375.0 794.0h0M385.0 808.3h0M378.0 807.9h0M378.2 791.3h0M377.1 794.6h0M374.3 810.9h0M381.1 798.1h0M380.7 809.7h0M373.3 812.1h0M379.6 803.6h0M373.4 806.7h0M354.2 794.9h0M388.5 809.6h0M390.9 791.6h0M367.9 808.7h0M380.2 793.5h0M380.5 802.8h0M375.1 809.6h0M370.6 812.5h0M392.6 802.4h0M363.8 808.2h0M385.8 804.4h0M368.8 799.1h0M394.3 796.9h0M371.4 815.8h0M373.8 810.1h0M364.6 806.4h0M384.1 812.1h0M383.5 808.6h0M352.3 806.3h0M377.2 791.5h0M373.5 812.9h0M361.3 795.6h0M366.9 796.2h0M377.9 814.7h0M354.2 793.4h0M374.2 801.0h0M367.3 802.8h0M365.2 796.7h0M391.2 794.7h0M384.1 795.3h0M380.9 802.8h0M378.4 815.0h0M355.8 808.0h0M384.9 793.2h0M373.7 810.5h0M370.2 807.7h0M366.7 807.3h0M385.3 802.8h0M367.8 801.5h0M360.1 801.0h0M353.4 791.3h0M358.5 801.6h0M370.3 814.2h0M367.1 813.6h0M380.2 798.3h0M389.4 801.4h0M368.6 800.6h0M348.0 795.7h0M381.3 798.1h0M346.1 794.3h0M367.3 812.2h0M378.9 796.5h0M368.9 800.9h0M381.1 793.2h0M368.6 799.7h0M371.6 814.4h0M358.7 808.3h0M371.6 817.0h0M357.2 793.1h0M386.3 795.8h0M396.5 793.7h0M357.9 813.8h0M363.0 792.5h0M374.4 800.2h0M342.4 799.0h0M372.5 817.3h0M352.4 808.2h0M347.9 804.0h0M361.6 802.3h0M361.8 811.8h0M372.4 818.8h0M376.2 801.2h0M351.7 791.3h0M378.4 816.5h0M350.8 807.2h0M373.1 811.1h0M372.2 819.0h0M378.1 799.9h0M358.8 808.0h0M364.2 796.6h0M383.6 799.2h0M370.8 807.3h0M394.3 798.9h0M375.6 802.7h0M366.5 803.0h0M391.1 795.5h0M377.2 812.3h0M362.8 812.9h0M373.3 809.3h0M389.6 792.4h0M358.2 809.9h0M383.8 805.8h0M359.5 809.8h0M372.0 815.5h0M373.9 814.5h0M380.3 800.5h0M372.6 817.7h0M363.7 806.4h0M374.2 795.0h0M372.1 818.3h0M364.9 800.2h0M364.5 802.6h0M393.4 796.8h0M370.7 804.4h0M383.2 809.6h0M366.6 796.7h0M387.6 791.4h0M351.3 803.9h0M359.1 800.6h0M365.5 802.8h0M375.5 808.6h0M401.8 792.1h0M373.9 807.5h0M361.1 803.7h0M368.8 816.5h0M369.5 796.6h0M361.7 798.5h0M383.8 806.2h0M349.6 806.1h0M372.3 818.7h0M376.0 802.7h0M372.8 814.9h0M362.9 792.6h0M391.8 795.5h0M380.7 796.9h0M382.7 810.9h0M372.1 817.1h0M377.6 801.6h0M373.6 809.7h0M348.6 801.6h0M390.2 803.4h0M373.1 818.3h0M367.9 807.5h0M351.8 795.4h0M362.8 797.2h0M376.3 806.1h0M364.6 811.9h0M366.1 805.2h0M381.9 807.4h0M377.4 797.6h0M383.9 805.7h0M358.2 794.3h0M366.8 806.1h0M384.6 799.7h0M388.4 792.8h0M370.9 815.7h0M357.3 801.5h0M364.3 799.4h0M369.8 799.5h0M367.4 794.6h0M373.7 805.6h0M389.0 805.9h0M359.6 808.0h0M369.6 794.4h0M386.9 800.9h0M359.8 813.3h0M383.7 808.1h0M379.7 806.5h0M356.4 802.2h0M393.9 798.0h0M374.8 811.8h0M387.6 798.7h0M373.4 813.5h0M367.5 792.6h0M376.1 806.3h0M379.6 801.8h0M372.2 818.5h0M356.6 794.4h0M356.8 794.9h0M365.8 808.5h0M367.1 809.8h0M382.0 799.1h0M349.1 794.0h0M372.0 815.4h0M359.9 794.5h0M387.0 812.4h0M368.3 800.7h0M368.4 795.0h0M357.6 801.4h0M355.2 794.5h0M353.2 800.2h0M395.7 798.4h0M361.0 801.0h0M374.5 800.6h0M367.6 794.7h0M369.5 810.9h0M361.3 810.8h0M376.3 794.9h0M357.5 792.8h0M374.4 808.2h0M367.0 800.2h0M400.8 795.8h0M354.9 806.0h0M368.5 812.7h0M369.3 795.2h0M389.9 792.1h0M373.2 809.1h0M368.0 805.7h0M358.9 813.0h0M386.4 798.4h0M381.1 795.9h0M370.4 803.7h0M379.9 810.3h0M360.4 803.9h0M381.9 806.7h0M371.3 809.4h0M369.3 799.3h0M371.2 809.8h0M355.6 793.0h0M380.2 809.2h0M370.8 814.0h0M393.1 800.8h0M366.3 809.5h0M374.1 811.0h0M382.1 791.7h0M382.8 801.9h0M361.3 796.8h0M379.7 793.7h0M389.3 797.6h0M373.0 810.5h0M362.1 796.8h0M359.4 805.2h0M342.4 791.5h0M387.8 808.8h0M370.0 796.9h0M362.8 796.2h0M374.1 797.7h0M393.9 797.3h0M390.9 794.6h0M368.4 796.4h0M371.9 817.6h0M377.2 800.1h0M385.0 802.6h0M371.4 810.8h0M367.8 800.5h0M380.7 793.6h0M398.4 792.0h0M365.1 798.3h0M380.4 815.1h0M393.0 797.0h0M374.8 792.8h0M371.8 815.1h0M369.0 800.9h0M368.8 791.5h0M376.7 805.3h0M372.1 818.2h0M375.2 795.6h0M377.9 803.2h0M374.1 816.3h0M375.4 798.8h0M373.8 802.5h0M371.1 811.3h0M372.9 813.7h0M397.6 797.9h0M375.5 794.6h0M364.6 802.3h0M366.8 806.0h0M372.9 815.5h0M373.6 804.0h0M373.6 815.1h0M382.2 800.1h0M388.1 793.7h0M347.2 797.9h0M369.1 810.9h0M373.5 816.5h0M370.5 801.6h0M371.8 814.4h0M379.1 797.2h0M375.5 798.6h0M373.8 803.6h0M346.8 794.1h0M371.0 813.6h0M361.4 806.7h0M368.0 809.9h0M377.4 814.1h0M377.2 807.2h0M365.2 814.3h0M379.1 800.2h0M366.1 794.8h0M371.1 810.6h0M357.5 810.0h0M346.2 793.9h0M369.1 798.7h0M359.2 803.7h0M366.5 811.8h0M363.8 791.6h0M376.5 791.5h0M380.1 796.8h0M347.7 796.5h0M395.8 796.4h0M383.6 806.6h0M375.4 802.5h0M397.0 799.5h0M370.3 808.1h0M351.5 809.6h0M368.2 814.5h0M355.9 804.2h0M370.3 800.3h0M369.4 798.5h0M374.3 800.0h0M379.1 803.0h0M384.3 811.1h0M371.4 813.7h0M395.5 794.1h0M394.6 797.3h0M363.5 801.1h0M397.6 802.4h0M355.3 795.4h0M377.0 811.9h0M361.7 792.8h0M384.2 809.6h0M376.1 811.1h0M362.4 807.5h0M362.3 801.5h0M370.7 801.4h0M373.1 817.1h0M355.9 799.1h0M377.9 794.3h0M364.4 804.4h0M382.6 816.1h0M371.0 813.1h0M357.7 795.5h0M372.9 814.1h0M380.5 806.3h0M368.7 795.4h0M372.8 815.2h0M383.4 798.0h0M381.9 798.8h0M358.1 807.1h0M386.7 794.6h0M367.5 810.5h0M371.2 812.8h0M352.5 799.8h0M384.7 801.5h0M362.5 805.8h0M375.0 809.8h0M366.9 798.9h0M375.8 817.0h0M373.2 810.9h0M377.4 812.5h0M402.6 800.1h0M369.9 803.2h0M386.8 799.0h0M383.9 805.4h0M360.3 794.4h0M377.1 807.2h0M372.6 816.1h0M370.0 799.1h0M381.7 794.7h0M375.4 795.8h0M392.7 795.2h0M375.3 810.3h0M341.6 795.1h0M353.4 798.6h0M373.0 811.0h0M382.6 811.1h0M368.5 809.2h0M373.8 803.8h0M381.3 791.1h0M399.9 794.0h0M379.7 802.7h0M391.8 801.5h0M378.7 802.4h0M391.9 793.4h0M371.1 814.4h0M358.5 808.9h0M387.9 794.3h0M389.0 793.3h0M378.2 799.1h0M379.9 799.9h0M374.9 806.2h0M392.0 792.5h0M375.7 801.6h0M365.0 799.7h0M365.9 794.6h0M372.7 818.9h0M371.1 818.0h0M385.1 811.7h0M368.2 803.5h0M383.0 798.7h0M400.0 795.6h0M359.4 807.6h0M401.1 792.6h0M352.1 802.9h0M360.5 806.1h0M350.6 802.4h0M386.7 809.1h0M349.1 794.9h0M376.5 796.0h0M369.6 808.2h0M370.4 803.0h0M374.9 815.3h0M378.1 809.0h0M362.4 792.9h0M367.4 807.6h0M373.5 816.4h0M358.7 793.3h0M367.2 816.7h0M379.5 792.8h0M381.9 809.0h0M385.9 798.1h0M368.5 806.3h0M361.0 810.0h0M376.5 800.9h0M363.6 794.4h0M381.9 808.5h0M375.2 816.5h0M369.4 792.7h0M375.8 797.6h0M368.4 805.8h0M372.6 816.3h0M369.5 811.5h0M393.2 795.9h0M364.3 804.0h0M397.5 800.3h0M363.0 798.0h0M386.8 808.7h0M373.5 804.4h0M347.0 798.3h0M386.9 796.1h0M383.5 806.5h0M380.9 803.0h0M363.3 803.0h0M380.1 794.2h0M380.3 806.0h0M354.2 802.2h0M363.2 802.6h0M365.0 794.7h0M374.8 794.9h0M366.9 800.0h0M376.2 818.2h0M381.8 815.1h0M342.4 794.0h0M379.9 811.4h0M363.8 793.9h0M363.8 791.9h0M371.2 815.3h0M384.7 793.3h0M398.5 800.3h0M363.0 797.2h0M363.5 811.8h0M385.9 808.6h0M370.3 797.5h0M369.8 805.7h0M350.2 792.9h0M366.3 793.1h0M364.9 795.5h0M385.4 793.0h0M373.8 816.6h0M378.8 801.5h0M361.4 794.6h0M364.1 794.7h0M367.0 799.9h0M369.3 807.1h0M365.9 793.3h0M354.8 804.4h0M370.5 802.0h0M354.3 806.2h0M370.3 811.1h0M354.8 811.6h0M365.9 793.3h0M359.9 802.6h0M381.7 798.4h0M382.0 813.3h0M376.7 796.9h0M358.5 799.4h0M381.8 794.4h0M370.7 812.1h0M370.5 811.1h0M382.6 808.0h0M373.2 817.3h0M382.8 794.6h0M377.0 812.0h0M377.9 811.2h0M351.6 809.6h0M389.6 793.3h0M392.8 807.8h0M382.5 792.7h0M350.9 798.8h0M376.6 807.2h0M403.1 791.2h0M371.0 816.2h0M377.6 800.4h0M374.7 798.9h0M370.0 816.1h0M396.1 802.1h0M382.4 797.8h0M372.0 815.9h0M380.4 815.7h0M383.2 811.9h0M374.8 812.0h0M381.8 798.2h0M370.4 797.9h0M358.6 800.0h0M382.3 810.0h0M369.4 791.6h0M362.2 801.6h0M365.2 798.2h0M388.7 791.2h0M381.3 809.2h0M393.4 791.2h0M392.4 797.3h0M400.4 794.9h0M363.7 796.4h0M357.9 807.9h0M364.4 801.4h0M385.2 791.3h0M378.6 795.2h0M384.6 807.7h0M370.7 813.0h0M371.2 812.2h0M380.0 794.1h0M367.6 805.9h0M362.2 800.6h0M372.9 815.9h0M370.2 812.9h0M369.9 804.9h0M366.7 793.7h0M397.6 795.0h0M361.8 795.8h0M378.0 806.0h0M364.7 803.7h0M383.4 810.9h0M377.2 801.9h0M375.0 803.8h0M361.0 811.6h0M380.0 810.9h0M366.9 794.8h0M387.4 810.2h0M373.9 811.4h0M385.5 814.5h0M359.4 803.6h0M379.9 791.9h0M346.6 807.3h0M383.0 798.2h0M373.7 808.8h0M392.0 807.8h0M364.0 794.5h0M352.4 797.3h0M359.3 793.3h0M377.0 804.3h0M378.2 798.8h0M376.6 811.8h0M359.0 809.6h0M372.9 812.4h0M371.8 814.2h0M372.5 818.1h0M368.9 803.7h0M378.6 796.4h0M388.8 806.9h0M384.4 796.8h0M376.4 800.0h0M377.8 794.0h0M390.3 792.6h0M374.5 795.8h0M360.1 799.6h0M360.0 800.3h0M352.8 795.6h0M382.7 801.0h0M375.4 816.1h0M379.9 796.5h0M369.8 791.7h0M388.7 805.1h0M376.0 814.7h0M359.2 803.9h0M367.6 804.2h0M360.1 796.6h0M352.3 798.6h0M362.5 801.7h0M363.0 804.1h0M398.6 791.5h0M384.7 794.9h0M367.2 792.9h0M378.8 798.7h0M367.5 799.6h0M352.9 796.0h0M370.6 815.0h0M380.8 795.3h0M366.9 807.7h0M366.7 791.6h0M353.1 795.3h0M363.2 809.0h0M362.3 793.4h0M370.3 818.6h0M374.0 802.0h0M379.9 806.4h0M390.2 804.1h0M370.7 811.9h0M362.1 796.8h0M391.1 792.6h0M382.0 795.0h0M361.4 813.4h0M363.6 801.2h0M356.5 807.8h0M382.6 799.2h0M387.5 804.3h0M367.0 802.4h0M361.4 797.4h0M388.4 800.8h0M360.7 808.6h0M371.5 812.4h0M372.3 819.1h0M360.5 794.6h0M376.2 793.1h0M391.9 798.8h0M384.4 812.0h0M381.4 796.3h0M366.3 802.7h0M375.1 807.0h0M393.0 798.7h0M395.8 794.0h0M365.2 799.7h0M366.1 810.2h0M399.0 792.5h0M369.5 801.9h0M358.7 801.1h0M361.0 801.5h0M389.5 811.2h0M386.8 811.1h0M365.8 798.5h0M370.6 802.4h0M349.6 806.4h0M352.7 792.2h0M372.3 819.1h0M391.1 804.7h0M373.4 806.7h0M391.3 806.9h0M371.7 812.1h0M365.1 809.6h0M377.4 801.2h0M352.5 792.1h0M348.6 800.4h0M396.5 796.0h0M373.1 813.9h0M375.6 791.4h0M387.7 801.8h0M397.7 799.4h0M403.5 792.1h0M402.6 791.6h0M384.4 793.9h0M401.3 801.2h0M399.5 805.8h0M354.1 797.2h0M355.9 792.1h0M390.2 796.8h0M387.3 803.8h0M388.5 795.6h0M373.9 807.9h0M348.7 793.4h0M369.8 800.6h0M357.2 800.5h0M390.9 797.9h0M366.9 802.6h0M386.9 802.0h0M363.0 792.9h0M359.0 794.3h0M362.8 793.9h0M395.5 796.0h0M365.2 801.9h0M398.6 796.7h0M395.2 796.3h0M383.9 808.4h0M372.9 812.7h0M383.7 801.8h0M385.0 805.0h0M380.7 791.7h0M361.7 806.0h0M369.2 793.1h0M379.9 800.6h0M367.5 810.4h0M374.9 791.4h0M371.3 813.9h0M391.1 799.2h0M360.6 803.1h0M366.7 806.5h0M380.3 793.6h0M367.8 804.2h0M363.7 797.7h0M379.3 793.4h0M372.1 818.2h0M363.5 794.3h0M375.0 806.1h0M372.3 818.8h0M388.5 797.6h0M373.4 810.4h0M369.5 808.5h0M376.7 812.0h0M366.6 792.7h0M371.0 807.0h0M364.6 795.5h0M345.5 797.6h0M399.5 795.7h0M353.5 798.3h0M375.5 803.0h0M392.7 795.5h0M374.9 796.4h0M385.2 801.5h0M355.0 799.7h0M356.3 806.0h0M376.0 793.5h0M346.0 795.6h0M371.4 809.6h0M378.6 811.9h0M377.2 794.8h0M359.5 804.8h0M376.4 798.5h0M356.2 808.5h0M366.4 810.4h0M391.6 804.1h0M381.1 811.1h0M349.1 795.9h0M371.3 808.1h0M351.2 801.9h0M376.5 807.0h0M383.0 805.9h0M368.5 809.7h0M360.1 813.2h0M376.3 801.3h0M382.1 802.5h0M391.5 805.7h0M354.2 792.6h0M352.5 798.2h0M379.7 801.3h0M376.2 813.1h0M384.5 798.9h0M365.6 805.5h0M387.1 794.9h0M390.7 801.3h0M378.2 795.0h0M377.9 810.2h0M370.0 802.7h0M375.5 817.8h0M387.5 798.7h0M366.8 796.1h0M375.0 794.2h0M364.1 795.6h0M358.5 800.6h0M379.8 808.9h0M375.4 794.2h0M365.6 794.2h0M373.0 813.8h0M386.3 803.6h0M359.0 794.8h0M376.5 794.7h0M381.8 794.7h0M377.6 792.8h0M380.0 798.2h0M375.0 795.4h0M381.3 793.2h0M377.8 804.1h0M346.8 800.2h0M377.9 799.3h0M364.5 807.3h0M371.5 809.0h0M372.9 814.5h0M352.3 797.7h0M373.5 805.7h0M368.2 806.5h0M343.0 791.7h0M368.6 807.9h0M368.4 797.6h0M359.9 797.9h0M366.1 793.1h0M362.6 804.9h0M387.7 804.0h0M380.5 813.0h0M359.5 812.5h0M389.1 804.6h0M362.4 797.8h0M351.7 796.1h0M375.1 805.3h0M380.2 799.6h0M375.8 800.3h0M373.3 815.2h0M372.9 813.0h0M376.9 811.2h0M371.5 810.3h0M383.1 792.0h0M351.7 794.9h0M376.2 818.1h0M392.7 798.3h0M365.0 813.6h0M377.4 811.3h0M368.0 803.5h0M361.9 795.3h0M369.3 816.5h0M345.8 799.1h0M364.8 813.6h0M368.2 813.7h0M362.3 801.5h0M381.1 796.8h0M355.2 793.1h0M367.3 806.6h0M371.4 816.0h0M388.0 795.7h0M365.4 795.6h0M373.7 806.6h0M366.4 798.8h0M352.2 795.3h0M368.1 799.6h0M347.7 802.2h0M372.6 816.3h0M364.8 808.2h0M357.0 801.9h0M383.7 808.8h0M361.3 797.2h0M369.2 810.7h0M375.5 794.3h0M340.1 791.8h0M374.9 804.2h0M346.8 792.3h0M351.3 792.9h0M351.9 793.5h0M350.5 800.5h0M386.1 806.2h0M348.8 792.8h0M370.0 809.2h0M375.0 794.7h0M383.7 798.2h0M364.5 791.6h0M392.3 796.9h0M350.2 793.4h0M375.0 801.5h0M376.7 792.7h0M356.5 794.1h0M363.9 797.9h0M375.1 805.6h0M359.0 794.4h0M374.2 800.5h0M374.1 798.3h0M378.3 800.1h0M367.9 795.1h0M358.3 793.0h0M377.8 802.0h0M386.2 802.9h0M352.9 799.2h0M372.5 817.1h0M350.3 798.1h0M375.9 796.0h0M362.1 807.9h0M362.3 808.2h0M364.2 800.1h0M383.0 804.3h0M378.8 802.0h0M370.8 808.1h0M366.2 802.4h0M368.3 816.2h0M382.5 794.6h0M370.4 814.3h0M378.1 796.1h0M387.3 805.6h0M390.1 801.1h0M379.9 798.1h0M357.5 808.9h0M391.2 803.5h0M380.6 799.0h0M365.4 808.4h0M378.7 796.0h0M377.9 803.0h0M380.4 792.4h0M372.8 816.2h0M361.7 811.0h0M381.8 804.2h0M347.3 802.2h0M386.5 804.6h0M370.1 798.7h0M371.4 808.5h0M379.8 801.2h0M384.1 801.6h0M360.2 808.4h0M399.1 805.4h0M353.5 806.3h0M353.2 802.7h0M381.9 792.1h0M359.1 802.8h0M368.1 802.3h0M370.3 797.2h0M364.1 813.7h0M374.8 811.0h0M384.7 794.5h0M365.1 808.8h0M371.3 809.0h0M371.6 815.4h0M361.2 803.6h0M360.5 810.2h0M373.7 818.7h0M384.6 795.9h0M384.7 799.4h0M370.6 809.1h0M343.3 791.2h0M373.8 799.8h0M387.9 808.0h0M395.7 801.6h0M385.1 802.2h0M391.1 805.2h0M363.4 796.2h0M372.3 819.1h0M383.3 817.2h0M363.1 794.3h0M365.7 812.3h0M363.9 795.9h0M367.1 791.9h0M360.4 795.6h0M366.0 796.9h0M388.7 805.1h0M368.1 803.8h0M364.5 797.2h0M386.6 798.9h0M399.3 791.9h0M388.9 804.4h0M379.0 796.0h0M369.8 813.9h0M357.2 793.7h0M356.8 793.9h0M376.5 793.8h0M377.5 817.1h0M360.0 793.1h0M374.6 810.9h0M365.7 814.4h0M348.6 792.7h0M368.6 814.6h0M367.7 796.2h0M367.6 807.9h0M374.7 807.2h0M369.6 806.8h0M397.2 792.9h0M345.1 794.0h0M367.7 806.1h0M359.1 798.9h0M376.0 794.2h0M391.7 805.2h0M371.3 816.0h0M372.9 814.5h0M378.4 798.5h0M368.8 813.9h0M360.7 799.3h0M349.2 791.5h0M379.5 802.2h0M381.8 793.2h0M369.0 805.8h0M356.7 808.2h0M371.7 812.5h0M392.7 806.1h0M382.2 793.5h0M355.3 798.0h0M391.4 791.5h0M396.6 795.9h0M356.1 794.0h0M366.8 809.3h0M378.3 794.1h0M368.4 793.4h0M367.8 799.8h0M382.1 792.7h0M357.4 796.5h0M380.9 796.0h0M369.3 800.3h0M376.7 802.4h0M376.1 804.6h0M375.0 802.4h0M368.7 794.9h0M375.5 799.0h0M356.1 794.7h0M375.9 810.0h0M368.5 812.5h0M372.7 816.7h0M367.4 813.0h0M359.3 811.8h0M370.4 808.6h0M369.3 801.3h0M378.9 806.0h0M380.3 797.2h0M382.2 813.2h0M383.1 804.8h0M377.2 801.6h0M373.8 815.4h0M387.1 802.2h0M364.4 809.1h0M381.9 815.0h0M356.1 794.1h0M365.7 805.8h0M386.6 795.5h0M376.5 792.4h0M368.0 798.0h0M382.7 803.7h0M393.3 804.0h0M388.7 799.6h0M354.4 801.0h0M389.9 795.2h0M368.2 797.4h0M384.6 798.7h0M354.7 799.4h0M390.7 806.4h0M362.1 799.1h0M364.1 796.8h0M365.9 816.9h0M371.3 810.6h0M383.3 796.0h0M372.8 816.5h0M385.1 795.3h0M380.8 801.9h0M351.5 792.9h0M380.5 810.5h0M372.8 816.1h0M385.6 799.0h0M380.8 802.6h0M381.0 807.6h0M376.3 807.5h0M382.4 807.4h0M361.0 792.3h0M378.4 798.7h0M364.6 804.8h0M371.8 816.0h0M360.7 794.7h0M378.4 797.6h0M362.5 794.2h0M345.5 797.8h0M387.3 793.4h0M379.8 797.5h0M372.2 818.4h0M378.2 806.6h0M385.5 798.0h0M360.2 796.3h0M351.9 799.7h0M348.7 795.2h0M365.2 814.4h0M371.2 810.4h0M367.9 797.2h0M385.3 803.2h0M359.8 798.1h0M367.7 796.5h0M364.0 814.1h0M382.7 796.0h0M363.5 797.4h0M373.9 803.9h0M366.7 815.9h0M357.8 814.3h0M371.2 817.4h0M356.1 791.7h0M396.7 803.6h0M368.3 804.5h0M371.1 816.5h0M384.9 808.4h0M383.6 803.8h0M346.9 804.2h0M366.7 801.1h0M357.1 796.2h0M391.1 795.6h0M344.1 793.5h0M364.4 798.6h0M393.8 809.3h0M372.3 819.1h0M342.7 792.4h0M384.1 791.2h0M376.6 800.5h0M378.7 796.8h0M384.3 791.8h0M378.7 800.6h0M376.8 796.7h0M358.3 794.5h0M357.1 802.4h0M372.3 819.2h0M378.2 806.1h0M375.9 810.1h0M350.5 796.0h0M392.2 808.7h0M373.8 810.5h0M379.0 792.6h0M381.7 816.3h0M373.9 816.4h0M376.3 801.9h0M403.9 796.5h0M379.2 799.8h0M380.4 796.1h0M403.9 791.1h0M347.6 797.4h0M371.2 806.6h0M372.2 818.4h0M370.8 806.7h0M391.2 791.2h0M395.0 800.0h0M368.5 812.8h0M358.4 800.7h0M378.8 799.4h0M362.3 795.7h0M367.2 812.8h0M357.0 791.7h0M359.5 804.9h0M399.4 794.1h0M374.3 802.9h0M364.1 798.9h0M366.7 794.5h0M368.8 812.0h0M370.7 811.5h0M365.9 804.6h0M372.6 817.9h0M369.8 813.6h0M392.5 800.2h0M367.7 800.6h0M367.2 800.9h0M371.8 816.3h0M377.2 795.5h0M359.0 793.4h0M361.5 791.3h0M374.9 802.8h0M387.9 798.4h0M358.8 798.7h0M366.3 809.6h0M401.3 796.5h0M376.3 817.3h0M359.3 800.0h0M365.9 794.8h0M386.7 801.0h0M360.9 800.3h0M360.7 794.1h0M385.7 793.5h0M368.6 814.0h0M382.9 801.1h0M399.3 795.3h0M357.8 797.6h0M369.1 801.7h0M372.0 818.9h0M367.4 803.3h0M385.3 806.4h0M380.2 800.1h0M377.8 798.8h0M382.3 811.0h0M358.4 793.4h0M354.6 801.5h0M368.0 801.1h0M376.2 793.3h0M385.4 797.1h0M372.9 811.9h0M369.7 813.8h0M362.1 798.1h0M399.8 800.3h0M386.3 804.6h0M374.4 797.2h0M362.2 800.1h0M387.4 793.4h0M363.7 792.0h0M404.3 794.7h0M377.9 797.7h0M371.8 817.4h0M390.6 793.1h0M382.9 791.7h0M369.7 797.0h0M363.4 791.8h0M394.3 799.7h0M396.0 791.9h0M363.7 795.4h0M357.3 797.1h0M378.6 801.3h0M372.9 816.1h0M362.5 799.2h0M385.0 803.2h0M369.4 807.7h0M365.8 796.6h0M365.5 792.3h0M372.5 818.3h0M399.9 794.1h0M382.3 811.7h0M353.6 793.3h0M367.0 811.7h0M349.7 805.6h0M376.3 817.0h0M371.8 816.2h0M381.0 807.5h0M376.0 811.7h0M393.8 805.2h0M379.9 793.6h0M386.3 807.1h0M374.7 795.6h0M373.6 805.2h0M364.2 812.8h0M371.3 809.8h0M361.6 797.6h0M377.9 810.5h0M367.7 798.3h0M366.0 806.6h0M389.0 803.8h0M374.0 798.5h0M383.8 806.4h0M367.5 814.8h0M391.4 795.2h0M384.9 797.5h0M372.4 819.1h0M372.7 817.3h0M368.4 795.0h0M346.7 802.1h0M371.1 810.6h0M362.7 801.3h0M374.4 801.2h0M383.2 794.0h0M377.0 794.7h0M397.8 794.9h0M363.2 792.5h0M389.3 811.9h0M399.8 792.8h0M397.6 799.5h0M385.5 805.3h0M389.7 791.1h0M399.0 796.0h0M367.8 800.6h0M378.9 808.3h0M342.5 791.6h0M380.6 804.6h0M365.4 792.0h0M365.0 800.2h0M346.7 791.4h0M362.8 795.5h0M377.3 797.6h0M362.9 809.3h0M367.5 805.4h0M368.7 793.2h0M349.7 794.5h0M386.3 809.3h0M376.0 818.2h0M390.2 797.5h0M375.8 798.1h0M343.0 792.9h0M387.6 795.1h0M351.2 806.2h0M386.9 795.9h0M393.7 800.1h0M392.8 806.4h0M368.4 816.1h0M372.2 818.1h0M376.0 799.5h0M385.9 808.3h0M364.0 811.8h0M378.4 791.5h0M389.6 799.7h0M357.2 801.6h0M403.8 793.1h0M382.7 804.6h0M400.3 798.1h0M373.1 813.3h0M388.4 796.4h0M366.6 796.9h0M381.9 814.9h0M373.2 815.0h0M372.6 816.4h0M367.4 809.3h0M382.2 805.7h0M371.7 817.8h0M356.3 794.6h0M376.8 793.2h0M365.8 794.6h0M369.0 802.5h0M388.2 793.7h0M356.3 797.7h0M370.8 816.3h0M372.5 817.6h0M366.6 793.1h0M387.7 791.3h0M382.3 794.1h0M365.9 791.3h0M366.1 794.5h0M349.5 801.0h0M365.9 798.1h0M372.4 818.3h0M371.5 814.9h0M363.8 805.2h0M363.9 797.7h0M376.3 815.0h0M374.6 799.6h0M371.3 812.0h0M370.4 809.1h0M351.7 809.1h0M379.6 800.6h0M351.6 793.6h0M364.4 793.4h0M376.3 808.7h0M367.6 817.1h0M350.9 799.0h0M378.0 805.4h0M375.6 802.7h0M343.7 791.9h0M382.0 792.0h0M384.7 803.3h0M388.1 791.4h0M380.9 815.5h0M368.3 803.2h0M375.8 812.7h0M371.1 815.5h0M386.8 807.3h0M354.2 792.9h0M373.1 811.8h0M381.2 804.6h0M375.2 806.7h0M368.3 807.1h0M350.1 792.3h0M368.6 802.9h0M374.9 817.0h0M377.7 805.3h0M388.2 800.1h0M367.8 800.0h0M362.0 799.7h0M379.5 814.3h0M364.0 816.8h0M380.1 810.8h0M381.7 810.0h0M393.2 801.9h0M383.9 803.9h0M371.9 814.5h0M383.8 800.1h0M376.2 801.9h0M384.1 796.9h0M384.4 807.2h0M381.2 803.4h0M379.4 805.0h0M367.8 814.5h0M360.0 807.0h0M386.0 813.0h0M346.4 791.6h0M382.8 808.2h0M362.8 799.6h0M356.3 809.5h0M361.6 802.3h0M382.1 800.2h0M364.3 799.0h0M372.8 814.3h0M378.3 812.4h0M384.6 797.4h0M369.2 795.7h0M384.7 794.7h0M355.7 798.0h0M388.7 805.9h0M371.0 806.0h0M371.5 810.2h0M359.8 794.7h0M358.1 801.6h0M389.7 792.1h0M375.8 801.2h0M373.1 811.2h0M371.7 815.9h0M382.4 795.6h0M377.4 800.6h0M400.7 799.8h0M367.0 793.1h0M378.9 802.3h0M383.0 803.9h0M384.8 804.5h0M370.9 811.1h0M387.3 812.2h0M372.3 819.1h0M360.2 799.8h0M386.2 810.9h0M375.4 813.5h0M376.2 817.5h0M370.1 793.2h0M362.5 812.4h0M386.2 800.8h0M376.3 808.2h0M383.5 809.3h0M376.3 811.1h0M380.3 797.6h0M388.6 808.4h0M359.0 807.0h0M387.7 799.4h0M358.0 799.8h0M372.2 818.2h0M381.2 795.6h0M373.3 814.2h0M387.1 793.5h0M373.3 808.9h0M379.6 796.7h0M344.9 793.1h0M364.9 807.7h0M378.0 795.4h0M358.3 794.2h0M364.9 803.8h0M369.2 798.3h0M367.0 807.4h0M403.1 799.8h0M382.2 810.8h0M396.3 800.7h0M379.3 809.8h0M385.2 799.4h0M350.5 792.6h0M370.2 793.0h0M377.2 799.2h0M362.9 811.6h0M378.2 801.1h0M363.1 798.6h0M386.7 798.7h0M373.4 806.3h0M376.7 792.4h0M363.6 806.1h0M379.7 793.8h0M385.7 802.5h0M357.2 795.7h0M367.5 807.9h0M383.6 813.5h0M376.7 807.8h0M386.5 795.5h0M379.3 813.7h0M377.7 803.2h0M376.2 797.8h0M359.6 796.8h0M355.9 792.3h0M403.6 792.2h0M376.1 802.0h0M371.4 813.9h0M389.8 800.3h0M389.8 802.8h0M363.9 795.1h0M381.5 797.6h0M378.5 794.7h0M359.3 798.5h0M381.5 814.9h0M379.0 805.0h0M390.3 802.7h0M388.4 802.9h0M374.6 800.9h0M367.9 808.7h0M366.5 809.9h0M368.2 814.5h0M380.6 815.2h0M396.1 797.9h0M355.8 803.7h0M373.9 801.9h0M377.3 815.1h0M376.5 805.9h0M371.7 813.6h0M381.2 797.1h0M369.7 799.0h0M393.4 801.2h0M351.5 801.0h0M379.5 795.9h0M387.9 796.1h0M362.2 815.2h0M372.9 814.2h0M373.8 801.4h0M362.3 797.5h0M376.9 801.1h0M370.6 805.6h0M353.3 795.9h0M391.5 805.5h0M389.9 792.6h0M367.7 807.9h0M379.1 795.4h0M372.3 819.0h0M399.0 797.0h0M364.9 797.4h0M376.1 798.6h0M374.0 805.2h0M354.7 798.4h0M376.5 792.0h0M378.2 807.7h0M381.1 798.2h0M380.4 808.9h0M359.1 808.2h0M371.5 816.7h0M394.4 801.2h0M372.1 818.6h0M358.8 811.6h0M375.9 801.4h0M362.0 808.2h0M353.1 800.9h0M363.7 793.1h0M368.6 804.4h0M359.4 805.7h0M351.5 791.3h0M378.2 791.6h0M382.9 796.0h0M365.4 798.2h0M377.9 797.5h0M350.9 807.7h0M374.5 809.7h0M362.7 805.3h0M395.8 795.1h0M373.7 808.1h0M376.5 796.9h0M361.2 802.0h0M373.6 815.6h0M374.1 814.6h0M392.2 796.2h0M373.4 817.8h0M379.9 791.9h0M382.1 794.3h0M365.1 802.0h0M370.0 798.9h0M371.4 810.1h0M356.3 810.4h0M389.7 805.9h0M378.9 802.2h0M365.7 816.0h0M380.4 802.8h0M380.7 795.1h0M366.5 794.6h0M389.1 798.5h0M370.1 800.5h0M380.9 804.8h0M365.8 815.2h0M358.1 813.4h0M398.2 797.6h0M387.1 802.0h0M366.3 813.7h0M360.6 792.4h0M367.7 794.6h0M371.6 811.9h0M380.0 814.5h0M363.4 793.5h0M372.7 815.1h0M376.4 795.5h0M369.6 792.7h0M362.1 793.0h0M377.9 799.5h0M363.5 793.0h0M361.4 810.0h0M363.5 792.2h0M359.1 800.6h0M384.7 807.2h0M358.1 805.5h0M370.5 810.0h0M373.3 810.7h0M365.8 800.2h0M378.0 797.3h0M373.9 800.9h0M380.1 791.6h0M368.0 803.0h0M384.4 800.1h0M357.7 807.6h0M388.1 799.1h0M360.6 800.5h0M398.9 794.3h0M352.0 803.3h0M376.4 797.9h0M388.3 802.2h0M386.5 803.5h0M379.3 793.6h0M358.5 793.1h0M363.1 804.1h0M363.5 792.7h0M374.7 796.8h0M369.2 818.4h0M368.2 805.1h0M369.6 796.2h0M385.3 808.5h0M385.8 792.3h0M377.4 802.4h0M366.4 814.6h0M378.5 813.4h0M378.3 793.6h0M382.6 796.3h0M366.8 804.0h0M379.8 800.7h0M378.0 796.1h0M352.0 803.9h0M377.3 803.3h0M368.2 804.7h0M376.2 804.7h0M355.4 792.1h0M368.9 807.5h0M356.1 799.5h0M357.7 803.0h0M360.3 805.7h0M366.6 797.4h0M361.1 808.8h0M349.9 793.5h0M369.8 792.2h0M400.0 792.5h0M357.1 795.3h0M378.1 794.1h0M384.4 795.4h0M354.6 801.7h0M373.0 810.1h0M371.3 809.7h0M387.9 809.9h0M366.8 810.7h0M380.9 805.3h0M380.4 801.3h0M382.5 794.2h0M374.1 811.6h0M389.3 802.9h0M400.2 803.8h0M376.8 801.9h0M361.9 798.1h0M393.4 800.2h0M357.3 799.6h0M365.7 802.3h0M393.1 799.8h0M351.6 795.9h0M362.6 798.4h0M352.2 806.9h0M371.7 814.8h0M390.8 798.6h0M367.0 797.9h0M378.5 794.7h0M380.7 797.0h0M384.6 805.6h0M380.5 800.7h0M374.0 809.9h0M381.5 809.5h0M372.3 819.1h0M376.0 802.6h0M385.3 808.1h0M387.6 800.1h0M359.6 791.8h0M371.9 817.3h0M384.8 797.9h0M362.4 811.8h0M362.9 810.4h0M382.7 794.2h0M385.3 798.7h0M376.4 815.8h0M369.0 804.1h0M370.2 803.3h0M361.0 791.5h0M379.9 795.3h0M373.9 809.1h0M366.3 806.7h0M362.8 808.7h0M348.5 795.2h0M371.9 816.7h0M384.5 793.5h0M373.7 807.8h0M380.6 793.2h0M366.8 795.1h0M363.7 801.8h0M377.6 807.2h0M363.4 811.0h0M366.2 814.0h0M368.6 807.7h0M364.2 798.3h0M382.9 805.7h0M358.5 803.7h0M377.4 805.8h0M379.5 793.5h0M384.5 805.0h0M371.1 811.6h0M360.6 806.4h0M385.1 812.0h0M366.0 793.7h0M371.0 807.0h0M382.2 799.6h0M378.9 798.3h0M378.1 817.1h0M373.8 809.7h0M359.9 797.3h0M392.8 804.2h0M364.8 802.4h0M396.0 804.3h0M398.2 791.2h0M373.4 806.1h0M388.3 797.1h0M371.1 816.6h0M369.5 797.4h0M376.4 799.8h0M377.3 802.7h0M371.6 814.3h0M370.9 802.0h0M369.3 813.5h0M363.1 801.2h0M368.0 801.4h0M374.0 809.8h0M397.1 794.3h0M371.8 817.4h0M362.9 794.0h0M368.3 800.1h0M374.8 800.9h0M371.3 811.9h0M382.3 802.1h0M390.7 809.1h0M371.7 816.4h0M362.4 808.9h0M354.2 806.2h0M402.1 793.0h0M381.0 801.8h0M374.6 811.5h0M362.7 800.5h0M362.6 792.9h0M358.5 792.6h0M384.9 798.2h0M373.4 809.7h0M387.7 801.7h0M355.3 804.9h0M381.7 814.2h0M372.7 814.0h0M374.5 801.2h0M378.1 808.5h0M368.3 817.0h0M360.9 793.2h0M392.0 806.3h0M373.6 809.4h0M386.7 803.4h0M371.4 809.0h0M391.8 794.6h0M369.7 798.0h0M364.0 812.9h0M370.6 818.2h0M372.7 814.9h0M367.9 803.8h0M373.4 810.6h0M379.2 792.3h0M368.2 796.4h0M362.5 812.1h0M358.1 806.0h0M355.5 804.1h0M349.5 794.5h0M376.4 794.3h0M370.3 800.9h0M360.7 802.6h0M375.5 810.8h0M373.1 815.8h0M370.3 816.9h0M384.3 806.4h0M383.9 804.6h0M362.1 807.5h0M375.0 797.5h0M365.8 799.8h0M369.6 808.2h0M367.9 806.4h0M362.7 803.0h0M374.3 794.4h0M367.8 796.6h0M358.4 796.0h0M371.1 806.0h0M379.2 805.0h0M374.9 818.7h0M358.0 811.3h0M381.9 795.4h0M375.3 814.7h0M366.0 813.8h0M384.3 807.0h0M365.4 795.3h0M388.0 791.4h0M366.7 810.9h0M356.6 796.4h0M385.0 793.2h0M367.2 810.1h0M365.3 791.3h0M369.2 798.3h0M384.6 800.7h0M374.6 817.2h0M360.9 798.4h0M375.4 810.1h0M364.8 800.5h0M368.8 805.2h0M365.6 811.1h0M378.3 809.5h0M366.5 800.0h0M376.7 798.2h0M364.0 799.3h0M379.4 796.0h0M380.7 812.6h0M340.3 791.3h0M403.1 792.4h0M370.6 808.1h0M378.6 802.8h0M359.8 802.3h0M381.7 808.8h0M374.9 814.1h0M377.3 801.3h0M367.0 805.4h0M373.2 808.1h0M367.6 791.9h0M370.7 809.7h0M380.6 805.4h0M373.3 811.7h0M352.8 798.4h0M398.3 797.4h0M390.2 793.2h0M382.5 802.9h0M391.6 804.4h0M393.5 804.8h0M377.3 806.3h0M358.1 803.8h0M354.2 791.6h0M367.4 809.8h0M366.2 812.9h0M376.6 807.8h0M394.6 807.1h0M392.7 800.7h0M369.3 805.5h0M363.2 793.3h0M379.0 801.9h0M341.0 795.7h0M350.3 801.0h0M385.4 793.4h0M381.0 795.8h0M362.4 792.6h0M396.4 793.0h0M368.5 811.2h0M351.8 795.6h0M354.0 797.3h0M383.4 794.9h0M347.2 801.7h0M361.7 805.8h0M389.4 800.6h0M376.1 791.9h0M372.9 813.6h0M364.3 809.7h0M367.3 798.7h0M376.7 797.5h0M357.6 808.1h0M373.1 817.4h0M378.7 796.9h0M355.8 793.4h0M399.7 795.5h0M375.2 798.3h0M377.8 809.5h0M379.1 809.7h0M376.8 809.5h0M367.1 803.7h0M362.0 815.2h0M381.0 801.1h0M388.8 811.1h0M369.5 814.4h0M359.1 793.7h0M367.8 807.7h0M372.8 813.7h0M363.4 809.4h0M354.7 800.1h0M376.2 806.1h0M382.9 806.3h0M372.0 819.1h0M358.3 791.6h0M381.4 807.0h0M375.5 818.7h0M381.5 794.4h0M383.1 807.7h0M381.5 794.4h0M357.8 799.9h0M380.4 796.4h0M358.3 796.2h0M384.1 791.5h0M366.9 816.4h0M367.7 804.1h0M377.8 792.1h0M367.6 803.8h0M372.4 818.9h0M377.0 808.5h0M360.3 793.8h0M347.7 795.4h0M373.4 808.4h0M353.7 791.8h0M393.8 797.2h0M365.6 796.9h0M377.5 801.2h0M392.3 791.6h0M378.1 795.9h0M361.9 795.2h0M380.7 794.4h0M372.6 816.5h0M382.4 803.9h0M375.1 792.8h0M377.4 805.3h0M370.7 809.4h0M364.0 793.2h0M375.7 794.5h0M387.2 801.7h0M389.7 796.9h0M376.7 795.3h0M386.3 800.7h0M368.7 794.8h0M379.1 792.4h0M382.4 795.6h0M385.1 800.8h0M369.2 805.5h0M379.5 791.5h0M371.1 804.4h0M360.4 802.7h0M362.2 805.7h0M392.2 801.4h0M379.8 802.1h0M341.1 801.2h0M369.4 792.0h0M341.0 791.5h0M375.0 796.2h0M359.2 794.1h0M364.1 793.1h0M368.5 801.9h0M388.5 798.9h0M371.7 811.4h0M376.1 792.5h0M387.1 807.6h0M363.1 796.4h0M382.3 792.6h0M375.6 802.4h0M362.0 796.5h0M367.9 815.2h0M366.7 795.9h0M373.3 810.9h0M367.3 791.8h0M352.1 793.7h0M365.2 799.2h0M384.2 807.6h0M368.1 813.2h0M363.6 794.9h0M383.1 801.9h0M376.9 797.9h0M385.5 804.6h0M370.3 796.2h0M373.9 812.0h0M370.3 798.3h0M394.2 805.7h0M384.7 798.4h0M376.0 798.9h0M380.0 794.4h0M380.0 808.5h0M366.3 802.0h0M355.5 792.0h0M382.5 791.4h0M380.6 808.4h0M366.7 794.0h0M370.7 806.9h0M375.5 807.0h0M378.7 802.5h0M371.4 812.6h0M384.6 802.1h0M381.1 801.5h0M383.6 806.7h0M384.1 801.3h0M365.0 796.0h0M378.5 803.0h0M369.5 797.6h0M371.5 815.3h0M363.3 805.3h0M388.2 806.1h0M367.7 801.7h0M354.8 810.2h0M366.5 791.8h0M384.6 793.3h0M369.7 805.6h0M348.6 798.9h0M356.0 802.0h0M343.8 794.7h0M380.6 806.9h0M393.3 794.4h0M380.9 794.1h0M380.1 791.2h0M394.4 791.3h0M392.0 804.9h0M383.7 793.4h0M379.0 797.1h0M378.3 813.8h0M375.0 807.9h0M354.3 799.1h0M362.5 806.8h0M391.4 805.8h0M387.2 794.3h0M391.0 796.4h0M385.4 793.2h0M373.5 808.0h0M377.6 799.3h0M367.0 791.5h0M369.1 809.8h0M353.8 799.4h0M361.3 793.8h0M374.8 812.3h0M379.2 803.2h0M362.2 795.3h0M379.3 815.1h0M364.9 802.2h0M376.3 809.1h0M359.9 807.5h0M361.6 792.1h0M367.1 812.0h0M393.7 797.4h0M372.7 818.0h0M364.8 793.0h0M353.6 805.1h0M392.9 804.6h0M368.0 797.7h0M360.4 811.3h0M360.3 805.6h0M363.8 813.7h0M364.8 794.3h0M362.7 800.6h0M371.2 814.5h0M355.6 792.4h0M382.8 797.6h0M369.4 797.0h0M373.1 815.2h0M380.8 801.4h0M354.6 810.1h0M364.2 799.2h0M363.3 792.7h0M378.2 795.3h0M386.3 810.3h0M378.6 798.2h0M368.3 798.5h0M382.1 796.3h0M385.8 807.8h0M370.0 804.2h0M391.1 796.8h0M383.6 795.4h0M375.0 794.6h0M383.6 806.0h0M380.2 795.5h0M373.6 805.5h0M360.3 798.2h0M370.9 811.6h0M375.4 817.3h0M360.4 793.5h0M395.7 791.1h0M378.1 802.9h0M348.8 795.7h0M396.1 797.0h0M356.7 812.9h0M384.3 806.9h0M369.0 805.0h0M387.0 805.5h0M388.8 805.8h0M376.9 812.4h0M379.7 806.6h0M379.2 803.1h0M341.3 791.6h0M368.7 815.4h0M370.6 803.0h0M377.8 800.0h0M377.4 804.8h0M385.2 816.3h0M387.1 802.0h0M374.3 813.3h0M379.9 796.6h0M380.8 816.3h0M379.1 794.9h0M383.1 801.4h0M367.6 808.0h0M358.3 804.4h0M389.3 798.6h0M361.2 797.5h0M373.0 811.3h0M349.1 793.5h0M374.5 812.5h0M386.0 796.8h0M401.2 793.2h0M380.9 799.5h0M365.6 804.6h0M389.0 793.0h0M375.4 792.2h0M381.1 799.3h0M385.3 797.5h0M362.5 799.3h0M348.7 800.1h0M375.2 814.3h0M373.3 810.5h0M376.5 797.0h0M377.8 791.9h0M366.3 796.0h0M387.8 796.3h0M370.0 805.1h0M372.9 813.8h0M387.3 801.2h0M368.1 800.7h0M371.7 813.2h0M352.6 799.4h0M369.9 802.0h0M376.6 810.6h0M367.8 794.6h0M358.4 811.8h0M370.4 802.0h0M367.9 796.9h0M360.1 801.1h0M385.0 794.2h0M375.7 797.5h0M358.1 813.1h0M370.5 812.2h0M379.4 808.0h0M367.8 793.0h0M378.3 802.7h0M358.3 802.1h0M378.2 811.8h0M362.4 807.7h0M377.7 811.0h0M387.6 799.9h0M377.6 809.1h0M364.0 807.2h0M379.4 796.6h0M359.1 795.2h0M358.7 796.4h0M378.5 798.7h0M357.5 791.4h0M359.9 793.8h0M393.0 794.3h0M360.0 809.7h0M354.8 796.4h0M386.2 808.5h0M368.1 801.5h0M375.6 795.1h0M375.2 802.1h0M366.1 805.4h0M403.0 794.8h0M363.3 794.2h0M366.6 799.8h0M392.7 802.5h0M372.4 818.5h0M371.7 816.6h0M370.4 795.9h0M369.5 815.3h0M383.9 804.1h0M369.2 808.2h0M368.1 811.6h0M370.6 810.1h0M367.0 800.3h0M359.5 813.1h0M371.3 813.7h0M378.7 806.0h0M392.1 798.9h0M392.8 799.2h0M365.3 804.7h0M348.7 797.5h0M376.9 804.9h0M373.9 811.7h0M356.1 800.5h0M364.4 801.1h0M385.7 801.4h0M384.0 792.0h0M363.9 810.8h0M367.5 797.6h0M355.6 805.8h0M378.4 808.3h0M376.2 810.5h0M368.6 791.7h0M357.6 808.8h0M372.7 815.4h0M383.4 815.6h0M358.7 795.9h0M361.0 807.8h0M362.2 813.2h0M365.6 803.9h0M376.4 793.9h0M363.8 801.0h0M386.0 794.9h0M381.7 792.7h0M393.8 800.1h0M374.1 811.3h0M348.2 802.5h0M341.1 793.1h0M371.0 804.9h0M363.5 803.8h0M387.6 806.9h0M369.7 803.6h0M384.8 799.5h0M383.7 808.9h0M357.7 799.3h0M369.7 813.5h0M391.4 798.9h0M389.4 794.3h0M378.9 804.8h0M383.4 795.3h0M386.1 794.8h0M365.2 807.0h0M359.4 799.8h0M376.2 795.1h0M365.0 795.3h0M383.6 808.1h0M391.8 798.2h0M364.0 797.9h0M390.0 808.9h0M365.8 813.4h0M384.9 798.8h0M369.4 813.9h0M370.0 797.3h0M371.4 808.5h0M385.8 791.9h0M390.0 799.1h0M386.1 793.2h0M362.9 792.5h0M378.9 799.1h0M362.5 804.3h0M378.6 798.9h0M377.4 817.3h0M371.7 815.2h0M352.2 794.6h0M381.7 811.2h0M372.8 815.8h0M368.4 807.0h0M373.3 812.9h0M367.0 806.1h0M379.5 803.1h0M379.8 801.1h0M377.0 794.0h0M373.4 814.6h0M372.2 818.5h0M387.2 803.1h0M376.8 802.7h0M387.9 796.5h0M368.6 795.3h0M375.1 801.9h0M356.0 811.6h0M348.6 797.0h0M389.6 802.9h0M377.5 813.2h0M368.3 792.5h0M376.0 802.9h0M362.4 795.3h0M371.7 812.4h0M355.1 792.6h0M377.3 791.4h0M386.1 801.3h0M348.6 793.6h0M384.4 809.2h0M381.7 801.1h0M375.5 805.9h0M367.7 801.5h0M375.4 807.0h0M393.0 801.5h0M352.7 805.7h0M361.8 805.4h0M369.9 792.1h0M394.8 803.8h0M372.1 816.8h0M384.8 797.8h0M392.1 794.2h0M373.2 811.6h0M383.0 803.9h0M371.0 803.2h0M368.7 797.3h0M368.0 813.4h0M359.3 802.3h0M374.0 798.2h0M359.1 802.3h0M395.5 801.3h0M386.0 795.7h0M378.1 799.8h0M366.0 804.0h0M358.3 795.9h0M350.9 799.0h0M369.4 810.9h0M385.7 807.7h0M389.7 806.2h0M367.2 800.0h0M363.1 800.8h0M380.9 792.4h0M376.5 794.5h0M382.5 791.7h0M368.5 793.1h0M363.6 814.2h0M377.2 809.7h0M369.3 797.7h0M357.5 794.3h0M389.8 806.4h0M391.5 800.8h0M377.1 796.0h0M356.2 794.1h0M366.1 814.7h0M372.5 816.5h0M362.4 806.2h0M379.6 812.5h0M365.1 810.7h0M356.8 792.3h0M376.1 791.7h0M381.9 804.6h0M375.8 813.6h0M379.2 803.3h0M395.9 796.8h0M387.3 803.2h0M394.5 799.6h0M358.8 810.3h0M377.0 795.8h0M379.9 801.7h0M361.3 812.9h0M348.6 797.5h0M384.9 811.5h0M381.2 792.9h0M354.1 793.4h0M341.8 794.5h0M379.3 796.0h0M358.0 805.6h0M362.0 805.3h0M382.5 801.2h0M361.2 805.6h0M360.6 815.4h0M389.6 799.7h0M386.7 807.1h0M360.5 801.1h0M383.6 814.7h0M378.9 793.8h0M372.6 816.2h0M351.2 796.8h0M354.4 794.5h0M365.3 803.4h0M367.7 795.1h0M388.6 791.4h0M363.9 803.0h0M350.2 791.3h0M381.0 798.6h0M384.2 793.0h0M348.2 795.5h0M369.1 807.3h0M363.1 797.6h0M374.9 808.2h0M350.7 793.3h0M366.8 812.1h0M395.7 791.2h0M395.6 798.5h0M373.8 803.6h0M383.5 804.8h0M369.9 800.4h0M359.8 807.2h0M380.3 803.4h0M374.5 799.7h0M352.3 796.9h0M386.4 794.1h0M377.5 813.3h0M389.8 796.7h0M369.1 809.3h0M358.9 813.8h0M363.2 796.4h0M363.8 811.8h0M385.9 797.9h0M370.6 802.7h0M359.3 807.1h0M390.2 809.5h0M388.3 803.4h0M360.6 791.7h0M351.5 791.3h0M363.9 801.5h0M394.1 801.2h0M376.2 818.1h0M381.4 803.3h0M362.0 800.7h0M381.7 791.2h0M366.9 791.6h0M351.3 796.1h0M403.1 795.0h0M374.4 800.1h0M374.2 808.0h0M362.6 792.8h0M376.1 812.0h0M369.1 808.5h0M367.1 813.9h0M388.8 809.0h0M371.6 818.0h0M357.2 795.5h0M363.3 800.3h0M377.2 817.8h0M356.7 797.8h0M369.3 792.8h0M392.1 795.2h0M382.9 806.1h0M375.4 809.4h0M378.1 796.4h0M367.0 805.6h0M381.2 791.8h0M388.2 811.8h0M371.0 805.2h0M375.3 795.6h0M369.4 799.4h0M363.2 801.5h0M364.7 794.4h0M371.4 813.7h0M361.0 796.3h0M366.7 791.8h0M375.7 810.9h0M362.7 793.8h0M387.2 803.1h0M401.1 797.6h0M371.0 804.9h0M382.2 812.3h0M373.3 817.1h0M353.5 809.8h0M368.8 794.3h0M387.2 799.5h0M365.5 799.3h0M369.0 810.1h0M374.9 796.3h0M358.7 793.3h0M395.8 797.3h0M384.9 796.4h0M376.1 815.4h0M368.5 807.2h0M364.1 806.6h0M356.5 797.9h0" stroke="#d5d5d5" stroke-width="2.6" stroke-linecap="round" stroke-opacity="0.6"/>
<path d="M375.6 766.1h0M376.0 777.6h0M376.3 761.5h0M376.4 781.0h0M376.4 789.6h0M376.5 781.4h0M376.7 751.1h0M376.9 752.0h0M376.9 781.8h0M377.0 786.7h0" stroke="#f6ded2" stroke-width="3.1" stroke-linecap="round"/><path d="M368.9 765.6h0M368.3 760.8h0M368.3 786.6h0M367.9 787.4h0M367.5 779.8h0M366.9 785.9h0M366.9 737.4h0M366.9 783.3h0M366.8 786.0h0M366.6 733.5h0" stroke="#ded8f0" stroke-width="3.1" stroke-linecap="round"/><path d="M377.2 786.5h0M377.3 785.0h0M377.4 766.1h0M377.7 737.5h0" stroke="#f6d8d2" stroke-width="3.1" stroke-linecap="round"/><path d="M377.7 783.9h0M377.7 778.7h0M377.9 788.0h0M378.0 782.9h0M378.1 781.0h0M378.2 787.8h0M378.3 761.1h0" stroke="#f6d8cc" stroke-width="3.1" stroke-linecap="round"/><path d="M366.5 754.2h0M366.3 786.3h0" stroke="#ded2f0" stroke-width="3.1" stroke-linecap="round"/><path d="M366.3 774.4h0M366.2 731.8h0M366.0 750.9h0M366.0 776.3h0M365.9 782.7h0M365.5 761.1h0M365.5 752.8h0M365.5 742.3h0M365.4 771.6h0M365.4 781.0h0M365.3 783.4h0M365.3 777.2h0M365.2 771.1h0M365.1 771.0h0" stroke="#d8d2f0" stroke-width="3.1" stroke-linecap="round"/><path d="M378.5 762.4h0M378.5 773.6h0" stroke="#f6d2cc" stroke-width="3.1" stroke-linecap="round"/><path d="M378.7 771.8h0M378.8 790.1h0M378.9 788.7h0M378.9 782.6h0M379.0 750.7h0M379.1 776.4h0M379.1 785.5h0M379.1 779.3h0M379.2 738.5h0M379.3 740.7h0M379.4 781.4h0M379.4 758.9h0M379.4 764.6h0M379.5 773.4h0M379.5 776.9h0M379.5 719.4h0" stroke="#f0d2c6" stroke-width="3.1" stroke-linecap="round"/><path d="M365.1 743.2h0M365.0 750.2h0M364.8 790.3h0M364.8 769.2h0M364.7 780.2h0M364.6 759.4h0" stroke="#d8ccf0" stroke-width="3.1" stroke-linecap="round"/><path d="M379.6 784.3h0M379.6 771.7h0M379.7 749.4h0" stroke="#f0ccc6" stroke-width="3.1" stroke-linecap="round"/><path d="M379.8 781.3h0M379.9 782.8h0M379.9 739.0h0M380.0 757.5h0M380.0 762.4h0M380.1 786.7h0M380.1 775.7h0M380.2 763.3h0M380.3 776.5h0M380.3 776.0h0M380.4 777.3h0M380.4 762.0h0M380.4 783.3h0M380.5 724.4h0M380.5 737.7h0M380.5 784.9h0M380.6 723.0h0M380.7 788.4h0M380.7 719.3h0M380.7 756.1h0" stroke="#f0ccc0" stroke-width="3.1" stroke-linecap="round"/><path d="M364.5 783.4h0" stroke="#d8ccea" stroke-width="3.1" stroke-linecap="round"/><path d="M364.3 789.2h0M364.3 764.6h0M364.2 737.7h0M364.2 786.0h0M364.2 731.1h0M364.2 774.5h0M364.2 752.2h0M364.1 780.8h0M364.1 756.8h0M364.1 789.3h0M363.9 790.2h0M363.9 788.8h0M363.8 770.9h0M363.7 752.5h0M363.7 752.2h0M363.7 780.5h0" stroke="#d2ccea" stroke-width="3.1" stroke-linecap="round"/><path d="M380.8 761.7h0M380.8 785.5h0M381.0 761.2h0M381.1 785.6h0M381.3 743.4h0M381.4 785.5h0M381.4 762.7h0M381.4 789.8h0M381.5 750.1h0M381.6 755.6h0M381.6 739.4h0M381.6 785.1h0M381.7 769.8h0M381.7 769.7h0" stroke="#f0c6ba" stroke-width="3.1" stroke-linecap="round"/><path d="M363.6 756.2h0M363.5 710.0h0M363.5 787.7h0M363.4 734.6h0M363.2 743.8h0M363.0 764.6h0M363.0 724.9h0M363.0 778.0h0M362.9 772.7h0M362.9 772.1h0M362.8 740.2h0M362.8 774.4h0M362.8 789.0h0" stroke="#d2c6ea" stroke-width="3.1" stroke-linecap="round"/><path d="M381.8 772.7h0M381.8 781.4h0M381.9 770.3h0M381.9 783.2h0M381.9 785.8h0M381.9 719.7h0M382.0 786.1h0M382.0 763.6h0M382.0 775.9h0" stroke="#f0c6b4" stroke-width="3.1" stroke-linecap="round"/><path d="M362.7 734.9h0M362.7 751.6h0M362.6 752.2h0M362.6 751.1h0M362.6 778.3h0M362.6 768.5h0M362.5 790.2h0M362.4 783.0h0M362.4 714.8h0M362.4 786.1h0M362.4 756.7h0M362.3 784.5h0M362.3 781.4h0M362.3 785.3h0M362.2 754.8h0M362.2 789.5h0M362.2 772.6h0M362.2 777.3h0M362.1 774.7h0" stroke="#ccc6ea" stroke-width="3.1" stroke-linecap="round"/><path d="M382.1 747.0h0M382.1 716.1h0M382.2 784.4h0M382.2 739.3h0M382.4 757.7h0M382.4 746.5h0M382.4 784.7h0M382.4 744.5h0" stroke="#f0c0b4" stroke-width="3.1" stroke-linecap="round"/><path d="M362.0 756.4h0M361.9 741.7h0M361.9 674.1h0M361.9 770.3h0M361.8 786.9h0M361.8 741.4h0M361.8 764.6h0M361.8 757.5h0M361.7 761.1h0M361.7 738.1h0M361.7 784.9h0M361.7 749.1h0M361.7 762.9h0M361.7 790.0h0M361.5 747.9h0M361.5 785.2h0M361.4 760.3h0M361.3 716.3h0M361.3 787.8h0M361.3 749.0h0M361.3 772.7h0M361.2 749.6h0M361.2 722.5h0M361.2 782.4h0M361.1 759.7h0M361.0 767.7h0M361.0 712.8h0M361.0 789.3h0M360.9 764.5h0M360.9 785.8h0" stroke="#ccc0ea" stroke-width="3.1" stroke-linecap="round"/><path d="M382.7 788.5h0" stroke="#eac0b4" stroke-width="3.1" stroke-linecap="round"/><path d="M382.8 787.7h0M382.9 759.6h0M382.9 715.6h0M382.9 787.8h0M382.9 784.9h0M382.9 782.1h0M383.0 771.5h0M383.1 783.9h0M383.1 771.3h0M383.2 750.7h0M383.3 736.9h0" stroke="#eac0ae" stroke-width="3.1" stroke-linecap="round"/><path d="M383.3 713.3h0M383.3 778.9h0M383.3 697.8h0M383.3 787.4h0M383.5 787.3h0M383.5 742.0h0M383.5 763.6h0M383.5 770.4h0M383.6 753.9h0M383.6 788.6h0M383.6 744.7h0M383.6 737.4h0" stroke="#eabaae" stroke-width="3.1" stroke-linecap="round"/><path d="M360.9 759.3h0M360.8 777.5h0M360.8 781.5h0M360.8 775.7h0M360.7 782.6h0" stroke="#c6c0ea" stroke-width="3.1" stroke-linecap="round"/><path d="M383.8 739.4h0M383.9 754.2h0M383.9 740.7h0M383.9 764.5h0M383.9 789.9h0M383.9 788.0h0M383.9 788.4h0M384.0 775.1h0M384.0 765.2h0M384.0 745.9h0M384.1 753.7h0M384.1 780.9h0M384.2 759.2h0M384.2 741.6h0M384.2 748.3h0M384.3 783.0h0M384.3 789.0h0M384.3 763.1h0M384.3 776.6h0M384.3 789.5h0M384.4 760.9h0M384.4 734.4h0M384.4 695.2h0M384.5 759.4h0M384.5 768.5h0" stroke="#eabaa8" stroke-width="3.1" stroke-linecap="round"/><path d="M360.6 781.6h0" stroke="#c6baea" stroke-width="3.1" stroke-linecap="round"/><path d="M360.6 778.6h0M360.5 767.1h0M360.5 739.5h0M360.4 775.7h0M360.4 788.6h0M360.4 768.1h0M360.4 771.9h0M360.3 779.6h0M360.3 788.0h0M360.3 784.1h0M360.3 785.1h0M360.2 789.3h0M360.2 783.6h0M360.2 789.9h0M360.1 750.1h0M360.1 772.9h0M360.1 762.8h0M360.0 722.5h0M359.9 773.6h0M359.9 748.9h0M359.9 707.5h0M359.8 777.4h0M359.7 744.0h0M359.7 781.3h0M359.6 733.9h0M359.6 776.1h0M359.6 769.4h0M359.5 739.8h0M359.5 754.5h0M359.5 759.5h0M359.5 781.2h0M359.3 781.2h0M359.2 759.2h0M359.2 775.8h0" stroke="#c6bae4" stroke-width="3.1" stroke-linecap="round"/><path d="M384.6 749.4h0M384.6 771.8h0M384.6 747.8h0M384.7 787.9h0M384.7 764.2h0M384.8 778.9h0M384.8 740.8h0M384.8 741.4h0M384.8 782.5h0" stroke="#eab4a8" stroke-width="3.1" stroke-linecap="round"/><path d="M384.8 777.9h0M384.8 785.1h0M384.9 778.0h0M385.0 766.5h0M385.0 775.0h0M385.0 759.3h0M385.1 741.7h0M385.1 721.4h0M385.1 770.2h0M385.2 777.8h0M385.2 767.0h0M385.3 763.6h0M385.3 784.9h0M385.3 766.2h0M385.3 729.8h0M385.3 752.0h0M385.3 775.6h0M385.4 730.6h0M385.4 772.0h0M385.5 768.8h0M385.5 763.3h0M385.6 723.7h0M385.6 788.8h0M385.7 772.1h0M385.7 771.5h0M385.7 748.9h0M385.7 734.0h0M385.7 774.9h0M385.7 756.5h0M385.7 720.0h0M385.8 785.9h0" stroke="#eab4a2" stroke-width="3.1" stroke-linecap="round"/><path d="M359.2 757.0h0M359.1 789.2h0M359.1 790.4h0M359.1 773.5h0" stroke="#c6b4e4" stroke-width="3.1" stroke-linecap="round"/><path d="M359.1 752.1h0M359.1 747.3h0M359.0 744.3h0M358.7 790.0h0M358.7 760.9h0M358.7 752.7h0M358.7 718.1h0M358.7 781.4h0M358.7 747.2h0M358.6 783.3h0M358.6 785.6h0M358.5 747.0h0M358.5 762.8h0M358.5 789.8h0M358.5 777.3h0M358.4 756.2h0M358.4 790.3h0M358.4 776.8h0M358.4 790.3h0M358.3 785.7h0M358.3 750.7h0M358.3 713.2h0M358.3 778.9h0M358.2 767.3h0M358.2 783.9h0M358.2 789.9h0M358.1 780.5h0M358.1 783.8h0M358.1 781.8h0M358.1 718.4h0M358.0 777.3h0M358.0 767.5h0M357.9 784.9h0M357.9 754.6h0M357.9 760.7h0M357.8 784.1h0M357.8 787.0h0M357.8 768.8h0M357.8 755.2h0" stroke="#c0b4e4" stroke-width="3.1" stroke-linecap="round"/><path d="M385.8 764.8h0M385.9 774.0h0M385.9 778.6h0M386.0 750.8h0M386.1 775.9h0M386.1 762.6h0M386.1 759.9h0M386.2 752.4h0M386.2 787.8h0M386.3 747.8h0M386.3 763.7h0M386.3 757.2h0M386.3 789.0h0M386.4 738.8h0M386.4 734.0h0M386.5 760.4h0M386.5 756.0h0M386.6 745.6h0M386.6 759.2h0M386.6 751.8h0M386.6 747.7h0M386.7 777.6h0M386.7 772.4h0M386.7 789.9h0" stroke="#eaae9c" stroke-width="3.1" stroke-linecap="round"/><path d="M386.8 723.9h0M386.8 729.8h0" stroke="#e4ae9c" stroke-width="3.1" stroke-linecap="round"/><path d="M386.9 672.9h0M386.9 754.7h0M386.9 737.2h0M386.9 754.7h0M386.9 760.5h0M386.9 753.5h0M386.9 748.4h0M386.9 745.2h0M387.0 785.2h0M387.0 759.9h0" stroke="#e4ae96" stroke-width="3.1" stroke-linecap="round"/><path d="M357.6 759.4h0M357.6 777.9h0M357.5 782.0h0M357.5 786.4h0M357.5 769.7h0M357.5 771.5h0M357.4 785.1h0M357.4 767.1h0" stroke="#c0aee4" stroke-width="3.1" stroke-linecap="round"/><path d="M387.1 734.6h0M387.1 788.1h0M387.1 768.0h0M387.2 764.0h0M387.2 787.8h0M387.2 783.1h0M387.3 750.2h0M387.3 787.6h0M387.4 787.7h0M387.4 758.3h0M387.4 789.0h0M387.5 776.7h0M387.5 771.8h0M387.5 740.5h0M387.5 773.2h0M387.6 764.0h0M387.6 747.2h0M387.6 786.2h0M387.7 780.2h0M387.8 736.0h0M387.8 760.2h0" stroke="#e4a896" stroke-width="3.1" stroke-linecap="round"/><path d="M357.3 759.1h0M357.3 787.1h0M357.2 779.1h0M357.2 789.7h0M357.2 785.1h0M357.2 782.5h0M357.2 789.3h0M357.1 762.5h0M357.1 755.0h0M357.1 751.1h0M357.1 770.6h0M357.1 769.1h0M357.1 755.9h0M357.0 771.3h0M357.0 780.9h0M357.0 755.5h0M357.0 764.1h0M356.9 788.8h0M356.9 780.5h0M356.9 752.5h0M356.8 786.2h0M356.6 789.8h0" stroke="#baaee4" stroke-width="3.1" stroke-linecap="round"/><path d="M387.9 752.8h0M387.9 774.2h0M387.9 790.1h0M387.9 773.6h0M388.0 771.7h0M388.0 783.8h0M388.0 763.3h0M388.1 731.6h0M388.1 777.3h0M388.1 755.9h0M388.2 760.1h0M388.2 759.9h0M388.2 771.9h0M388.2 789.3h0M388.2 774.1h0M388.2 748.5h0M388.3 783.4h0M388.3 715.6h0M388.3 750.5h0M388.3 767.7h0M388.4 735.1h0M388.4 731.2h0" stroke="#e4a890" stroke-width="3.1" stroke-linecap="round"/><path d="M356.6 779.4h0M356.6 788.9h0M356.5 768.5h0M356.5 758.8h0M356.5 746.8h0M356.5 747.8h0M356.5 762.7h0M356.5 716.4h0M356.5 716.1h0M356.5 755.2h0M356.4 760.8h0M356.4 737.9h0" stroke="#baaede" stroke-width="3.1" stroke-linecap="round"/><path d="M356.3 777.8h0M356.3 785.9h0M356.3 789.6h0M356.2 776.1h0M356.2 783.7h0M356.2 745.8h0M356.2 759.8h0M356.2 739.7h0M356.1 731.0h0M356.1 779.7h0M356.1 741.1h0M356.1 789.8h0M356.1 785.1h0M356.1 783.3h0M356.1 741.8h0M356.0 760.3h0M356.0 784.5h0M356.0 785.5h0M356.0 742.4h0M355.9 789.0h0M355.9 757.6h0M355.9 764.7h0M355.8 773.4h0M355.8 777.6h0M355.8 767.5h0M355.7 780.6h0" stroke="#baa8de" stroke-width="3.1" stroke-linecap="round"/><path d="M388.4 739.3h0M388.4 781.4h0M388.4 772.7h0M388.5 737.2h0M388.5 786.4h0M388.5 749.4h0M388.6 716.6h0M388.6 784.9h0M388.7 763.9h0M388.7 782.1h0M388.7 766.4h0M388.7 743.7h0M388.7 786.6h0M388.7 750.6h0M388.7 770.3h0M388.8 783.3h0M388.8 788.0h0M388.8 777.7h0M388.9 784.6h0M388.9 759.8h0M388.9 779.3h0M389.0 745.7h0M389.0 753.9h0M389.0 775.7h0M389.1 742.6h0M389.1 780.1h0M389.1 787.1h0M389.1 755.0h0M389.1 756.9h0M389.1 769.7h0M389.1 787.6h0M389.2 772.8h0M389.2 745.0h0M389.2 773.7h0M389.2 744.2h0M389.2 757.3h0M389.2 735.3h0M389.2 781.5h0" stroke="#e4a290" stroke-width="3.1" stroke-linecap="round"/><path d="M355.7 772.8h0M355.6 720.0h0M355.6 745.7h0M355.6 790.4h0M355.6 788.9h0M355.5 756.6h0M355.5 784.2h0M355.5 745.7h0M355.4 721.7h0M355.4 790.1h0M355.4 758.1h0M355.4 769.7h0M355.3 779.1h0M355.3 778.1h0M355.2 789.5h0M355.2 787.6h0M355.2 761.1h0" stroke="#b4a8de" stroke-width="3.1" stroke-linecap="round"/><path d="M389.4 729.3h0M389.4 736.4h0M389.4 780.1h0M389.4 790.1h0M389.4 765.2h0M389.5 775.3h0M389.5 775.2h0M389.5 785.7h0M389.5 787.5h0M389.5 756.7h0M389.6 773.7h0M389.6 771.2h0M389.6 751.6h0M389.6 725.4h0M389.6 735.3h0M389.6 775.3h0M389.6 774.5h0M389.6 775.5h0M389.7 790.4h0M389.7 775.2h0M389.7 761.0h0M389.7 760.0h0M389.8 767.4h0M389.8 760.6h0M389.8 768.6h0M389.8 789.0h0M389.8 751.8h0M389.8 781.6h0M389.9 786.1h0M389.9 750.7h0" stroke="#e4a28a" stroke-width="3.1" stroke-linecap="round"/><path d="M355.1 759.2h0M355.1 780.0h0M355.0 757.0h0M355.0 789.4h0M354.9 784.3h0M354.9 747.1h0M354.9 733.2h0M354.9 761.0h0M354.8 755.0h0M354.7 757.0h0M354.7 785.4h0M354.6 787.8h0M354.6 782.4h0M354.5 776.8h0M354.5 788.7h0M354.4 777.6h0M354.4 754.1h0M354.4 753.4h0M354.3 727.5h0M354.3 745.5h0M354.3 778.3h0M354.3 785.5h0M354.2 786.5h0M354.2 743.6h0M354.2 769.8h0M354.2 784.9h0" stroke="#b4a2de" stroke-width="3.1" stroke-linecap="round"/><path d="M389.9 785.5h0M390.0 790.0h0M390.0 789.0h0M390.0 779.2h0M390.1 764.5h0M390.2 780.1h0M390.2 779.8h0M390.2 788.8h0M390.3 755.9h0M390.3 782.1h0M390.3 777.6h0M390.3 781.7h0M390.3 734.9h0" stroke="#e49c8a" stroke-width="3.1" stroke-linecap="round"/><path d="M390.3 785.9h0M390.4 787.3h0M390.4 735.2h0M390.6 727.8h0M390.6 763.5h0M390.6 731.6h0M390.6 762.6h0M390.6 726.4h0M390.7 761.8h0" stroke="#de9c8a" stroke-width="3.1" stroke-linecap="round"/><path d="M354.1 789.9h0M354.1 737.4h0M354.1 778.6h0M354.1 742.1h0M354.1 788.9h0M354.0 750.8h0M354.0 752.4h0M354.0 740.0h0M354.0 776.0h0M354.0 784.0h0M354.0 776.9h0M353.9 778.8h0" stroke="#aea2de" stroke-width="3.1" stroke-linecap="round"/><path d="M353.9 759.3h0M353.9 787.6h0M353.9 778.8h0M353.9 779.1h0M353.8 755.9h0M353.8 729.7h0M353.8 762.3h0M353.8 775.6h0M353.8 768.5h0M353.7 764.5h0M353.7 775.1h0M353.7 790.2h0M353.7 781.9h0M353.7 789.2h0M353.7 776.3h0M353.6 735.0h0M353.6 730.0h0M353.6 755.0h0M353.6 777.0h0M353.5 786.1h0M353.5 780.8h0M353.5 790.2h0M353.5 741.5h0M353.5 783.7h0M353.4 787.2h0M353.4 769.4h0M353.4 786.4h0M353.4 768.6h0M353.4 785.5h0M353.4 749.8h0M353.3 770.8h0M353.3 760.0h0M353.3 764.7h0" stroke="#ae9cde" stroke-width="3.1" stroke-linecap="round"/><path d="M390.8 724.9h0M390.8 731.9h0M390.9 755.5h0M390.9 785.0h0M390.9 762.7h0M390.9 771.0h0M391.0 763.1h0M391.0 773.6h0M391.1 707.3h0M391.1 730.2h0M391.1 788.2h0M391.1 731.9h0M391.2 766.9h0M391.2 763.8h0M391.3 780.2h0M391.4 764.6h0M391.4 788.2h0M391.4 779.9h0M391.4 747.5h0M391.4 771.8h0M391.4 783.1h0M391.5 778.7h0M391.5 750.9h0M391.5 757.7h0" stroke="#de9c84" stroke-width="3.1" stroke-linecap="round"/><path d="M353.2 779.7h0M353.2 769.2h0M353.2 747.3h0M353.2 784.1h0M353.1 759.0h0M353.1 744.0h0M353.1 750.8h0M353.1 768.6h0M353.1 741.5h0M353.1 786.7h0M353.1 785.3h0M353.1 789.6h0M353.0 772.3h0M353.0 755.4h0M353.0 768.0h0M353.0 758.4h0M353.0 753.2h0M352.9 756.5h0M352.9 774.4h0M352.9 788.8h0M352.9 723.4h0M352.9 771.3h0M352.9 787.4h0M352.8 771.5h0M352.8 740.1h0M352.8 751.2h0M352.8 785.5h0M352.8 760.2h0M352.7 749.4h0" stroke="#ae9cd8" stroke-width="3.1" stroke-linecap="round"/><path d="M391.5 786.0h0M391.5 755.8h0M391.6 776.5h0M391.6 782.6h0M391.6 768.6h0M391.7 778.3h0M391.7 786.6h0M391.7 759.1h0M391.7 740.7h0M391.7 767.2h0M391.7 745.0h0M391.7 786.8h0M391.7 782.5h0M391.8 739.6h0M391.8 745.8h0M391.9 754.3h0M391.9 782.8h0M391.9 762.0h0M391.9 772.7h0M392.0 756.4h0M392.0 784.9h0M392.0 783.8h0M392.1 754.3h0M392.1 787.3h0" stroke="#de9684" stroke-width="3.1" stroke-linecap="round"/><path d="M352.6 756.7h0M352.6 783.5h0" stroke="#ae96d8" stroke-width="3.1" stroke-linecap="round"/><path d="M352.6 714.9h0M352.6 766.5h0M352.5 775.5h0M352.5 764.2h0M352.5 790.2h0M352.5 763.8h0M352.5 762.2h0M352.5 782.6h0M352.5 747.8h0M352.5 749.9h0M352.4 772.7h0M352.4 787.8h0M352.4 729.2h0M352.4 768.0h0M352.4 764.4h0M352.2 779.5h0M352.2 756.0h0M352.2 742.3h0M352.1 733.7h0M352.1 785.2h0M352.1 787.4h0M352.1 788.4h0M352.1 783.2h0M352.1 780.7h0M352.0 775.8h0M352.0 775.5h0M352.0 748.6h0M352.0 762.1h0M352.0 781.7h0M351.9 724.9h0M351.9 758.7h0M351.9 770.0h0M351.8 741.1h0M351.8 789.9h0M351.8 758.8h0M351.8 754.6h0M351.8 789.7h0M351.7 766.2h0M351.7 748.9h0M351.6 736.2h0M351.6 783.4h0M351.6 780.9h0M351.6 784.8h0M351.6 766.7h0M351.5 790.1h0M351.5 755.2h0" stroke="#a896d8" stroke-width="3.1" stroke-linecap="round"/><path d="M392.2 782.9h0M392.2 770.4h0M392.2 765.0h0M392.2 776.9h0M392.2 785.3h0M392.2 784.3h0M392.3 733.1h0M392.3 753.3h0M392.3 788.7h0M392.3 763.5h0M392.3 789.0h0M392.3 783.3h0M392.3 750.5h0M392.3 780.1h0M392.3 781.9h0M392.4 753.7h0M392.4 771.4h0M392.4 782.3h0M392.5 774.9h0M392.5 762.6h0M392.5 770.6h0M392.6 756.2h0M392.6 725.9h0M392.6 728.5h0M392.6 765.5h0M392.6 788.7h0M392.6 788.6h0M392.6 759.8h0M392.6 766.8h0M392.6 759.8h0M392.6 781.9h0M392.6 737.6h0M392.7 762.2h0M392.7 755.5h0M392.7 770.0h0M392.8 759.5h0M392.8 775.1h0M392.8 750.5h0M392.8 761.7h0M392.8 743.5h0M392.8 778.1h0M392.8 781.7h0M392.8 766.8h0M392.9 787.6h0" stroke="#de967e" stroke-width="3.1" stroke-linecap="round"/><path d="M393.1 789.3h0M393.1 779.9h0M393.1 779.5h0M393.1 753.2h0M393.2 787.2h0M393.2 769.0h0M393.2 782.4h0M393.2 789.8h0M393.2 771.0h0M393.2 771.5h0M393.2 775.2h0M393.2 789.1h0M393.3 787.8h0M393.3 761.4h0M393.3 777.5h0M393.4 725.1h0M393.4 771.8h0M393.4 746.1h0M393.4 785.8h0" stroke="#de907e" stroke-width="3.1" stroke-linecap="round"/><path d="M351.4 763.5h0M351.4 762.9h0M351.4 743.3h0M351.4 790.3h0M351.4 785.4h0M351.4 770.7h0M351.3 786.7h0M351.2 779.3h0M351.2 755.0h0M351.2 770.4h0M351.2 780.0h0M351.1 777.2h0M351.1 755.7h0" stroke="#a890d8" stroke-width="3.1" stroke-linecap="round"/><path d="M351.0 774.9h0M351.0 788.4h0M351.0 764.1h0M351.0 766.8h0M350.9 743.6h0M350.9 781.1h0M350.9 773.2h0M350.9 782.4h0M350.9 773.5h0M350.8 776.3h0M350.7 759.1h0M350.7 761.1h0M350.6 763.1h0M350.6 776.9h0M350.5 779.6h0M350.5 726.1h0M350.5 789.3h0M350.5 778.2h0M350.4 778.5h0M350.3 759.4h0M350.3 725.0h0M350.3 761.7h0M350.3 775.6h0M350.3 754.3h0M350.3 755.9h0M350.3 749.2h0M350.3 775.8h0" stroke="#a290d8" stroke-width="3.1" stroke-linecap="round"/><path d="M393.6 748.8h0M393.7 783.8h0M393.7 742.7h0M393.7 772.9h0M393.7 751.3h0" stroke="#de9078" stroke-width="3.1" stroke-linecap="round"/><path d="M393.8 726.9h0M393.8 775.2h0M393.8 778.6h0M393.8 740.0h0M393.9 782.3h0M393.9 772.5h0M394.0 738.5h0M394.0 790.1h0M394.0 759.0h0M394.2 771.8h0M394.2 783.5h0M394.2 771.5h0M394.4 780.4h0M394.4 761.9h0M394.5 761.5h0M394.5 768.5h0M394.5 768.3h0M394.5 755.3h0M394.5 788.3h0M394.6 750.2h0M394.6 772.2h0" stroke="#d89078" stroke-width="3.1" stroke-linecap="round"/><path d="M350.2 789.2h0M350.2 780.5h0M350.1 789.0h0M350.1 783.1h0M350.1 756.0h0M350.0 786.5h0M350.0 762.7h0M350.0 756.1h0M350.0 737.5h0M350.0 786.6h0" stroke="#a28ad8" stroke-width="3.1" stroke-linecap="round"/><path d="M394.6 761.8h0M394.6 778.3h0M394.6 762.8h0M394.7 779.2h0M394.7 739.9h0M394.8 740.9h0M394.8 744.4h0M394.8 746.8h0M394.9 787.8h0M394.9 788.5h0M394.9 759.0h0M394.9 761.7h0M395.0 789.6h0" stroke="#d88a78" stroke-width="3.1" stroke-linecap="round"/><path d="M350.0 684.7h0M349.9 742.5h0M349.9 776.3h0M349.8 786.3h0M349.8 774.1h0M349.8 778.7h0M349.8 676.9h0M349.8 776.1h0M349.8 732.2h0M349.7 780.8h0M349.7 777.3h0M349.7 763.7h0M349.7 775.8h0M349.6 742.5h0M349.6 769.4h0M349.6 773.4h0M349.5 788.1h0" stroke="#a28ad2" stroke-width="3.1" stroke-linecap="round"/><path d="M395.1 754.5h0M395.2 786.6h0M395.2 761.5h0M395.2 738.4h0M395.3 728.7h0M395.3 723.9h0M395.3 789.7h0M395.3 768.1h0M395.3 790.4h0M395.3 726.0h0M395.3 780.7h0M395.4 782.9h0M395.4 770.2h0M395.4 786.3h0M395.4 770.3h0M395.5 780.8h0M395.5 779.9h0M395.5 777.7h0M395.5 767.1h0M395.6 774.5h0M395.6 757.3h0M395.6 788.4h0M395.6 783.3h0M395.6 786.7h0M395.6 773.7h0M395.6 743.9h0M395.6 750.8h0M395.7 770.2h0M395.8 750.4h0M395.8 755.2h0M395.8 742.1h0M395.9 769.2h0M395.9 781.7h0M396.0 684.6h0M396.0 759.2h0M396.0 757.6h0M396.1 773.5h0M396.1 783.8h0M396.1 788.2h0" stroke="#d88a72" stroke-width="3.1" stroke-linecap="round"/><path d="M349.5 762.6h0M349.4 764.9h0M349.4 755.8h0M349.4 770.2h0M349.4 777.8h0M349.4 789.9h0M349.1 765.3h0M349.1 770.0h0M349.1 781.4h0" stroke="#9c8ad2" stroke-width="3.1" stroke-linecap="round"/><path d="M349.0 763.4h0M349.0 787.7h0M349.0 789.4h0M349.0 765.8h0M349.0 747.9h0M349.0 786.1h0M348.9 789.5h0M348.8 741.1h0M348.8 753.5h0M348.8 763.7h0M348.8 769.6h0M348.7 778.6h0M348.7 773.5h0M348.6 776.9h0M348.6 790.4h0M348.6 766.8h0M348.4 762.1h0M348.4 788.9h0M348.4 745.5h0M348.3 739.0h0M348.3 754.1h0M348.3 763.4h0M348.3 779.9h0M348.2 784.6h0M348.2 783.8h0M348.2 753.8h0M348.1 786.2h0M348.1 785.8h0M348.1 782.9h0M348.1 788.1h0M348.0 766.4h0M348.0 772.7h0M348.0 747.5h0" stroke="#9c84d2" stroke-width="3.1" stroke-linecap="round"/><path d="M396.1 744.0h0M396.3 776.9h0M396.3 780.1h0M396.3 787.9h0M396.4 746.5h0M396.4 776.4h0" stroke="#d88472" stroke-width="3.1" stroke-linecap="round"/><path d="M396.4 760.1h0M396.5 758.1h0M396.5 788.2h0M396.5 779.2h0M396.5 781.7h0M396.5 773.0h0M396.6 757.9h0M396.6 765.9h0M396.7 762.3h0M396.8 787.0h0M396.8 778.7h0M396.8 700.3h0M396.9 778.9h0M396.9 756.0h0M396.9 772.2h0M396.9 775.7h0M396.9 787.5h0M397.0 748.2h0M397.0 769.9h0M397.1 771.8h0M397.1 728.7h0M397.1 788.3h0" stroke="#d8846c" stroke-width="3.1" stroke-linecap="round"/><path d="M347.9 784.0h0M347.9 764.3h0M347.9 784.0h0M347.8 764.3h0" stroke="#9684d2" stroke-width="3.1" stroke-linecap="round"/><path d="M347.8 786.4h0M347.8 747.1h0M347.8 787.4h0M347.8 758.5h0M347.8 778.4h0M347.8 782.5h0M347.7 762.3h0M347.7 730.8h0M347.7 715.9h0M347.6 784.7h0M347.5 768.6h0M347.4 784.5h0M347.4 676.3h0M347.3 753.8h0M347.3 790.4h0M347.3 761.2h0M347.3 789.2h0M347.2 764.8h0M347.2 771.1h0M347.2 768.4h0M347.2 789.9h0M347.0 758.7h0M347.0 755.4h0M346.9 785.9h0M346.9 714.7h0M346.9 740.8h0M346.9 785.0h0M346.8 769.2h0M346.8 764.9h0M346.8 766.4h0M346.8 777.2h0" stroke="#967ed2" stroke-width="3.1" stroke-linecap="round"/><path d="M397.2 770.4h0M397.3 755.7h0M397.3 777.6h0M397.3 772.2h0M397.3 790.4h0M397.3 778.7h0M397.4 781.1h0M397.5 782.5h0M397.5 784.3h0M397.5 753.3h0M397.6 780.4h0M397.6 784.4h0M397.6 751.1h0M397.6 788.2h0M397.6 787.3h0" stroke="#d2846c" stroke-width="3.1" stroke-linecap="round"/><path d="M397.7 760.0h0M397.7 738.6h0M397.8 771.4h0M397.8 766.7h0M397.8 767.0h0M397.8 734.7h0" stroke="#d27e6c" stroke-width="3.1" stroke-linecap="round"/><path d="M397.9 790.2h0M397.9 781.7h0M397.9 779.5h0M397.9 784.7h0M397.9 762.4h0M398.0 779.8h0M398.0 784.6h0M398.0 777.1h0M398.1 757.8h0M398.1 752.4h0M398.1 757.9h0M398.1 744.9h0M398.1 764.6h0M398.2 782.5h0M398.2 778.8h0M398.2 750.3h0M398.2 789.2h0M398.2 743.8h0M398.2 778.0h0M398.3 755.3h0M398.4 781.5h0M398.4 767.4h0M398.4 741.9h0M398.4 731.7h0M398.5 779.6h0M398.5 789.8h0M398.5 773.1h0M398.5 770.4h0M398.5 786.4h0M398.6 782.2h0M398.6 761.2h0M398.6 773.4h0M398.6 770.2h0M398.6 772.5h0M398.7 751.8h0M398.7 764.4h0M398.7 782.0h0M398.8 786.6h0M398.8 775.4h0M398.8 785.4h0M398.8 773.2h0M398.9 788.5h0M399.0 766.7h0M399.0 780.6h0M399.0 769.3h0M399.0 782.3h0M399.1 759.8h0M399.1 752.4h0M399.1 752.5h0M399.1 785.2h0M399.1 777.0h0M399.2 779.9h0" stroke="#d27e66" stroke-width="3.1" stroke-linecap="round"/><path d="M346.5 776.8h0M346.5 761.3h0" stroke="#9678cc" stroke-width="3.1" stroke-linecap="round"/><path d="M346.3 765.9h0M346.3 758.4h0M346.3 773.0h0M346.2 768.6h0M346.2 789.8h0M346.2 775.6h0M346.2 788.3h0M346.1 765.8h0M346.1 767.9h0M346.1 767.2h0M346.1 733.3h0M346.0 750.2h0M346.0 781.5h0M346.0 786.8h0M346.0 775.0h0M345.9 757.7h0M345.9 765.1h0M345.9 772.8h0M345.9 769.6h0M345.8 751.9h0M345.8 763.6h0M345.8 769.6h0M345.8 742.2h0M345.7 785.0h0M345.7 789.2h0M345.6 741.1h0M345.6 758.5h0M345.6 783.2h0M345.6 783.2h0M345.6 756.9h0M345.5 774.8h0M345.4 762.9h0M345.4 759.5h0" stroke="#9078cc" stroke-width="3.1" stroke-linecap="round"/><path d="M399.2 765.0h0" stroke="#d27866" stroke-width="3.1" stroke-linecap="round"/><path d="M345.3 760.2h0M345.3 758.2h0M345.3 741.2h0M345.3 789.8h0M345.3 758.7h0M345.2 765.9h0M345.2 787.0h0M345.1 781.9h0M345.1 786.6h0M345.1 749.6h0M345.0 789.3h0M345.0 784.2h0M345.0 768.6h0M344.9 765.8h0M344.9 762.0h0" stroke="#9072cc" stroke-width="3.1" stroke-linecap="round"/><path d="M399.4 787.7h0M399.4 782.5h0M399.5 777.7h0M399.5 785.2h0M399.6 786.8h0M399.6 787.6h0M399.6 766.8h0M399.6 775.8h0M399.6 775.5h0M399.7 788.2h0M399.7 790.4h0M399.7 788.4h0M399.8 770.8h0M399.8 789.1h0M399.9 761.3h0M399.9 778.0h0M399.9 770.3h0M400.0 783.3h0M400.0 755.6h0M400.0 772.2h0M400.0 765.7h0M400.1 778.9h0M400.1 776.0h0M400.1 765.2h0M400.2 780.3h0M400.3 790.3h0M400.3 752.5h0M400.3 777.2h0M400.3 779.6h0M400.3 760.9h0M400.3 783.2h0M400.4 769.1h0M400.4 787.4h0M400.5 750.9h0M400.6 773.2h0M400.6 741.7h0" stroke="#d27860" stroke-width="3.1" stroke-linecap="round"/><path d="M344.8 768.1h0M344.8 745.8h0M344.8 783.9h0M344.8 768.3h0M344.8 764.8h0M344.8 782.0h0M344.7 762.1h0M344.7 781.0h0M344.6 676.9h0M344.6 766.6h0M344.6 776.9h0M344.6 779.1h0M344.6 745.4h0M344.5 787.3h0M344.5 780.0h0M344.5 779.1h0M344.5 785.4h0M344.5 760.3h0M344.4 787.4h0M344.4 776.4h0M344.4 789.8h0M344.4 778.0h0M344.3 777.6h0M344.3 753.8h0M344.2 779.6h0M344.2 787.8h0M344.2 751.5h0" stroke="#8a72cc" stroke-width="3.1" stroke-linecap="round"/><path d="M344.1 747.3h0M344.1 781.3h0M344.1 784.8h0M344.1 749.9h0M344.0 778.0h0M344.0 759.7h0M344.0 760.8h0M343.9 763.7h0M343.9 781.3h0M343.9 763.9h0M343.9 747.5h0M343.8 750.0h0M343.7 776.6h0M343.7 769.1h0M343.6 769.5h0M343.5 752.4h0M343.4 773.3h0M343.4 788.1h0M343.4 777.5h0" stroke="#8a6ccc" stroke-width="3.1" stroke-linecap="round"/><path d="M400.6 790.2h0M400.7 756.0h0" stroke="#cc7860" stroke-width="3.1" stroke-linecap="round"/><path d="M400.7 785.3h0" stroke="#cc785a" stroke-width="3.1" stroke-linecap="round"/><path d="M400.8 782.3h0M400.8 785.4h0M400.8 764.0h0M400.8 782.1h0M400.9 772.6h0M400.9 781.6h0M400.9 782.7h0M401.1 773.5h0M401.1 736.1h0M401.1 768.1h0M401.1 788.2h0M401.1 752.0h0M401.2 768.3h0M401.2 789.4h0M401.2 790.5h0M401.2 784.4h0M401.3 765.2h0M401.3 761.0h0M401.3 768.2h0M401.4 784.4h0M401.4 790.4h0M401.5 770.2h0M401.5 789.5h0M401.5 775.2h0M401.6 751.3h0M401.6 760.7h0M401.7 764.9h0M401.7 764.9h0M401.7 785.1h0M401.8 767.0h0M401.8 779.7h0M401.8 783.9h0M401.8 789.8h0M401.9 786.4h0M401.9 779.9h0M401.9 763.4h0M401.9 787.7h0M402.1 768.2h0M402.1 785.0h0M402.1 788.1h0M402.1 779.4h0M402.1 778.3h0M402.1 780.8h0M402.1 748.6h0" stroke="#cc725a" stroke-width="3.1" stroke-linecap="round"/><path d="M343.3 750.0h0M343.2 768.9h0M343.1 780.0h0M343.0 785.9h0M343.0 787.5h0M342.9 787.7h0" stroke="#846cc6" stroke-width="3.1" stroke-linecap="round"/><path d="M342.9 783.9h0M342.9 762.2h0M342.8 787.4h0M342.8 758.4h0M342.8 784.8h0M342.7 786.0h0M342.7 789.2h0M342.6 790.2h0M342.6 766.4h0M342.5 788.4h0M342.5 784.5h0M342.5 788.8h0M342.4 777.3h0M342.4 786.5h0M342.4 766.8h0M342.4 775.5h0M342.4 775.6h0M342.3 789.5h0M342.2 781.1h0M342.2 786.2h0M342.2 786.1h0M342.2 790.3h0M342.0 790.2h0M342.0 783.3h0M342.0 781.1h0M341.9 783.3h0M341.8 760.9h0" stroke="#8466c6" stroke-width="3.1" stroke-linecap="round"/><path d="M402.2 741.7h0M402.2 752.8h0" stroke="#cc7254" stroke-width="3.1" stroke-linecap="round"/><path d="M402.3 760.0h0M402.4 786.5h0M402.4 781.2h0M402.5 772.8h0M402.5 725.5h0M402.7 786.6h0M402.7 772.3h0M402.7 785.8h0M402.7 781.7h0M402.8 746.7h0M402.8 764.5h0M402.8 786.9h0M402.8 785.0h0M402.9 786.2h0M402.9 782.6h0M403.0 788.5h0M403.0 744.2h0M403.0 783.2h0M403.0 779.9h0M403.0 777.0h0M403.1 746.7h0M403.2 780.5h0M403.2 786.6h0M403.3 787.7h0M403.3 784.2h0M403.3 777.3h0M403.4 786.5h0M403.5 738.6h0M403.5 753.6h0M403.5 763.0h0M403.5 758.1h0M403.6 765.3h0M403.6 767.3h0M403.6 766.8h0M403.7 775.7h0M403.7 783.3h0M403.8 756.6h0M403.8 771.9h0M403.8 752.9h0M403.8 753.4h0M403.8 788.7h0" stroke="#cc6c54" stroke-width="3.1" stroke-linecap="round"/><path d="M341.7 768.3h0M341.7 777.8h0" stroke="#7e66c6" stroke-width="3.1" stroke-linecap="round"/><path d="M341.7 774.9h0M341.7 738.1h0M341.6 784.6h0M341.6 786.7h0M341.5 778.3h0M341.5 764.6h0M341.5 759.2h0M341.5 743.7h0M341.4 769.9h0M341.4 782.2h0M341.3 773.6h0M341.3 752.0h0M341.3 748.1h0M341.2 732.0h0M341.2 747.7h0M341.2 784.7h0M341.2 768.9h0M341.2 782.1h0M341.1 745.8h0M341.0 775.0h0M341.0 780.3h0M340.9 771.4h0M340.8 784.4h0M340.8 778.9h0M340.8 749.8h0M340.8 767.1h0M340.7 774.1h0M340.7 768.7h0M340.7 788.7h0M340.7 776.9h0M340.7 779.5h0M340.6 783.4h0M340.5 788.2h0M340.3 759.1h0M340.1 749.0h0M340.0 761.5h0M339.9 779.0h0M339.9 779.9h0M339.9 789.8h0M339.7 761.0h0" stroke="#7e60c6" stroke-width="3.1" stroke-linecap="round"/><path d="M403.9 787.7h0M403.9 779.1h0M403.9 763.9h0M404.0 767.3h0M404.1 741.3h0" stroke="#cc6c4e" stroke-width="3.1" stroke-linecap="round"/><path d="M404.2 785.3h0" stroke="#c66c4e" stroke-width="3.1" stroke-linecap="round"/><path d="M404.3 759.2h0M404.3 764.6h0M404.3 778.9h0M404.3 783.6h0M404.4 783.9h0M404.4 787.5h0M404.5 790.3h0M404.5 755.6h0M404.5 783.4h0M404.5 780.8h0M404.5 779.2h0M404.6 773.3h0M404.6 780.8h0M404.6 768.1h0M404.6 784.0h0M404.7 781.3h0M404.8 786.5h0M404.8 773.6h0M404.9 772.5h0M405.0 789.2h0M405.1 784.3h0M405.1 758.7h0M405.2 783.3h0M405.2 771.1h0M405.3 775.4h0M405.3 769.1h0M405.3 752.1h0M405.3 787.9h0M405.3 783.3h0M405.3 788.7h0M405.4 769.1h0M405.4 773.8h0M405.4 782.4h0M405.5 773.0h0M405.6 782.1h0M405.7 695.8h0M405.7 771.4h0M405.7 780.8h0M405.7 782.6h0M405.7 787.7h0M405.8 755.8h0M405.8 733.4h0M405.8 783.2h0M405.8 787.6h0M405.9 767.2h0M405.9 789.8h0M405.9 790.1h0M406.3 787.6h0M406.3 755.6h0M406.3 789.2h0M406.4 783.0h0M406.4 782.5h0M406.4 781.7h0M406.4 771.1h0M406.5 770.4h0" stroke="#c6664e" stroke-width="3.1" stroke-linecap="round"/><path d="M339.6 771.4h0M339.5 704.5h0" stroke="#785ac6" stroke-width="3.1" stroke-linecap="round"/><path d="M339.4 779.0h0M339.4 777.7h0M339.4 781.5h0M339.2 789.1h0M339.2 781.8h0M339.2 784.5h0M339.1 758.5h0M339.0 766.0h0M338.9 775.4h0M338.9 752.6h0M338.7 751.1h0M338.7 770.3h0M338.7 767.2h0M338.6 757.4h0M338.6 785.9h0M338.4 779.3h0M338.4 757.5h0M338.3 780.5h0M338.3 767.7h0M338.3 766.4h0M338.2 787.2h0M338.1 782.1h0M338.1 790.2h0M338.0 788.5h0M338.0 780.0h0M338.0 788.0h0M337.9 790.0h0M337.9 766.6h0M337.9 760.6h0M337.8 777.8h0M337.7 784.8h0M337.6 788.9h0M337.5 759.7h0M337.5 758.3h0M337.5 673.7h0M337.4 768.8h0" stroke="#785ac0" stroke-width="3.1" stroke-linecap="round"/><path d="M406.5 782.4h0" stroke="#c6604e" stroke-width="3.1" stroke-linecap="round"/><path d="M406.5 780.5h0M406.6 788.3h0M406.9 778.8h0M406.9 752.2h0M407.0 773.2h0M407.0 773.9h0M407.1 782.4h0M407.1 749.6h0M407.1 766.6h0M407.1 769.7h0M407.2 783.6h0M407.2 774.9h0M407.2 781.4h0M407.2 767.7h0M407.3 789.9h0M407.4 779.3h0M407.4 787.0h0M407.5 790.4h0M407.5 784.2h0M407.6 765.3h0M407.8 790.4h0M407.8 781.7h0" stroke="#c66048" stroke-width="3.1" stroke-linecap="round"/><path d="M337.2 765.7h0M336.9 788.4h0M336.9 781.1h0M336.7 749.3h0M336.7 777.2h0M336.6 773.4h0M336.6 776.1h0M336.5 785.3h0M336.5 747.3h0M336.5 772.6h0M336.2 786.4h0M336.2 764.7h0M336.2 775.7h0M336.1 769.4h0M336.0 789.5h0M336.0 779.1h0M335.9 771.7h0M335.9 760.7h0M335.8 756.0h0M335.8 777.3h0M335.7 789.3h0M335.7 782.5h0M335.6 706.1h0M335.6 788.1h0M335.5 756.7h0M335.5 776.9h0M335.4 782.9h0M335.3 759.9h0M335.3 775.0h0M335.1 787.5h0" stroke="#7254c0" stroke-width="3.1" stroke-linecap="round"/><path d="M407.9 786.4h0M407.9 777.9h0M408.0 785.7h0M408.0 787.7h0M408.0 760.5h0M408.1 771.1h0M408.1 749.4h0M408.1 770.7h0M408.2 767.1h0M408.2 788.0h0M408.3 788.7h0M408.3 788.7h0M408.4 783.8h0M408.4 786.8h0M408.5 781.7h0M408.6 789.4h0M408.6 729.5h0M408.6 782.3h0M408.6 789.9h0M408.7 764.8h0M408.8 775.7h0" stroke="#c06048" stroke-width="3.1" stroke-linecap="round"/><path d="M408.8 784.6h0M409.0 775.8h0M409.1 776.6h0M409.1 774.0h0M409.1 759.3h0" stroke="#c05a48" stroke-width="3.1" stroke-linecap="round"/><path d="M409.3 742.2h0M409.3 783.2h0M409.3 789.5h0M409.3 774.1h0M409.5 738.2h0M409.6 758.5h0M409.7 767.5h0M409.9 789.8h0M409.9 786.5h0M410.0 768.3h0M410.0 789.5h0M410.2 769.3h0M410.2 787.0h0M410.3 779.9h0M410.3 782.5h0M410.3 771.7h0M410.3 776.8h0M410.6 770.2h0M410.8 760.9h0M410.9 789.9h0M410.9 777.0h0" stroke="#c05a42" stroke-width="3.1" stroke-linecap="round"/><path d="M335.0 771.8h0M334.9 786.5h0" stroke="#6c4ec0" stroke-width="3.1" stroke-linecap="round"/><path d="M334.8 787.0h0M334.6 773.4h0M334.5 785.4h0M334.3 782.7h0M334.3 769.7h0M334.3 788.0h0M334.1 783.4h0M333.9 784.1h0M333.9 775.0h0M333.8 789.3h0M333.7 767.0h0M333.7 776.2h0M333.7 781.1h0M333.6 764.4h0M333.6 759.2h0M333.5 779.8h0M333.4 772.2h0M333.3 767.5h0M333.3 786.8h0M333.1 785.8h0M332.9 761.4h0M332.8 772.2h0M332.7 752.8h0" stroke="#6c4eba" stroke-width="3.1" stroke-linecap="round"/><path d="M411.3 789.8h0M411.3 754.8h0M411.4 790.1h0" stroke="#c05442" stroke-width="3.1" stroke-linecap="round"/><path d="M411.6 785.0h0M411.7 766.2h0M411.7 770.8h0M411.8 789.3h0" stroke="#ba5442" stroke-width="3.1" stroke-linecap="round"/><path d="M412.0 764.8h0M412.0 762.8h0M412.0 775.7h0M412.1 776.0h0M412.1 789.7h0M412.1 765.2h0M412.3 716.9h0M412.3 782.3h0M412.3 757.5h0M412.5 787.7h0M412.6 777.5h0M412.6 776.2h0M412.7 780.9h0M412.8 776.8h0M412.8 762.4h0M412.8 786.4h0M412.9 778.8h0M412.9 778.8h0M413.1 789.3h0M413.1 785.5h0M413.2 788.5h0M413.2 770.4h0M413.4 778.8h0" stroke="#ba543c" stroke-width="3.1" stroke-linecap="round"/><path d="M332.5 773.6h0M332.4 787.2h0M332.2 786.2h0M332.2 725.1h0M332.0 757.1h0M331.9 789.4h0M331.9 775.8h0M331.7 781.6h0M331.6 762.9h0M331.6 788.1h0M331.6 755.0h0M331.4 770.9h0M331.3 781.5h0M331.2 767.2h0M330.7 775.2h0M330.6 772.3h0M330.4 781.7h0M330.4 790.0h0" stroke="#6648ba" stroke-width="3.1" stroke-linecap="round"/><path d="M413.5 779.0h0M413.5 787.5h0M413.5 766.9h0M413.6 760.7h0M413.6 765.3h0M413.6 757.2h0M413.7 789.5h0M413.8 766.0h0M413.9 767.1h0M413.9 764.6h0M414.1 779.1h0M414.2 786.2h0" stroke="#ba4e3c" stroke-width="3.1" stroke-linecap="round"/><path d="M330.2 787.5h0" stroke="#6042ba" stroke-width="3.1" stroke-linecap="round"/><path d="M330.1 788.2h0M330.0 771.7h0M329.1 782.2h0M329.0 768.8h0M328.7 786.7h0M328.4 770.9h0M328.4 785.7h0M328.3 783.8h0M328.3 773.4h0" stroke="#6042b4" stroke-width="3.1" stroke-linecap="round"/><path d="M414.5 758.9h0M414.6 785.6h0M415.0 763.0h0M415.1 770.1h0M415.2 787.0h0" stroke="#ba4e36" stroke-width="3.1" stroke-linecap="round"/><path d="M415.3 780.8h0M415.7 783.6h0" stroke="#b44e36" stroke-width="3.1" stroke-linecap="round"/><path d="M415.8 781.6h0M416.0 790.4h0M416.1 768.8h0M416.8 785.0h0M416.8 787.1h0M417.0 772.5h0" stroke="#b44836" stroke-width="3.1" stroke-linecap="round"/><path d="M327.8 778.9h0M327.7 780.3h0M327.4 789.6h0M327.2 768.1h0M327.1 773.1h0M326.6 775.1h0M326.2 775.6h0M326.0 785.3h0" stroke="#5a3cb4" stroke-width="3.1" stroke-linecap="round"/><path d="M417.1 772.7h0M417.4 748.4h0M417.5 767.5h0M417.5 766.5h0M417.6 787.0h0M418.1 786.6h0" stroke="#b44830" stroke-width="3.1" stroke-linecap="round"/><path d="M419.0 782.1h0M419.2 764.9h0M419.2 730.0h0" stroke="#ae4230" stroke-width="3.1" stroke-linecap="round"/><path d="M325.2 779.2h0M324.7 734.9h0M324.5 764.2h0" stroke="#5436ae" stroke-width="3.1" stroke-linecap="round"/><path d="M419.5 768.3h0" stroke="#ae422a" stroke-width="3.1" stroke-linecap="round"/><path d="M420.8 739.6h0M421.2 760.7h0" stroke="#ae3c2a" stroke-width="3.1" stroke-linecap="round"/><path d="M323.8 702.0h0" stroke="#4e36ae" stroke-width="3.1" stroke-linecap="round"/><path d="M322.2 742.2h0" stroke="#4e30ae" stroke-width="3.1" stroke-linecap="round"/><path d="M423.5 726.1h0" stroke="#a8301e" stroke-width="3.1" stroke-linecap="round"/><path d="M425.8 711.2h0M426.0 722.9h0" stroke="#a82a18" stroke-width="3.1" stroke-linecap="round"/><path d="M318.7 747.2h0M318.0 775.4h0" stroke="#422aa2" stroke-width="3.1" stroke-linecap="round"/><path d="M426.3 742.9h0" stroke="#a82418" stroke-width="3.1" stroke-linecap="round"/><path d="M427.9 729.7h0M428.5 771.4h0M429.4 767.7h0M430.3 754.3h0" stroke="#a21e12" stroke-width="3.1" stroke-linecap="round"/><path d="M316.2 758.0h0" stroke="#3c24a2" stroke-width="3.1" stroke-linecap="round"/><path d="M315.6 712.5h0" stroke="#3624a2" stroke-width="3.1" stroke-linecap="round"/><path d="M315.1 712.8h0" stroke="#36249c" stroke-width="3.1" stroke-linecap="round"/><path d="M314.5 766.8h0" stroke="#361e9c" stroke-width="3.1" stroke-linecap="round"/><path d="M312.1 697.2h0" stroke="#301e9c" stroke-width="3.1" stroke-linecap="round"/><path d="M311.6 746.9h0M311.1 695.7h0M310.6 703.7h0" stroke="#2a1896" stroke-width="3.1" stroke-linecap="round"/><path d="M309.2 718.7h0" stroke="#241896" stroke-width="3.1" stroke-linecap="round"/><path d="M308.0 773.3h0M307.9 752.2h0" stroke="#241290" stroke-width="3.1" stroke-linecap="round"/><path d="M307.3 713.9h0M307.2 720.3h0" stroke="#1e1290" stroke-width="3.1" stroke-linecap="round"/><path d="M305.1 774.4h0" stroke="#180c90" stroke-width="3.1" stroke-linecap="round"/><path d="M302.9 739.0h0M302.5 722.0h0" stroke="#12068a" stroke-width="3.1" stroke-linecap="round"/>
<g stroke="#333" stroke-width="1.1" fill="none"><path d="M287.5 661 V827.5 H456.2"/>
<path d="M285.0 819.2 H287.5"/>
<path d="M285.0 776.0 H287.5"/>
<path d="M285.0 732.8 H287.5"/>
<path d="M285.0 689.6 H287.5"/>
<path d="M295.1 827.5 V830.0"/>
<path d="M333.7 827.5 V830.0"/>
<path d="M372.3 827.5 V830.0"/>
<path d="M410.9 827.5 V830.0"/>
<path d="M449.6 827.5 V830.0"/>
</g>
<path d="M372.3 661 V827.5" stroke="#555" stroke-width="1.1"/>
<path d="M287.5 791.1 H456.2" stroke="#222" stroke-width="0.8" stroke-dasharray="1.6 1.8"/>
<text x="283.7" y="822.6" font-size="9.5" fill="#222" font-weight="normal" text-anchor="end">0</text>
<text x="283.7" y="779.4" font-size="9.5" fill="#222" font-weight="normal" text-anchor="end">2</text>
<text x="283.7" y="736.2" font-size="9.5" fill="#222" font-weight="normal" text-anchor="end">4</text>
<text x="283.7" y="693.0" font-size="9.5" fill="#222" font-weight="normal" text-anchor="end">6</text>
<text x="295.1" y="840.2" font-size="9.5" fill="#222" font-weight="normal" text-anchor="middle">-5.0</text>
<text x="333.7" y="840.2" font-size="9.5" fill="#222" font-weight="normal" text-anchor="middle">-2.5</text>
<text x="372.3" y="840.2" font-size="9.5" fill="#222" font-weight="normal" text-anchor="middle">0.0</text>
<text x="410.9" y="840.2" font-size="9.5" fill="#222" font-weight="normal" text-anchor="middle">2.5</text>
<text x="449.6" y="840.2" font-size="9.5" fill="#222" font-weight="normal" text-anchor="middle">5.0</text>
<text x="304.7" y="671" font-size="10" fill="#8a70cc" font-weight="normal" text-anchor="start" textLength="50.0" lengthAdjust="spacingAndGlyphs">Down = 894</text>
<text x="385.5" y="671" font-size="10" fill="#c8705a" font-weight="normal" text-anchor="start" textLength="37.8" lengthAdjust="spacingAndGlyphs">Up = 974</text>
<text x="264.2" y="745.6" font-size="9.6" fill="#111" text-anchor="middle" transform="rotate(-90 264.2 745.6)">Log<tspan font-size="6.5" dy="2">10</tspan><tspan dy="-2">(adj. P-value)</tspan></text>
<text x="333.1" y="860.7" font-size="9.6" fill="#111">Log<tspan font-size="6.5" dy="2">2</tspan><tspan dy="-2">FC matKO/Ctr</tspan></text>
<text x="474.3" y="636.2" font-size="18" fill="#000" font-weight="normal" text-anchor="start">f</text>
<text x="534.9" y="646.6" font-size="9.4" fill="#111" textLength="110.8" lengthAdjust="spacingAndGlyphs">y=0.0553-0.111x, R²=0.02</text>
<path d="M589.4 822.9h0M596.0 822.6h0M622.5 810.5h0M591.9 820.4h0M594.6 818.4h0M588.6 816.3h0M586.0 815.3h0M609.7 686.2h0M589.7 682.0h0M586.9 814.3h0M584.3 683.6h0M585.6 811.9h0M586.0 811.6h0M584.0 809.8h0M628.0 707.7h0M589.7 810.1h0M587.9 688.0h0M589.0 808.9h0M575.6 805.0h0M598.7 689.0h0M548.9 723.2h0M609.7 803.0h0M586.6 807.4h0M628.4 783.1h0M590.7 807.0h0M603.4 692.0h0M588.8 806.0h0M588.8 690.6h0M591.4 806.3h0M605.5 693.9h0M589.1 805.0h0M612.0 698.6h0M579.1 694.6h0M585.1 803.8h0M577.1 801.2h0M572.3 798.0h0M582.3 694.7h0M610.9 797.1h0M596.1 802.7h0M610.0 699.3h0M570.3 700.8h0M557.1 780.8h0M601.2 696.3h0M568.0 703.6h0M559.9 783.3h0M586.3 801.2h0M587.3 800.9h0M579.9 697.3h0M573.4 700.8h0M578.6 697.9h0M588.8 695.7h0M600.1 697.0h0M604.1 698.8h0M557.1 776.9h0M607.8 796.1h0M624.6 778.3h0M586.5 696.7h0M573.2 794.9h0M550.7 754.2h0M628.1 769.8h0M551.8 741.2h0M623.1 778.9h0M614.9 707.4h0M578.4 700.9h0M616.9 710.5h0M583.9 797.4h0M565.2 711.6h0M599.6 796.7h0M628.7 760.4h0M559.2 721.1h0M591.2 699.1h0M627.1 730.4h0M590.3 797.4h0M575.6 792.8h0M625.4 726.5h0M598.9 796.2h0M617.6 783.6h0M577.2 703.0h0M618.1 714.3h0M608.0 791.7h0M609.6 706.1h0M591.4 700.2h0M554.5 739.0h0M562.9 779.0h0M627.1 734.8h0M613.4 786.4h0M619.9 718.2h0M589.5 701.1h0M591.2 701.2h0M585.4 701.8h0M558.3 769.2h0M584.2 794.3h0M607.9 790.2h0M576.2 790.9h0M595.3 794.8h0M588.7 795.0h0M624.7 729.2h0M572.2 788.2h0M565.5 715.5h0M611.3 787.2h0M591.2 701.9h0M620.3 720.8h0M616.7 781.3h0M580.7 704.2h0M593.7 702.4h0M567.7 713.8h0M594.2 702.9h0M606.2 707.1h0M613.9 713.5h0M606.3 707.1h0M587.9 703.3h0M579.5 705.4h0M603.4 706.0h0M556.7 757.4h0M593.5 793.5h0M558.8 731.0h0M558.5 764.5h0M578.0 789.9h0M595.2 792.9h0M605.5 708.3h0M588.7 704.5h0M572.4 711.7h0M616.1 718.1h0M565.0 720.2h0M574.8 787.0h0M598.5 705.3h0M600.9 706.3h0M563.7 774.4h0M584.4 790.9h0M625.4 746.8h0M564.0 722.0h0M603.2 788.8h0M579.5 789.1h0M561.5 768.4h0M606.9 710.1h0M576.2 709.9h0M568.2 717.4h0M575.3 710.8h0M616.1 777.0h0M589.2 791.1h0M570.0 715.6h0M620.4 728.3h0M608.5 784.5h0M595.2 706.4h0M569.2 779.8h0M565.6 775.1h0M622.4 734.1h0M607.9 711.8h0M595.5 789.9h0M589.1 790.4h0M617.4 722.5h0M589.6 706.7h0M612.7 716.5h0M598.2 707.4h0M589.5 706.7h0M562.9 768.8h0M580.3 709.2h0M584.9 707.7h0M585.0 789.0h0M574.9 712.8h0M592.8 706.8h0M590.9 789.8h0M587.5 707.5h0M564.1 769.9h0M566.0 773.8h0M564.0 727.2h0M561.5 732.9h0M622.1 758.7h0M577.7 711.2h0M622.6 755.0h0M601.5 787.1h0M604.4 711.2h0M559.8 752.4h0M572.8 781.6h0M584.3 788.1h0M559.6 746.7h0M620.8 733.5h0M588.9 707.9h0M590.4 708.0h0M607.0 783.1h0M588.0 788.5h0M576.3 783.6h0M570.9 717.4h0M613.0 719.0h0M621.8 758.0h0M568.7 720.6h0M594.0 788.4h0M571.5 717.3h0M579.5 711.1h0M565.7 771.6h0M564.8 727.9h0M563.4 766.2h0M605.3 712.9h0M608.7 781.4h0M609.3 716.3h0M619.0 765.4h0M615.1 723.1h0M618.1 728.8h0M575.6 714.2h0M621.2 756.9h0M568.5 721.7h0M567.6 723.0h0M583.9 710.0h0M585.1 786.9h0M561.4 756.3h0M613.8 774.8h0M602.7 712.1h0M615.0 773.2h0M611.1 718.3h0M612.6 720.6h0M595.9 709.8h0M566.0 727.1h0M599.1 710.6h0M596.2 710.2h0M561.1 747.6h0M594.4 710.2h0M565.3 728.9h0M576.5 782.2h0M575.0 715.8h0M613.3 721.8h0M611.0 719.2h0M605.1 714.4h0M592.5 709.8h0M595.1 710.5h0M592.3 786.7h0M565.6 767.9h0M590.4 710.0h0M610.9 777.4h0M584.2 711.2h0M562.4 758.6h0M589.0 786.1h0M568.7 773.5h0M596.6 785.9h0M596.6 711.0h0M561.9 754.6h0M602.9 783.3h0M563.4 735.4h0M595.8 710.8h0M604.3 714.3h0M609.1 778.9h0M617.5 766.4h0M562.6 739.0h0M587.4 710.7h0M564.1 733.3h0M618.8 761.8h0M609.4 778.3h0M592.4 710.7h0M580.2 713.2h0M573.5 778.4h0M579.1 713.9h0M616.9 729.9h0M617.1 729.9h0M566.3 768.2h0M589.0 711.2h0M568.5 771.9h0M614.2 771.8h0M567.3 727.0h0M594.6 711.2h0M564.4 734.4h0M600.5 713.1h0M605.9 716.3h0M590.3 785.2h0M617.6 732.8h0M595.5 711.4h0M566.7 728.6h0M581.3 713.7h0M590.8 711.5h0M572.4 776.3h0M578.5 781.6h0M607.6 718.0h0M562.5 750.0h0M563.1 754.9h0M602.0 782.4h0M584.2 783.9h0M617.8 734.6h0M586.0 784.1h0M596.0 784.4h0M586.7 712.2h0M577.2 779.9h0M562.7 745.5h0M571.8 774.7h0M595.1 712.3h0M594.0 784.5h0M564.8 735.4h0M582.9 713.7h0M581.1 714.6h0M593.4 712.4h0M566.4 766.1h0M619.4 751.6h0M577.4 717.0h0M609.8 721.0h0M579.2 781.0h0M602.9 715.6h0M614.2 727.1h0M591.4 712.2h0M614.0 769.5h0M580.4 781.6h0M594.6 712.7h0M614.2 769.2h0M574.8 719.4h0M609.3 775.6h0M615.4 766.8h0M584.9 713.7h0M579.1 716.1h0M592.7 712.5h0M603.0 716.1h0M583.2 714.3h0M616.9 734.5h0M615.1 766.7h0M570.8 724.5h0M574.1 720.4h0M601.9 715.7h0M571.7 723.4h0M566.4 763.6h0M578.2 717.3h0M618.0 739.2h0M600.4 781.8h0M582.7 714.7h0M564.8 738.9h0M610.8 723.1h0M616.5 734.3h0M574.0 775.8h0M606.9 719.3h0M611.3 772.9h0M591.5 713.2h0M595.0 783.3h0M579.3 716.4h0M610.4 722.9h0M618.9 749.3h0M596.9 783.0h0M592.5 713.4h0M615.0 730.5h0M576.8 718.8h0M606.8 719.2h0M563.7 750.7h0M597.0 714.0h0M603.2 780.1h0M580.6 715.9h0M581.0 715.9h0M598.8 781.7h0M567.2 765.2h0M618.5 745.7h0M617.9 741.3h0M612.3 726.0h0M617.9 755.5h0M618.7 750.6h0M581.7 715.7h0M564.2 749.9h0M618.5 747.2h0M584.0 715.1h0M585.2 714.4h0M567.6 765.4h0M574.0 775.0h0M590.3 713.7h0M616.7 735.8h0M564.5 744.8h0M584.7 714.9h0M586.4 714.6h0M604.9 718.3h0M606.0 719.7h0M585.3 714.6h0M586.1 714.4h0M565.2 756.0h0M564.7 743.9h0M606.7 720.4h0M615.9 734.4h0M585.6 781.9h0M615.9 735.4h0M602.0 717.2h0M611.8 726.5h0M564.7 749.3h0M600.4 780.3h0M564.5 746.6h0M617.8 744.5h0M610.5 771.7h0M617.7 742.7h0M606.8 720.7h0M582.1 716.4h0M597.0 781.5h0M602.3 778.9h0M605.1 719.2h0M601.7 717.2h0M595.7 714.8h0M582.1 780.2h0M589.1 714.8h0M589.5 714.7h0M597.9 715.8h0M613.7 730.4h0M604.0 719.1h0M614.8 732.9h0M609.9 724.7h0M579.3 778.2h0M610.3 725.6h0M596.5 715.5h0M605.6 720.6h0M613.7 765.0h0M565.2 752.2h0M613.9 731.4h0M612.1 768.4h0M612.1 768.6h0M573.8 772.6h0M602.5 718.5h0M600.3 717.3h0M570.9 728.1h0M567.5 735.4h0M568.4 763.4h0M585.6 716.3h0M613.3 765.6h0M591.0 715.1h0M565.9 742.9h0M570.4 767.7h0M614.7 762.7h0M612.7 730.3h0M589.4 715.3h0M602.4 718.8h0M605.8 721.4h0M611.5 727.7h0M567.1 737.6h0M565.5 748.2h0M614.5 733.8h0M583.3 779.7h0M591.5 715.7h0M607.0 722.3h0M589.2 715.7h0M599.6 717.5h0M570.5 767.2h0M566.5 755.9h0M608.9 724.4h0M590.8 715.6h0M565.8 746.2h0M614.3 734.6h0M590.0 715.7h0M593.8 780.6h0M615.6 758.1h0M566.3 743.1h0M608.3 772.2h0M592.9 715.7h0M615.8 739.7h0M584.0 779.2h0M587.6 716.3h0M580.0 777.4h0M613.3 732.5h0M583.2 717.7h0M571.6 727.8h0M581.3 718.7h0M614.0 762.8h0M608.4 724.3h0M616.7 749.0h0M616.0 753.4h0M567.1 757.1h0M576.2 722.6h0M616.3 744.2h0M577.4 721.9h0M599.5 778.5h0M601.2 719.0h0M608.6 725.2h0M580.9 777.6h0M589.3 716.5h0M599.7 778.2h0M589.6 780.4h0M585.5 779.7h0M567.1 739.5h0M587.8 716.8h0M616.0 754.2h0M608.6 725.1h0M596.3 716.8h0M568.6 761.5h0M589.3 780.3h0M613.8 761.4h0M591.2 716.6h0M587.6 780.0h0M594.0 716.7h0M615.0 758.1h0M579.2 720.5h0M590.4 716.5h0M583.6 778.6h0M571.4 729.0h0M566.6 744.8h0M600.0 718.8h0M580.7 719.7h0M611.4 766.7h0M595.1 717.4h0M610.6 728.6h0M612.3 732.3h0M583.5 777.9h0M568.1 737.8h0M570.9 766.0h0M581.1 777.2h0M568.3 737.6h0M569.7 763.4h0M595.7 717.4h0M566.9 752.0h0M594.7 717.2h0M609.3 727.5h0M571.9 767.0h0M573.8 770.0h0M573.7 726.6h0M569.5 762.2h0M572.9 769.1h0M575.0 725.0h0M590.3 717.1h0M572.6 768.1h0M615.8 749.4h0M569.3 735.4h0M583.2 719.1h0M585.1 718.1h0M604.2 774.9h0M576.5 772.9h0M575.1 725.0h0M587.4 717.7h0M568.4 758.6h0M587.9 718.0h0M598.6 719.0h0M592.1 779.1h0M592.7 717.4h0M601.7 775.8h0M584.2 777.9h0M569.3 736.2h0M567.4 743.3h0M591.9 717.8h0M568.7 759.3h0M583.5 719.5h0M578.9 722.1h0M615.1 753.7h0M609.3 728.3h0M568.9 737.1h0M595.4 718.0h0M602.9 721.7h0M583.8 777.3h0M614.4 739.7h0M609.1 728.1h0M567.6 744.4h0M597.6 777.9h0M582.8 719.6h0M596.3 718.7h0M602.7 775.1h0M575.9 771.6h0M579.1 722.1h0M567.5 746.9h0M592.6 778.9h0M569.4 760.7h0M606.2 724.5h0M610.7 730.6h0M576.1 724.9h0M604.8 773.7h0M580.5 721.5h0M586.4 718.7h0M574.1 769.2h0M577.6 723.5h0M601.0 720.7h0M578.6 774.2h0M579.9 721.4h0M588.3 718.5h0M592.4 717.8h0M597.3 719.1h0M612.0 733.8h0M569.8 735.3h0M594.4 778.5h0M604.6 773.1h0M593.6 778.5h0M614.7 751.9h0M586.8 718.9h0M595.1 718.3h0M579.7 774.3h0M570.0 735.2h0M586.0 777.8h0M615.0 748.2h0M607.5 726.4h0M592.7 778.4h0M592.5 718.3h0M609.0 768.4h0M599.9 776.2h0M569.1 739.1h0M594.7 718.8h0M582.4 720.7h0M610.6 731.2h0M592.8 778.5h0M584.8 777.2h0M590.2 718.2h0M568.0 749.4h0M568.7 739.9h0M608.8 728.8h0M569.8 736.3h0M593.7 718.7h0M610.5 731.5h0M588.4 718.6h0M586.1 777.7h0M601.0 721.3h0M602.8 774.5h0M614.0 755.2h0M584.2 720.1h0M574.3 728.0h0M569.9 736.8h0M612.3 761.7h0M582.2 775.6h0M602.3 722.5h0M583.7 720.3h0M613.6 756.1h0M603.4 723.2h0M579.2 773.7h0M597.3 719.5h0M570.7 734.3h0M577.0 771.3h0M569.5 758.4h0M568.7 743.1h0M590.0 778.0h0M578.3 724.0h0M613.6 755.7h0M571.1 733.7h0M614.0 752.4h0M610.0 730.9h0M584.5 776.4h0M568.9 741.8h0M612.0 734.9h0M614.3 751.2h0M591.1 718.9h0M571.0 762.4h0M571.6 733.5h0M613.7 753.1h0M578.9 723.4h0M612.6 759.4h0M568.3 748.6h0M572.3 731.5h0M595.9 719.9h0M614.0 747.2h0M611.0 733.7h0" stroke="#4a1e6c" stroke-width="2.7" stroke-linecap="round"/><path d="M588.7 719.6h0M612.9 738.5h0M576.4 726.1h0M602.5 773.5h0M570.0 758.7h0M609.0 730.0h0M571.9 733.7h0M612.1 737.3h0M570.3 737.3h0M576.4 770.2h0M574.3 729.2h0M603.6 723.9h0M598.9 721.0h0M602.1 773.5h0M569.0 752.9h0M602.7 773.4h0M580.7 722.6h0M613.6 747.8h0M606.6 727.4h0M600.8 774.7h0M602.5 773.1h0M604.9 725.3h0M587.2 719.9h0M609.7 731.7h0M587.7 719.7h0M613.6 752.5h0M611.9 737.6h0M594.4 720.2h0M596.7 720.8h0M610.3 733.6h0M594.7 720.2h0M604.3 725.2h0M611.2 761.4h0M580.9 773.7h0M612.6 756.6h0M598.2 720.9h0M573.8 765.6h0M588.1 720.0h0M583.3 721.9h0M582.0 774.0h0M581.0 773.9h0M613.5 747.2h0M581.6 774.2h0M582.9 722.2h0M590.4 719.8h0M612.6 739.9h0M600.3 722.3h0M576.8 769.9h0M578.0 771.4h0M574.3 730.3h0M594.9 776.5h0M604.2 771.0h0M573.2 732.2h0M608.9 730.9h0M610.1 763.0h0M571.4 736.5h0M609.6 764.3h0M577.2 726.3h0M611.8 737.5h0M588.2 720.3h0M609.2 764.8h0M574.5 729.9h0M595.8 720.7h0M605.4 726.7h0M571.6 736.1h0M576.2 769.0h0M569.2 747.6h0M604.5 725.5h0M575.6 767.7h0M609.7 763.6h0M613.0 743.9h0M599.0 722.1h0M604.5 726.2h0M606.5 728.1h0M584.4 721.5h0M597.3 721.2h0M599.5 722.2h0M582.6 722.5h0M600.6 723.3h0M607.9 730.7h0M570.1 741.0h0M594.4 720.8h0M584.5 774.8h0M595.0 720.7h0M590.8 720.6h0M608.2 730.8h0M611.9 738.8h0M570.5 740.3h0M605.0 726.4h0M595.9 721.4h0M582.4 723.1h0M584.8 721.9h0M598.7 722.6h0M597.5 775.0h0M576.4 727.9h0M589.6 720.9h0M571.7 736.7h0M574.5 731.3h0M603.5 725.8h0M576.1 728.5h0M594.1 721.1h0M570.5 755.7h0M588.4 775.5h0M612.5 754.1h0M603.4 725.7h0M571.6 759.6h0M583.4 722.8h0M570.3 754.2h0M583.3 723.0h0M600.0 773.2h0M592.9 775.9h0M600.9 724.1h0M598.8 723.0h0M574.4 731.6h0M596.1 721.6h0M591.6 721.1h0M580.0 725.3h0M603.0 725.8h0M570.0 746.3h0M573.4 763.2h0M590.9 775.7h0M589.8 721.0h0M578.4 726.3h0M588.0 721.5h0M599.0 723.0h0M578.3 726.5h0M606.5 767.6h0M606.8 729.8h0M571.3 738.4h0M570.9 741.9h0M588.3 721.2h0M590.4 721.5h0M570.0 747.3h0M595.9 721.8h0M571.0 741.4h0M605.0 727.5h0M577.8 727.6h0M612.2 746.0h0M599.8 723.5h0M583.1 723.5h0M591.1 721.5h0M608.5 732.9h0M586.2 774.7h0M578.9 770.1h0M585.8 722.6h0M594.0 721.3h0M596.6 722.1h0M570.5 747.3h0M574.1 732.6h0M607.3 765.5h0M586.7 721.8h0M605.9 728.8h0M586.3 722.1h0M598.0 773.8h0M579.0 726.5h0M612.1 743.9h0M578.9 726.6h0M609.2 735.0h0M580.0 725.8h0M571.5 740.2h0M610.7 738.1h0M606.6 729.9h0M582.7 723.9h0M570.3 747.5h0M598.3 723.0h0M599.0 723.4h0M571.4 740.5h0M582.2 724.4h0M601.5 725.4h0M570.4 745.7h0M581.9 724.4h0M587.2 722.6h0M581.2 771.2h0M586.1 773.7h0M593.7 721.8h0M576.6 766.8h0M602.9 770.3h0M571.0 754.6h0M611.7 749.2h0M576.6 766.4h0M575.3 764.7h0M611.5 743.0h0M571.3 741.7h0M579.5 727.0h0M609.1 735.6h0M575.5 731.2h0M611.6 751.3h0M610.6 756.3h0M585.0 723.6h0M591.5 721.9h0M610.1 737.8h0M577.8 768.1h0M577.1 729.6h0M588.6 774.2h0M595.7 722.6h0M607.9 733.0h0M596.7 723.4h0M574.2 763.2h0M586.1 723.3h0M611.0 754.5h0M590.5 774.1h0M587.8 774.3h0M582.6 724.9h0M585.1 772.9h0M577.7 767.5h0M609.5 737.0h0M607.9 763.7h0M574.1 762.0h0M593.4 722.5h0M611.8 748.4h0M571.1 751.1h0M575.2 763.7h0M594.4 722.8h0M607.5 732.4h0M592.5 774.0h0M571.4 743.9h0M608.3 734.7h0M610.6 740.1h0M611.3 751.9h0M572.0 741.4h0M597.7 723.9h0M595.2 773.8h0M605.8 729.9h0M593.2 774.2h0M592.9 774.4h0M599.8 771.7h0M588.9 722.4h0M593.1 722.7h0M600.3 725.6h0M607.6 733.6h0M601.2 725.9h0M573.0 737.8h0M588.7 723.0h0M571.4 748.6h0M575.2 733.0h0M572.0 741.2h0M571.7 752.6h0M593.7 723.1h0M580.8 726.5h0M591.2 722.4h0M597.9 772.3h0M610.8 753.4h0M573.1 759.1h0M581.3 725.7h0M576.9 730.9h0M591.1 722.5h0M576.6 765.5h0M596.8 723.7h0M611.2 744.0h0M571.8 755.4h0M610.6 755.7h0M611.1 748.9h0M601.2 726.3h0M596.8 723.6h0M606.3 731.1h0M603.4 768.7h0M595.0 723.2h0M571.4 746.4h0M606.9 732.2h0M572.7 757.8h0M606.4 765.0h0M593.0 723.1h0M586.5 723.5h0M602.6 769.1h0M572.6 756.0h0M574.5 734.2h0M588.6 723.4h0M597.5 772.6h0M573.4 758.6h0M591.9 723.2h0M573.1 738.8h0M611.0 751.5h0M589.8 773.3h0M601.4 769.8h0M571.7 749.0h0M581.2 726.3h0M593.6 723.1h0M586.8 772.8h0M588.5 723.3h0M573.9 737.1h0M583.4 725.3h0M609.7 740.3h0M597.0 772.2h0M598.8 724.8h0M602.3 727.2h0M596.8 724.4h0M583.3 771.6h0M607.7 734.3h0M602.4 727.5h0M585.6 723.9h0M590.1 723.5h0M606.0 764.9h0M599.6 771.5h0M604.5 767.0h0M602.6 768.7h0M583.2 725.4h0M603.3 768.5h0M593.9 773.5h0M607.8 735.4h0M601.8 727.6h0M599.2 725.5h0M583.2 725.6h0M609.2 757.4h0M610.5 754.1h0M607.9 735.4h0M589.8 773.0h0M592.0 723.7h0M580.1 728.2h0M572.1 751.3h0M575.9 732.6h0M580.8 727.4h0M577.9 730.1h0M609.8 754.7h0M603.7 729.5h0M605.5 730.9h0M609.2 738.8h0M579.8 768.3h0M596.3 724.4h0M607.6 762.0h0M598.5 725.7h0M608.7 737.5h0M602.5 728.1h0M576.3 763.8h0M572.7 742.0h0M572.2 750.0h0M610.3 743.9h0M608.3 760.5h0M610.7 747.3h0M574.5 760.7h0M587.7 724.5h0M572.3 747.0h0M573.3 740.2h0M572.6 753.6h0M585.6 725.1h0M575.5 762.2h0M573.8 759.1h0M593.6 724.4h0M595.6 724.2h0M607.3 762.1h0M610.4 752.5h0M594.0 724.4h0M609.2 739.1h0M572.4 749.3h0M592.0 772.9h0M602.8 729.3h0M603.4 767.3h0M583.4 726.4h0M605.4 765.0h0M576.2 762.7h0M592.0 724.4h0M610.0 746.3h0M597.6 725.6h0M589.3 772.5h0M584.5 725.7h0M589.1 724.2h0M592.2 772.5h0M607.5 760.6h0M584.5 771.3h0M608.8 738.5h0M605.3 764.6h0M572.5 752.7h0M594.6 724.7h0M609.5 742.7h0M573.8 757.7h0M575.6 762.2h0M592.8 772.6h0M610.2 748.5h0M573.4 755.4h0M579.2 729.8h0M587.1 771.5h0M586.1 725.0h0M592.1 724.1h0M610.0 749.2h0M603.3 729.8h0M572.5 746.0h0M590.6 724.1h0M600.8 727.7h0M586.9 725.0h0M596.4 771.5h0M593.2 772.4h0M578.0 765.6h0M586.0 725.6h0M582.0 727.8h0M595.3 771.4h0M607.8 737.1h0M606.9 735.7h0M572.4 746.8h0M609.8 744.2h0M583.1 726.6h0M581.5 728.0h0M588.4 724.7h0M572.5 749.6h0M609.7 750.6h0M609.9 750.4h0M583.6 726.7h0M579.9 766.8h0M601.8 729.0h0M595.1 725.2h0M607.5 737.1h0M586.9 771.5h0M609.2 754.4h0M573.8 739.4h0M587.1 725.0h0M610.1 749.1h0M609.8 751.9h0M602.1 728.8h0M600.5 727.7h0M583.2 727.3h0M608.4 739.6h0M595.8 771.5h0M586.1 725.8h0M574.3 757.5h0M581.2 728.5h0M603.7 766.2h0M587.2 771.6h0M581.0 729.0h0M574.7 737.2h0M576.9 763.3h0M596.0 770.9h0M575.9 735.3h0M609.6 749.5h0M608.2 738.5h0M584.8 770.5h0M598.4 726.4h0M589.2 725.0h0M604.4 731.9h0M592.1 771.5h0M576.9 762.5h0M583.3 769.8h0M594.4 771.9h0M606.6 735.7h0M577.1 733.2h0M573.1 748.7h0M605.2 733.3h0M594.3 771.2h0M577.4 733.2h0M582.1 727.7h0M576.7 762.7h0M602.8 767.0h0M584.6 769.7h0M573.2 746.2h0M579.8 729.9h0M574.0 741.4h0M592.0 724.7h0M605.3 733.2h0M581.5 728.3h0M584.0 726.9h0M585.1 770.3h0M574.0 740.1h0M574.5 756.6h0M579.9 730.7h0M575.2 737.0h0M573.0 748.6h0M574.4 756.7h0M593.0 725.3h0M587.7 725.6h0M574.4 740.2h0M602.9 765.8h0M573.4 749.5h0M590.4 725.2h0M577.5 733.9h0M608.4 756.0h0M607.6 737.9h0M595.1 771.3h0M596.0 726.3h0M577.9 733.1h0M585.1 726.5h0M583.8 727.1h0M583.4 727.4h0M590.5 725.4h0M584.9 726.7h0M575.8 736.8h0M586.1 726.3h0M599.2 727.9h0M589.5 725.2h0M576.8 735.0h0M609.3 749.7h0M579.9 730.0h0M604.7 733.0h0M607.9 739.4h0M607.4 737.5h0M594.6 726.0h0M605.9 734.7h0M579.7 730.6h0M580.1 766.5h0M606.3 760.8h0M581.6 729.1h0M579.1 764.8h0M593.3 771.2h0M598.5 769.7h0M581.1 767.3h0M608.8 742.7h0M594.9 770.4h0M605.4 734.6h0M581.2 729.0h0M604.3 732.9h0M602.5 730.6h0M600.5 767.8h0M589.9 770.8h0M593.9 725.5h0M585.5 770.1h0M577.0 734.9h0M592.3 725.5h0M604.7 763.9h0M602.9 731.1h0M607.5 756.9h0M609.3 751.4h0M574.7 739.8h0M600.8 729.5h0M602.1 730.6h0M604.3 764.3h0M584.5 727.0h0M598.5 769.1h0M580.7 730.2h0M581.7 729.3h0M608.5 754.4h0M595.3 726.4h0M573.6 747.3h0M599.5 768.7h0M581.2 729.4h0M599.0 768.5h0M596.1 726.4h0M605.4 735.2h0M573.3 747.5h0M573.9 750.3h0M608.8 746.4h0M575.6 738.3h0M603.3 732.0h0M591.5 725.5h0M582.4 729.2h0M600.5 728.9h0M594.3 726.1h0M598.4 727.6h0M604.4 762.9h0M591.2 770.9h0M592.9 726.1h0M574.0 744.7h0M584.0 768.4h0M574.8 756.7h0M606.3 737.4h0M598.4 727.7h0M600.1 767.9h0M595.0 726.5h0M585.4 727.6h0M593.7 770.4h0M597.3 769.0h0M588.3 770.2h0M595.5 769.8h0M579.6 765.5h0M609.0 748.9h0M607.9 740.1h0M604.3 763.0h0M583.2 728.7h0M575.1 757.4h0M587.8 770.4h0M583.4 768.4h0M574.2 744.6h0M593.5 726.2h0M575.6 738.7h0M608.8 749.1h0M602.0 765.9h0M595.8 726.5h0M587.1 726.9h0M603.8 733.2h0M573.8 750.0h0M573.7 747.3h0M588.6 726.3h0M575.2 756.4h0M605.5 761.2h0M607.9 754.0h0M574.4 744.1h0M582.2 729.8h0M576.0 737.1h0M574.2 746.4h0M594.4 770.0h0M573.9 751.6h0M608.0 742.5h0M596.1 769.3h0M588.1 770.0h0M586.3 727.3h0M587.3 726.5h0M596.0 769.9h0M575.0 741.1h0M577.7 734.4h0M580.6 765.2h0M598.4 768.4h0M574.4 753.8h0M608.3 751.8h0M603.0 764.3h0M607.3 740.8h0M573.9 745.8h0M593.3 726.3h0M604.1 762.5h0M583.0 729.3h0M599.1 729.1h0M601.9 765.2h0M599.9 729.3h0M580.6 765.2h0M577.3 761.3h0M600.4 766.9h0M576.9 759.8h0M584.2 728.4h0M580.7 765.8h0M578.8 733.3h0M605.7 759.9h0M574.3 746.7h0M580.5 764.9h0M608.5 748.9h0M608.1 749.9h0M576.5 737.5h0M607.9 742.9h0M593.3 726.7h0M577.7 735.4h0M574.3 751.2h0M574.3 751.1h0" stroke="#4a1f6d" stroke-width="2.7" stroke-linecap="round"/><path d="M587.3 769.7h0M607.5 743.1h0M577.5 761.0h0M605.8 737.5h0M580.2 731.8h0M590.6 769.9h0M597.8 728.0h0M583.0 729.0h0M607.0 741.0h0M595.9 727.3h0M594.2 726.8h0M578.7 763.1h0M595.3 727.4h0M603.1 763.7h0M606.6 756.8h0M607.2 756.1h0M608.1 752.1h0M580.3 764.9h0M580.8 731.6h0M608.2 746.6h0M574.6 744.2h0M600.5 729.9h0M605.1 736.1h0M590.8 769.8h0M603.0 764.1h0M585.7 728.3h0M576.0 739.0h0M575.5 741.9h0M607.9 743.9h0M586.6 769.4h0M584.2 768.1h0M578.5 761.7h0M595.6 727.3h0M599.6 729.2h0M576.4 738.0h0M576.6 759.4h0M584.2 729.2h0M580.4 732.4h0M575.1 743.3h0M607.3 755.0h0M600.8 731.1h0M604.6 735.4h0M575.6 741.2h0M591.7 770.0h0M599.1 729.2h0M608.2 748.5h0M585.7 728.4h0M608.3 747.6h0M602.1 732.3h0M608.2 750.3h0M574.7 745.6h0M580.5 731.9h0M607.5 754.8h0M579.9 763.7h0M607.7 747.2h0M575.5 740.9h0M577.8 761.0h0M606.2 738.8h0M595.0 727.2h0M574.8 750.3h0M598.9 729.4h0M576.9 737.4h0M605.6 758.9h0M606.1 738.0h0M586.3 728.5h0M602.1 764.6h0M595.3 769.1h0M581.5 730.9h0M574.7 745.0h0M604.9 736.6h0M589.2 769.1h0M580.7 731.9h0M592.8 769.3h0M602.4 733.0h0M598.8 766.8h0M597.4 728.4h0M576.2 756.5h0M578.8 735.0h0M574.9 748.0h0M607.5 743.8h0M576.7 757.8h0M601.1 731.8h0M580.3 764.7h0M594.1 769.4h0M604.3 761.4h0M606.2 756.6h0M577.9 761.0h0M592.9 727.7h0M605.0 737.0h0M582.8 765.8h0M606.5 757.0h0M584.4 767.2h0M582.1 731.2h0M604.1 761.0h0M584.5 767.7h0M592.0 727.0h0M581.7 731.2h0M603.5 734.1h0M577.2 738.2h0M607.4 753.2h0M593.2 727.5h0M577.5 737.1h0M593.6 727.7h0M580.2 733.3h0M599.0 729.7h0M575.2 746.2h0M589.7 727.4h0M597.3 729.2h0M586.7 728.7h0M594.5 768.7h0M591.6 769.0h0M575.5 742.5h0M592.6 769.0h0M583.8 729.7h0M598.2 729.8h0M584.1 766.6h0M580.6 764.2h0M599.5 730.9h0M581.3 731.6h0M588.5 769.1h0M575.7 753.6h0M585.0 728.8h0M576.2 755.9h0M576.4 755.8h0M575.4 750.9h0M577.7 736.9h0M597.3 768.0h0M576.2 742.0h0M601.5 732.8h0M589.8 769.3h0M578.4 736.3h0M601.5 731.8h0M589.6 769.3h0M578.4 760.3h0M603.3 734.5h0M575.3 749.9h0M575.3 751.2h0M601.3 732.0h0M607.6 745.8h0M606.5 741.7h0M603.7 734.8h0M603.1 762.2h0M589.2 728.1h0M607.0 745.5h0M588.3 728.0h0M607.6 746.1h0M583.0 730.7h0M578.2 735.7h0M606.5 741.7h0M607.1 753.2h0M584.8 729.2h0M575.2 750.1h0M606.0 740.6h0M575.6 743.6h0M606.6 742.5h0M604.7 736.7h0M588.9 728.2h0M589.4 728.3h0M601.8 733.3h0M577.0 738.6h0M606.5 742.9h0M576.2 754.9h0M590.5 727.9h0M602.7 762.9h0M601.5 732.1h0M579.0 761.3h0M576.0 754.8h0M603.8 760.3h0M607.4 746.4h0M586.6 767.9h0M602.7 762.9h0M589.6 768.8h0M594.2 728.0h0M576.9 739.6h0M590.7 728.3h0M584.0 766.5h0M575.8 746.4h0M605.0 737.6h0M593.0 768.1h0M601.7 763.1h0M589.2 728.6h0M601.1 732.6h0M603.0 761.7h0M590.9 728.1h0M582.2 731.4h0M585.8 729.7h0M578.6 760.5h0M595.6 728.9h0M606.7 744.7h0M576.1 743.2h0M605.8 740.5h0M593.9 728.7h0M603.4 760.7h0M604.1 759.9h0M578.4 759.5h0M605.6 756.8h0M599.0 765.9h0M582.3 765.1h0M583.4 730.8h0M575.8 750.3h0M578.3 737.8h0M576.2 753.9h0M596.2 729.5h0M577.6 738.4h0M605.9 740.6h0M591.6 768.8h0M577.8 758.1h0M601.1 732.7h0M598.4 730.6h0M588.5 728.9h0M593.3 768.1h0M595.2 767.6h0M586.6 729.1h0M605.0 739.3h0M594.6 768.2h0M586.7 729.2h0M594.9 729.1h0M577.6 739.0h0M601.2 763.3h0M598.2 730.4h0M586.6 767.5h0M590.3 728.8h0M593.7 767.6h0M577.5 738.3h0M592.3 728.5h0M596.3 767.5h0M587.8 728.8h0M601.7 734.0h0M597.5 767.0h0M585.9 729.9h0M601.5 733.2h0M590.3 728.8h0M579.3 735.7h0M587.4 728.8h0M584.6 730.8h0M577.8 757.1h0M579.1 760.1h0M603.9 760.2h0M593.2 728.8h0M606.5 750.9h0M587.3 729.1h0M606.5 746.0h0M589.0 767.9h0M601.8 763.0h0M587.2 729.0h0M576.2 742.7h0M576.2 747.3h0M596.1 766.7h0M605.9 741.5h0M587.1 767.6h0M578.9 737.3h0M605.4 739.7h0M597.2 729.9h0M588.9 729.2h0M603.6 736.2h0M587.1 767.0h0M578.4 737.6h0M603.3 735.8h0M576.9 755.8h0M591.6 729.1h0M590.8 767.6h0M590.4 767.9h0M576.4 744.1h0M588.2 728.9h0M597.6 766.2h0M606.8 750.0h0M579.0 736.1h0M596.8 730.4h0M593.4 729.4h0M593.8 729.1h0M599.7 732.6h0M605.3 741.7h0M599.9 764.7h0M578.4 737.6h0M596.1 766.6h0M592.9 729.3h0M600.9 763.2h0M580.5 762.1h0M583.0 732.4h0M579.8 760.9h0M587.3 767.1h0M595.6 729.6h0M598.8 731.7h0M597.5 731.0h0M577.3 741.8h0M604.7 738.9h0M606.3 751.2h0M604.2 738.3h0M585.2 730.5h0M603.7 758.7h0M602.6 736.0h0M598.0 730.9h0M600.8 733.6h0M601.2 734.0h0M588.2 767.4h0M576.2 749.1h0M576.3 746.3h0M606.0 743.5h0M576.4 748.2h0M576.0 746.2h0M602.9 735.9h0M605.1 739.7h0M579.4 736.5h0M589.8 729.2h0M602.4 735.2h0M602.2 735.0h0M577.3 741.2h0M592.1 729.6h0M605.6 755.2h0M589.2 729.5h0M605.0 740.3h0M578.8 759.4h0M601.7 762.0h0M593.0 767.1h0M605.7 742.9h0M606.2 748.7h0M587.3 730.3h0M577.1 743.1h0M597.3 730.7h0M578.3 758.4h0M579.3 737.8h0M579.1 736.7h0M599.6 733.0h0M576.9 742.1h0M595.5 766.4h0M580.5 761.8h0M606.2 746.1h0M598.5 731.7h0M605.2 742.6h0M597.7 765.0h0M579.1 737.2h0M576.8 749.9h0M583.2 732.0h0M581.7 733.5h0M597.1 731.3h0M581.2 735.0h0M602.5 735.8h0M592.8 729.6h0M605.7 750.1h0M591.7 766.9h0M592.2 767.3h0M585.8 731.0h0M606.0 747.4h0M597.2 731.1h0M579.9 736.3h0M601.8 761.1h0M596.6 765.9h0M576.4 749.4h0M584.4 731.4h0M578.7 757.8h0M606.2 748.5h0M597.5 731.1h0M584.0 764.8h0M603.3 737.2h0M576.3 748.9h0M577.3 742.5h0M582.1 733.9h0M601.0 734.4h0M604.5 740.4h0M593.8 766.7h0M603.1 738.0h0M595.5 730.1h0M601.1 761.8h0M598.5 764.8h0M605.2 754.4h0M603.9 739.2h0M603.2 759.8h0M605.4 743.5h0M585.8 730.7h0M580.9 735.7h0M583.3 763.8h0M578.4 757.5h0M599.4 763.8h0M596.1 731.0h0M596.6 765.2h0M582.1 733.5h0M600.0 763.1h0M586.8 730.4h0M576.9 752.3h0M581.5 762.3h0M602.4 737.0h0M580.2 759.7h0M602.5 736.1h0M589.2 767.0h0M585.6 765.5h0M576.7 750.5h0M580.2 736.3h0M576.8 748.6h0M590.0 730.0h0M579.4 738.4h0M580.1 760.5h0M583.6 732.8h0M582.5 763.2h0M589.8 767.0h0M605.0 742.8h0M601.8 736.2h0M589.3 766.6h0M605.6 753.1h0M583.1 763.6h0M602.5 737.4h0M601.7 760.9h0" stroke="#4a206e" stroke-width="2.7" stroke-linecap="round"/><path d="M585.8 731.3h0M605.1 743.2h0M580.9 761.1h0M601.4 761.4h0M584.3 732.4h0M578.3 741.2h0M581.8 734.8h0M584.8 731.8h0M605.1 742.1h0M578.9 739.5h0M602.3 736.3h0M589.3 766.3h0M600.7 734.6h0M591.5 729.7h0M595.7 765.4h0M602.7 759.2h0M596.6 731.6h0M580.5 736.0h0M604.9 754.5h0M595.6 731.4h0M599.9 763.3h0M587.8 730.9h0M599.0 764.1h0M582.3 762.1h0M584.0 732.6h0M605.5 750.2h0M581.4 760.8h0M597.4 764.6h0M577.3 749.2h0M595.5 730.8h0M598.1 732.1h0M590.7 766.6h0M603.4 739.0h0M596.9 765.1h0M585.3 731.6h0M586.7 765.6h0M579.3 758.2h0M603.3 738.3h0M581.1 761.4h0M605.4 746.4h0M577.6 744.6h0M576.8 748.4h0M585.8 731.4h0M579.9 737.8h0M594.9 731.3h0M591.3 729.9h0M601.4 735.7h0M587.0 730.7h0M578.0 742.5h0M583.7 733.0h0M586.3 731.4h0M577.7 743.0h0M600.3 762.6h0M585.7 764.8h0M597.0 765.1h0M577.1 746.4h0M578.0 754.9h0M592.6 730.9h0M587.2 731.1h0M600.0 762.0h0M577.4 751.7h0M594.1 731.2h0M604.9 746.3h0M603.5 740.2h0M592.8 730.2h0M592.4 730.8h0M603.8 740.4h0M591.8 730.4h0M587.2 731.4h0M584.6 732.4h0M602.7 737.3h0M602.5 737.0h0M596.4 765.3h0M586.6 764.7h0M587.6 731.3h0M582.2 735.2h0M578.4 740.8h0M603.3 757.0h0M577.4 743.9h0M603.7 740.0h0M585.6 765.1h0M599.4 733.4h0M590.2 730.9h0M590.2 730.4h0M587.7 766.0h0M582.9 733.8h0M590.8 730.5h0M577.9 744.2h0M582.9 733.6h0M593.3 731.0h0M589.3 730.8h0M592.4 730.5h0M583.0 734.5h0M602.3 759.2h0M603.6 756.8h0M582.5 734.1h0M579.9 758.8h0M577.8 743.4h0M590.0 766.2h0M579.6 757.8h0M600.6 761.1h0M584.5 732.7h0M577.4 748.9h0M593.1 765.5h0M577.7 745.5h0M577.5 746.6h0M604.0 741.8h0M599.3 762.1h0M596.2 732.2h0M596.1 764.7h0M580.0 757.9h0M590.1 730.8h0M581.2 736.5h0M594.2 731.1h0M578.5 742.0h0M577.9 746.9h0M592.9 730.6h0M602.7 738.5h0M579.4 757.2h0M593.2 731.5h0M598.7 763.4h0M603.8 740.3h0M580.8 737.0h0M596.5 731.8h0M580.2 737.4h0M601.7 759.7h0M605.0 746.6h0M577.6 749.3h0M600.4 735.5h0M593.9 731.1h0M602.1 737.7h0M605.0 749.2h0M597.4 732.9h0M580.8 738.0h0M603.3 756.1h0M581.9 735.3h0M602.7 739.3h0M602.8 740.0h0M592.0 730.7h0M588.4 765.5h0M605.0 745.3h0M605.0 750.6h0M604.5 752.5h0M602.3 757.7h0M577.5 746.5h0M595.1 732.2h0M592.2 731.6h0M600.8 760.8h0M579.7 739.8h0M586.9 732.1h0M587.7 765.3h0M601.7 758.9h0M600.3 760.6h0M593.4 731.8h0M590.5 731.3h0M579.2 755.0h0M603.6 754.4h0M596.5 763.9h0M604.0 753.7h0M597.7 733.7h0M580.6 738.3h0M579.2 755.1h0M605.1 748.0h0M577.8 747.7h0M602.0 738.8h0M604.3 751.4h0M578.1 748.9h0M601.2 737.3h0M593.7 731.5h0M577.8 747.8h0M593.5 731.9h0M595.4 765.0h0M591.4 730.8h0M587.0 764.5h0M600.7 736.7h0M599.8 761.4h0M602.2 739.2h0M593.0 731.4h0M583.8 762.4h0M579.5 756.6h0M587.0 732.4h0M592.0 731.1h0M597.8 763.0h0M592.9 731.3h0M589.6 764.8h0M602.6 738.6h0M580.7 758.7h0M597.9 733.6h0M579.7 756.5h0M578.4 746.0h0M596.0 732.0h0M601.9 738.0h0M580.2 758.3h0M593.9 732.1h0M581.8 759.8h0M604.0 744.1h0M583.3 734.5h0M586.9 732.5h0M588.7 732.1h0M584.1 762.2h0M578.3 751.6h0M589.1 764.7h0M584.4 733.7h0M604.1 744.8h0M586.2 733.0h0M579.2 742.1h0M589.2 731.9h0M595.9 763.8h0M598.1 734.3h0M596.4 764.0h0M578.8 752.4h0M589.0 764.9h0M580.8 738.2h0M604.5 751.2h0M592.7 731.8h0M604.5 750.7h0M582.9 735.4h0M595.3 732.5h0M594.0 732.2h0M600.8 736.5h0M599.7 760.9h0M598.2 762.9h0M601.9 738.3h0M592.6 731.3h0M588.1 732.4h0M591.2 732.0h0M603.9 750.6h0M604.3 746.1h0M578.5 743.4h0M581.3 737.5h0M587.6 764.7h0M597.1 733.3h0M585.4 763.3h0M602.0 738.5h0M579.0 742.2h0M578.8 754.2h0M604.0 753.0h0M598.0 733.8h0M591.3 732.1h0M586.9 732.3h0M592.1 731.8h0M589.5 732.3h0M583.6 735.1h0M595.9 732.5h0M587.2 733.0h0M590.2 732.2h0M579.1 742.8h0M597.5 733.6h0M596.1 733.2h0M578.5 746.5h0M589.7 732.1h0M585.3 733.2h0M580.1 755.7h0M599.5 735.0h0M580.2 740.1h0M588.1 764.4h0M587.3 732.7h0M589.6 765.0h0M580.6 738.6h0M582.6 760.2h0M598.5 761.6h0M599.4 735.0h0M592.9 732.0h0M603.1 741.3h0M590.0 732.2h0M579.4 754.0h0M581.0 739.0h0M596.0 763.3h0M584.7 733.9h0M599.4 760.7h0M588.0 732.1h0M580.0 739.6h0M582.9 736.3h0M589.0 764.0h0M579.0 753.5h0M584.8 734.1h0M601.2 758.0h0M603.9 744.5h0M590.0 765.1h0M597.2 734.4h0M582.8 760.5h0M595.5 763.7h0M602.5 739.9h0M582.5 760.3h0M579.7 741.3h0M594.6 763.6h0M604.0 749.0h0M602.5 755.3h0M593.0 732.0h0M580.2 741.3h0M579.6 754.8h0M583.5 736.2h0M588.6 733.0h0M600.5 759.2h0M592.4 764.7h0M579.3 742.1h0M594.7 732.3h0M595.9 733.1h0M593.4 732.4h0M604.1 748.3h0M585.3 734.1h0M590.0 764.9h0M586.7 732.8h0M588.4 732.6h0M592.9 732.3h0M602.3 739.7h0M594.8 732.5h0M597.2 734.5h0M598.7 735.0h0M584.4 761.5h0M590.2 731.9h0M602.1 757.3h0M596.4 763.2h0M604.2 747.2h0M600.0 760.1h0M593.0 732.3h0M593.8 732.2h0M598.2 761.4h0M579.0 744.9h0M581.8 737.1h0M600.1 760.2h0M584.6 735.1h0M600.8 737.6h0M603.4 742.8h0M599.5 735.8h0M594.0 732.2h0M601.1 758.5h0M603.9 752.0h0M602.8 753.8h0M595.1 733.5h0M583.5 760.9h0M603.7 748.1h0M586.9 733.9h0M591.7 764.1h0M588.9 732.8h0M594.8 764.1h0M589.1 763.9h0M582.4 760.3h0M588.9 732.2h0M597.7 734.8h0" stroke="#4a216f" stroke-width="2.7" stroke-linecap="round"/><path d="M579.3 752.0h0M583.5 735.4h0M597.6 734.9h0M596.3 762.5h0M587.4 733.7h0M579.3 743.0h0M604.0 750.2h0M582.9 736.8h0M586.3 763.2h0M592.7 732.8h0M600.1 736.8h0M588.5 764.2h0M587.0 733.9h0M580.7 756.9h0M579.8 754.5h0M595.4 763.3h0M601.5 756.2h0M584.3 735.2h0M580.0 743.3h0M599.0 735.4h0M601.3 739.4h0M592.8 732.3h0M601.2 739.4h0M592.2 733.0h0M587.1 763.3h0M580.4 740.0h0M586.7 733.6h0M581.1 739.9h0M587.4 733.4h0M602.4 755.8h0M596.7 734.7h0M600.9 757.8h0M582.5 737.8h0M596.2 733.6h0M595.7 733.2h0M590.3 763.8h0M586.3 733.7h0M601.0 738.6h0M603.2 753.0h0M584.9 734.8h0M587.6 733.1h0M584.5 761.6h0M588.4 733.0h0M599.8 759.0h0M586.9 733.9h0M588.1 733.4h0M579.6 745.7h0M589.3 732.5h0M600.6 758.7h0M601.4 756.7h0M592.1 763.6h0M582.7 737.8h0M597.0 761.5h0M583.2 737.3h0M603.6 750.5h0M594.8 762.7h0M596.7 734.0h0M583.1 736.6h0M591.2 733.3h0M586.2 734.0h0M599.8 736.8h0M586.8 734.1h0M580.0 743.5h0M579.3 747.0h0M602.1 756.1h0M602.9 745.2h0M588.8 763.1h0M600.9 739.9h0M603.5 745.8h0M595.6 762.1h0M583.1 759.7h0M601.4 755.8h0M580.1 743.5h0M580.9 755.4h0M582.8 737.1h0M586.9 734.4h0M584.5 735.8h0M583.7 760.1h0M602.4 742.9h0M598.8 736.9h0M599.1 759.9h0M598.4 736.4h0M582.3 758.3h0M579.4 749.6h0M584.6 735.9h0M579.1 747.1h0M603.4 747.6h0M598.7 760.9h0M602.5 744.7h0M601.7 755.1h0M579.6 752.0h0M596.6 762.5h0M582.1 737.8h0M593.6 733.6h0M582.2 758.2h0M579.3 748.7h0M581.2 755.7h0M602.3 741.4h0M592.0 763.5h0M596.9 735.3h0M579.3 745.7h0M580.3 743.0h0M600.9 739.1h0M581.9 739.7h0M590.2 763.3h0M595.3 733.6h0M603.3 748.4h0M602.9 745.3h0M599.0 736.2h0M579.2 750.6h0M600.3 757.6h0M586.1 762.1h0M593.4 763.4h0M581.0 741.4h0M581.4 757.1h0M582.4 737.8h0M589.0 763.6h0M599.4 759.2h0M580.8 753.9h0M588.0 734.3h0M592.9 762.9h0M595.8 761.7h0M587.6 733.8h0M598.6 736.4h0M588.4 734.0h0M601.4 741.8h0M590.3 762.8h0M589.0 734.0h0M597.0 761.0h0M602.7 747.2h0M598.5 736.2h0M590.7 733.2h0M582.9 738.4h0M591.0 732.8h0M579.5 747.6h0M582.7 737.4h0M580.0 753.2h0M579.2 746.8h0M601.9 742.3h0M584.4 735.6h0M588.1 763.0h0M594.8 733.6h0M593.3 733.5h0M580.1 746.1h0M597.1 761.3h0M589.5 733.9h0M597.9 736.2h0M581.7 740.3h0M587.2 762.4h0M581.1 755.0h0M586.7 734.3h0M580.2 752.6h0" stroke="#4a2270" stroke-width="2.7" stroke-linecap="round"/><path d="M585.5 735.1h0M598.9 737.8h0M579.6 745.3h0M601.9 753.1h0M590.6 733.6h0M591.9 733.2h0M600.5 740.0h0M579.8 750.1h0M598.0 760.7h0M601.2 741.4h0M579.9 751.4h0M581.6 740.1h0M591.2 733.7h0M580.0 752.7h0M599.6 757.9h0M580.1 748.0h0M593.9 733.8h0M589.2 734.1h0M602.8 748.8h0M592.1 763.5h0M600.5 756.3h0M591.6 733.4h0M580.5 742.8h0M580.3 749.2h0M583.0 737.6h0M583.5 737.4h0M580.3 753.5h0M593.6 762.4h0M595.5 734.8h0M579.9 750.9h0M579.6 748.8h0M583.3 737.6h0M602.0 744.8h0M583.7 736.8h0M579.7 749.9h0M581.7 739.6h0M585.3 735.8h0M597.9 736.0h0M583.3 737.6h0M581.5 755.5h0M588.6 762.7h0M593.9 734.8h0M580.5 745.9h0M598.0 737.2h0M595.7 735.3h0M601.7 743.9h0M598.7 736.8h0M588.7 733.8h0M596.8 735.9h0M597.0 736.4h0M588.5 734.3h0M597.3 761.2h0M589.6 733.9h0M602.4 749.2h0M601.8 753.3h0M580.1 744.6h0M580.4 750.6h0M600.9 740.9h0M599.3 738.3h0M583.3 758.2h0M594.4 734.3h0M595.4 735.3h0M587.8 761.6h0M601.5 744.1h0M582.8 757.2h0M593.0 733.9h0M600.9 741.6h0M582.5 756.8h0M580.0 749.3h0M597.3 760.5h0M602.1 743.0h0M581.3 741.0h0M581.3 754.9h0M580.0 750.7h0M595.3 762.2h0M601.2 741.1h0M584.4 760.0h0M601.2 754.7h0M596.0 735.1h0M580.1 745.7h0M602.2 746.2h0M580.9 744.1h0M580.1 747.2h0M601.7 750.8h0M599.4 757.6h0M580.6 752.1h0M588.8 762.4h0M587.4 762.1h0M601.9 745.0h0M598.3 737.8h0M584.2 737.3h0M600.8 756.1h0M590.1 734.1h0M587.5 734.7h0M600.1 740.0h0M588.4 735.0h0M600.8 755.9h0M589.9 734.2h0M602.7 747.9h0M597.3 760.6h0M601.9 747.8h0M590.3 762.3h0M587.8 761.8h0M587.3 735.7h0M601.6 751.9h0M601.8 748.3h0M580.2 747.6h0M588.0 735.2h0M597.5 737.0h0M599.6 739.8h0M597.7 759.5h0M602.0 747.4h0M581.9 741.6h0M600.9 756.1h0M593.1 735.1h0M593.5 734.6h0M596.0 761.5h0M586.4 735.9h0M601.8 746.7h0M598.0 737.8h0M601.5 746.2h0" stroke="#492975" stroke-width="2.7" stroke-linecap="round"/><path d="M585.6 760.2h0M599.3 738.2h0M580.5 750.0h0M587.3 760.7h0M599.6 740.3h0M600.0 741.0h0M586.9 735.9h0M585.7 737.2h0M586.6 760.4h0M596.7 736.2h0M587.6 734.9h0M584.3 737.8h0M597.8 737.2h0M601.5 742.7h0M601.9 747.1h0M592.1 735.0h0M582.9 757.0h0M591.1 734.3h0M580.7 751.6h0M580.6 748.9h0M583.3 739.4h0M599.7 740.3h0M580.7 751.8h0M598.3 737.9h0M601.6 744.5h0M600.8 742.0h0M580.8 745.9h0M581.1 751.1h0M599.2 757.9h0M601.6 744.5h0M589.2 762.2h0M581.8 742.1h0M595.8 735.9h0M580.5 747.1h0M601.9 748.5h0M582.4 740.1h0M582.7 755.4h0M589.5 762.1h0M589.9 735.1h0M581.3 753.2h0M583.8 758.7h0M601.0 744.2h0M599.5 739.8h0M600.7 742.7h0M597.1 737.8h0M582.6 756.9h0M581.3 743.4h0M589.1 734.9h0M601.8 744.2h0M593.6 735.4h0M598.7 739.4h0M580.6 746.9h0M584.8 737.5h0M587.2 736.2h0M601.0 754.8h0M580.8 744.0h0M581.5 743.8h0M595.6 760.3h0M598.8 738.1h0M589.4 761.2h0M594.1 761.9h0M596.8 736.7h0M589.2 734.6h0M587.4 760.5h0M601.2 743.5h0M595.2 761.4h0M590.0 735.1h0M601.3 745.6h0M601.1 742.9h0M601.8 745.1h0M580.5 750.2h0M580.9 749.4h0M595.2 736.4h0M596.4 760.1h0M583.6 758.1h0M596.1 736.4h0M599.2 739.6h0M581.5 750.8h0M580.7 751.3h0M585.1 759.3h0M596.9 760.2h0M582.7 755.1h0M581.5 742.7h0M593.8 761.1h0M602.1 749.5h0M601.7 747.5h0M594.0 760.7h0M582.8 740.9h0M581.9 742.7h0M587.2 760.7h0M601.5 751.2h0M601.7 751.3h0M595.0 735.8h0M601.9 750.0h0M583.4 739.6h0M587.3 735.5h0M587.3 759.8h0M581.0 745.4h0M601.7 746.0h0M596.5 759.4h0M581.3 747.0h0M597.4 737.1h0M600.2 741.7h0M591.3 734.9h0M592.0 761.5h0M586.2 759.6h0M581.6 753.1h0M599.9 741.1h0M594.3 735.4h0M601.3 748.7h0M590.8 734.7h0M594.5 760.6h0M595.5 759.7h0M591.6 761.3h0M585.1 737.4h0M598.2 739.5h0M601.1 744.6h0M584.2 738.3h0M601.7 746.6h0M601.2 751.0h0M583.5 757.3h0M581.5 747.8h0M588.4 735.7h0M581.0 747.6h0M598.6 757.0h0M596.1 736.9h0M596.1 736.2h0M601.2 750.1h0M587.5 760.1h0M600.7 753.1h0M592.7 736.0h0M582.1 751.8h0M590.9 761.7h0M589.3 760.3h0M601.2 744.7h0M586.4 759.0h0M585.3 759.5h0" stroke="#48307a" stroke-width="2.7" stroke-linecap="round"/><path d="M586.7 737.0h0M591.6 734.9h0M591.9 761.2h0M583.7 756.9h0M584.4 738.7h0M591.5 735.1h0M584.5 738.5h0M599.0 740.3h0M601.0 748.5h0M600.1 741.1h0M585.9 737.8h0M594.4 760.5h0M584.7 738.0h0M601.5 746.7h0M601.7 749.1h0M600.6 742.2h0M590.0 736.0h0M599.3 740.6h0M582.9 754.6h0M590.9 735.8h0M591.5 735.9h0M600.7 747.4h0M582.9 741.6h0M600.3 743.7h0M589.6 735.8h0M592.3 761.5h0M594.5 736.9h0M589.1 736.3h0M598.2 739.0h0M584.0 740.5h0M582.0 746.5h0M601.3 748.0h0M584.0 756.7h0M599.7 754.7h0M589.1 735.8h0M586.8 758.9h0M596.6 737.4h0M593.0 736.4h0M584.8 738.1h0M583.1 742.1h0M595.0 760.0h0M584.0 739.1h0M581.7 748.9h0M582.2 742.3h0M601.4 750.1h0M586.2 737.4h0M597.4 757.7h0M587.4 759.3h0M584.3 740.6h0M582.3 754.4h0M589.9 736.4h0M593.0 761.0h0M589.8 736.7h0M598.8 756.6h0M583.2 740.2h0M601.3 750.1h0M590.0 736.2h0M583.8 739.9h0M595.6 737.3h0M583.9 739.8h0M594.2 759.6h0M600.5 748.7h0M587.5 760.2h0M596.7 738.3h0M598.9 741.9h0M601.2 747.1h0M582.8 753.8h0M593.9 736.2h0M596.4 737.9h0M586.8 758.7h0M582.8 754.1h0M587.7 736.2h0M581.7 751.8h0M599.9 753.1h0M601.3 749.5h0M584.4 757.2h0M592.8 736.0h0M583.4 740.3h0M587.5 759.8h0M591.3 760.6h0M600.7 746.4h0M591.3 736.6h0M595.9 759.0h0M588.7 759.9h0M582.3 752.2h0M594.9 737.8h0M600.6 745.4h0M595.3 736.9h0M595.6 737.1h0M593.8 737.0h0M600.3 745.4h0M583.0 743.1h0M583.7 742.0h0M599.4 753.6h0M587.2 758.5h0M599.3 753.9h0M599.2 741.9h0M600.4 752.1h0M599.6 752.8h0M593.1 760.6h0M586.1 758.8h0M585.4 757.8h0M595.1 737.4h0M582.5 753.3h0M598.4 757.2h0M595.0 737.4h0M591.7 760.5h0M596.0 738.7h0M585.2 738.5h0M593.9 737.1h0M588.6 736.7h0M587.3 738.1h0M596.7 757.2h0M582.6 743.0h0M595.9 737.8h0M582.7 745.4h0M583.9 755.0h0M585.7 738.6h0M582.5 743.9h0M599.5 742.5h0" stroke="#47377f" stroke-width="2.7" stroke-linecap="round"/><path d="M596.4 738.2h0M586.6 759.1h0M581.9 752.1h0M592.1 736.9h0M587.2 737.1h0M598.3 740.6h0M581.7 746.1h0M585.3 758.3h0M589.4 760.4h0M582.0 749.0h0M589.6 737.2h0M600.4 752.4h0M585.5 739.0h0M594.7 759.6h0M588.8 760.2h0M600.2 745.9h0M599.6 743.3h0M597.5 739.3h0M600.7 745.7h0M582.2 748.3h0M599.6 754.8h0M591.3 736.5h0M599.0 754.2h0M597.3 757.2h0M596.7 738.1h0M583.2 741.5h0M593.5 736.5h0M588.4 759.7h0M592.2 737.3h0M594.3 737.0h0M596.4 738.9h0M585.9 738.4h0M589.2 736.9h0M600.5 750.1h0M600.5 745.3h0M592.0 759.9h0M588.4 759.9h0M586.0 738.2h0M586.9 739.0h0M592.9 760.2h0M597.1 738.8h0M592.2 737.5h0M599.8 749.5h0M590.6 737.1h0M582.6 752.5h0M585.2 739.4h0M582.9 743.7h0M585.0 740.2h0M600.8 748.9h0M586.0 739.4h0M587.3 738.3h0M591.9 760.1h0M594.1 738.1h0M582.6 746.2h0M582.2 751.5h0M599.7 745.2h0M582.6 751.5h0M583.1 754.4h0M583.3 754.4h0M587.8 737.9h0M584.8 741.4h0M592.8 759.9h0M589.4 759.6h0M582.4 749.5h0M583.1 743.8h0M595.3 757.9h0M583.4 743.3h0M600.7 747.9h0M587.7 738.1h0M590.4 737.5h0M588.6 758.6h0M582.7 750.2h0M593.9 758.7h0M599.8 743.6h0M592.0 759.5h0M582.4 746.2h0M596.3 757.9h0M583.0 746.6h0M590.8 737.8h0M598.4 740.6h0M600.4 751.0h0M587.3 757.5h0M590.8 737.8h0M593.9 737.6h0M590.8 736.7h0M585.6 740.2h0M592.3 759.2h0M587.6 737.4h0M597.7 755.5h0M594.8 758.4h0M595.6 758.8h0M582.8 745.9h0M591.5 759.3h0M582.8 748.8h0M583.4 750.8h0M584.8 742.2h0M592.0 736.5h0M588.5 737.6h0M583.1 750.7h0M587.1 738.5h0M597.8 756.6h0M600.3 747.7h0M592.1 737.4h0M595.7 738.1h0M582.3 746.4h0M600.0 752.3h0M599.1 752.8h0M583.5 751.0h0M595.9 756.8h0M592.1 759.2h0M585.3 756.0h0M597.0 756.9h0M591.3 737.0h0M592.3 737.4h0M590.1 758.8h0M590.3 759.5h0" stroke="#463e84" stroke-width="2.7" stroke-linecap="round"/><path d="M588.1 738.6h0M584.3 743.3h0M584.3 754.4h0M595.9 738.9h0M583.2 742.9h0M587.3 738.6h0M595.6 738.3h0M583.0 751.5h0M591.6 737.7h0M593.5 737.0h0M595.8 758.0h0M595.3 739.3h0M597.9 754.4h0M586.8 739.2h0M591.8 737.6h0M583.8 752.0h0M599.3 745.9h0M596.5 757.3h0M596.3 739.3h0M583.2 750.8h0M590.7 759.8h0M586.7 757.1h0M584.1 752.3h0M585.2 756.9h0M589.9 758.3h0M590.9 738.0h0M585.6 739.5h0M582.8 746.9h0M591.3 738.4h0M592.7 759.2h0M593.8 758.8h0M583.6 742.9h0M589.0 738.0h0M599.1 752.7h0M599.5 745.1h0M596.4 739.8h0M585.1 741.0h0M596.3 757.4h0M597.5 741.8h0M593.2 758.0h0M595.4 738.9h0M592.8 738.1h0M593.3 737.3h0M585.4 755.0h0M584.8 753.9h0M594.6 739.5h0M584.9 742.5h0M591.9 758.7h0M598.4 743.1h0M589.7 738.4h0M586.9 758.0h0M598.7 745.8h0M592.7 737.2h0M597.6 742.8h0M587.6 738.2h0M597.6 754.6h0M583.1 749.5h0M599.5 746.0h0M586.6 738.9h0M586.8 739.8h0M583.0 745.8h0M597.2 740.3h0M584.2 754.6h0M586.9 756.8h0M598.6 742.4h0M589.9 758.3h0M591.8 737.7h0M583.1 747.7h0M582.9 746.2h0M597.3 756.1h0M598.2 742.1h0M586.6 757.4h0M597.0 755.0h0M592.5 737.4h0M583.1 751.3h0M584.3 744.4h0M583.5 748.0h0M588.2 757.1h0M589.7 739.0h0M593.1 739.1h0M587.3 740.1h0M583.5 746.0h0M598.9 752.4h0M588.4 757.2h0M593.1 739.0h0M592.0 738.9h0M585.2 756.0h0M584.0 742.8h0M588.4 738.5h0M596.7 754.9h0M584.8 754.2h0M595.5 756.2h0M599.0 743.4h0M599.1 753.0h0M599.4 745.1h0M587.3 740.5h0M596.6 741.1h0M599.8 748.3h0M598.4 742.7h0M585.1 741.2h0M594.8 738.8h0M597.0 741.2h0M583.9 753.7h0M594.5 758.0h0M597.7 742.3h0M589.3 758.3h0M586.1 756.7h0M588.0 757.9h0M589.7 758.7h0" stroke="#444989" stroke-width="2.7" stroke-linecap="round"/><path d="M585.7 756.4h0M595.3 739.5h0M589.5 738.4h0M583.3 744.7h0M593.7 739.1h0M599.2 751.5h0M587.3 756.7h0M597.2 741.8h0M596.6 739.9h0M591.2 739.0h0M598.4 747.1h0M592.7 739.1h0M593.2 739.4h0M583.7 747.6h0M597.8 753.9h0M598.9 744.3h0M583.9 751.5h0M585.2 743.3h0M585.8 754.2h0M592.1 738.1h0M594.6 739.2h0M584.6 744.0h0M588.5 738.4h0M591.3 758.2h0M598.1 753.2h0M584.4 745.2h0M591.9 758.7h0M597.7 753.2h0M599.1 746.0h0M595.8 756.3h0M599.6 746.8h0M598.6 749.2h0M585.2 755.4h0M589.3 757.4h0M594.5 756.7h0M584.3 747.8h0M598.8 750.6h0M597.1 755.0h0M596.1 756.6h0M597.0 740.6h0M584.8 753.8h0M589.8 738.5h0M597.7 743.0h0M595.5 739.4h0M598.2 745.5h0M590.0 758.2h0M584.3 751.6h0M587.6 739.4h0M599.3 747.3h0M584.3 743.8h0M599.1 750.9h0M597.7 742.1h0M584.6 742.5h0M594.0 738.9h0M583.9 750.6h0M585.1 753.4h0M593.8 738.5h0M589.0 739.9h0M593.5 758.4h0M587.6 739.2h0M587.6 756.2h0M592.2 738.4h0M596.5 754.5h0M584.8 751.5h0M591.0 758.8h0M586.8 741.2h0M593.7 757.1h0M586.9 740.6h0M583.8 744.1h0M597.9 743.0h0M591.2 739.6h0M590.6 738.4h0M598.0 742.5h0M590.9 757.7h0M597.4 753.0h0M589.9 739.0h0M583.5 751.3h0M594.7 740.2h0M586.8 741.3h0M592.0 758.0h0M584.1 752.1h0M598.1 744.9h0M585.3 753.2h0M586.2 741.2h0M595.1 739.7h0M591.7 739.7h0M587.6 756.8h0M589.5 738.4h0M596.5 754.3h0M591.7 757.6h0M587.8 757.1h0M587.1 740.1h0M584.1 752.3h0M585.7 741.8h0M594.9 740.5h0M586.5 740.7h0M597.3 741.9h0M587.8 756.3h0M585.2 742.3h0M586.7 755.0h0M598.6 746.1h0M587.4 741.5h0M598.8 747.5h0M591.1 756.9h0M595.1 755.1h0M584.0 747.0h0M593.7 757.2h0M598.2 745.8h0M592.0 757.4h0M583.6 747.8h0M588.8 757.1h0M589.6 739.5h0M593.1 757.5h0M597.3 743.1h0M592.0 739.8h0M598.3 745.3h0M590.9 756.5h0M587.1 741.9h0M584.5 752.4h0" stroke="#41548f" stroke-width="2.7" stroke-linecap="round"/><path d="M596.9 754.2h0M588.6 756.8h0M583.9 750.8h0M585.0 745.6h0M592.9 757.9h0M588.1 739.8h0M588.0 756.7h0M583.5 749.2h0M591.8 740.2h0M588.4 741.2h0M597.5 745.9h0M583.6 747.1h0M598.5 747.1h0M597.7 743.4h0M597.6 750.4h0M595.8 755.8h0M597.4 744.4h0M595.5 756.4h0M596.5 743.3h0M585.8 754.0h0M593.2 739.6h0M583.9 748.6h0M595.7 754.3h0M587.5 740.8h0M597.6 744.7h0M595.6 740.6h0M584.8 743.5h0M588.3 739.9h0M594.0 739.5h0M593.3 740.8h0M584.7 747.5h0M586.3 743.1h0M584.3 748.5h0M587.7 739.8h0M594.1 740.7h0M590.2 756.8h0M598.3 745.6h0M594.2 740.3h0M587.9 755.0h0M591.4 738.9h0M591.3 756.3h0M584.4 747.3h0M596.8 743.1h0M585.9 742.9h0M594.1 739.7h0M586.9 741.9h0M592.5 757.6h0M596.0 755.6h0M595.5 740.4h0M597.3 753.6h0M598.0 752.2h0M584.7 744.0h0M584.5 746.8h0M592.2 740.6h0M585.7 745.0h0M584.8 751.4h0M592.2 757.2h0M598.1 749.1h0M587.2 742.8h0M597.9 745.1h0M595.3 741.1h0M588.3 756.5h0M594.5 755.2h0M594.1 755.9h0M590.4 756.9h0M587.9 754.9h0M598.3 746.1h0M589.7 756.8h0M584.7 748.5h0M586.6 743.0h0M593.1 757.2h0M588.9 740.5h0M597.8 750.6h0M586.2 743.1h0M596.9 744.9h0M595.7 742.7h0M586.5 754.0h0M585.0 748.3h0M584.2 748.4h0M591.3 740.9h0M585.5 751.5h0M597.1 747.8h0M595.4 755.8h0M591.9 756.6h0M586.4 754.7h0M589.2 740.4h0M596.4 744.8h0M585.4 752.3h0M585.8 753.4h0M597.6 746.8h0M593.8 756.2h0M586.4 741.9h0M593.2 740.4h0M593.9 740.0h0M597.3 748.1h0M585.7 749.3h0M597.1 753.0h0M585.7 752.0h0M597.2 748.1h0M586.3 753.4h0" stroke="#3f6094" stroke-width="2.7" stroke-linecap="round"/><path d="M591.7 740.3h0M584.8 746.3h0M588.3 756.4h0M587.8 741.6h0M590.7 739.8h0M594.5 740.9h0M588.7 740.1h0M591.2 757.1h0M591.3 757.4h0M588.2 742.5h0M597.2 747.1h0M590.2 756.5h0M587.4 755.2h0M597.7 747.1h0M591.2 739.7h0M593.6 740.4h0M585.0 750.8h0M590.3 740.0h0M593.8 742.0h0M591.9 741.4h0M585.4 748.1h0M585.7 746.7h0M591.1 756.2h0M591.0 740.8h0M587.9 742.2h0M594.5 740.5h0M588.8 741.4h0M590.5 741.1h0M590.8 755.3h0M588.1 755.6h0M584.4 749.8h0M595.1 754.7h0M586.1 753.6h0M593.5 755.0h0M591.6 741.2h0M596.6 743.1h0M588.5 756.4h0M596.3 742.6h0M596.6 752.3h0M596.9 752.4h0M585.9 749.1h0M593.6 754.9h0M595.7 752.8h0M596.0 752.4h0M586.9 744.0h0M595.4 742.6h0M585.5 750.3h0M585.6 746.6h0M584.9 749.0h0M589.1 754.5h0M597.9 750.4h0M588.1 754.1h0M596.6 750.7h0M595.9 742.6h0M588.3 756.0h0M589.9 741.3h0M590.4 739.9h0M592.2 756.3h0M587.5 755.4h0M586.0 753.0h0M588.5 742.1h0M596.4 752.7h0M589.1 741.7h0M594.3 753.4h0M594.9 743.2h0M596.1 746.5h0M590.8 740.6h0M589.5 754.9h0M586.3 742.8h0M596.1 744.6h0M590.1 740.2h0M585.8 746.7h0M587.2 753.2h0M586.9 744.0h0M595.7 742.9h0M587.6 755.1h0M595.9 751.5h0M587.3 744.1h0M589.0 754.1h0M593.9 755.0h0M595.5 745.1h0M589.9 755.4h0M596.8 746.3h0M595.7 744.6h0M585.3 750.0h0M585.7 752.6h0M597.6 747.8h0M596.0 749.7h0M596.8 751.7h0M587.4 754.1h0M588.3 753.9h0M592.4 741.5h0M592.6 741.0h0M592.4 742.2h0M591.7 754.4h0M589.9 755.8h0M588.1 755.3h0M591.1 756.0h0M590.0 754.8h0M586.6 743.4h0" stroke="#3e6f94" stroke-width="2.7" stroke-linecap="round"/><path d="M597.6 747.7h0M587.1 744.0h0M591.7 742.0h0M586.5 744.8h0M586.1 746.1h0M597.6 749.6h0M592.2 741.4h0M588.3 742.5h0M589.4 754.3h0M585.9 745.1h0M589.9 742.9h0M590.3 754.4h0M586.6 747.3h0M593.1 753.6h0M586.5 746.9h0M596.2 751.7h0M589.7 743.0h0M589.0 753.3h0M586.2 744.3h0M586.8 753.6h0M594.7 741.8h0M590.7 742.7h0M594.3 753.7h0M588.1 742.3h0M594.9 754.5h0M590.6 742.2h0M589.2 741.3h0M595.3 743.8h0M596.5 748.1h0M596.8 750.5h0M587.7 751.9h0M588.2 743.3h0M590.5 740.6h0M593.9 754.9h0M596.4 748.9h0M589.2 742.7h0M586.5 747.5h0M586.4 744.7h0M596.5 750.6h0M593.6 754.5h0M595.8 751.7h0M586.5 748.3h0M593.9 741.5h0M591.6 741.1h0M594.2 743.8h0M594.0 741.6h0M587.3 746.9h0M588.5 753.8h0M587.4 742.4h0M592.1 753.8h0M586.7 746.4h0M594.9 745.4h0M589.8 755.3h0M596.6 744.7h0M588.6 752.8h0M587.2 743.9h0M593.3 742.7h0M596.0 748.6h0M593.4 753.5h0M587.0 748.1h0M594.9 742.8h0M587.7 743.4h0M596.4 752.2h0M590.7 741.8h0M596.7 746.1h0M591.4 755.2h0M596.5 746.7h0M593.3 742.5h0M595.0 746.1h0M595.0 751.8h0M594.0 743.0h0M587.3 744.8h0M588.8 753.3h0M596.2 748.7h0M595.5 749.9h0M592.8 742.3h0M596.8 748.8h0M592.4 754.0h0M595.6 747.9h0M596.4 747.1h0M596.0 746.7h0M591.9 753.1h0M592.5 753.3h0M588.9 754.2h0M593.1 753.2h0M586.9 749.9h0M592.3 753.4h0M587.5 746.5h0M587.7 743.8h0M589.7 742.4h0M589.0 754.9h0M593.5 741.6h0" stroke="#3e8291" stroke-width="2.7" stroke-linecap="round"/><path d="M592.5 754.3h0M590.7 753.1h0M592.0 741.3h0M587.4 746.7h0M594.8 742.8h0M596.5 748.0h0M596.7 750.6h0M594.7 750.5h0M595.4 744.6h0M590.7 743.1h0M594.2 754.5h0M588.1 744.4h0M596.1 745.9h0M585.8 749.7h0M588.2 744.8h0M587.8 747.1h0M594.3 750.7h0M589.0 754.4h0M587.4 748.9h0M591.2 741.2h0M590.6 743.4h0M595.5 749.4h0M594.9 748.3h0M586.6 750.5h0M587.3 747.1h0M590.7 743.4h0M592.7 754.5h0M585.8 747.8h0M595.2 750.9h0M594.5 746.2h0M587.4 748.1h0M589.0 742.0h0M589.4 744.0h0M595.2 753.0h0M594.7 750.9h0M592.6 753.5h0M594.0 752.1h0M593.3 753.5h0M593.3 753.7h0M586.1 746.9h0M593.4 753.5h0M588.8 753.8h0M595.9 751.3h0M596.5 746.9h0M594.8 751.7h0M591.4 743.3h0M589.5 743.9h0M589.8 753.2h0M587.3 745.6h0M594.3 746.7h0M588.5 745.6h0M595.6 750.5h0M590.6 741.8h0M595.8 745.0h0M593.6 744.1h0M589.1 753.2h0M591.9 753.4h0M587.5 751.4h0M588.4 750.2h0M587.0 745.4h0M589.3 746.0h0M588.5 746.6h0M595.8 748.3h0M589.2 751.8h0M594.8 747.3h0M588.3 752.3h0M586.5 748.1h0M586.7 748.9h0M588.7 744.2h0M594.8 751.8h0M591.9 754.0h0M592.9 744.3h0M590.6 743.6h0M588.5 746.1h0M595.2 747.4h0M591.3 745.1h0M595.6 748.3h0M587.7 750.8h0M588.5 749.4h0M594.0 751.5h0M587.9 752.9h0M590.2 751.2h0M594.5 751.3h0M592.1 752.2h0M588.0 748.8h0M593.3 751.6h0" stroke="#3e948e" stroke-width="2.7" stroke-linecap="round"/><path d="M592.4 754.3h0M594.5 748.6h0M593.4 748.0h0M590.8 751.1h0M588.5 751.4h0M593.5 753.7h0M595.3 750.1h0M589.2 746.4h0M592.6 743.8h0M590.4 744.4h0M588.0 745.8h0M587.3 750.9h0M594.3 748.0h0M591.2 752.3h0M591.4 742.8h0M590.4 751.3h0M595.0 747.3h0M592.1 752.2h0M591.3 754.3h0M589.2 746.1h0M590.4 754.0h0M594.3 745.0h0M591.5 744.6h0M593.0 747.6h0M594.1 748.0h0M594.1 744.9h0M593.7 745.1h0M587.4 747.4h0M591.0 754.1h0M594.7 751.4h0M590.7 743.9h0M593.6 746.2h0M595.2 749.2h0M588.6 752.2h0M595.2 748.3h0M594.4 745.4h0M591.2 746.5h0M593.5 744.6h0M590.6 743.7h0M592.2 749.4h0M593.2 750.4h0M589.1 750.2h0M591.5 749.8h0M588.7 750.4h0M594.0 744.9h0M591.4 743.7h0M588.1 750.6h0M592.6 746.3h0M590.2 743.8h0M589.7 748.0h0M595.0 749.5h0M590.7 749.2h0M593.8 749.2h0M589.3 747.3h0M590.1 746.5h0M590.8 750.1h0M591.5 744.6h0M591.1 743.7h0M591.5 749.1h0M591.0 749.4h0M593.5 745.4h0M587.1 747.9h0M594.5 748.3h0M588.7 750.5h0M590.7 751.7h0M591.7 745.8h0M587.5 746.6h0M587.5 749.9h0M594.0 747.3h0M590.7 743.0h0M592.7 752.0h0M594.0 746.7h0M589.1 747.7h0M591.7 743.4h0M591.4 744.2h0M589.3 752.5h0M588.7 745.1h0M593.5 752.5h0M590.3 750.0h0M587.5 747.6h0" stroke="#5eb17d" stroke-width="2.7" stroke-linecap="round"/><path d="M592.7 752.3h0M591.8 751.6h0M595.2 747.3h0M588.7 746.6h0M588.3 749.9h0M594.0 745.5h0M592.0 752.2h0M590.9 748.1h0M589.5 752.5h0M592.0 747.8h0M593.5 745.2h0M589.5 751.5h0M588.3 745.2h0M594.4 749.1h0M588.9 747.8h0M592.1 748.4h0M592.9 751.2h0M590.9 746.6h0M590.2 751.3h0M594.0 749.8h0M590.8 752.7h0M591.0 751.9h0M593.9 748.1h0M587.8 749.9h0M590.8 748.3h0M590.9 752.0h0M589.1 749.7h0M592.7 746.5h0M591.9 744.1h0M593.6 748.6h0M593.6 751.7h0M591.7 746.3h0M588.9 751.5h0M591.8 744.6h0M592.2 748.4h0M591.6 746.3h0M593.8 749.8h0M592.1 744.2h0M592.0 751.9h0M591.1 744.4h0M592.1 744.0h0M593.1 744.6h0M589.3 750.4h0M593.2 749.7h0M590.0 750.3h0M590.0 749.1h0M593.2 748.7h0M590.9 750.2h0M589.5 748.6h0M590.6 749.2h0M590.8 744.5h0M588.7 748.8h0M593.7 750.0h0M589.9 746.6h0M593.4 745.4h0M592.3 750.1h0M590.7 744.8h0M594.3 748.4h0M592.8 745.1h0M589.4 747.4h0M591.7 750.7h0M591.2 746.5h0M590.4 747.1h0M590.5 751.8h0M591.3 745.9h0M591.5 747.2h0" stroke="#8acd6b" stroke-width="2.7" stroke-linecap="round"/><path d="M591.1 745.2h0M589.1 750.3h0M593.0 747.4h0M594.1 748.2h0M590.3 747.7h0M591.6 746.5h0M591.6 751.4h0M591.9 749.7h0M590.9 748.9h0M591.1 747.7h0M590.5 747.5h0M591.1 746.9h0M590.4 747.7h0M590.4 747.6h0M591.4 749.6h0M591.5 747.1h0M591.6 746.1h0M591.9 749.8h0M592.1 748.0h0" stroke="#e4e454" stroke-width="2.7" stroke-linecap="round"/>
<g stroke="#333" stroke-width="1.1" fill="none"><path d="M522.1 662.4 V827.6 H665.3"/>
<path d="M521.3 827.6 V830.1"/>
<path d="M555.5 827.6 V830.1"/>
<path d="M589.6 827.6 V830.1"/>
<path d="M623.7 827.6 V830.1"/>
<path d="M657.9 827.6 V830.1"/>
</g>
<g stroke="#111" stroke-width="1.3" stroke-dasharray="1.3 2.2" fill="none"><path d="M589.6 665.5 V827.6"/><path d="M524.7 749.1 H664"/></g>
<path d="M528.1 739.6 L658.7 759.6" stroke="#c0655c" stroke-width="2"/>
<text x="515.3" y="669.7" font-size="9.5" fill="#222" font-weight="normal" text-anchor="end">5.0</text>
<text x="515.3" y="708.3" font-size="9.5" fill="#222" font-weight="normal" text-anchor="end">2.5</text>
<text x="515.3" y="747.2" font-size="9.5" fill="#222" font-weight="normal" text-anchor="end">0.0</text>
<text x="515.3" y="785.9" font-size="9.5" fill="#222" font-weight="normal" text-anchor="end">-2.5</text>
<text x="515.3" y="823.9" font-size="9.5" fill="#222" font-weight="normal" text-anchor="end">-5.0</text>
<text x="520.3" y="842.6" font-size="9.5" fill="#222" font-weight="normal" text-anchor="middle">-6</text>
<text x="554.5" y="842.6" font-size="9.5" fill="#222" font-weight="normal" text-anchor="middle">-3</text>
<text x="588.6" y="842.6" font-size="9.5" fill="#222" font-weight="normal" text-anchor="middle">0</text>
<text x="622.7" y="842.6" font-size="9.5" fill="#222" font-weight="normal" text-anchor="middle">3</text>
<text x="656.9" y="842.6" font-size="9.5" fill="#222" font-weight="normal" text-anchor="middle">6</text>
<rect x="652.7" y="666.8" width="7.8" height="51.8" fill="url(#vir)"/>
<g stroke="#fff" stroke-width="0.8"><path d="M652.7 678.5h1.6M658.9 678.5h1.6M652.7 692h1.6M658.9 692h1.6M652.7 705.2h1.6M658.9 705.2h1.6"/></g>
<text x="667.9" y="676.6" font-size="9" fill="#222" font-weight="normal" text-anchor="start">0.6</text>
<text x="667.9" y="691" font-size="9" fill="#222" font-weight="normal" text-anchor="start">0.4</text>
<text x="667.9" y="705.5" font-size="9" fill="#222" font-weight="normal" text-anchor="start">0.2</text>
<text x="655.8" y="658.7" font-size="8.8" fill="#222" font-weight="normal" text-anchor="start">density</text>
<text x="492.4" y="798" font-size="9.6" fill="#111" transform="rotate(-90 492.4 798)" textLength="102.4" lengthAdjust="spacingAndGlyphs">Log<tspan font-size="6.5" dy="2">2</tspan><tspan dy="-2">FC Kdm6b OE vs WT</tspan></text>
<text x="539.6" y="860.8" font-size="9.6" fill="#111" textLength="117" lengthAdjust="spacingAndGlyphs">Log<tspan font-size="6.5" dy="2">2</tspan><tspan dy="-2">FC Ezhip matKO vs WT</tspan></text>
</svg></body></html>
